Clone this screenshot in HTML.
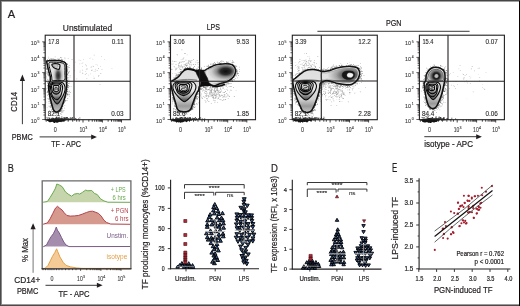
<!DOCTYPE html>
<html><head><meta charset="utf-8"><style>
html,body{margin:0;padding:0;background:#fff;}
svg{display:block;font-family:"Liberation Sans", sans-serif;will-change:transform;}
</style></head><body>
<svg width="520" height="306" viewBox="0 0 520 306">
<defs>
<linearGradient id="lg1" gradientUnits="userSpaceOnUse" x1="0" y1="61" x2="0" y2="112"><stop offset="0" stop-color="#f0f0f0"/><stop offset="0.42" stop-color="#ececec"/><stop offset="0.62" stop-color="#d0d0d0"/><stop offset="0.85" stop-color="#9a9a9a"/><stop offset="1" stop-color="#c0c0c0"/></linearGradient>
<radialGradient id="rg2" gradientUnits="userSpaceOnUse" cx="58.2" cy="75.5" r="9" gradientTransform="translate(58.2 75.5) scale(0.6 1.25) translate(-58.2 -75.5)"><stop offset="0" stop-color="#262626"/><stop offset="0.3" stop-color="#4a4a4a"/><stop offset="0.65" stop-color="#b8b8b8"/><stop offset="1" stop-color="#e2e2e2"/></radialGradient>
<linearGradient id="lg3" gradientUnits="userSpaceOnUse" x1="0" y1="82.0" x2="0" y2="104.0"><stop offset="0" stop-color="#f0f0f0"/><stop offset="0.5" stop-color="#e6e6e6"/><stop offset="0.8" stop-color="#8a8a8a"/><stop offset="1" stop-color="#3a3a3a"/></linearGradient>
<linearGradient id="lg4" gradientUnits="userSpaceOnUse" x1="0" y1="83.0" x2="0" y2="99.8"><stop offset="0" stop-color="#f0f0f0"/><stop offset="0.5" stop-color="#e6e6e6"/><stop offset="0.8" stop-color="#8a8a8a"/><stop offset="1" stop-color="#3a3a3a"/></linearGradient>
<linearGradient id="lg5" gradientUnits="userSpaceOnUse" x1="0" y1="84.0" x2="0" y2="94.2"><stop offset="0" stop-color="#f0f0f0"/><stop offset="0.5" stop-color="#e6e6e6"/><stop offset="0.8" stop-color="#8a8a8a"/><stop offset="1" stop-color="#3a3a3a"/></linearGradient>
<linearGradient id="lg6" gradientUnits="userSpaceOnUse" x1="0" y1="69" x2="0" y2="112"><stop offset="0" stop-color="#dcdcdc"/><stop offset="0.35" stop-color="#e0e0e0"/><stop offset="0.45" stop-color="#e4e4e4"/><stop offset="0.7" stop-color="#cfcfcf"/><stop offset="0.86" stop-color="#9a9a9a"/><stop offset="1" stop-color="#c4c4c4"/></linearGradient>
<radialGradient id="rg7" gradientUnits="userSpaceOnUse" cx="225.7" cy="71.3" r="16" gradientTransform="translate(225.7 71.3) scale(1.15 0.7) translate(-225.7 -71.3)"><stop offset="0" stop-color="#0e0e0e"/><stop offset="0.28" stop-color="#2a2a2a"/><stop offset="0.5" stop-color="#8a8a8a"/><stop offset="0.75" stop-color="#c8c8c8"/><stop offset="1" stop-color="#e2e2e2"/></radialGradient>
<linearGradient id="lg8" gradientUnits="userSpaceOnUse" x1="0" y1="81.2" x2="0" y2="101.7"><stop offset="0" stop-color="#f0f0f0"/><stop offset="0.5" stop-color="#e6e6e6"/><stop offset="0.8" stop-color="#8a8a8a"/><stop offset="1" stop-color="#3a3a3a"/></linearGradient>
<linearGradient id="lg9" gradientUnits="userSpaceOnUse" x1="0" y1="81.7" x2="0" y2="95.6"><stop offset="0" stop-color="#f0f0f0"/><stop offset="0.5" stop-color="#e6e6e6"/><stop offset="0.8" stop-color="#8a8a8a"/><stop offset="1" stop-color="#3a3a3a"/></linearGradient>
<linearGradient id="lg10" gradientUnits="userSpaceOnUse" x1="0" y1="82.8" x2="0" y2="93.3"><stop offset="0" stop-color="#f0f0f0"/><stop offset="0.5" stop-color="#e6e6e6"/><stop offset="0.8" stop-color="#8a8a8a"/><stop offset="1" stop-color="#3a3a3a"/></linearGradient>
<linearGradient id="lg11" gradientUnits="userSpaceOnUse" x1="0" y1="67" x2="0" y2="112"><stop offset="0" stop-color="#dedede"/><stop offset="0.35" stop-color="#e2e2e2"/><stop offset="0.45" stop-color="#e4e4e4"/><stop offset="0.72" stop-color="#cfcfcf"/><stop offset="0.87" stop-color="#9a9a9a"/><stop offset="1" stop-color="#c4c4c4"/></linearGradient>
<radialGradient id="rg12" gradientUnits="userSpaceOnUse" cx="349.2" cy="75.1" r="22" gradientTransform="translate(349.2 75.1) scale(1.0 0.55) translate(-349.2 -75.1)"><stop offset="0" stop-color="#3a3a3a"/><stop offset="0.3" stop-color="#5a5a5a"/><stop offset="0.6" stop-color="#a6a6a6"/><stop offset="1" stop-color="#e4e4e4"/></radialGradient>
<linearGradient id="lg13" gradientUnits="userSpaceOnUse" x1="0" y1="80.8" x2="0" y2="100.0"><stop offset="0" stop-color="#f0f0f0"/><stop offset="0.5" stop-color="#e6e6e6"/><stop offset="0.8" stop-color="#8a8a8a"/><stop offset="1" stop-color="#3a3a3a"/></linearGradient>
<linearGradient id="lg14" gradientUnits="userSpaceOnUse" x1="0" y1="81.6" x2="0" y2="94.6"><stop offset="0" stop-color="#f0f0f0"/><stop offset="0.5" stop-color="#e6e6e6"/><stop offset="0.8" stop-color="#8a8a8a"/><stop offset="1" stop-color="#3a3a3a"/></linearGradient>
<linearGradient id="lg15" gradientUnits="userSpaceOnUse" x1="0" y1="82.6" x2="0" y2="91.8"><stop offset="0" stop-color="#f0f0f0"/><stop offset="0.5" stop-color="#e6e6e6"/><stop offset="0.8" stop-color="#8a8a8a"/><stop offset="1" stop-color="#3a3a3a"/></linearGradient>
<linearGradient id="lg16" gradientUnits="userSpaceOnUse" x1="0" y1="67" x2="0" y2="109"><stop offset="0" stop-color="#e0e0e0"/><stop offset="0.3" stop-color="#c8c8c8"/><stop offset="0.4" stop-color="#dcdcdc"/><stop offset="0.7" stop-color="#cdcdcd"/><stop offset="0.87" stop-color="#9a9a9a"/><stop offset="1" stop-color="#c4c4c4"/></linearGradient>
<radialGradient id="rg17" gradientUnits="userSpaceOnUse" cx="436.2" cy="76" r="8"><stop offset="0" stop-color="#9a9a9a"/><stop offset="0.5" stop-color="#4a4a4a"/><stop offset="0.75" stop-color="#8a8a8a"/><stop offset="1" stop-color="#d6d6d6"/></radialGradient>
<linearGradient id="lg18" gradientUnits="userSpaceOnUse" x1="0" y1="82.0" x2="0" y2="99.6"><stop offset="0" stop-color="#f0f0f0"/><stop offset="0.5" stop-color="#e6e6e6"/><stop offset="0.8" stop-color="#8a8a8a"/><stop offset="1" stop-color="#3a3a3a"/></linearGradient>
<linearGradient id="lg19" gradientUnits="userSpaceOnUse" x1="0" y1="82.7" x2="0" y2="96.8"><stop offset="0" stop-color="#f0f0f0"/><stop offset="0.5" stop-color="#e6e6e6"/><stop offset="0.8" stop-color="#8a8a8a"/><stop offset="1" stop-color="#3a3a3a"/></linearGradient>
<linearGradient id="lg20" gradientUnits="userSpaceOnUse" x1="0" y1="84.2" x2="0" y2="93.8"><stop offset="0" stop-color="#f0f0f0"/><stop offset="0.5" stop-color="#e6e6e6"/><stop offset="0.8" stop-color="#8a8a8a"/><stop offset="1" stop-color="#3a3a3a"/></linearGradient>
<filter id="blur1" x="-50%" y="-50%" width="200%" height="200%"><feGaussianBlur stdDeviation="1.2"/></filter>
</defs>
<rect x="0" y="0" width="520" height="306" fill="#fff"/>
<text x="7.7" y="17.6" font-size="11.4" text-anchor="start" fill="#231f20" stroke="#231f20" stroke-width="0.2" textLength="7.4" lengthAdjust="spacingAndGlyphs">A</text>
<text x="62.8" y="30.8" font-size="9.2" text-anchor="start" fill="#231f20" stroke="#231f20" stroke-width="0.2" textLength="49.4" lengthAdjust="spacingAndGlyphs">Unstimulated</text>
<text x="206.7" y="30.4" font-size="8.6" text-anchor="start" fill="#231f20" stroke="#231f20" stroke-width="0.2" textLength="13.3" lengthAdjust="spacingAndGlyphs">LPS</text>
<text x="386" y="26" font-size="8.2" text-anchor="start" fill="#231f20" stroke="#231f20" stroke-width="0.2" textLength="15.5" lengthAdjust="spacingAndGlyphs">PGN</text>
<line x1="317.4" y1="31.3" x2="469.6" y2="31.3" stroke="#3a3a3a" stroke-width="1"/>
<text x="36.8" y="122.8" font-size="6.2" text-anchor="end" fill="#333" stroke="#333" stroke-width="0.08" textLength="6.0" lengthAdjust="spacingAndGlyphs">10</text>
<text x="37.5" y="120.2" font-size="3.4" text-anchor="start" fill="#333" stroke="#333" stroke-width="0.1">0</text>
<text x="36.8" y="107.6" font-size="6.2" text-anchor="end" fill="#333" stroke="#333" stroke-width="0.08" textLength="6.0" lengthAdjust="spacingAndGlyphs">10</text>
<text x="37.5" y="105.0" font-size="3.4" text-anchor="start" fill="#333" stroke="#333" stroke-width="0.1">1</text>
<text x="36.8" y="91.6" font-size="6.2" text-anchor="end" fill="#333" stroke="#333" stroke-width="0.08" textLength="6.0" lengthAdjust="spacingAndGlyphs">10</text>
<text x="37.5" y="89.0" font-size="3.4" text-anchor="start" fill="#333" stroke="#333" stroke-width="0.1">2</text>
<text x="36.8" y="76.7" font-size="6.2" text-anchor="end" fill="#333" stroke="#333" stroke-width="0.08" textLength="6.0" lengthAdjust="spacingAndGlyphs">10</text>
<text x="37.5" y="74.1" font-size="3.4" text-anchor="start" fill="#333" stroke="#333" stroke-width="0.1">3</text>
<text x="36.8" y="60.8" font-size="6.2" text-anchor="end" fill="#333" stroke="#333" stroke-width="0.08" textLength="6.0" lengthAdjust="spacingAndGlyphs">10</text>
<text x="37.5" y="58.2" font-size="3.4" text-anchor="start" fill="#333" stroke="#333" stroke-width="0.1">4</text>
<text x="36.8" y="45.3" font-size="6.2" text-anchor="end" fill="#333" stroke="#333" stroke-width="0.08" textLength="6.0" lengthAdjust="spacingAndGlyphs">10</text>
<text x="37.5" y="42.7" font-size="3.4" text-anchor="start" fill="#333" stroke="#333" stroke-width="0.1">5</text>
<line x1="42.2" y1="119.5" x2="45.2" y2="119.5" stroke="#231f20" stroke-width="0.7"/>
<line x1="43.400000000000006" y1="115.01" x2="45.2" y2="115.01" stroke="#231f20" stroke-width="0.7"/>
<line x1="43.400000000000006" y1="112.39" x2="45.2" y2="112.39" stroke="#231f20" stroke-width="0.7"/>
<line x1="43.400000000000006" y1="110.53" x2="45.2" y2="110.53" stroke="#231f20" stroke-width="0.7"/>
<line x1="43.400000000000006" y1="109.09" x2="45.2" y2="109.09" stroke="#231f20" stroke-width="0.7"/>
<line x1="43.400000000000006" y1="107.91" x2="45.2" y2="107.91" stroke="#231f20" stroke-width="0.7"/>
<line x1="43.400000000000006" y1="106.91" x2="45.2" y2="106.91" stroke="#231f20" stroke-width="0.7"/>
<line x1="43.400000000000006" y1="106.04" x2="45.2" y2="106.04" stroke="#231f20" stroke-width="0.7"/>
<line x1="43.400000000000006" y1="105.28" x2="45.2" y2="105.28" stroke="#231f20" stroke-width="0.7"/>
<line x1="42.2" y1="104.6" x2="45.2" y2="104.6" stroke="#231f20" stroke-width="0.7"/>
<line x1="43.400000000000006" y1="99.75" x2="45.2" y2="99.75" stroke="#231f20" stroke-width="0.7"/>
<line x1="43.400000000000006" y1="96.92" x2="45.2" y2="96.92" stroke="#231f20" stroke-width="0.7"/>
<line x1="43.400000000000006" y1="94.91" x2="45.2" y2="94.91" stroke="#231f20" stroke-width="0.7"/>
<line x1="43.400000000000006" y1="93.35" x2="45.2" y2="93.35" stroke="#231f20" stroke-width="0.7"/>
<line x1="43.400000000000006" y1="92.07" x2="45.2" y2="92.07" stroke="#231f20" stroke-width="0.7"/>
<line x1="43.400000000000006" y1="90.99" x2="45.2" y2="90.99" stroke="#231f20" stroke-width="0.7"/>
<line x1="43.400000000000006" y1="90.06" x2="45.2" y2="90.06" stroke="#231f20" stroke-width="0.7"/>
<line x1="43.400000000000006" y1="89.24" x2="45.2" y2="89.24" stroke="#231f20" stroke-width="0.7"/>
<line x1="42.2" y1="88.5" x2="45.2" y2="88.5" stroke="#231f20" stroke-width="0.7"/>
<line x1="43.400000000000006" y1="83.71" x2="45.2" y2="83.71" stroke="#231f20" stroke-width="0.7"/>
<line x1="43.400000000000006" y1="80.91" x2="45.2" y2="80.91" stroke="#231f20" stroke-width="0.7"/>
<line x1="43.400000000000006" y1="78.93" x2="45.2" y2="78.93" stroke="#231f20" stroke-width="0.7"/>
<line x1="43.400000000000006" y1="77.39" x2="45.2" y2="77.39" stroke="#231f20" stroke-width="0.7"/>
<line x1="43.400000000000006" y1="76.13" x2="45.2" y2="76.13" stroke="#231f20" stroke-width="0.7"/>
<line x1="43.400000000000006" y1="75.06" x2="45.2" y2="75.06" stroke="#231f20" stroke-width="0.7"/>
<line x1="43.400000000000006" y1="74.14" x2="45.2" y2="74.14" stroke="#231f20" stroke-width="0.7"/>
<line x1="43.400000000000006" y1="73.33" x2="45.2" y2="73.33" stroke="#231f20" stroke-width="0.7"/>
<line x1="42.2" y1="72.6" x2="45.2" y2="72.6" stroke="#231f20" stroke-width="0.7"/>
<line x1="43.400000000000006" y1="68.02" x2="45.2" y2="68.02" stroke="#231f20" stroke-width="0.7"/>
<line x1="43.400000000000006" y1="65.35" x2="45.2" y2="65.35" stroke="#231f20" stroke-width="0.7"/>
<line x1="43.400000000000006" y1="63.45" x2="45.2" y2="63.45" stroke="#231f20" stroke-width="0.7"/>
<line x1="43.400000000000006" y1="61.98" x2="45.2" y2="61.98" stroke="#231f20" stroke-width="0.7"/>
<line x1="43.400000000000006" y1="60.77" x2="45.2" y2="60.77" stroke="#231f20" stroke-width="0.7"/>
<line x1="43.400000000000006" y1="59.75" x2="45.2" y2="59.75" stroke="#231f20" stroke-width="0.7"/>
<line x1="43.400000000000006" y1="58.87" x2="45.2" y2="58.87" stroke="#231f20" stroke-width="0.7"/>
<line x1="43.400000000000006" y1="58.1" x2="45.2" y2="58.1" stroke="#231f20" stroke-width="0.7"/>
<line x1="42.2" y1="57.4" x2="45.2" y2="57.4" stroke="#231f20" stroke-width="0.7"/>
<line x1="43.400000000000006" y1="52.7" x2="45.2" y2="52.7" stroke="#231f20" stroke-width="0.7"/>
<line x1="43.400000000000006" y1="49.96" x2="45.2" y2="49.96" stroke="#231f20" stroke-width="0.7"/>
<line x1="43.400000000000006" y1="48.01" x2="45.2" y2="48.01" stroke="#231f20" stroke-width="0.7"/>
<line x1="43.400000000000006" y1="46.5" x2="45.2" y2="46.5" stroke="#231f20" stroke-width="0.7"/>
<line x1="43.400000000000006" y1="45.26" x2="45.2" y2="45.26" stroke="#231f20" stroke-width="0.7"/>
<line x1="43.400000000000006" y1="44.22" x2="45.2" y2="44.22" stroke="#231f20" stroke-width="0.7"/>
<line x1="43.400000000000006" y1="43.31" x2="45.2" y2="43.31" stroke="#231f20" stroke-width="0.7"/>
<line x1="43.400000000000006" y1="42.51" x2="45.2" y2="42.51" stroke="#231f20" stroke-width="0.7"/>
<line x1="42.2" y1="41.8" x2="45.2" y2="41.8" stroke="#231f20" stroke-width="0.7"/>
<line x1="83.0" y1="119.7" x2="83.0" y2="122.5" stroke="#231f20" stroke-width="0.85"/>
<line x1="88.84" y1="119.7" x2="88.84" y2="121.7" stroke="#231f20" stroke-width="0.85"/>
<line x1="92.26" y1="119.7" x2="92.26" y2="121.7" stroke="#231f20" stroke-width="0.85"/>
<line x1="94.68" y1="119.7" x2="94.68" y2="121.7" stroke="#231f20" stroke-width="0.85"/>
<line x1="96.56" y1="119.7" x2="96.56" y2="121.7" stroke="#231f20" stroke-width="0.85"/>
<line x1="98.1" y1="119.7" x2="98.1" y2="121.7" stroke="#231f20" stroke-width="0.85"/>
<line x1="99.39" y1="119.7" x2="99.39" y2="121.7" stroke="#231f20" stroke-width="0.85"/>
<line x1="100.52" y1="119.7" x2="100.52" y2="121.7" stroke="#231f20" stroke-width="0.85"/>
<line x1="101.51" y1="119.7" x2="101.51" y2="121.7" stroke="#231f20" stroke-width="0.85"/>
<line x1="102.4" y1="119.7" x2="102.4" y2="122.5" stroke="#231f20" stroke-width="0.85"/>
<line x1="108.15" y1="119.7" x2="108.15" y2="121.7" stroke="#231f20" stroke-width="0.85"/>
<line x1="111.51" y1="119.7" x2="111.51" y2="121.7" stroke="#231f20" stroke-width="0.85"/>
<line x1="113.9" y1="119.7" x2="113.9" y2="121.7" stroke="#231f20" stroke-width="0.85"/>
<line x1="115.75" y1="119.7" x2="115.75" y2="121.7" stroke="#231f20" stroke-width="0.85"/>
<line x1="117.26" y1="119.7" x2="117.26" y2="121.7" stroke="#231f20" stroke-width="0.85"/>
<line x1="118.54" y1="119.7" x2="118.54" y2="121.7" stroke="#231f20" stroke-width="0.85"/>
<line x1="119.65" y1="119.7" x2="119.65" y2="121.7" stroke="#231f20" stroke-width="0.85"/>
<line x1="120.63" y1="119.7" x2="120.63" y2="121.7" stroke="#231f20" stroke-width="0.85"/>
<line x1="121.5" y1="119.7" x2="121.5" y2="122.5" stroke="#231f20" stroke-width="0.85"/>
<line x1="46.2" y1="119.7" x2="46.2" y2="121.7" stroke="#231f20" stroke-width="0.85"/>
<line x1="48.7" y1="119.7" x2="48.7" y2="121.7" stroke="#231f20" stroke-width="0.85"/>
<line x1="51.7" y1="119.7" x2="51.7" y2="121.7" stroke="#231f20" stroke-width="0.85"/>
<line x1="54.7" y1="119.7" x2="54.7" y2="121.7" stroke="#231f20" stroke-width="0.85"/>
<line x1="57.7" y1="119.7" x2="57.7" y2="121.7" stroke="#231f20" stroke-width="0.85"/>
<line x1="60.7" y1="119.7" x2="60.7" y2="121.7" stroke="#231f20" stroke-width="0.85"/>
<line x1="64.2" y1="119.7" x2="64.2" y2="121.7" stroke="#231f20" stroke-width="0.85"/>
<line x1="68.2" y1="119.7" x2="68.2" y2="121.7" stroke="#231f20" stroke-width="0.85"/>
<line x1="72.7" y1="119.7" x2="72.7" y2="121.7" stroke="#231f20" stroke-width="0.85"/>
<line x1="76.7" y1="119.7" x2="76.7" y2="121.7" stroke="#231f20" stroke-width="0.85"/>
<line x1="79.2" y1="119.7" x2="79.2" y2="121.7" stroke="#231f20" stroke-width="0.85"/>
<text x="55.3" y="132.3" font-size="6.6" text-anchor="middle" fill="#333" stroke="#333" stroke-width="0.08" textLength="3.0" lengthAdjust="spacingAndGlyphs">0</text>
<text x="82.3" y="132.3" font-size="6.6" text-anchor="middle" fill="#333" stroke="#333" stroke-width="0.08" textLength="5.6" lengthAdjust="spacingAndGlyphs">10</text>
<text x="85.3" y="128.6" font-size="3.6" text-anchor="start" fill="#333" stroke="#333" stroke-width="0.1">3</text>
<text x="101.7" y="132.3" font-size="6.6" text-anchor="middle" fill="#333" stroke="#333" stroke-width="0.08" textLength="5.6" lengthAdjust="spacingAndGlyphs">10</text>
<text x="104.7" y="128.6" font-size="3.6" text-anchor="start" fill="#333" stroke="#333" stroke-width="0.1">4</text>
<text x="120.8" y="132.3" font-size="6.6" text-anchor="middle" fill="#333" stroke="#333" stroke-width="0.08" textLength="5.6" lengthAdjust="spacingAndGlyphs">10</text>
<text x="123.8" y="128.6" font-size="3.6" text-anchor="start" fill="#333" stroke="#333" stroke-width="0.1">5</text>
<text x="162.1" y="122.8" font-size="6.2" text-anchor="end" fill="#333" stroke="#333" stroke-width="0.08" textLength="6.0" lengthAdjust="spacingAndGlyphs">10</text>
<text x="162.8" y="120.2" font-size="3.4" text-anchor="start" fill="#333" stroke="#333" stroke-width="0.1">0</text>
<text x="162.1" y="107.6" font-size="6.2" text-anchor="end" fill="#333" stroke="#333" stroke-width="0.08" textLength="6.0" lengthAdjust="spacingAndGlyphs">10</text>
<text x="162.8" y="105.0" font-size="3.4" text-anchor="start" fill="#333" stroke="#333" stroke-width="0.1">1</text>
<text x="162.1" y="91.6" font-size="6.2" text-anchor="end" fill="#333" stroke="#333" stroke-width="0.08" textLength="6.0" lengthAdjust="spacingAndGlyphs">10</text>
<text x="162.8" y="89.0" font-size="3.4" text-anchor="start" fill="#333" stroke="#333" stroke-width="0.1">2</text>
<text x="162.1" y="76.7" font-size="6.2" text-anchor="end" fill="#333" stroke="#333" stroke-width="0.08" textLength="6.0" lengthAdjust="spacingAndGlyphs">10</text>
<text x="162.8" y="74.1" font-size="3.4" text-anchor="start" fill="#333" stroke="#333" stroke-width="0.1">3</text>
<text x="162.1" y="60.8" font-size="6.2" text-anchor="end" fill="#333" stroke="#333" stroke-width="0.08" textLength="6.0" lengthAdjust="spacingAndGlyphs">10</text>
<text x="162.8" y="58.2" font-size="3.4" text-anchor="start" fill="#333" stroke="#333" stroke-width="0.1">4</text>
<text x="162.1" y="45.3" font-size="6.2" text-anchor="end" fill="#333" stroke="#333" stroke-width="0.08" textLength="6.0" lengthAdjust="spacingAndGlyphs">10</text>
<text x="162.8" y="42.7" font-size="3.4" text-anchor="start" fill="#333" stroke="#333" stroke-width="0.1">5</text>
<line x1="167.5" y1="119.5" x2="170.5" y2="119.5" stroke="#231f20" stroke-width="0.7"/>
<line x1="168.7" y1="115.01" x2="170.5" y2="115.01" stroke="#231f20" stroke-width="0.7"/>
<line x1="168.7" y1="112.39" x2="170.5" y2="112.39" stroke="#231f20" stroke-width="0.7"/>
<line x1="168.7" y1="110.53" x2="170.5" y2="110.53" stroke="#231f20" stroke-width="0.7"/>
<line x1="168.7" y1="109.09" x2="170.5" y2="109.09" stroke="#231f20" stroke-width="0.7"/>
<line x1="168.7" y1="107.91" x2="170.5" y2="107.91" stroke="#231f20" stroke-width="0.7"/>
<line x1="168.7" y1="106.91" x2="170.5" y2="106.91" stroke="#231f20" stroke-width="0.7"/>
<line x1="168.7" y1="106.04" x2="170.5" y2="106.04" stroke="#231f20" stroke-width="0.7"/>
<line x1="168.7" y1="105.28" x2="170.5" y2="105.28" stroke="#231f20" stroke-width="0.7"/>
<line x1="167.5" y1="104.6" x2="170.5" y2="104.6" stroke="#231f20" stroke-width="0.7"/>
<line x1="168.7" y1="99.75" x2="170.5" y2="99.75" stroke="#231f20" stroke-width="0.7"/>
<line x1="168.7" y1="96.92" x2="170.5" y2="96.92" stroke="#231f20" stroke-width="0.7"/>
<line x1="168.7" y1="94.91" x2="170.5" y2="94.91" stroke="#231f20" stroke-width="0.7"/>
<line x1="168.7" y1="93.35" x2="170.5" y2="93.35" stroke="#231f20" stroke-width="0.7"/>
<line x1="168.7" y1="92.07" x2="170.5" y2="92.07" stroke="#231f20" stroke-width="0.7"/>
<line x1="168.7" y1="90.99" x2="170.5" y2="90.99" stroke="#231f20" stroke-width="0.7"/>
<line x1="168.7" y1="90.06" x2="170.5" y2="90.06" stroke="#231f20" stroke-width="0.7"/>
<line x1="168.7" y1="89.24" x2="170.5" y2="89.24" stroke="#231f20" stroke-width="0.7"/>
<line x1="167.5" y1="88.5" x2="170.5" y2="88.5" stroke="#231f20" stroke-width="0.7"/>
<line x1="168.7" y1="83.71" x2="170.5" y2="83.71" stroke="#231f20" stroke-width="0.7"/>
<line x1="168.7" y1="80.91" x2="170.5" y2="80.91" stroke="#231f20" stroke-width="0.7"/>
<line x1="168.7" y1="78.93" x2="170.5" y2="78.93" stroke="#231f20" stroke-width="0.7"/>
<line x1="168.7" y1="77.39" x2="170.5" y2="77.39" stroke="#231f20" stroke-width="0.7"/>
<line x1="168.7" y1="76.13" x2="170.5" y2="76.13" stroke="#231f20" stroke-width="0.7"/>
<line x1="168.7" y1="75.06" x2="170.5" y2="75.06" stroke="#231f20" stroke-width="0.7"/>
<line x1="168.7" y1="74.14" x2="170.5" y2="74.14" stroke="#231f20" stroke-width="0.7"/>
<line x1="168.7" y1="73.33" x2="170.5" y2="73.33" stroke="#231f20" stroke-width="0.7"/>
<line x1="167.5" y1="72.6" x2="170.5" y2="72.6" stroke="#231f20" stroke-width="0.7"/>
<line x1="168.7" y1="68.02" x2="170.5" y2="68.02" stroke="#231f20" stroke-width="0.7"/>
<line x1="168.7" y1="65.35" x2="170.5" y2="65.35" stroke="#231f20" stroke-width="0.7"/>
<line x1="168.7" y1="63.45" x2="170.5" y2="63.45" stroke="#231f20" stroke-width="0.7"/>
<line x1="168.7" y1="61.98" x2="170.5" y2="61.98" stroke="#231f20" stroke-width="0.7"/>
<line x1="168.7" y1="60.77" x2="170.5" y2="60.77" stroke="#231f20" stroke-width="0.7"/>
<line x1="168.7" y1="59.75" x2="170.5" y2="59.75" stroke="#231f20" stroke-width="0.7"/>
<line x1="168.7" y1="58.87" x2="170.5" y2="58.87" stroke="#231f20" stroke-width="0.7"/>
<line x1="168.7" y1="58.1" x2="170.5" y2="58.1" stroke="#231f20" stroke-width="0.7"/>
<line x1="167.5" y1="57.4" x2="170.5" y2="57.4" stroke="#231f20" stroke-width="0.7"/>
<line x1="168.7" y1="52.7" x2="170.5" y2="52.7" stroke="#231f20" stroke-width="0.7"/>
<line x1="168.7" y1="49.96" x2="170.5" y2="49.96" stroke="#231f20" stroke-width="0.7"/>
<line x1="168.7" y1="48.01" x2="170.5" y2="48.01" stroke="#231f20" stroke-width="0.7"/>
<line x1="168.7" y1="46.5" x2="170.5" y2="46.5" stroke="#231f20" stroke-width="0.7"/>
<line x1="168.7" y1="45.26" x2="170.5" y2="45.26" stroke="#231f20" stroke-width="0.7"/>
<line x1="168.7" y1="44.22" x2="170.5" y2="44.22" stroke="#231f20" stroke-width="0.7"/>
<line x1="168.7" y1="43.31" x2="170.5" y2="43.31" stroke="#231f20" stroke-width="0.7"/>
<line x1="168.7" y1="42.51" x2="170.5" y2="42.51" stroke="#231f20" stroke-width="0.7"/>
<line x1="167.5" y1="41.8" x2="170.5" y2="41.8" stroke="#231f20" stroke-width="0.7"/>
<line x1="208.3" y1="119.7" x2="208.3" y2="122.5" stroke="#231f20" stroke-width="0.85"/>
<line x1="214.14" y1="119.7" x2="214.14" y2="121.7" stroke="#231f20" stroke-width="0.85"/>
<line x1="217.56" y1="119.7" x2="217.56" y2="121.7" stroke="#231f20" stroke-width="0.85"/>
<line x1="219.98" y1="119.7" x2="219.98" y2="121.7" stroke="#231f20" stroke-width="0.85"/>
<line x1="221.86" y1="119.7" x2="221.86" y2="121.7" stroke="#231f20" stroke-width="0.85"/>
<line x1="223.4" y1="119.7" x2="223.4" y2="121.7" stroke="#231f20" stroke-width="0.85"/>
<line x1="224.69" y1="119.7" x2="224.69" y2="121.7" stroke="#231f20" stroke-width="0.85"/>
<line x1="225.82" y1="119.7" x2="225.82" y2="121.7" stroke="#231f20" stroke-width="0.85"/>
<line x1="226.81" y1="119.7" x2="226.81" y2="121.7" stroke="#231f20" stroke-width="0.85"/>
<line x1="227.7" y1="119.7" x2="227.7" y2="122.5" stroke="#231f20" stroke-width="0.85"/>
<line x1="233.45" y1="119.7" x2="233.45" y2="121.7" stroke="#231f20" stroke-width="0.85"/>
<line x1="236.81" y1="119.7" x2="236.81" y2="121.7" stroke="#231f20" stroke-width="0.85"/>
<line x1="239.2" y1="119.7" x2="239.2" y2="121.7" stroke="#231f20" stroke-width="0.85"/>
<line x1="241.05" y1="119.7" x2="241.05" y2="121.7" stroke="#231f20" stroke-width="0.85"/>
<line x1="242.56" y1="119.7" x2="242.56" y2="121.7" stroke="#231f20" stroke-width="0.85"/>
<line x1="243.84" y1="119.7" x2="243.84" y2="121.7" stroke="#231f20" stroke-width="0.85"/>
<line x1="244.95" y1="119.7" x2="244.95" y2="121.7" stroke="#231f20" stroke-width="0.85"/>
<line x1="245.93" y1="119.7" x2="245.93" y2="121.7" stroke="#231f20" stroke-width="0.85"/>
<line x1="246.8" y1="119.7" x2="246.8" y2="122.5" stroke="#231f20" stroke-width="0.85"/>
<line x1="171.5" y1="119.7" x2="171.5" y2="121.7" stroke="#231f20" stroke-width="0.85"/>
<line x1="174.0" y1="119.7" x2="174.0" y2="121.7" stroke="#231f20" stroke-width="0.85"/>
<line x1="177.0" y1="119.7" x2="177.0" y2="121.7" stroke="#231f20" stroke-width="0.85"/>
<line x1="180.0" y1="119.7" x2="180.0" y2="121.7" stroke="#231f20" stroke-width="0.85"/>
<line x1="183.0" y1="119.7" x2="183.0" y2="121.7" stroke="#231f20" stroke-width="0.85"/>
<line x1="186.0" y1="119.7" x2="186.0" y2="121.7" stroke="#231f20" stroke-width="0.85"/>
<line x1="189.5" y1="119.7" x2="189.5" y2="121.7" stroke="#231f20" stroke-width="0.85"/>
<line x1="193.5" y1="119.7" x2="193.5" y2="121.7" stroke="#231f20" stroke-width="0.85"/>
<line x1="198.0" y1="119.7" x2="198.0" y2="121.7" stroke="#231f20" stroke-width="0.85"/>
<line x1="202.0" y1="119.7" x2="202.0" y2="121.7" stroke="#231f20" stroke-width="0.85"/>
<line x1="204.5" y1="119.7" x2="204.5" y2="121.7" stroke="#231f20" stroke-width="0.85"/>
<text x="180.6" y="132.3" font-size="6.6" text-anchor="middle" fill="#333" stroke="#333" stroke-width="0.08" textLength="3.0" lengthAdjust="spacingAndGlyphs">0</text>
<text x="207.6" y="132.3" font-size="6.6" text-anchor="middle" fill="#333" stroke="#333" stroke-width="0.08" textLength="5.6" lengthAdjust="spacingAndGlyphs">10</text>
<text x="210.6" y="128.6" font-size="3.6" text-anchor="start" fill="#333" stroke="#333" stroke-width="0.1">3</text>
<text x="227.0" y="132.3" font-size="6.6" text-anchor="middle" fill="#333" stroke="#333" stroke-width="0.08" textLength="5.6" lengthAdjust="spacingAndGlyphs">10</text>
<text x="230.0" y="128.6" font-size="3.6" text-anchor="start" fill="#333" stroke="#333" stroke-width="0.1">4</text>
<text x="246.1" y="132.3" font-size="6.6" text-anchor="middle" fill="#333" stroke="#333" stroke-width="0.08" textLength="5.6" lengthAdjust="spacingAndGlyphs">10</text>
<text x="249.1" y="128.6" font-size="3.6" text-anchor="start" fill="#333" stroke="#333" stroke-width="0.1">5</text>
<text x="283.9" y="122.8" font-size="6.2" text-anchor="end" fill="#333" stroke="#333" stroke-width="0.08" textLength="6.0" lengthAdjust="spacingAndGlyphs">10</text>
<text x="284.6" y="120.2" font-size="3.4" text-anchor="start" fill="#333" stroke="#333" stroke-width="0.1">0</text>
<text x="283.9" y="107.6" font-size="6.2" text-anchor="end" fill="#333" stroke="#333" stroke-width="0.08" textLength="6.0" lengthAdjust="spacingAndGlyphs">10</text>
<text x="284.6" y="105.0" font-size="3.4" text-anchor="start" fill="#333" stroke="#333" stroke-width="0.1">1</text>
<text x="283.9" y="91.6" font-size="6.2" text-anchor="end" fill="#333" stroke="#333" stroke-width="0.08" textLength="6.0" lengthAdjust="spacingAndGlyphs">10</text>
<text x="284.6" y="89.0" font-size="3.4" text-anchor="start" fill="#333" stroke="#333" stroke-width="0.1">2</text>
<text x="283.9" y="76.7" font-size="6.2" text-anchor="end" fill="#333" stroke="#333" stroke-width="0.08" textLength="6.0" lengthAdjust="spacingAndGlyphs">10</text>
<text x="284.6" y="74.1" font-size="3.4" text-anchor="start" fill="#333" stroke="#333" stroke-width="0.1">3</text>
<text x="283.9" y="60.8" font-size="6.2" text-anchor="end" fill="#333" stroke="#333" stroke-width="0.08" textLength="6.0" lengthAdjust="spacingAndGlyphs">10</text>
<text x="284.6" y="58.2" font-size="3.4" text-anchor="start" fill="#333" stroke="#333" stroke-width="0.1">4</text>
<text x="283.9" y="45.3" font-size="6.2" text-anchor="end" fill="#333" stroke="#333" stroke-width="0.08" textLength="6.0" lengthAdjust="spacingAndGlyphs">10</text>
<text x="284.6" y="42.7" font-size="3.4" text-anchor="start" fill="#333" stroke="#333" stroke-width="0.1">5</text>
<line x1="289.3" y1="119.5" x2="292.3" y2="119.5" stroke="#231f20" stroke-width="0.7"/>
<line x1="290.5" y1="115.01" x2="292.3" y2="115.01" stroke="#231f20" stroke-width="0.7"/>
<line x1="290.5" y1="112.39" x2="292.3" y2="112.39" stroke="#231f20" stroke-width="0.7"/>
<line x1="290.5" y1="110.53" x2="292.3" y2="110.53" stroke="#231f20" stroke-width="0.7"/>
<line x1="290.5" y1="109.09" x2="292.3" y2="109.09" stroke="#231f20" stroke-width="0.7"/>
<line x1="290.5" y1="107.91" x2="292.3" y2="107.91" stroke="#231f20" stroke-width="0.7"/>
<line x1="290.5" y1="106.91" x2="292.3" y2="106.91" stroke="#231f20" stroke-width="0.7"/>
<line x1="290.5" y1="106.04" x2="292.3" y2="106.04" stroke="#231f20" stroke-width="0.7"/>
<line x1="290.5" y1="105.28" x2="292.3" y2="105.28" stroke="#231f20" stroke-width="0.7"/>
<line x1="289.3" y1="104.6" x2="292.3" y2="104.6" stroke="#231f20" stroke-width="0.7"/>
<line x1="290.5" y1="99.75" x2="292.3" y2="99.75" stroke="#231f20" stroke-width="0.7"/>
<line x1="290.5" y1="96.92" x2="292.3" y2="96.92" stroke="#231f20" stroke-width="0.7"/>
<line x1="290.5" y1="94.91" x2="292.3" y2="94.91" stroke="#231f20" stroke-width="0.7"/>
<line x1="290.5" y1="93.35" x2="292.3" y2="93.35" stroke="#231f20" stroke-width="0.7"/>
<line x1="290.5" y1="92.07" x2="292.3" y2="92.07" stroke="#231f20" stroke-width="0.7"/>
<line x1="290.5" y1="90.99" x2="292.3" y2="90.99" stroke="#231f20" stroke-width="0.7"/>
<line x1="290.5" y1="90.06" x2="292.3" y2="90.06" stroke="#231f20" stroke-width="0.7"/>
<line x1="290.5" y1="89.24" x2="292.3" y2="89.24" stroke="#231f20" stroke-width="0.7"/>
<line x1="289.3" y1="88.5" x2="292.3" y2="88.5" stroke="#231f20" stroke-width="0.7"/>
<line x1="290.5" y1="83.71" x2="292.3" y2="83.71" stroke="#231f20" stroke-width="0.7"/>
<line x1="290.5" y1="80.91" x2="292.3" y2="80.91" stroke="#231f20" stroke-width="0.7"/>
<line x1="290.5" y1="78.93" x2="292.3" y2="78.93" stroke="#231f20" stroke-width="0.7"/>
<line x1="290.5" y1="77.39" x2="292.3" y2="77.39" stroke="#231f20" stroke-width="0.7"/>
<line x1="290.5" y1="76.13" x2="292.3" y2="76.13" stroke="#231f20" stroke-width="0.7"/>
<line x1="290.5" y1="75.06" x2="292.3" y2="75.06" stroke="#231f20" stroke-width="0.7"/>
<line x1="290.5" y1="74.14" x2="292.3" y2="74.14" stroke="#231f20" stroke-width="0.7"/>
<line x1="290.5" y1="73.33" x2="292.3" y2="73.33" stroke="#231f20" stroke-width="0.7"/>
<line x1="289.3" y1="72.6" x2="292.3" y2="72.6" stroke="#231f20" stroke-width="0.7"/>
<line x1="290.5" y1="68.02" x2="292.3" y2="68.02" stroke="#231f20" stroke-width="0.7"/>
<line x1="290.5" y1="65.35" x2="292.3" y2="65.35" stroke="#231f20" stroke-width="0.7"/>
<line x1="290.5" y1="63.45" x2="292.3" y2="63.45" stroke="#231f20" stroke-width="0.7"/>
<line x1="290.5" y1="61.98" x2="292.3" y2="61.98" stroke="#231f20" stroke-width="0.7"/>
<line x1="290.5" y1="60.77" x2="292.3" y2="60.77" stroke="#231f20" stroke-width="0.7"/>
<line x1="290.5" y1="59.75" x2="292.3" y2="59.75" stroke="#231f20" stroke-width="0.7"/>
<line x1="290.5" y1="58.87" x2="292.3" y2="58.87" stroke="#231f20" stroke-width="0.7"/>
<line x1="290.5" y1="58.1" x2="292.3" y2="58.1" stroke="#231f20" stroke-width="0.7"/>
<line x1="289.3" y1="57.4" x2="292.3" y2="57.4" stroke="#231f20" stroke-width="0.7"/>
<line x1="290.5" y1="52.7" x2="292.3" y2="52.7" stroke="#231f20" stroke-width="0.7"/>
<line x1="290.5" y1="49.96" x2="292.3" y2="49.96" stroke="#231f20" stroke-width="0.7"/>
<line x1="290.5" y1="48.01" x2="292.3" y2="48.01" stroke="#231f20" stroke-width="0.7"/>
<line x1="290.5" y1="46.5" x2="292.3" y2="46.5" stroke="#231f20" stroke-width="0.7"/>
<line x1="290.5" y1="45.26" x2="292.3" y2="45.26" stroke="#231f20" stroke-width="0.7"/>
<line x1="290.5" y1="44.22" x2="292.3" y2="44.22" stroke="#231f20" stroke-width="0.7"/>
<line x1="290.5" y1="43.31" x2="292.3" y2="43.31" stroke="#231f20" stroke-width="0.7"/>
<line x1="290.5" y1="42.51" x2="292.3" y2="42.51" stroke="#231f20" stroke-width="0.7"/>
<line x1="289.3" y1="41.8" x2="292.3" y2="41.8" stroke="#231f20" stroke-width="0.7"/>
<line x1="330.1" y1="119.7" x2="330.1" y2="122.5" stroke="#231f20" stroke-width="0.85"/>
<line x1="335.94" y1="119.7" x2="335.94" y2="121.7" stroke="#231f20" stroke-width="0.85"/>
<line x1="339.36" y1="119.7" x2="339.36" y2="121.7" stroke="#231f20" stroke-width="0.85"/>
<line x1="341.78" y1="119.7" x2="341.78" y2="121.7" stroke="#231f20" stroke-width="0.85"/>
<line x1="343.66" y1="119.7" x2="343.66" y2="121.7" stroke="#231f20" stroke-width="0.85"/>
<line x1="345.2" y1="119.7" x2="345.2" y2="121.7" stroke="#231f20" stroke-width="0.85"/>
<line x1="346.49" y1="119.7" x2="346.49" y2="121.7" stroke="#231f20" stroke-width="0.85"/>
<line x1="347.62" y1="119.7" x2="347.62" y2="121.7" stroke="#231f20" stroke-width="0.85"/>
<line x1="348.61" y1="119.7" x2="348.61" y2="121.7" stroke="#231f20" stroke-width="0.85"/>
<line x1="349.5" y1="119.7" x2="349.5" y2="122.5" stroke="#231f20" stroke-width="0.85"/>
<line x1="355.25" y1="119.7" x2="355.25" y2="121.7" stroke="#231f20" stroke-width="0.85"/>
<line x1="358.61" y1="119.7" x2="358.61" y2="121.7" stroke="#231f20" stroke-width="0.85"/>
<line x1="361.0" y1="119.7" x2="361.0" y2="121.7" stroke="#231f20" stroke-width="0.85"/>
<line x1="362.85" y1="119.7" x2="362.85" y2="121.7" stroke="#231f20" stroke-width="0.85"/>
<line x1="364.36" y1="119.7" x2="364.36" y2="121.7" stroke="#231f20" stroke-width="0.85"/>
<line x1="365.64" y1="119.7" x2="365.64" y2="121.7" stroke="#231f20" stroke-width="0.85"/>
<line x1="366.75" y1="119.7" x2="366.75" y2="121.7" stroke="#231f20" stroke-width="0.85"/>
<line x1="367.73" y1="119.7" x2="367.73" y2="121.7" stroke="#231f20" stroke-width="0.85"/>
<line x1="368.6" y1="119.7" x2="368.6" y2="122.5" stroke="#231f20" stroke-width="0.85"/>
<line x1="293.3" y1="119.7" x2="293.3" y2="121.7" stroke="#231f20" stroke-width="0.85"/>
<line x1="295.8" y1="119.7" x2="295.8" y2="121.7" stroke="#231f20" stroke-width="0.85"/>
<line x1="298.8" y1="119.7" x2="298.8" y2="121.7" stroke="#231f20" stroke-width="0.85"/>
<line x1="301.8" y1="119.7" x2="301.8" y2="121.7" stroke="#231f20" stroke-width="0.85"/>
<line x1="304.8" y1="119.7" x2="304.8" y2="121.7" stroke="#231f20" stroke-width="0.85"/>
<line x1="307.8" y1="119.7" x2="307.8" y2="121.7" stroke="#231f20" stroke-width="0.85"/>
<line x1="311.3" y1="119.7" x2="311.3" y2="121.7" stroke="#231f20" stroke-width="0.85"/>
<line x1="315.3" y1="119.7" x2="315.3" y2="121.7" stroke="#231f20" stroke-width="0.85"/>
<line x1="319.8" y1="119.7" x2="319.8" y2="121.7" stroke="#231f20" stroke-width="0.85"/>
<line x1="323.8" y1="119.7" x2="323.8" y2="121.7" stroke="#231f20" stroke-width="0.85"/>
<line x1="326.3" y1="119.7" x2="326.3" y2="121.7" stroke="#231f20" stroke-width="0.85"/>
<text x="302.4" y="132.3" font-size="6.6" text-anchor="middle" fill="#333" stroke="#333" stroke-width="0.08" textLength="3.0" lengthAdjust="spacingAndGlyphs">0</text>
<text x="329.4" y="132.3" font-size="6.6" text-anchor="middle" fill="#333" stroke="#333" stroke-width="0.08" textLength="5.6" lengthAdjust="spacingAndGlyphs">10</text>
<text x="332.4" y="128.6" font-size="3.6" text-anchor="start" fill="#333" stroke="#333" stroke-width="0.1">3</text>
<text x="348.8" y="132.3" font-size="6.6" text-anchor="middle" fill="#333" stroke="#333" stroke-width="0.08" textLength="5.6" lengthAdjust="spacingAndGlyphs">10</text>
<text x="351.8" y="128.6" font-size="3.6" text-anchor="start" fill="#333" stroke="#333" stroke-width="0.1">4</text>
<text x="367.9" y="132.3" font-size="6.6" text-anchor="middle" fill="#333" stroke="#333" stroke-width="0.08" textLength="5.6" lengthAdjust="spacingAndGlyphs">10</text>
<text x="370.9" y="128.6" font-size="3.6" text-anchor="start" fill="#333" stroke="#333" stroke-width="0.1">5</text>
<text x="411.0" y="122.8" font-size="6.2" text-anchor="end" fill="#333" stroke="#333" stroke-width="0.08" textLength="6.0" lengthAdjust="spacingAndGlyphs">10</text>
<text x="411.7" y="120.2" font-size="3.4" text-anchor="start" fill="#333" stroke="#333" stroke-width="0.1">0</text>
<text x="411.0" y="107.6" font-size="6.2" text-anchor="end" fill="#333" stroke="#333" stroke-width="0.08" textLength="6.0" lengthAdjust="spacingAndGlyphs">10</text>
<text x="411.7" y="105.0" font-size="3.4" text-anchor="start" fill="#333" stroke="#333" stroke-width="0.1">1</text>
<text x="411.0" y="91.6" font-size="6.2" text-anchor="end" fill="#333" stroke="#333" stroke-width="0.08" textLength="6.0" lengthAdjust="spacingAndGlyphs">10</text>
<text x="411.7" y="89.0" font-size="3.4" text-anchor="start" fill="#333" stroke="#333" stroke-width="0.1">2</text>
<text x="411.0" y="76.7" font-size="6.2" text-anchor="end" fill="#333" stroke="#333" stroke-width="0.08" textLength="6.0" lengthAdjust="spacingAndGlyphs">10</text>
<text x="411.7" y="74.1" font-size="3.4" text-anchor="start" fill="#333" stroke="#333" stroke-width="0.1">3</text>
<text x="411.0" y="60.8" font-size="6.2" text-anchor="end" fill="#333" stroke="#333" stroke-width="0.08" textLength="6.0" lengthAdjust="spacingAndGlyphs">10</text>
<text x="411.7" y="58.2" font-size="3.4" text-anchor="start" fill="#333" stroke="#333" stroke-width="0.1">4</text>
<text x="411.0" y="45.3" font-size="6.2" text-anchor="end" fill="#333" stroke="#333" stroke-width="0.08" textLength="6.0" lengthAdjust="spacingAndGlyphs">10</text>
<text x="411.7" y="42.7" font-size="3.4" text-anchor="start" fill="#333" stroke="#333" stroke-width="0.1">5</text>
<line x1="416.4" y1="119.5" x2="419.4" y2="119.5" stroke="#231f20" stroke-width="0.7"/>
<line x1="417.59999999999997" y1="115.01" x2="419.4" y2="115.01" stroke="#231f20" stroke-width="0.7"/>
<line x1="417.59999999999997" y1="112.39" x2="419.4" y2="112.39" stroke="#231f20" stroke-width="0.7"/>
<line x1="417.59999999999997" y1="110.53" x2="419.4" y2="110.53" stroke="#231f20" stroke-width="0.7"/>
<line x1="417.59999999999997" y1="109.09" x2="419.4" y2="109.09" stroke="#231f20" stroke-width="0.7"/>
<line x1="417.59999999999997" y1="107.91" x2="419.4" y2="107.91" stroke="#231f20" stroke-width="0.7"/>
<line x1="417.59999999999997" y1="106.91" x2="419.4" y2="106.91" stroke="#231f20" stroke-width="0.7"/>
<line x1="417.59999999999997" y1="106.04" x2="419.4" y2="106.04" stroke="#231f20" stroke-width="0.7"/>
<line x1="417.59999999999997" y1="105.28" x2="419.4" y2="105.28" stroke="#231f20" stroke-width="0.7"/>
<line x1="416.4" y1="104.6" x2="419.4" y2="104.6" stroke="#231f20" stroke-width="0.7"/>
<line x1="417.59999999999997" y1="99.75" x2="419.4" y2="99.75" stroke="#231f20" stroke-width="0.7"/>
<line x1="417.59999999999997" y1="96.92" x2="419.4" y2="96.92" stroke="#231f20" stroke-width="0.7"/>
<line x1="417.59999999999997" y1="94.91" x2="419.4" y2="94.91" stroke="#231f20" stroke-width="0.7"/>
<line x1="417.59999999999997" y1="93.35" x2="419.4" y2="93.35" stroke="#231f20" stroke-width="0.7"/>
<line x1="417.59999999999997" y1="92.07" x2="419.4" y2="92.07" stroke="#231f20" stroke-width="0.7"/>
<line x1="417.59999999999997" y1="90.99" x2="419.4" y2="90.99" stroke="#231f20" stroke-width="0.7"/>
<line x1="417.59999999999997" y1="90.06" x2="419.4" y2="90.06" stroke="#231f20" stroke-width="0.7"/>
<line x1="417.59999999999997" y1="89.24" x2="419.4" y2="89.24" stroke="#231f20" stroke-width="0.7"/>
<line x1="416.4" y1="88.5" x2="419.4" y2="88.5" stroke="#231f20" stroke-width="0.7"/>
<line x1="417.59999999999997" y1="83.71" x2="419.4" y2="83.71" stroke="#231f20" stroke-width="0.7"/>
<line x1="417.59999999999997" y1="80.91" x2="419.4" y2="80.91" stroke="#231f20" stroke-width="0.7"/>
<line x1="417.59999999999997" y1="78.93" x2="419.4" y2="78.93" stroke="#231f20" stroke-width="0.7"/>
<line x1="417.59999999999997" y1="77.39" x2="419.4" y2="77.39" stroke="#231f20" stroke-width="0.7"/>
<line x1="417.59999999999997" y1="76.13" x2="419.4" y2="76.13" stroke="#231f20" stroke-width="0.7"/>
<line x1="417.59999999999997" y1="75.06" x2="419.4" y2="75.06" stroke="#231f20" stroke-width="0.7"/>
<line x1="417.59999999999997" y1="74.14" x2="419.4" y2="74.14" stroke="#231f20" stroke-width="0.7"/>
<line x1="417.59999999999997" y1="73.33" x2="419.4" y2="73.33" stroke="#231f20" stroke-width="0.7"/>
<line x1="416.4" y1="72.6" x2="419.4" y2="72.6" stroke="#231f20" stroke-width="0.7"/>
<line x1="417.59999999999997" y1="68.02" x2="419.4" y2="68.02" stroke="#231f20" stroke-width="0.7"/>
<line x1="417.59999999999997" y1="65.35" x2="419.4" y2="65.35" stroke="#231f20" stroke-width="0.7"/>
<line x1="417.59999999999997" y1="63.45" x2="419.4" y2="63.45" stroke="#231f20" stroke-width="0.7"/>
<line x1="417.59999999999997" y1="61.98" x2="419.4" y2="61.98" stroke="#231f20" stroke-width="0.7"/>
<line x1="417.59999999999997" y1="60.77" x2="419.4" y2="60.77" stroke="#231f20" stroke-width="0.7"/>
<line x1="417.59999999999997" y1="59.75" x2="419.4" y2="59.75" stroke="#231f20" stroke-width="0.7"/>
<line x1="417.59999999999997" y1="58.87" x2="419.4" y2="58.87" stroke="#231f20" stroke-width="0.7"/>
<line x1="417.59999999999997" y1="58.1" x2="419.4" y2="58.1" stroke="#231f20" stroke-width="0.7"/>
<line x1="416.4" y1="57.4" x2="419.4" y2="57.4" stroke="#231f20" stroke-width="0.7"/>
<line x1="417.59999999999997" y1="52.7" x2="419.4" y2="52.7" stroke="#231f20" stroke-width="0.7"/>
<line x1="417.59999999999997" y1="49.96" x2="419.4" y2="49.96" stroke="#231f20" stroke-width="0.7"/>
<line x1="417.59999999999997" y1="48.01" x2="419.4" y2="48.01" stroke="#231f20" stroke-width="0.7"/>
<line x1="417.59999999999997" y1="46.5" x2="419.4" y2="46.5" stroke="#231f20" stroke-width="0.7"/>
<line x1="417.59999999999997" y1="45.26" x2="419.4" y2="45.26" stroke="#231f20" stroke-width="0.7"/>
<line x1="417.59999999999997" y1="44.22" x2="419.4" y2="44.22" stroke="#231f20" stroke-width="0.7"/>
<line x1="417.59999999999997" y1="43.31" x2="419.4" y2="43.31" stroke="#231f20" stroke-width="0.7"/>
<line x1="417.59999999999997" y1="42.51" x2="419.4" y2="42.51" stroke="#231f20" stroke-width="0.7"/>
<line x1="416.4" y1="41.8" x2="419.4" y2="41.8" stroke="#231f20" stroke-width="0.7"/>
<line x1="457.2" y1="119.7" x2="457.2" y2="122.5" stroke="#231f20" stroke-width="0.85"/>
<line x1="463.04" y1="119.7" x2="463.04" y2="121.7" stroke="#231f20" stroke-width="0.85"/>
<line x1="466.46" y1="119.7" x2="466.46" y2="121.7" stroke="#231f20" stroke-width="0.85"/>
<line x1="468.88" y1="119.7" x2="468.88" y2="121.7" stroke="#231f20" stroke-width="0.85"/>
<line x1="470.76" y1="119.7" x2="470.76" y2="121.7" stroke="#231f20" stroke-width="0.85"/>
<line x1="472.3" y1="119.7" x2="472.3" y2="121.7" stroke="#231f20" stroke-width="0.85"/>
<line x1="473.59" y1="119.7" x2="473.59" y2="121.7" stroke="#231f20" stroke-width="0.85"/>
<line x1="474.72" y1="119.7" x2="474.72" y2="121.7" stroke="#231f20" stroke-width="0.85"/>
<line x1="475.71" y1="119.7" x2="475.71" y2="121.7" stroke="#231f20" stroke-width="0.85"/>
<line x1="476.6" y1="119.7" x2="476.6" y2="122.5" stroke="#231f20" stroke-width="0.85"/>
<line x1="482.35" y1="119.7" x2="482.35" y2="121.7" stroke="#231f20" stroke-width="0.85"/>
<line x1="485.71" y1="119.7" x2="485.71" y2="121.7" stroke="#231f20" stroke-width="0.85"/>
<line x1="488.1" y1="119.7" x2="488.1" y2="121.7" stroke="#231f20" stroke-width="0.85"/>
<line x1="489.95" y1="119.7" x2="489.95" y2="121.7" stroke="#231f20" stroke-width="0.85"/>
<line x1="491.46" y1="119.7" x2="491.46" y2="121.7" stroke="#231f20" stroke-width="0.85"/>
<line x1="492.74" y1="119.7" x2="492.74" y2="121.7" stroke="#231f20" stroke-width="0.85"/>
<line x1="493.85" y1="119.7" x2="493.85" y2="121.7" stroke="#231f20" stroke-width="0.85"/>
<line x1="494.83" y1="119.7" x2="494.83" y2="121.7" stroke="#231f20" stroke-width="0.85"/>
<line x1="495.7" y1="119.7" x2="495.7" y2="122.5" stroke="#231f20" stroke-width="0.85"/>
<line x1="420.4" y1="119.7" x2="420.4" y2="121.7" stroke="#231f20" stroke-width="0.85"/>
<line x1="422.9" y1="119.7" x2="422.9" y2="121.7" stroke="#231f20" stroke-width="0.85"/>
<line x1="425.9" y1="119.7" x2="425.9" y2="121.7" stroke="#231f20" stroke-width="0.85"/>
<line x1="428.9" y1="119.7" x2="428.9" y2="121.7" stroke="#231f20" stroke-width="0.85"/>
<line x1="431.9" y1="119.7" x2="431.9" y2="121.7" stroke="#231f20" stroke-width="0.85"/>
<line x1="434.9" y1="119.7" x2="434.9" y2="121.7" stroke="#231f20" stroke-width="0.85"/>
<line x1="438.4" y1="119.7" x2="438.4" y2="121.7" stroke="#231f20" stroke-width="0.85"/>
<line x1="442.4" y1="119.7" x2="442.4" y2="121.7" stroke="#231f20" stroke-width="0.85"/>
<line x1="446.9" y1="119.7" x2="446.9" y2="121.7" stroke="#231f20" stroke-width="0.85"/>
<line x1="450.9" y1="119.7" x2="450.9" y2="121.7" stroke="#231f20" stroke-width="0.85"/>
<line x1="453.4" y1="119.7" x2="453.4" y2="121.7" stroke="#231f20" stroke-width="0.85"/>
<text x="429.5" y="132.3" font-size="6.6" text-anchor="middle" fill="#333" stroke="#333" stroke-width="0.08" textLength="3.0" lengthAdjust="spacingAndGlyphs">0</text>
<text x="456.5" y="132.3" font-size="6.6" text-anchor="middle" fill="#333" stroke="#333" stroke-width="0.08" textLength="5.6" lengthAdjust="spacingAndGlyphs">10</text>
<text x="459.5" y="128.6" font-size="3.6" text-anchor="start" fill="#333" stroke="#333" stroke-width="0.1">3</text>
<text x="475.9" y="132.3" font-size="6.6" text-anchor="middle" fill="#333" stroke="#333" stroke-width="0.08" textLength="5.6" lengthAdjust="spacingAndGlyphs">10</text>
<text x="478.9" y="128.6" font-size="3.6" text-anchor="start" fill="#333" stroke="#333" stroke-width="0.1">4</text>
<text x="495.0" y="132.3" font-size="6.6" text-anchor="middle" fill="#333" stroke="#333" stroke-width="0.08" textLength="5.6" lengthAdjust="spacingAndGlyphs">10</text>
<text x="498.0" y="128.6" font-size="3.6" text-anchor="start" fill="#333" stroke="#333" stroke-width="0.1">5</text>
<path fill="rgb(25,25,25)" d="M65.5 117.8h0.9v0.9h-0.9zM62.5 117.7h0.9v0.9h-0.9zM49.3 117.7h0.9v0.9h-0.9zM57.3 119.1h0.9v0.9h-0.9zM60.9 117.8h0.9v0.9h-0.9zM58.5 118.6h0.9v0.9h-0.9zM56.0 117.1h0.9v0.9h-0.9zM65.8 117.0h0.9v0.9h-0.9zM47.5 117.5h0.9v0.9h-0.9zM57.0 118.3h0.9v0.9h-0.9zM50.8 117.9h0.9v0.9h-0.9zM51.5 118.5h0.9v0.9h-0.9zM59.5 118.8h0.9v0.9h-0.9zM61.1 118.4h0.9v0.9h-0.9zM62.8 118.9h0.9v0.9h-0.9zM64.4 118.2h0.9v0.9h-0.9zM61.2 119.2h0.9v0.9h-0.9zM70.6 118.0h0.9v0.9h-0.9zM53.3 119.6h0.9v0.9h-0.9zM62.5 117.7h0.9v0.9h-0.9zM56.8 118.5h0.9v0.9h-0.9zM64.0 117.5h0.9v0.9h-0.9zM55.8 118.0h0.9v0.9h-0.9zM65.2 117.7h0.9v0.9h-0.9zM67.8 118.5h0.9v0.9h-0.9zM52.4 117.9h0.9v0.9h-0.9zM65.6 118.1h0.9v0.9h-0.9zM55.1 118.5h0.9v0.9h-0.9zM68.2 118.4h0.9v0.9h-0.9zM69.4 119.2h0.9v0.9h-0.9zM68.9 118.4h0.9v0.9h-0.9zM72.1 117.3h0.9v0.9h-0.9zM57.6 118.4h0.9v0.9h-0.9zM49.3 118.5h0.9v0.9h-0.9zM58.2 117.5h0.9v0.9h-0.9zM67.9 118.6h0.9v0.9h-0.9zM63.9 118.8h0.9v0.9h-0.9zM65.6 118.4h0.9v0.9h-0.9zM56.8 118.5h0.9v0.9h-0.9zM70.4 119.0h0.9v0.9h-0.9zM76.3 119.2h0.9v0.9h-0.9zM52.4 117.7h0.9v0.9h-0.9zM56.3 119.2h0.9v0.9h-0.9zM48.1 119.2h0.9v0.9h-0.9zM50.3 119.6h0.9v0.9h-0.9zM53.5 118.4h0.9v0.9h-0.9zM64.5 118.4h0.9v0.9h-0.9zM190.3 118.3h0.9v0.9h-0.9zM178.9 119.1h0.9v0.9h-0.9zM189.6 118.2h0.9v0.9h-0.9zM182.7 118.8h0.9v0.9h-0.9zM190.1 119.3h0.9v0.9h-0.9zM190.2 118.0h0.9v0.9h-0.9zM188.7 118.2h0.9v0.9h-0.9zM195.0 117.3h0.9v0.9h-0.9zM195.9 119.1h0.9v0.9h-0.9zM189.7 117.7h0.9v0.9h-0.9zM171.8 118.5h0.9v0.9h-0.9zM180.4 117.7h0.9v0.9h-0.9zM198.3 118.3h0.9v0.9h-0.9zM188.6 119.0h0.9v0.9h-0.9zM190.6 118.3h0.9v0.9h-0.9zM187.2 118.9h0.9v0.9h-0.9zM179.9 117.8h0.9v0.9h-0.9zM180.9 117.0h0.9v0.9h-0.9zM191.1 119.3h0.9v0.9h-0.9zM189.2 118.6h0.9v0.9h-0.9zM199.3 118.1h0.9v0.9h-0.9zM187.8 119.0h0.9v0.9h-0.9zM185.1 119.4h0.9v0.9h-0.9zM196.5 119.3h0.9v0.9h-0.9zM180.9 118.7h0.9v0.9h-0.9zM192.0 117.7h0.9v0.9h-0.9zM184.0 117.4h0.9v0.9h-0.9zM179.4 118.9h0.9v0.9h-0.9zM189.4 119.6h0.9v0.9h-0.9zM171.7 119.6h0.9v0.9h-0.9zM175.6 117.2h0.9v0.9h-0.9zM190.6 119.3h0.9v0.9h-0.9zM176.9 117.7h0.9v0.9h-0.9zM184.0 119.4h0.9v0.9h-0.9zM186.5 118.8h0.9v0.9h-0.9zM194.9 119.5h0.9v0.9h-0.9zM188.0 119.0h0.9v0.9h-0.9zM189.5 118.6h0.9v0.9h-0.9zM184.1 117.7h0.9v0.9h-0.9zM189.6 118.0h0.9v0.9h-0.9zM180.1 118.5h0.9v0.9h-0.9zM195.5 118.8h0.9v0.9h-0.9zM310.2 119.2h0.9v0.9h-0.9zM305.7 118.2h0.9v0.9h-0.9zM299.8 118.7h0.9v0.9h-0.9zM306.0 119.0h0.9v0.9h-0.9zM296.0 117.3h0.9v0.9h-0.9zM322.2 118.6h0.9v0.9h-0.9zM297.8 119.0h0.9v0.9h-0.9zM311.3 117.9h0.9v0.9h-0.9zM301.0 118.9h0.9v0.9h-0.9zM296.6 117.5h0.9v0.9h-0.9zM318.3 118.5h0.9v0.9h-0.9zM293.5 119.1h0.9v0.9h-0.9zM303.0 117.8h0.9v0.9h-0.9zM299.0 118.8h0.9v0.9h-0.9zM309.1 118.0h0.9v0.9h-0.9zM314.3 118.2h0.9v0.9h-0.9zM305.6 119.6h0.9v0.9h-0.9zM308.3 117.6h0.9v0.9h-0.9zM297.8 117.2h0.9v0.9h-0.9zM303.1 118.2h0.9v0.9h-0.9zM294.2 119.3h0.9v0.9h-0.9zM310.9 117.7h0.9v0.9h-0.9zM294.2 117.9h0.9v0.9h-0.9zM306.9 118.1h0.9v0.9h-0.9zM294.4 119.1h0.9v0.9h-0.9zM308.7 117.0h0.9v0.9h-0.9zM310.1 118.7h0.9v0.9h-0.9zM303.5 117.7h0.9v0.9h-0.9zM311.7 116.4h0.9v0.9h-0.9zM298.5 118.4h0.9v0.9h-0.9zM309.1 117.4h0.9v0.9h-0.9zM311.8 118.3h0.9v0.9h-0.9zM311.3 119.4h0.9v0.9h-0.9zM313.1 118.6h0.9v0.9h-0.9zM316.2 117.5h0.9v0.9h-0.9zM305.6 118.5h0.9v0.9h-0.9zM313.5 118.9h0.9v0.9h-0.9zM301.0 119.4h0.9v0.9h-0.9zM296.8 118.9h0.9v0.9h-0.9zM295.3 117.8h0.9v0.9h-0.9zM314.0 117.5h0.9v0.9h-0.9zM303.5 118.8h0.9v0.9h-0.9zM296.6 118.6h0.9v0.9h-0.9zM301.1 118.9h0.9v0.9h-0.9zM310.8 118.2h0.9v0.9h-0.9zM302.7 117.9h0.9v0.9h-0.9zM303.9 118.8h0.9v0.9h-0.9zM306.1 119.6h0.9v0.9h-0.9zM310.2 118.1h0.9v0.9h-0.9zM307.0 118.3h0.9v0.9h-0.9zM299.1 118.1h0.9v0.9h-0.9zM322.0 118.9h0.9v0.9h-0.9zM299.6 117.5h0.9v0.9h-0.9zM305.1 119.3h0.9v0.9h-0.9zM323.2 117.9h0.9v0.9h-0.9zM443.5 118.8h0.9v0.9h-0.9zM443.1 117.6h0.9v0.9h-0.9zM432.2 117.1h0.9v0.9h-0.9zM443.4 119.4h0.9v0.9h-0.9zM429.0 119.2h0.9v0.9h-0.9zM439.4 118.5h0.9v0.9h-0.9zM427.9 118.4h0.9v0.9h-0.9zM423.7 118.5h0.9v0.9h-0.9zM440.6 119.2h0.9v0.9h-0.9zM447.4 118.7h0.9v0.9h-0.9zM437.8 118.1h0.9v0.9h-0.9zM437.6 119.3h0.9v0.9h-0.9zM442.0 118.6h0.9v0.9h-0.9zM435.5 117.7h0.9v0.9h-0.9zM436.4 119.0h0.9v0.9h-0.9zM435.5 116.7h0.9v0.9h-0.9zM428.1 119.7h0.9v0.9h-0.9zM440.9 118.3h0.9v0.9h-0.9zM429.7 118.0h0.9v0.9h-0.9zM441.5 119.5h0.9v0.9h-0.9zM439.6 118.3h0.9v0.9h-0.9zM439.4 118.2h0.9v0.9h-0.9zM437.8 119.2h0.9v0.9h-0.9zM446.6 118.2h0.9v0.9h-0.9zM427.7 116.3h0.9v0.9h-0.9zM438.2 118.5h0.9v0.9h-0.9zM435.9 118.3h0.9v0.9h-0.9zM421.9 117.4h0.9v0.9h-0.9zM432.6 118.7h0.9v0.9h-0.9zM430.6 118.5h0.9v0.9h-0.9zM442.8 118.1h0.9v0.9h-0.9zM433.5 118.5h0.9v0.9h-0.9zM435.4 118.1h0.9v0.9h-0.9zM455.2 118.5h0.9v0.9h-0.9zM427.9 118.5h0.9v0.9h-0.9zM438.6 119.0h0.9v0.9h-0.9zM432.2 118.6h0.9v0.9h-0.9zM429.1 118.3h0.9v0.9h-0.9z"/>
<path fill="rgb(50,50,50)" d="M52.2 106.4h0.7v0.7h-0.7zM49.8 97.3h0.7v0.7h-0.7zM65.5 96.4h0.7v0.7h-0.7zM53.7 109.7h0.7v0.7h-0.7zM62.9 62.3h0.7v0.7h-0.7zM49.1 73.2h0.7v0.7h-0.7zM57.3 112.5h0.7v0.7h-0.7zM52.0 107.0h0.7v0.7h-0.7zM54.3 60.3h0.7v0.7h-0.7zM62.8 103.4h0.7v0.7h-0.7zM66.3 82.5h0.7v0.7h-0.7zM59.1 110.1h0.7v0.7h-0.7zM66.3 66.8h0.7v0.7h-0.7zM66.2 83.6h0.7v0.7h-0.7zM65.8 72.7h0.7v0.7h-0.7zM62.3 61.1h0.7v0.7h-0.7zM49.5 73.5h0.7v0.7h-0.7zM54.2 110.6h0.7v0.7h-0.7zM49.3 72.9h0.7v0.7h-0.7zM60.6 108.9h0.7v0.7h-0.7zM59.9 110.1h0.7v0.7h-0.7zM66.6 82.7h0.7v0.7h-0.7zM66.4 79.6h0.7v0.7h-0.7zM61.9 104.6h0.7v0.7h-0.7zM58.0 61.2h0.7v0.7h-0.7zM66.3 93.4h0.7v0.7h-0.7zM66.3 72.8h0.7v0.7h-0.7zM64.6 62.6h0.7v0.7h-0.7zM65.9 66.2h0.7v0.7h-0.7zM49.7 95.7h0.7v0.7h-0.7zM61.7 61.6h0.7v0.7h-0.7zM50.2 81.0h0.7v0.7h-0.7zM50.4 81.4h0.7v0.7h-0.7zM59.5 111.1h0.7v0.7h-0.7zM66.3 75.3h0.7v0.7h-0.7zM50.3 98.8h0.7v0.7h-0.7zM65.7 92.4h0.7v0.7h-0.7zM60.4 61.0h0.7v0.7h-0.7zM49.0 93.4h0.7v0.7h-0.7zM51.5 104.8h0.7v0.7h-0.7zM65.0 97.0h0.7v0.7h-0.7zM60.3 109.0h0.7v0.7h-0.7zM65.8 92.3h0.7v0.7h-0.7zM55.8 111.6h0.7v0.7h-0.7zM58.2 111.6h0.7v0.7h-0.7zM59.9 110.1h0.7v0.7h-0.7zM54.1 110.2h0.7v0.7h-0.7zM49.1 90.4h0.7v0.7h-0.7zM49.4 93.6h0.7v0.7h-0.7zM49.6 83.2h0.7v0.7h-0.7zM65.8 64.1h0.7v0.7h-0.7zM49.9 98.5h0.7v0.7h-0.7zM49.4 96.4h0.7v0.7h-0.7zM54.7 60.1h0.7v0.7h-0.7zM66.3 89.4h0.7v0.7h-0.7zM52.6 107.6h0.7v0.7h-0.7zM49.6 83.8h0.7v0.7h-0.7zM48.9 90.0h0.7v0.7h-0.7zM66.6 64.5h0.7v0.7h-0.7zM54.0 109.2h0.7v0.7h-0.7zM61.3 61.3h0.7v0.7h-0.7zM51.9 105.9h0.7v0.7h-0.7zM53.3 109.5h0.7v0.7h-0.7zM53.3 109.7h0.7v0.7h-0.7zM48.9 87.2h0.7v0.7h-0.7zM235.0 73.5h0.7v0.7h-0.7zM191.9 69.4h0.7v0.7h-0.7zM218.6 84.6h0.7v0.7h-0.7zM209.4 85.3h0.7v0.7h-0.7zM196.1 94.3h0.7v0.7h-0.7zM231.6 64.6h0.7v0.7h-0.7zM212.0 85.9h0.7v0.7h-0.7zM173.4 96.2h0.7v0.7h-0.7zM195.5 70.8h0.7v0.7h-0.7zM235.7 69.6h0.7v0.7h-0.7zM175.9 103.1h0.7v0.7h-0.7zM173.5 96.4h0.7v0.7h-0.7zM235.1 71.3h0.7v0.7h-0.7zM204.9 85.4h0.7v0.7h-0.7zM207.0 68.7h0.7v0.7h-0.7zM233.5 76.0h0.7v0.7h-0.7zM193.9 102.0h0.7v0.7h-0.7zM171.8 89.2h0.7v0.7h-0.7zM210.4 85.4h0.7v0.7h-0.7zM171.6 86.8h0.7v0.7h-0.7zM230.5 64.9h0.7v0.7h-0.7zM220.0 64.4h0.7v0.7h-0.7zM235.0 70.4h0.7v0.7h-0.7zM214.1 85.7h0.7v0.7h-0.7zM227.2 81.3h0.7v0.7h-0.7zM193.0 69.9h0.7v0.7h-0.7zM198.9 70.3h0.7v0.7h-0.7zM201.0 86.0h0.7v0.7h-0.7zM205.5 69.6h0.7v0.7h-0.7zM216.8 84.5h0.7v0.7h-0.7zM232.3 77.8h0.7v0.7h-0.7zM175.5 78.9h0.7v0.7h-0.7zM193.9 101.2h0.7v0.7h-0.7zM226.7 63.4h0.7v0.7h-0.7zM176.0 77.8h0.7v0.7h-0.7zM181.3 111.4h0.7v0.7h-0.7zM175.2 79.2h0.7v0.7h-0.7zM198.3 91.2h0.7v0.7h-0.7zM234.7 73.9h0.7v0.7h-0.7zM212.0 66.5h0.7v0.7h-0.7zM188.0 110.8h0.7v0.7h-0.7zM196.8 92.9h0.7v0.7h-0.7zM193.5 99.2h0.7v0.7h-0.7zM179.3 76.1h0.7v0.7h-0.7zM231.3 78.8h0.7v0.7h-0.7zM195.1 96.5h0.7v0.7h-0.7zM184.8 69.3h0.7v0.7h-0.7zM191.1 108.0h0.7v0.7h-0.7zM201.6 86.3h0.7v0.7h-0.7zM231.2 78.8h0.7v0.7h-0.7zM171.6 87.5h0.7v0.7h-0.7zM222.4 83.0h0.7v0.7h-0.7zM195.4 96.6h0.7v0.7h-0.7zM178.9 110.0h0.7v0.7h-0.7zM174.1 97.3h0.7v0.7h-0.7zM205.4 69.9h0.7v0.7h-0.7zM205.3 69.7h0.7v0.7h-0.7zM171.7 87.6h0.7v0.7h-0.7zM208.1 68.2h0.7v0.7h-0.7zM171.5 87.6h0.7v0.7h-0.7zM189.8 109.4h0.7v0.7h-0.7zM224.6 63.9h0.7v0.7h-0.7zM226.0 64.2h0.7v0.7h-0.7zM174.1 99.2h0.7v0.7h-0.7zM196.0 71.0h0.7v0.7h-0.7zM221.5 64.4h0.7v0.7h-0.7zM176.5 106.0h0.7v0.7h-0.7zM216.0 64.6h0.7v0.7h-0.7zM198.6 69.9h0.7v0.7h-0.7zM234.4 68.1h0.7v0.7h-0.7zM171.7 90.3h0.7v0.7h-0.7zM202.4 69.9h0.7v0.7h-0.7zM171.4 86.7h0.7v0.7h-0.7zM196.4 70.7h0.7v0.7h-0.7zM232.9 64.8h0.7v0.7h-0.7zM175.4 101.8h0.7v0.7h-0.7zM200.8 70.4h0.7v0.7h-0.7zM190.0 109.7h0.7v0.7h-0.7zM221.2 64.4h0.7v0.7h-0.7zM235.2 72.6h0.7v0.7h-0.7zM212.0 66.8h0.7v0.7h-0.7zM190.6 69.2h0.7v0.7h-0.7zM207.6 85.4h0.7v0.7h-0.7zM213.0 65.8h0.7v0.7h-0.7zM193.7 101.1h0.7v0.7h-0.7zM191.2 108.3h0.7v0.7h-0.7zM203.9 70.1h0.7v0.7h-0.7zM178.7 110.4h0.7v0.7h-0.7zM204.1 85.0h0.7v0.7h-0.7zM196.7 94.0h0.7v0.7h-0.7zM224.3 82.4h0.7v0.7h-0.7zM182.6 72.0h0.7v0.7h-0.7zM191.0 69.5h0.7v0.7h-0.7zM214.7 85.8h0.7v0.7h-0.7zM184.6 69.5h0.7v0.7h-0.7zM218.0 84.1h0.7v0.7h-0.7zM200.9 85.9h0.7v0.7h-0.7zM223.5 82.2h0.7v0.7h-0.7zM212.9 65.5h0.7v0.7h-0.7zM199.0 86.3h0.7v0.7h-0.7zM208.8 67.8h0.7v0.7h-0.7zM225.4 82.0h0.7v0.7h-0.7zM184.3 70.1h0.7v0.7h-0.7zM190.7 109.0h0.7v0.7h-0.7zM194.4 99.1h0.7v0.7h-0.7zM212.8 66.3h0.7v0.7h-0.7zM223.2 82.6h0.7v0.7h-0.7zM304.0 71.6h0.7v0.7h-0.7zM317.2 70.0h0.7v0.7h-0.7zM298.5 102.2h0.7v0.7h-0.7zM345.6 84.9h0.7v0.7h-0.7zM321.5 71.6h0.7v0.7h-0.7zM317.4 97.0h0.7v0.7h-0.7zM294.2 88.3h0.7v0.7h-0.7zM326.8 70.9h0.7v0.7h-0.7zM346.5 66.8h0.7v0.7h-0.7zM314.8 101.7h0.7v0.7h-0.7zM337.1 83.2h0.7v0.7h-0.7zM336.3 67.8h0.7v0.7h-0.7zM323.2 82.0h0.7v0.7h-0.7zM330.5 69.8h0.7v0.7h-0.7zM354.2 67.0h0.7v0.7h-0.7zM328.8 80.7h0.7v0.7h-0.7zM316.3 101.8h0.7v0.7h-0.7zM319.2 92.1h0.7v0.7h-0.7zM347.2 66.7h0.7v0.7h-0.7zM301.8 109.2h0.7v0.7h-0.7zM305.7 112.2h0.7v0.7h-0.7zM353.2 83.2h0.7v0.7h-0.7zM302.3 110.0h0.7v0.7h-0.7zM305.1 70.7h0.7v0.7h-0.7zM350.2 66.6h0.7v0.7h-0.7zM343.7 66.9h0.7v0.7h-0.7zM314.1 105.6h0.7v0.7h-0.7zM299.1 103.4h0.7v0.7h-0.7zM319.6 83.5h0.7v0.7h-0.7zM320.6 71.6h0.7v0.7h-0.7zM295.4 93.7h0.7v0.7h-0.7zM311.1 110.8h0.7v0.7h-0.7zM316.9 98.0h0.7v0.7h-0.7zM309.1 70.2h0.7v0.7h-0.7zM348.9 66.9h0.7v0.7h-0.7zM321.3 82.9h0.7v0.7h-0.7zM296.6 98.1h0.7v0.7h-0.7zM349.7 84.9h0.7v0.7h-0.7zM293.2 81.5h0.7v0.7h-0.7zM294.5 89.9h0.7v0.7h-0.7zM348.4 84.5h0.7v0.7h-0.7zM337.8 83.4h0.7v0.7h-0.7zM359.1 70.9h0.7v0.7h-0.7zM359.3 70.5h0.7v0.7h-0.7zM300.3 74.2h0.7v0.7h-0.7zM318.4 94.9h0.7v0.7h-0.7zM348.6 67.0h0.7v0.7h-0.7zM294.1 89.1h0.7v0.7h-0.7zM310.7 69.5h0.7v0.7h-0.7zM314.6 105.5h0.7v0.7h-0.7zM333.3 68.6h0.7v0.7h-0.7zM340.6 67.1h0.7v0.7h-0.7zM294.4 89.9h0.7v0.7h-0.7zM315.7 101.5h0.7v0.7h-0.7zM354.5 66.9h0.7v0.7h-0.7zM315.5 102.2h0.7v0.7h-0.7zM298.1 101.3h0.7v0.7h-0.7zM342.3 66.3h0.7v0.7h-0.7zM357.9 78.7h0.7v0.7h-0.7zM311.7 110.2h0.7v0.7h-0.7zM311.3 69.9h0.7v0.7h-0.7zM319.4 84.9h0.7v0.7h-0.7zM317.0 96.4h0.7v0.7h-0.7zM332.8 81.8h0.7v0.7h-0.7zM359.1 76.7h0.7v0.7h-0.7zM293.8 78.8h0.7v0.7h-0.7zM295.3 78.4h0.7v0.7h-0.7zM318.0 95.2h0.7v0.7h-0.7zM293.6 82.7h0.7v0.7h-0.7zM356.9 68.2h0.7v0.7h-0.7zM302.0 109.9h0.7v0.7h-0.7zM296.2 78.0h0.7v0.7h-0.7zM333.3 69.6h0.7v0.7h-0.7zM293.9 87.9h0.7v0.7h-0.7zM329.2 80.9h0.7v0.7h-0.7zM334.7 68.7h0.7v0.7h-0.7zM352.8 67.4h0.7v0.7h-0.7zM302.3 72.8h0.7v0.7h-0.7zM305.0 112.0h0.7v0.7h-0.7zM313.3 107.1h0.7v0.7h-0.7zM342.1 84.1h0.7v0.7h-0.7zM314.7 104.4h0.7v0.7h-0.7zM296.2 78.0h0.7v0.7h-0.7zM342.9 84.1h0.7v0.7h-0.7zM295.6 77.5h0.7v0.7h-0.7zM295.4 77.3h0.7v0.7h-0.7zM335.6 82.8h0.7v0.7h-0.7zM302.5 110.7h0.7v0.7h-0.7zM335.2 82.5h0.7v0.7h-0.7zM340.8 66.8h0.7v0.7h-0.7zM319.5 86.4h0.7v0.7h-0.7zM317.2 97.0h0.7v0.7h-0.7zM314.4 104.2h0.7v0.7h-0.7zM359.3 73.0h0.7v0.7h-0.7zM338.0 83.6h0.7v0.7h-0.7zM305.6 70.9h0.7v0.7h-0.7zM316.8 69.9h0.7v0.7h-0.7zM353.6 82.3h0.7v0.7h-0.7zM346.1 84.5h0.7v0.7h-0.7zM318.7 70.5h0.7v0.7h-0.7zM317.9 96.1h0.7v0.7h-0.7zM293.2 86.2h0.7v0.7h-0.7zM358.6 77.2h0.7v0.7h-0.7zM354.4 82.4h0.7v0.7h-0.7zM321.8 71.4h0.7v0.7h-0.7zM294.4 91.4h0.7v0.7h-0.7zM303.1 110.9h0.7v0.7h-0.7zM342.0 66.3h0.7v0.7h-0.7zM332.9 82.4h0.7v0.7h-0.7zM332.1 69.6h0.7v0.7h-0.7zM439.3 99.8h0.7v0.7h-0.7zM424.3 86.1h0.7v0.7h-0.7zM426.4 76.1h0.7v0.7h-0.7zM427.1 101.6h0.7v0.7h-0.7zM424.2 86.4h0.7v0.7h-0.7zM425.3 93.1h0.7v0.7h-0.7zM425.7 80.2h0.7v0.7h-0.7zM443.2 88.1h0.7v0.7h-0.7zM443.0 86.2h0.7v0.7h-0.7zM444.8 79.6h0.7v0.7h-0.7zM435.7 67.5h0.7v0.7h-0.7zM434.1 67.3h0.7v0.7h-0.7zM439.7 99.8h0.7v0.7h-0.7zM441.6 94.9h0.7v0.7h-0.7zM425.6 95.7h0.7v0.7h-0.7zM432.1 108.1h0.7v0.7h-0.7zM430.3 107.8h0.7v0.7h-0.7zM437.5 104.5h0.7v0.7h-0.7zM433.0 108.0h0.7v0.7h-0.7zM438.4 67.5h0.7v0.7h-0.7zM444.4 85.3h0.7v0.7h-0.7zM425.3 95.3h0.7v0.7h-0.7zM428.7 106.3h0.7v0.7h-0.7zM440.3 98.6h0.7v0.7h-0.7zM438.5 102.3h0.7v0.7h-0.7zM428.3 72.0h0.7v0.7h-0.7zM426.7 74.2h0.7v0.7h-0.7zM445.0 78.5h0.7v0.7h-0.7zM426.7 101.3h0.7v0.7h-0.7zM428.4 105.5h0.7v0.7h-0.7zM442.0 93.4h0.7v0.7h-0.7zM426.7 100.5h0.7v0.7h-0.7zM425.3 81.3h0.7v0.7h-0.7zM441.6 94.4h0.7v0.7h-0.7zM429.2 106.3h0.7v0.7h-0.7zM425.9 95.5h0.7v0.7h-0.7zM426.1 76.0h0.7v0.7h-0.7zM444.6 71.6h0.7v0.7h-0.7zM439.1 100.4h0.7v0.7h-0.7zM424.6 91.4h0.7v0.7h-0.7zM425.3 92.4h0.7v0.7h-0.7zM431.2 68.4h0.7v0.7h-0.7zM442.9 89.4h0.7v0.7h-0.7zM427.2 101.7h0.7v0.7h-0.7zM440.1 68.3h0.7v0.7h-0.7zM445.3 78.8h0.7v0.7h-0.7zM424.4 85.2h0.7v0.7h-0.7zM440.6 97.1h0.7v0.7h-0.7zM425.0 93.4h0.7v0.7h-0.7zM438.3 103.0h0.7v0.7h-0.7zM442.1 91.7h0.7v0.7h-0.7zM442.7 89.5h0.7v0.7h-0.7zM444.2 72.1h0.7v0.7h-0.7zM435.8 106.8h0.7v0.7h-0.7zM433.6 67.7h0.7v0.7h-0.7zM426.5 73.5h0.7v0.7h-0.7zM425.4 95.9h0.7v0.7h-0.7zM425.8 77.6h0.7v0.7h-0.7zM443.2 87.0h0.7v0.7h-0.7zM441.9 92.8h0.7v0.7h-0.7zM434.5 107.7h0.7v0.7h-0.7zM444.5 71.8h0.7v0.7h-0.7zM443.6 87.0h0.7v0.7h-0.7zM432.5 68.6h0.7v0.7h-0.7z"/>
<path fill="rgb(50,50,50)" d="M53.9 119.1h0.9v0.9h-0.9zM53.2 118.3h0.9v0.9h-0.9zM53.5 118.4h0.9v0.9h-0.9zM57.1 117.9h0.9v0.9h-0.9zM60.9 118.2h0.9v0.9h-0.9zM65.6 118.8h0.9v0.9h-0.9zM60.8 118.6h0.9v0.9h-0.9zM49.2 119.6h0.9v0.9h-0.9zM56.4 117.7h0.9v0.9h-0.9zM70.6 117.6h0.9v0.9h-0.9zM66.5 117.1h0.9v0.9h-0.9zM64.0 118.4h0.9v0.9h-0.9zM60.2 118.2h0.9v0.9h-0.9zM67.8 118.8h0.9v0.9h-0.9zM64.4 119.6h0.9v0.9h-0.9zM63.3 118.4h0.9v0.9h-0.9zM66.3 119.4h0.9v0.9h-0.9zM64.9 119.1h0.9v0.9h-0.9zM58.8 116.8h0.9v0.9h-0.9zM60.7 119.3h0.9v0.9h-0.9zM61.4 116.4h0.9v0.9h-0.9zM56.8 117.9h0.9v0.9h-0.9zM51.4 119.3h0.9v0.9h-0.9zM60.0 118.3h0.9v0.9h-0.9zM61.9 119.3h0.9v0.9h-0.9zM60.7 119.2h0.9v0.9h-0.9zM58.8 118.1h0.9v0.9h-0.9zM55.1 118.0h0.9v0.9h-0.9zM66.3 117.7h0.9v0.9h-0.9zM69.3 119.1h0.9v0.9h-0.9zM68.4 119.0h0.9v0.9h-0.9zM64.9 119.0h0.9v0.9h-0.9zM59.9 118.2h0.9v0.9h-0.9zM48.8 119.4h0.9v0.9h-0.9zM52.3 117.7h0.9v0.9h-0.9zM57.9 119.6h0.9v0.9h-0.9zM51.7 117.7h0.9v0.9h-0.9zM65.9 118.9h0.9v0.9h-0.9zM57.5 119.4h0.9v0.9h-0.9zM64.2 117.6h0.9v0.9h-0.9zM65.0 119.6h0.9v0.9h-0.9zM52.8 119.0h0.9v0.9h-0.9zM63.5 118.9h0.9v0.9h-0.9zM55.2 118.1h0.9v0.9h-0.9zM65.4 118.1h0.9v0.9h-0.9zM69.8 117.5h0.9v0.9h-0.9zM65.1 117.8h0.9v0.9h-0.9zM59.4 118.4h0.9v0.9h-0.9zM57.9 119.1h0.9v0.9h-0.9zM53.6 118.2h0.9v0.9h-0.9zM72.1 118.5h0.9v0.9h-0.9zM58.3 117.8h0.9v0.9h-0.9zM68.0 118.8h0.9v0.9h-0.9zM54.0 119.6h0.9v0.9h-0.9zM61.7 118.0h0.9v0.9h-0.9zM73.7 117.6h0.9v0.9h-0.9zM62.2 118.4h0.9v0.9h-0.9zM58.2 118.9h0.9v0.9h-0.9zM56.6 118.8h0.9v0.9h-0.9zM60.4 119.6h0.9v0.9h-0.9zM63.2 117.4h0.9v0.9h-0.9zM192.4 119.2h0.9v0.9h-0.9zM187.4 118.8h0.9v0.9h-0.9zM181.4 119.0h0.9v0.9h-0.9zM188.8 118.4h0.9v0.9h-0.9zM184.0 119.2h0.9v0.9h-0.9zM176.5 117.9h0.9v0.9h-0.9zM196.2 118.7h0.9v0.9h-0.9zM180.2 117.3h0.9v0.9h-0.9zM195.3 119.5h0.9v0.9h-0.9zM188.9 117.2h0.9v0.9h-0.9zM178.0 119.7h0.9v0.9h-0.9zM173.2 118.6h0.9v0.9h-0.9zM184.2 118.3h0.9v0.9h-0.9zM194.0 119.3h0.9v0.9h-0.9zM187.8 119.6h0.9v0.9h-0.9zM184.0 117.9h0.9v0.9h-0.9zM182.9 118.9h0.9v0.9h-0.9zM180.1 117.6h0.9v0.9h-0.9zM196.4 118.3h0.9v0.9h-0.9zM193.4 117.9h0.9v0.9h-0.9zM181.9 118.7h0.9v0.9h-0.9zM179.0 119.3h0.9v0.9h-0.9zM183.8 118.8h0.9v0.9h-0.9zM179.3 119.0h0.9v0.9h-0.9zM180.1 119.7h0.9v0.9h-0.9zM186.2 118.0h0.9v0.9h-0.9zM185.9 119.0h0.9v0.9h-0.9zM185.3 118.0h0.9v0.9h-0.9zM186.8 117.9h0.9v0.9h-0.9zM177.2 117.9h0.9v0.9h-0.9zM187.3 117.4h0.9v0.9h-0.9zM184.4 118.8h0.9v0.9h-0.9zM180.4 119.6h0.9v0.9h-0.9zM186.1 119.4h0.9v0.9h-0.9zM186.9 119.2h0.9v0.9h-0.9zM180.2 118.3h0.9v0.9h-0.9zM178.9 117.5h0.9v0.9h-0.9zM181.2 117.1h0.9v0.9h-0.9zM177.3 119.1h0.9v0.9h-0.9zM189.2 119.4h0.9v0.9h-0.9zM186.4 117.9h0.9v0.9h-0.9zM189.4 118.9h0.9v0.9h-0.9zM179.9 118.3h0.9v0.9h-0.9zM176.1 117.6h0.9v0.9h-0.9zM204.3 118.5h0.9v0.9h-0.9zM186.6 118.4h0.9v0.9h-0.9zM203.7 118.7h0.9v0.9h-0.9zM175.7 118.0h0.9v0.9h-0.9zM194.3 118.1h0.9v0.9h-0.9zM181.5 118.0h0.9v0.9h-0.9zM177.3 119.4h0.9v0.9h-0.9zM181.2 119.6h0.9v0.9h-0.9zM176.8 118.5h0.9v0.9h-0.9zM189.0 118.4h0.9v0.9h-0.9zM191.1 119.6h0.9v0.9h-0.9zM176.0 118.6h0.9v0.9h-0.9zM192.9 118.5h0.9v0.9h-0.9zM192.1 118.9h0.9v0.9h-0.9zM185.0 117.0h0.9v0.9h-0.9zM180.9 118.9h0.9v0.9h-0.9zM188.6 117.5h0.9v0.9h-0.9zM184.5 118.5h0.9v0.9h-0.9zM184.1 119.2h0.9v0.9h-0.9zM187.7 118.2h0.9v0.9h-0.9zM186.0 118.1h0.9v0.9h-0.9zM184.6 118.8h0.9v0.9h-0.9zM200.4 118.6h0.9v0.9h-0.9zM185.7 118.8h0.9v0.9h-0.9zM189.3 118.9h0.9v0.9h-0.9zM185.9 119.3h0.9v0.9h-0.9zM175.0 118.8h0.9v0.9h-0.9zM315.2 117.3h0.9v0.9h-0.9zM305.5 118.2h0.9v0.9h-0.9zM293.2 118.3h0.9v0.9h-0.9zM305.7 119.6h0.9v0.9h-0.9zM311.8 118.6h0.9v0.9h-0.9zM300.4 118.3h0.9v0.9h-0.9zM294.9 118.3h0.9v0.9h-0.9zM307.1 119.4h0.9v0.9h-0.9zM313.1 119.5h0.9v0.9h-0.9zM315.5 119.2h0.9v0.9h-0.9zM310.3 118.9h0.9v0.9h-0.9zM302.2 116.2h0.9v0.9h-0.9zM313.6 118.5h0.9v0.9h-0.9zM320.9 117.8h0.9v0.9h-0.9zM312.2 117.9h0.9v0.9h-0.9zM318.6 117.7h0.9v0.9h-0.9zM307.1 119.3h0.9v0.9h-0.9zM306.8 118.0h0.9v0.9h-0.9zM314.9 118.0h0.9v0.9h-0.9zM303.9 119.2h0.9v0.9h-0.9zM313.5 118.4h0.9v0.9h-0.9zM293.1 118.9h0.9v0.9h-0.9zM323.4 116.7h0.9v0.9h-0.9zM300.1 118.7h0.9v0.9h-0.9zM293.1 118.0h0.9v0.9h-0.9zM316.4 118.2h0.9v0.9h-0.9zM308.8 119.3h0.9v0.9h-0.9zM321.0 116.9h0.9v0.9h-0.9zM312.4 118.3h0.9v0.9h-0.9zM317.6 119.3h0.9v0.9h-0.9zM300.1 116.7h0.9v0.9h-0.9zM320.0 117.9h0.9v0.9h-0.9zM306.5 117.7h0.9v0.9h-0.9zM309.7 117.8h0.9v0.9h-0.9zM310.0 118.0h0.9v0.9h-0.9zM315.2 119.2h0.9v0.9h-0.9zM299.1 118.6h0.9v0.9h-0.9zM312.2 117.8h0.9v0.9h-0.9zM307.0 119.2h0.9v0.9h-0.9zM305.1 118.0h0.9v0.9h-0.9zM300.6 118.9h0.9v0.9h-0.9zM295.2 117.4h0.9v0.9h-0.9zM308.9 117.9h0.9v0.9h-0.9zM300.2 118.4h0.9v0.9h-0.9zM302.3 117.5h0.9v0.9h-0.9zM306.8 118.4h0.9v0.9h-0.9zM305.4 117.2h0.9v0.9h-0.9zM295.2 117.1h0.9v0.9h-0.9zM306.9 117.7h0.9v0.9h-0.9zM439.9 116.9h0.9v0.9h-0.9zM423.3 117.5h0.9v0.9h-0.9zM429.4 118.8h0.9v0.9h-0.9zM427.3 119.0h0.9v0.9h-0.9zM431.7 119.1h0.9v0.9h-0.9zM430.5 119.5h0.9v0.9h-0.9zM441.1 119.7h0.9v0.9h-0.9zM440.0 117.7h0.9v0.9h-0.9zM430.5 118.3h0.9v0.9h-0.9zM427.1 118.9h0.9v0.9h-0.9zM431.9 119.5h0.9v0.9h-0.9zM437.6 119.3h0.9v0.9h-0.9zM438.5 119.4h0.9v0.9h-0.9zM440.1 117.3h0.9v0.9h-0.9zM439.8 118.7h0.9v0.9h-0.9zM430.2 118.1h0.9v0.9h-0.9zM432.9 118.3h0.9v0.9h-0.9zM443.6 117.0h0.9v0.9h-0.9zM430.9 119.5h0.9v0.9h-0.9zM439.9 117.5h0.9v0.9h-0.9zM430.4 119.7h0.9v0.9h-0.9zM431.3 118.8h0.9v0.9h-0.9zM428.2 118.3h0.9v0.9h-0.9zM430.8 117.5h0.9v0.9h-0.9zM428.4 118.9h0.9v0.9h-0.9zM446.6 118.6h0.9v0.9h-0.9zM436.5 118.3h0.9v0.9h-0.9zM429.8 119.3h0.9v0.9h-0.9zM438.7 116.6h0.9v0.9h-0.9zM443.8 118.6h0.9v0.9h-0.9zM433.0 119.0h0.9v0.9h-0.9zM451.4 117.8h0.9v0.9h-0.9zM437.7 119.5h0.9v0.9h-0.9zM435.4 117.8h0.9v0.9h-0.9zM422.5 119.6h0.9v0.9h-0.9zM432.1 117.2h0.9v0.9h-0.9zM438.6 117.4h0.9v0.9h-0.9zM428.7 118.1h0.9v0.9h-0.9zM433.5 119.0h0.9v0.9h-0.9zM444.5 119.0h0.9v0.9h-0.9zM450.5 119.1h0.9v0.9h-0.9zM430.9 117.9h0.9v0.9h-0.9zM423.7 116.9h0.9v0.9h-0.9zM436.3 118.0h0.9v0.9h-0.9zM443.1 119.3h0.9v0.9h-0.9zM437.1 118.4h0.9v0.9h-0.9zM427.6 117.8h0.9v0.9h-0.9zM439.4 118.1h0.9v0.9h-0.9zM430.5 117.7h0.9v0.9h-0.9zM443.7 118.6h0.9v0.9h-0.9zM431.0 118.9h0.9v0.9h-0.9zM427.9 119.0h0.9v0.9h-0.9zM435.7 116.4h0.9v0.9h-0.9zM434.5 118.5h0.9v0.9h-0.9zM432.8 119.7h0.9v0.9h-0.9zM434.9 118.2h0.9v0.9h-0.9zM437.1 118.8h0.9v0.9h-0.9zM429.7 119.0h0.9v0.9h-0.9zM440.2 118.2h0.9v0.9h-0.9zM426.7 117.2h0.9v0.9h-0.9zM423.7 119.5h0.9v0.9h-0.9zM426.9 118.9h0.9v0.9h-0.9zM440.5 118.4h0.9v0.9h-0.9zM438.3 118.4h0.9v0.9h-0.9zM429.9 117.9h0.9v0.9h-0.9z"/>
<path fill="rgb(75,75,75)" d="M48.5 83.1h0.7v0.7h-0.7zM66.3 63.9h0.7v0.7h-0.7zM55.0 60.6h0.7v0.7h-0.7zM47.0 61.3h0.7v0.7h-0.7zM49.9 91.3h0.7v0.7h-0.7zM66.4 68.0h0.7v0.7h-0.7zM50.1 97.5h0.7v0.7h-0.7zM53.2 109.0h0.7v0.7h-0.7zM51.5 99.0h0.7v0.7h-0.7zM49.9 75.1h0.7v0.7h-0.7zM62.4 103.7h0.7v0.7h-0.7zM54.4 111.3h0.7v0.7h-0.7zM66.2 79.8h0.7v0.7h-0.7zM50.4 94.9h0.7v0.7h-0.7zM50.1 81.9h0.7v0.7h-0.7zM67.1 66.4h0.7v0.7h-0.7zM49.4 96.6h0.7v0.7h-0.7zM49.3 71.7h0.7v0.7h-0.7zM50.9 59.6h0.7v0.7h-0.7zM49.0 84.3h0.7v0.7h-0.7zM66.0 80.2h0.7v0.7h-0.7zM59.9 108.3h0.7v0.7h-0.7zM61.1 107.8h0.7v0.7h-0.7zM65.4 95.6h0.7v0.7h-0.7zM49.8 98.6h0.7v0.7h-0.7zM65.5 75.6h0.7v0.7h-0.7zM49.6 73.6h0.7v0.7h-0.7zM48.0 85.0h0.7v0.7h-0.7zM51.2 101.1h0.7v0.7h-0.7zM65.2 63.2h0.7v0.7h-0.7zM47.4 67.1h0.7v0.7h-0.7zM64.9 64.6h0.7v0.7h-0.7zM47.5 62.9h0.7v0.7h-0.7zM66.3 87.0h0.7v0.7h-0.7zM52.5 106.9h0.7v0.7h-0.7zM50.6 97.6h0.7v0.7h-0.7zM53.9 60.9h0.7v0.7h-0.7zM66.1 90.5h0.7v0.7h-0.7zM63.8 100.9h0.7v0.7h-0.7zM49.1 74.7h0.7v0.7h-0.7zM52.2 105.8h0.7v0.7h-0.7zM49.9 70.3h0.7v0.7h-0.7zM48.8 89.7h0.7v0.7h-0.7zM57.6 61.0h0.7v0.7h-0.7zM65.4 69.1h0.7v0.7h-0.7zM57.5 60.8h0.7v0.7h-0.7zM48.8 71.5h0.7v0.7h-0.7zM59.8 109.1h0.7v0.7h-0.7zM65.4 91.3h0.7v0.7h-0.7zM48.6 65.2h0.7v0.7h-0.7zM51.8 61.6h0.7v0.7h-0.7zM49.0 95.0h0.7v0.7h-0.7zM47.9 62.3h0.7v0.7h-0.7zM52.9 109.7h0.7v0.7h-0.7zM47.2 62.1h0.7v0.7h-0.7zM49.2 81.1h0.7v0.7h-0.7zM54.9 109.8h0.7v0.7h-0.7zM59.6 61.4h0.7v0.7h-0.7zM52.7 108.3h0.7v0.7h-0.7zM59.2 110.6h0.7v0.7h-0.7zM50.7 82.7h0.7v0.7h-0.7zM47.8 71.2h0.7v0.7h-0.7zM51.4 104.4h0.7v0.7h-0.7zM49.1 61.1h0.7v0.7h-0.7zM48.7 81.5h0.7v0.7h-0.7zM64.7 89.5h0.7v0.7h-0.7zM51.0 100.7h0.7v0.7h-0.7zM64.3 62.7h0.7v0.7h-0.7zM52.1 104.8h0.7v0.7h-0.7zM64.7 95.3h0.7v0.7h-0.7zM67.0 84.2h0.7v0.7h-0.7zM65.7 93.3h0.7v0.7h-0.7zM51.7 101.2h0.7v0.7h-0.7zM66.6 84.6h0.7v0.7h-0.7zM47.6 82.5h0.7v0.7h-0.7zM51.9 59.8h0.7v0.7h-0.7zM65.2 68.6h0.7v0.7h-0.7zM53.8 106.4h0.7v0.7h-0.7zM50.2 76.7h0.7v0.7h-0.7zM65.2 100.0h0.7v0.7h-0.7zM66.3 88.9h0.7v0.7h-0.7zM47.8 67.1h0.7v0.7h-0.7zM48.9 85.9h0.7v0.7h-0.7zM50.7 76.6h0.7v0.7h-0.7zM63.4 98.6h0.7v0.7h-0.7zM64.8 62.8h0.7v0.7h-0.7zM60.6 109.4h0.7v0.7h-0.7zM47.0 61.2h0.7v0.7h-0.7zM46.6 63.6h0.7v0.7h-0.7zM54.1 60.8h0.7v0.7h-0.7zM65.5 70.6h0.7v0.7h-0.7zM51.6 98.8h0.7v0.7h-0.7zM49.9 96.0h0.7v0.7h-0.7zM49.8 75.6h0.7v0.7h-0.7zM64.9 62.1h0.7v0.7h-0.7zM67.3 80.7h0.7v0.7h-0.7zM48.1 63.5h0.7v0.7h-0.7zM50.6 77.3h0.7v0.7h-0.7zM63.1 103.0h0.7v0.7h-0.7zM65.7 94.6h0.7v0.7h-0.7zM66.8 87.1h0.7v0.7h-0.7zM65.6 76.9h0.7v0.7h-0.7zM47.7 67.8h0.7v0.7h-0.7zM65.6 93.0h0.7v0.7h-0.7zM48.1 64.2h0.7v0.7h-0.7zM47.0 65.1h0.7v0.7h-0.7zM56.3 112.6h0.7v0.7h-0.7zM54.6 59.6h0.7v0.7h-0.7zM64.0 99.7h0.7v0.7h-0.7zM51.2 101.4h0.7v0.7h-0.7zM49.5 68.0h0.7v0.7h-0.7zM52.3 108.0h0.7v0.7h-0.7zM50.0 91.1h0.7v0.7h-0.7zM49.8 72.2h0.7v0.7h-0.7zM65.2 88.3h0.7v0.7h-0.7zM67.1 68.8h0.7v0.7h-0.7zM63.0 101.2h0.7v0.7h-0.7zM47.0 61.7h0.7v0.7h-0.7zM48.2 68.6h0.7v0.7h-0.7zM62.5 104.7h0.7v0.7h-0.7zM66.0 63.3h0.7v0.7h-0.7zM50.8 76.8h0.7v0.7h-0.7zM64.2 101.7h0.7v0.7h-0.7zM66.1 86.0h0.7v0.7h-0.7zM47.2 65.8h0.7v0.7h-0.7zM53.3 110.3h0.7v0.7h-0.7zM65.8 89.3h0.7v0.7h-0.7zM49.3 97.7h0.7v0.7h-0.7zM51.5 103.0h0.7v0.7h-0.7zM52.6 106.9h0.7v0.7h-0.7zM61.4 108.4h0.7v0.7h-0.7zM56.4 111.7h0.7v0.7h-0.7zM65.6 94.4h0.7v0.7h-0.7zM49.0 92.0h0.7v0.7h-0.7zM48.4 86.0h0.7v0.7h-0.7zM48.8 69.8h0.7v0.7h-0.7zM55.6 111.6h0.7v0.7h-0.7zM66.4 82.2h0.7v0.7h-0.7zM59.8 60.6h0.7v0.7h-0.7zM48.0 69.9h0.7v0.7h-0.7zM55.0 112.0h0.7v0.7h-0.7zM49.0 96.0h0.7v0.7h-0.7zM66.3 72.1h0.7v0.7h-0.7zM66.3 82.0h0.7v0.7h-0.7zM48.1 67.3h0.7v0.7h-0.7zM48.0 66.8h0.7v0.7h-0.7zM66.3 78.9h0.7v0.7h-0.7zM50.1 78.6h0.7v0.7h-0.7zM65.9 89.4h0.7v0.7h-0.7zM57.8 111.4h0.7v0.7h-0.7zM47.3 67.2h0.7v0.7h-0.7zM67.7 81.4h0.7v0.7h-0.7zM50.7 99.3h0.7v0.7h-0.7zM65.1 88.3h0.7v0.7h-0.7zM49.9 78.3h0.7v0.7h-0.7zM50.4 99.3h0.7v0.7h-0.7zM48.7 60.7h0.7v0.7h-0.7zM66.9 74.1h0.7v0.7h-0.7zM63.1 102.5h0.7v0.7h-0.7zM65.3 73.6h0.7v0.7h-0.7zM50.6 77.4h0.7v0.7h-0.7zM66.8 74.5h0.7v0.7h-0.7zM64.8 63.5h0.7v0.7h-0.7zM48.7 68.8h0.7v0.7h-0.7zM60.0 108.8h0.7v0.7h-0.7zM66.4 80.8h0.7v0.7h-0.7zM65.8 70.8h0.7v0.7h-0.7zM52.0 60.6h0.7v0.7h-0.7zM67.6 84.9h0.7v0.7h-0.7zM49.7 95.0h0.7v0.7h-0.7zM67.0 91.3h0.7v0.7h-0.7zM47.7 64.9h0.7v0.7h-0.7zM65.6 81.5h0.7v0.7h-0.7zM50.0 76.2h0.7v0.7h-0.7zM46.0 61.9h0.7v0.7h-0.7zM51.0 103.2h0.7v0.7h-0.7zM67.1 80.1h0.7v0.7h-0.7zM47.4 65.9h0.7v0.7h-0.7zM55.1 112.1h0.7v0.7h-0.7zM51.4 105.3h0.7v0.7h-0.7zM50.6 98.5h0.7v0.7h-0.7zM66.3 67.7h0.7v0.7h-0.7zM66.4 83.6h0.7v0.7h-0.7zM48.2 66.9h0.7v0.7h-0.7zM49.4 98.8h0.7v0.7h-0.7zM55.7 60.9h0.7v0.7h-0.7zM67.8 83.3h0.7v0.7h-0.7zM65.6 82.0h0.7v0.7h-0.7zM48.3 86.8h0.7v0.7h-0.7zM49.0 93.2h0.7v0.7h-0.7zM47.3 67.1h0.7v0.7h-0.7zM50.4 102.6h0.7v0.7h-0.7zM48.3 70.3h0.7v0.7h-0.7zM67.5 85.3h0.7v0.7h-0.7zM63.5 102.0h0.7v0.7h-0.7zM67.2 71.6h0.7v0.7h-0.7zM48.5 71.9h0.7v0.7h-0.7zM66.1 71.2h0.7v0.7h-0.7zM60.2 110.7h0.7v0.7h-0.7zM46.6 62.6h0.7v0.7h-0.7zM66.2 77.8h0.7v0.7h-0.7zM61.2 60.9h0.7v0.7h-0.7zM66.6 74.8h0.7v0.7h-0.7zM51.0 101.5h0.7v0.7h-0.7zM58.2 109.4h0.7v0.7h-0.7zM56.2 60.5h0.7v0.7h-0.7zM52.0 60.2h0.7v0.7h-0.7zM50.8 95.6h0.7v0.7h-0.7zM66.3 73.8h0.7v0.7h-0.7zM56.9 60.9h0.7v0.7h-0.7zM49.9 79.8h0.7v0.7h-0.7zM52.7 106.2h0.7v0.7h-0.7zM59.2 109.5h0.7v0.7h-0.7zM64.9 92.6h0.7v0.7h-0.7zM51.4 95.9h0.7v0.7h-0.7zM50.4 79.0h0.7v0.7h-0.7zM46.9 63.6h0.7v0.7h-0.7zM48.1 60.9h0.7v0.7h-0.7zM63.5 103.4h0.7v0.7h-0.7zM47.6 65.9h0.7v0.7h-0.7zM53.8 60.6h0.7v0.7h-0.7zM50.3 99.5h0.7v0.7h-0.7zM62.4 106.2h0.7v0.7h-0.7zM65.6 63.6h0.7v0.7h-0.7zM49.2 91.7h0.7v0.7h-0.7zM52.2 104.7h0.7v0.7h-0.7zM57.8 112.6h0.7v0.7h-0.7zM49.0 92.3h0.7v0.7h-0.7zM46.9 63.3h0.7v0.7h-0.7zM53.0 107.4h0.7v0.7h-0.7zM65.0 95.6h0.7v0.7h-0.7zM66.4 75.0h0.7v0.7h-0.7zM65.7 82.5h0.7v0.7h-0.7zM212.3 66.4h0.7v0.7h-0.7zM179.2 111.9h0.7v0.7h-0.7zM191.0 109.2h0.7v0.7h-0.7zM201.4 71.0h0.7v0.7h-0.7zM190.4 107.3h0.7v0.7h-0.7zM196.1 94.0h0.7v0.7h-0.7zM187.6 70.2h0.7v0.7h-0.7zM209.1 85.2h0.7v0.7h-0.7zM174.0 100.6h0.7v0.7h-0.7zM197.7 91.6h0.7v0.7h-0.7zM171.7 89.3h0.7v0.7h-0.7zM193.7 100.2h0.7v0.7h-0.7zM186.5 111.9h0.7v0.7h-0.7zM177.2 108.7h0.7v0.7h-0.7zM176.0 106.9h0.7v0.7h-0.7zM192.0 105.3h0.7v0.7h-0.7zM220.3 63.1h0.7v0.7h-0.7zM171.6 83.4h0.7v0.7h-0.7zM227.0 64.0h0.7v0.7h-0.7zM198.2 69.7h0.7v0.7h-0.7zM208.1 68.8h0.7v0.7h-0.7zM193.2 104.3h0.7v0.7h-0.7zM233.7 73.5h0.7v0.7h-0.7zM214.3 86.3h0.7v0.7h-0.7zM183.0 112.3h0.7v0.7h-0.7zM212.6 66.7h0.7v0.7h-0.7zM230.3 63.9h0.7v0.7h-0.7zM210.4 83.9h0.7v0.7h-0.7zM232.4 65.0h0.7v0.7h-0.7zM227.3 81.3h0.7v0.7h-0.7zM232.3 65.0h0.7v0.7h-0.7zM173.4 98.6h0.7v0.7h-0.7zM181.4 74.3h0.7v0.7h-0.7zM180.6 74.1h0.7v0.7h-0.7zM217.1 65.2h0.7v0.7h-0.7zM230.9 78.1h0.7v0.7h-0.7zM220.5 83.5h0.7v0.7h-0.7zM235.0 72.7h0.7v0.7h-0.7zM186.8 70.1h0.7v0.7h-0.7zM218.5 64.9h0.7v0.7h-0.7zM233.1 76.4h0.7v0.7h-0.7zM222.5 64.2h0.7v0.7h-0.7zM214.9 65.3h0.7v0.7h-0.7zM185.2 110.5h0.7v0.7h-0.7zM179.9 75.3h0.7v0.7h-0.7zM171.5 87.7h0.7v0.7h-0.7zM199.7 71.3h0.7v0.7h-0.7zM178.2 109.2h0.7v0.7h-0.7zM205.6 69.4h0.7v0.7h-0.7zM213.0 66.7h0.7v0.7h-0.7zM232.9 76.8h0.7v0.7h-0.7zM190.6 109.3h0.7v0.7h-0.7zM171.4 85.8h0.7v0.7h-0.7zM199.8 85.8h0.7v0.7h-0.7zM171.6 86.7h0.7v0.7h-0.7zM172.3 90.3h0.7v0.7h-0.7zM232.8 67.5h0.7v0.7h-0.7zM174.5 99.5h0.7v0.7h-0.7zM171.6 83.9h0.7v0.7h-0.7zM200.6 86.4h0.7v0.7h-0.7zM205.7 85.0h0.7v0.7h-0.7zM207.1 85.6h0.7v0.7h-0.7zM171.6 82.3h0.7v0.7h-0.7zM222.1 83.2h0.7v0.7h-0.7zM176.6 78.3h0.7v0.7h-0.7zM172.5 80.6h0.7v0.7h-0.7zM233.2 76.6h0.7v0.7h-0.7zM173.0 96.4h0.7v0.7h-0.7zM189.0 110.3h0.7v0.7h-0.7zM195.7 70.2h0.7v0.7h-0.7zM197.9 70.3h0.7v0.7h-0.7zM221.1 63.7h0.7v0.7h-0.7zM203.3 85.9h0.7v0.7h-0.7zM208.9 84.4h0.7v0.7h-0.7zM198.7 88.6h0.7v0.7h-0.7zM188.0 69.4h0.7v0.7h-0.7zM182.4 72.2h0.7v0.7h-0.7zM191.6 106.1h0.7v0.7h-0.7zM178.7 111.5h0.7v0.7h-0.7zM227.4 64.8h0.7v0.7h-0.7zM212.7 85.0h0.7v0.7h-0.7zM180.5 75.2h0.7v0.7h-0.7zM235.9 71.4h0.7v0.7h-0.7zM222.9 63.9h0.7v0.7h-0.7zM229.7 64.0h0.7v0.7h-0.7zM183.1 70.7h0.7v0.7h-0.7zM174.4 97.9h0.7v0.7h-0.7zM174.2 102.7h0.7v0.7h-0.7zM190.5 68.9h0.7v0.7h-0.7zM234.1 67.1h0.7v0.7h-0.7zM229.1 80.5h0.7v0.7h-0.7zM193.8 103.8h0.7v0.7h-0.7zM231.0 65.0h0.7v0.7h-0.7zM198.7 89.0h0.7v0.7h-0.7zM173.6 78.7h0.7v0.7h-0.7zM188.6 68.9h0.7v0.7h-0.7zM172.2 80.4h0.7v0.7h-0.7zM176.8 77.3h0.7v0.7h-0.7zM185.1 71.6h0.7v0.7h-0.7zM199.9 88.3h0.7v0.7h-0.7zM173.6 95.5h0.7v0.7h-0.7zM203.1 86.0h0.7v0.7h-0.7zM179.6 75.1h0.7v0.7h-0.7zM230.9 80.1h0.7v0.7h-0.7zM200.6 84.8h0.7v0.7h-0.7zM219.7 65.6h0.7v0.7h-0.7zM229.9 79.2h0.7v0.7h-0.7zM191.5 68.8h0.7v0.7h-0.7zM228.7 63.6h0.7v0.7h-0.7zM218.2 85.6h0.7v0.7h-0.7zM192.5 103.9h0.7v0.7h-0.7zM194.8 98.3h0.7v0.7h-0.7zM222.8 83.6h0.7v0.7h-0.7zM202.3 85.6h0.7v0.7h-0.7zM223.4 82.1h0.7v0.7h-0.7zM210.3 66.7h0.7v0.7h-0.7zM207.4 85.3h0.7v0.7h-0.7zM179.6 111.6h0.7v0.7h-0.7zM216.5 65.9h0.7v0.7h-0.7zM179.5 75.5h0.7v0.7h-0.7zM200.0 86.6h0.7v0.7h-0.7zM227.4 63.9h0.7v0.7h-0.7zM199.2 88.0h0.7v0.7h-0.7zM200.1 69.9h0.7v0.7h-0.7zM199.7 70.2h0.7v0.7h-0.7zM217.6 85.0h0.7v0.7h-0.7zM188.9 111.0h0.7v0.7h-0.7zM233.8 67.0h0.7v0.7h-0.7zM214.1 85.8h0.7v0.7h-0.7zM232.0 64.4h0.7v0.7h-0.7zM234.2 66.9h0.7v0.7h-0.7zM223.8 81.3h0.7v0.7h-0.7zM225.5 82.1h0.7v0.7h-0.7zM172.2 80.9h0.7v0.7h-0.7zM230.9 66.2h0.7v0.7h-0.7zM186.3 111.2h0.7v0.7h-0.7zM192.6 104.0h0.7v0.7h-0.7zM192.8 104.3h0.7v0.7h-0.7zM195.9 96.5h0.7v0.7h-0.7zM174.5 99.5h0.7v0.7h-0.7zM236.3 69.5h0.7v0.7h-0.7zM207.0 85.6h0.7v0.7h-0.7zM215.0 84.2h0.7v0.7h-0.7zM178.2 76.7h0.7v0.7h-0.7zM192.9 70.4h0.7v0.7h-0.7zM194.3 100.3h0.7v0.7h-0.7zM216.7 85.0h0.7v0.7h-0.7zM222.4 64.8h0.7v0.7h-0.7zM219.8 84.4h0.7v0.7h-0.7zM187.4 111.3h0.7v0.7h-0.7zM201.0 71.3h0.7v0.7h-0.7zM173.5 95.2h0.7v0.7h-0.7zM230.2 64.4h0.7v0.7h-0.7zM195.2 94.4h0.7v0.7h-0.7zM189.9 109.9h0.7v0.7h-0.7zM179.9 75.4h0.7v0.7h-0.7zM199.1 88.5h0.7v0.7h-0.7zM203.7 86.6h0.7v0.7h-0.7zM218.0 64.1h0.7v0.7h-0.7zM172.5 80.8h0.7v0.7h-0.7zM182.1 72.3h0.7v0.7h-0.7zM176.5 80.0h0.7v0.7h-0.7zM175.9 101.4h0.7v0.7h-0.7zM189.0 110.7h0.7v0.7h-0.7zM173.9 100.3h0.7v0.7h-0.7zM174.9 100.7h0.7v0.7h-0.7zM172.1 81.0h0.7v0.7h-0.7zM232.1 64.9h0.7v0.7h-0.7zM213.6 66.3h0.7v0.7h-0.7zM233.5 74.9h0.7v0.7h-0.7zM233.6 74.6h0.7v0.7h-0.7zM210.5 67.1h0.7v0.7h-0.7zM187.2 70.1h0.7v0.7h-0.7zM198.1 70.4h0.7v0.7h-0.7zM189.7 68.1h0.7v0.7h-0.7zM181.1 72.3h0.7v0.7h-0.7zM228.6 63.5h0.7v0.7h-0.7zM223.5 63.5h0.7v0.7h-0.7zM219.5 65.4h0.7v0.7h-0.7zM174.1 100.7h0.7v0.7h-0.7zM182.5 72.3h0.7v0.7h-0.7zM179.7 72.5h0.7v0.7h-0.7zM230.9 78.0h0.7v0.7h-0.7zM224.7 63.2h0.7v0.7h-0.7zM173.0 98.3h0.7v0.7h-0.7zM224.3 64.6h0.7v0.7h-0.7zM216.7 84.5h0.7v0.7h-0.7zM173.8 80.7h0.7v0.7h-0.7zM174.3 80.3h0.7v0.7h-0.7zM234.6 75.6h0.7v0.7h-0.7zM234.0 69.0h0.7v0.7h-0.7zM177.8 106.4h0.7v0.7h-0.7zM185.5 68.1h0.7v0.7h-0.7zM210.4 68.2h0.7v0.7h-0.7zM177.3 103.5h0.7v0.7h-0.7zM185.3 111.7h0.7v0.7h-0.7zM181.7 73.9h0.7v0.7h-0.7zM176.9 105.9h0.7v0.7h-0.7zM187.3 109.9h0.7v0.7h-0.7zM182.7 111.6h0.7v0.7h-0.7zM235.3 69.4h0.7v0.7h-0.7zM178.8 110.4h0.7v0.7h-0.7zM180.9 73.9h0.7v0.7h-0.7zM172.3 93.3h0.7v0.7h-0.7zM188.0 110.8h0.7v0.7h-0.7zM185.9 111.3h0.7v0.7h-0.7zM173.2 90.7h0.7v0.7h-0.7zM229.7 80.8h0.7v0.7h-0.7zM199.2 86.7h0.7v0.7h-0.7zM197.7 90.8h0.7v0.7h-0.7zM171.2 84.0h0.7v0.7h-0.7zM223.1 63.9h0.7v0.7h-0.7zM235.5 70.4h0.7v0.7h-0.7zM236.2 71.5h0.7v0.7h-0.7zM179.1 110.4h0.7v0.7h-0.7zM207.8 69.5h0.7v0.7h-0.7zM184.2 69.9h0.7v0.7h-0.7zM212.2 84.0h0.7v0.7h-0.7zM203.4 70.7h0.7v0.7h-0.7zM171.6 87.2h0.7v0.7h-0.7zM206.8 85.6h0.7v0.7h-0.7zM175.0 79.0h0.7v0.7h-0.7zM173.4 99.5h0.7v0.7h-0.7zM200.1 86.8h0.7v0.7h-0.7zM198.3 90.6h0.7v0.7h-0.7zM229.3 79.8h0.7v0.7h-0.7zM172.6 92.5h0.7v0.7h-0.7zM226.2 64.2h0.7v0.7h-0.7zM192.6 103.6h0.7v0.7h-0.7zM202.3 70.1h0.7v0.7h-0.7zM194.7 71.4h0.7v0.7h-0.7zM217.8 65.6h0.7v0.7h-0.7zM174.1 79.9h0.7v0.7h-0.7zM173.6 79.8h0.7v0.7h-0.7zM210.8 66.1h0.7v0.7h-0.7zM200.2 70.5h0.7v0.7h-0.7zM181.7 72.8h0.7v0.7h-0.7zM218.0 83.6h0.7v0.7h-0.7zM178.8 112.4h0.7v0.7h-0.7zM222.9 83.1h0.7v0.7h-0.7zM213.6 65.7h0.7v0.7h-0.7zM175.1 101.5h0.7v0.7h-0.7zM174.0 99.7h0.7v0.7h-0.7zM193.6 103.2h0.7v0.7h-0.7zM191.6 103.8h0.7v0.7h-0.7zM200.0 85.2h0.7v0.7h-0.7zM199.0 87.2h0.7v0.7h-0.7zM232.6 65.7h0.7v0.7h-0.7zM179.6 75.9h0.7v0.7h-0.7zM184.1 113.2h0.7v0.7h-0.7zM211.8 66.8h0.7v0.7h-0.7zM212.3 87.1h0.7v0.7h-0.7zM178.3 110.3h0.7v0.7h-0.7zM232.1 63.7h0.7v0.7h-0.7zM191.4 108.0h0.7v0.7h-0.7zM196.0 71.9h0.7v0.7h-0.7zM193.8 70.1h0.7v0.7h-0.7zM212.1 85.8h0.7v0.7h-0.7zM234.8 68.3h0.7v0.7h-0.7zM196.6 93.4h0.7v0.7h-0.7zM183.3 112.0h0.7v0.7h-0.7zM173.8 99.0h0.7v0.7h-0.7zM215.8 86.9h0.7v0.7h-0.7zM203.7 85.0h0.7v0.7h-0.7zM178.6 74.8h0.7v0.7h-0.7zM196.8 92.9h0.7v0.7h-0.7zM174.5 97.8h0.7v0.7h-0.7zM187.4 111.3h0.7v0.7h-0.7zM191.2 69.2h0.7v0.7h-0.7zM215.6 65.1h0.7v0.7h-0.7zM232.9 77.3h0.7v0.7h-0.7zM176.5 77.7h0.7v0.7h-0.7zM211.7 85.3h0.7v0.7h-0.7zM202.1 85.1h0.7v0.7h-0.7zM193.2 102.8h0.7v0.7h-0.7zM204.9 70.8h0.7v0.7h-0.7zM197.0 91.7h0.7v0.7h-0.7zM230.8 65.5h0.7v0.7h-0.7zM231.1 78.6h0.7v0.7h-0.7zM174.2 99.6h0.7v0.7h-0.7zM199.3 85.7h0.7v0.7h-0.7zM222.8 64.0h0.7v0.7h-0.7zM180.0 76.0h0.7v0.7h-0.7zM178.3 109.5h0.7v0.7h-0.7zM196.8 92.2h0.7v0.7h-0.7zM213.7 66.9h0.7v0.7h-0.7zM175.9 99.6h0.7v0.7h-0.7zM227.8 63.2h0.7v0.7h-0.7zM172.4 93.0h0.7v0.7h-0.7zM202.4 70.5h0.7v0.7h-0.7zM190.8 70.7h0.7v0.7h-0.7zM209.7 67.6h0.7v0.7h-0.7zM212.7 84.7h0.7v0.7h-0.7zM173.1 94.7h0.7v0.7h-0.7zM233.7 67.7h0.7v0.7h-0.7zM180.6 73.9h0.7v0.7h-0.7zM211.1 66.9h0.7v0.7h-0.7zM230.6 79.5h0.7v0.7h-0.7zM186.9 69.8h0.7v0.7h-0.7zM195.5 71.2h0.7v0.7h-0.7zM175.8 103.6h0.7v0.7h-0.7zM193.9 102.8h0.7v0.7h-0.7zM200.7 86.2h0.7v0.7h-0.7zM224.9 82.3h0.7v0.7h-0.7zM176.3 108.1h0.7v0.7h-0.7zM173.4 80.9h0.7v0.7h-0.7zM235.6 71.6h0.7v0.7h-0.7zM209.6 85.0h0.7v0.7h-0.7zM222.9 82.8h0.7v0.7h-0.7zM232.8 77.2h0.7v0.7h-0.7zM213.6 65.9h0.7v0.7h-0.7zM178.2 109.8h0.7v0.7h-0.7zM232.0 65.4h0.7v0.7h-0.7zM192.5 108.7h0.7v0.7h-0.7zM217.1 84.5h0.7v0.7h-0.7zM192.7 106.9h0.7v0.7h-0.7zM206.1 69.4h0.7v0.7h-0.7zM178.0 78.0h0.7v0.7h-0.7zM194.2 69.7h0.7v0.7h-0.7zM226.1 62.5h0.7v0.7h-0.7zM172.4 97.5h0.7v0.7h-0.7zM234.6 72.0h0.7v0.7h-0.7zM176.5 78.3h0.7v0.7h-0.7zM230.5 80.2h0.7v0.7h-0.7zM173.5 79.7h0.7v0.7h-0.7zM203.2 85.3h0.7v0.7h-0.7zM204.7 70.3h0.7v0.7h-0.7zM231.5 79.0h0.7v0.7h-0.7zM223.3 64.0h0.7v0.7h-0.7zM232.8 65.1h0.7v0.7h-0.7zM171.7 87.8h0.7v0.7h-0.7zM173.0 94.7h0.7v0.7h-0.7zM182.0 72.8h0.7v0.7h-0.7zM188.9 69.8h0.7v0.7h-0.7zM190.0 69.3h0.7v0.7h-0.7zM190.9 107.8h0.7v0.7h-0.7zM192.8 101.5h0.7v0.7h-0.7zM184.6 69.9h0.7v0.7h-0.7zM215.7 85.1h0.7v0.7h-0.7zM203.8 70.8h0.7v0.7h-0.7zM219.2 64.2h0.7v0.7h-0.7zM189.3 69.2h0.7v0.7h-0.7zM235.9 75.5h0.7v0.7h-0.7zM231.4 78.2h0.7v0.7h-0.7zM172.4 87.6h0.7v0.7h-0.7zM232.9 65.1h0.7v0.7h-0.7zM233.7 66.7h0.7v0.7h-0.7zM228.0 63.0h0.7v0.7h-0.7zM221.2 83.7h0.7v0.7h-0.7zM195.6 98.4h0.7v0.7h-0.7zM230.9 79.4h0.7v0.7h-0.7zM313.9 68.5h0.7v0.7h-0.7zM293.8 92.5h0.7v0.7h-0.7zM293.7 91.1h0.7v0.7h-0.7zM309.1 111.5h0.7v0.7h-0.7zM308.0 68.9h0.7v0.7h-0.7zM314.1 102.8h0.7v0.7h-0.7zM352.4 83.7h0.7v0.7h-0.7zM320.6 83.8h0.7v0.7h-0.7zM325.3 70.7h0.7v0.7h-0.7zM327.4 80.9h0.7v0.7h-0.7zM340.3 67.7h0.7v0.7h-0.7zM313.1 110.3h0.7v0.7h-0.7zM346.2 84.7h0.7v0.7h-0.7zM294.3 79.1h0.7v0.7h-0.7zM340.2 83.6h0.7v0.7h-0.7zM321.9 81.3h0.7v0.7h-0.7zM336.1 83.0h0.7v0.7h-0.7zM294.9 90.1h0.7v0.7h-0.7zM344.7 66.4h0.7v0.7h-0.7zM296.9 94.9h0.7v0.7h-0.7zM315.1 102.8h0.7v0.7h-0.7zM315.2 68.9h0.7v0.7h-0.7zM315.9 102.1h0.7v0.7h-0.7zM325.7 81.0h0.7v0.7h-0.7zM315.1 104.7h0.7v0.7h-0.7zM343.9 66.9h0.7v0.7h-0.7zM310.3 69.7h0.7v0.7h-0.7zM338.4 67.8h0.7v0.7h-0.7zM317.7 92.8h0.7v0.7h-0.7zM313.7 106.1h0.7v0.7h-0.7zM294.5 89.5h0.7v0.7h-0.7zM324.1 71.5h0.7v0.7h-0.7zM342.2 66.7h0.7v0.7h-0.7zM318.2 70.5h0.7v0.7h-0.7zM317.6 96.3h0.7v0.7h-0.7zM310.5 110.9h0.7v0.7h-0.7zM357.7 68.4h0.7v0.7h-0.7zM337.8 82.9h0.7v0.7h-0.7zM296.5 79.2h0.7v0.7h-0.7zM353.4 66.3h0.7v0.7h-0.7zM334.9 68.2h0.7v0.7h-0.7zM344.6 83.9h0.7v0.7h-0.7zM317.3 92.3h0.7v0.7h-0.7zM331.6 70.0h0.7v0.7h-0.7zM341.2 84.1h0.7v0.7h-0.7zM300.6 75.3h0.7v0.7h-0.7zM306.0 112.2h0.7v0.7h-0.7zM312.0 109.8h0.7v0.7h-0.7zM356.5 69.2h0.7v0.7h-0.7zM345.8 66.3h0.7v0.7h-0.7zM295.1 85.9h0.7v0.7h-0.7zM302.4 72.6h0.7v0.7h-0.7zM299.0 73.7h0.7v0.7h-0.7zM330.4 69.2h0.7v0.7h-0.7zM303.3 71.8h0.7v0.7h-0.7zM359.6 72.4h0.7v0.7h-0.7zM314.3 104.2h0.7v0.7h-0.7zM328.6 81.0h0.7v0.7h-0.7zM305.0 112.2h0.7v0.7h-0.7zM347.7 83.6h0.7v0.7h-0.7zM312.2 111.9h0.7v0.7h-0.7zM314.0 101.6h0.7v0.7h-0.7zM312.9 108.4h0.7v0.7h-0.7zM354.7 66.1h0.7v0.7h-0.7zM330.1 69.9h0.7v0.7h-0.7zM330.6 81.8h0.7v0.7h-0.7zM323.2 71.0h0.7v0.7h-0.7zM350.8 84.3h0.7v0.7h-0.7zM320.6 72.0h0.7v0.7h-0.7zM342.8 65.8h0.7v0.7h-0.7zM306.1 70.6h0.7v0.7h-0.7zM328.8 70.6h0.7v0.7h-0.7zM330.0 68.9h0.7v0.7h-0.7zM349.1 66.3h0.7v0.7h-0.7zM298.1 75.5h0.7v0.7h-0.7zM337.3 82.1h0.7v0.7h-0.7zM304.6 71.5h0.7v0.7h-0.7zM335.4 67.1h0.7v0.7h-0.7zM296.8 100.9h0.7v0.7h-0.7zM317.3 70.1h0.7v0.7h-0.7zM334.6 81.7h0.7v0.7h-0.7zM351.5 84.6h0.7v0.7h-0.7zM325.0 82.4h0.7v0.7h-0.7zM355.5 68.3h0.7v0.7h-0.7zM300.5 73.3h0.7v0.7h-0.7zM341.1 67.1h0.7v0.7h-0.7zM294.6 91.2h0.7v0.7h-0.7zM350.1 66.6h0.7v0.7h-0.7zM314.9 101.4h0.7v0.7h-0.7zM315.2 100.9h0.7v0.7h-0.7zM328.5 71.1h0.7v0.7h-0.7zM298.7 77.5h0.7v0.7h-0.7zM315.7 70.7h0.7v0.7h-0.7zM299.8 74.3h0.7v0.7h-0.7zM350.7 83.7h0.7v0.7h-0.7zM312.3 69.8h0.7v0.7h-0.7zM305.9 72.6h0.7v0.7h-0.7zM319.7 88.2h0.7v0.7h-0.7zM299.6 74.5h0.7v0.7h-0.7zM319.3 91.6h0.7v0.7h-0.7zM347.1 67.4h0.7v0.7h-0.7zM305.0 113.0h0.7v0.7h-0.7zM357.7 68.8h0.7v0.7h-0.7zM295.4 78.2h0.7v0.7h-0.7zM320.4 92.6h0.7v0.7h-0.7zM336.5 83.7h0.7v0.7h-0.7zM331.0 80.7h0.7v0.7h-0.7zM293.5 86.9h0.7v0.7h-0.7zM320.3 83.6h0.7v0.7h-0.7zM294.2 79.3h0.7v0.7h-0.7zM329.3 81.2h0.7v0.7h-0.7zM342.3 67.3h0.7v0.7h-0.7zM303.0 111.7h0.7v0.7h-0.7zM299.8 74.4h0.7v0.7h-0.7zM295.9 95.1h0.7v0.7h-0.7zM318.9 86.3h0.7v0.7h-0.7zM319.2 89.6h0.7v0.7h-0.7zM314.7 104.2h0.7v0.7h-0.7zM305.4 111.7h0.7v0.7h-0.7zM321.5 83.0h0.7v0.7h-0.7zM315.7 99.6h0.7v0.7h-0.7zM299.8 103.9h0.7v0.7h-0.7zM356.6 68.8h0.7v0.7h-0.7zM328.0 71.8h0.7v0.7h-0.7zM334.8 82.1h0.7v0.7h-0.7zM304.9 72.6h0.7v0.7h-0.7zM300.7 107.0h0.7v0.7h-0.7zM318.7 91.1h0.7v0.7h-0.7zM348.0 84.9h0.7v0.7h-0.7zM323.5 71.6h0.7v0.7h-0.7zM357.8 80.0h0.7v0.7h-0.7zM356.8 80.2h0.7v0.7h-0.7zM322.6 71.7h0.7v0.7h-0.7zM297.2 76.3h0.7v0.7h-0.7zM311.2 110.7h0.7v0.7h-0.7zM301.1 107.4h0.7v0.7h-0.7zM353.4 67.5h0.7v0.7h-0.7zM304.3 111.9h0.7v0.7h-0.7zM298.1 103.2h0.7v0.7h-0.7zM314.2 102.0h0.7v0.7h-0.7zM327.9 70.0h0.7v0.7h-0.7zM345.7 66.9h0.7v0.7h-0.7zM340.6 84.1h0.7v0.7h-0.7zM316.1 98.6h0.7v0.7h-0.7zM336.7 82.7h0.7v0.7h-0.7zM318.0 90.8h0.7v0.7h-0.7zM314.5 103.1h0.7v0.7h-0.7zM319.1 91.0h0.7v0.7h-0.7zM327.2 71.5h0.7v0.7h-0.7zM347.0 84.9h0.7v0.7h-0.7zM296.8 101.4h0.7v0.7h-0.7zM315.9 101.7h0.7v0.7h-0.7zM350.7 66.0h0.7v0.7h-0.7zM329.2 81.0h0.7v0.7h-0.7zM294.4 89.7h0.7v0.7h-0.7zM313.6 106.3h0.7v0.7h-0.7zM348.9 85.5h0.7v0.7h-0.7zM350.8 67.7h0.7v0.7h-0.7zM321.4 71.7h0.7v0.7h-0.7zM359.4 74.0h0.7v0.7h-0.7zM343.8 84.2h0.7v0.7h-0.7zM298.8 100.8h0.7v0.7h-0.7zM297.3 97.9h0.7v0.7h-0.7zM297.2 78.8h0.7v0.7h-0.7zM301.0 105.7h0.7v0.7h-0.7zM303.4 111.3h0.7v0.7h-0.7zM325.4 80.8h0.7v0.7h-0.7zM296.2 98.8h0.7v0.7h-0.7zM319.1 91.9h0.7v0.7h-0.7zM326.8 81.8h0.7v0.7h-0.7zM307.1 112.9h0.7v0.7h-0.7zM339.4 84.3h0.7v0.7h-0.7zM327.3 72.1h0.7v0.7h-0.7zM328.7 70.0h0.7v0.7h-0.7zM307.2 69.2h0.7v0.7h-0.7zM315.2 102.7h0.7v0.7h-0.7zM314.0 69.5h0.7v0.7h-0.7zM293.9 88.6h0.7v0.7h-0.7zM297.7 99.7h0.7v0.7h-0.7zM353.5 68.4h0.7v0.7h-0.7zM298.2 100.1h0.7v0.7h-0.7zM335.3 68.5h0.7v0.7h-0.7zM296.8 98.4h0.7v0.7h-0.7zM346.1 84.9h0.7v0.7h-0.7zM317.3 94.7h0.7v0.7h-0.7zM340.0 67.4h0.7v0.7h-0.7zM353.0 82.9h0.7v0.7h-0.7zM325.1 72.0h0.7v0.7h-0.7zM324.5 71.1h0.7v0.7h-0.7zM294.7 91.3h0.7v0.7h-0.7zM299.7 105.6h0.7v0.7h-0.7zM348.2 66.7h0.7v0.7h-0.7zM313.4 69.8h0.7v0.7h-0.7zM315.4 101.0h0.7v0.7h-0.7zM337.2 68.2h0.7v0.7h-0.7zM293.8 83.1h0.7v0.7h-0.7zM293.7 79.8h0.7v0.7h-0.7zM306.6 111.0h0.7v0.7h-0.7zM310.7 111.8h0.7v0.7h-0.7zM294.1 91.2h0.7v0.7h-0.7zM296.5 95.7h0.7v0.7h-0.7zM293.9 88.2h0.7v0.7h-0.7zM315.0 104.9h0.7v0.7h-0.7zM333.9 67.8h0.7v0.7h-0.7zM296.4 77.9h0.7v0.7h-0.7zM324.3 82.5h0.7v0.7h-0.7zM350.6 65.2h0.7v0.7h-0.7zM315.5 69.5h0.7v0.7h-0.7zM293.7 89.6h0.7v0.7h-0.7zM329.1 81.9h0.7v0.7h-0.7zM300.8 107.2h0.7v0.7h-0.7zM300.7 74.3h0.7v0.7h-0.7zM318.4 90.2h0.7v0.7h-0.7zM339.6 83.3h0.7v0.7h-0.7zM296.2 97.6h0.7v0.7h-0.7zM299.2 104.9h0.7v0.7h-0.7zM320.0 90.3h0.7v0.7h-0.7zM328.2 79.2h0.7v0.7h-0.7zM331.1 81.9h0.7v0.7h-0.7zM301.6 109.1h0.7v0.7h-0.7zM314.3 107.2h0.7v0.7h-0.7zM359.1 74.3h0.7v0.7h-0.7zM297.8 75.5h0.7v0.7h-0.7zM300.1 108.0h0.7v0.7h-0.7zM303.5 111.2h0.7v0.7h-0.7zM344.1 84.4h0.7v0.7h-0.7zM318.7 71.1h0.7v0.7h-0.7zM298.6 101.0h0.7v0.7h-0.7zM318.8 92.1h0.7v0.7h-0.7zM343.3 83.7h0.7v0.7h-0.7zM358.9 72.4h0.7v0.7h-0.7zM322.5 71.4h0.7v0.7h-0.7zM344.9 84.2h0.7v0.7h-0.7zM300.3 74.4h0.7v0.7h-0.7zM298.3 102.6h0.7v0.7h-0.7zM313.4 107.0h0.7v0.7h-0.7zM357.2 76.6h0.7v0.7h-0.7zM294.6 78.8h0.7v0.7h-0.7zM334.7 68.6h0.7v0.7h-0.7zM333.8 68.1h0.7v0.7h-0.7zM352.3 82.5h0.7v0.7h-0.7zM340.5 67.9h0.7v0.7h-0.7zM346.0 83.7h0.7v0.7h-0.7zM319.3 89.4h0.7v0.7h-0.7zM293.0 80.5h0.7v0.7h-0.7zM320.7 83.4h0.7v0.7h-0.7zM336.8 84.8h0.7v0.7h-0.7zM317.9 71.8h0.7v0.7h-0.7zM341.0 66.8h0.7v0.7h-0.7zM318.2 98.4h0.7v0.7h-0.7zM293.2 85.2h0.7v0.7h-0.7zM304.3 112.7h0.7v0.7h-0.7zM317.3 91.3h0.7v0.7h-0.7zM353.0 66.3h0.7v0.7h-0.7zM300.2 106.0h0.7v0.7h-0.7zM315.3 104.1h0.7v0.7h-0.7zM302.5 72.8h0.7v0.7h-0.7zM317.5 96.8h0.7v0.7h-0.7zM355.0 68.6h0.7v0.7h-0.7zM332.1 81.8h0.7v0.7h-0.7zM297.6 100.7h0.7v0.7h-0.7zM354.0 82.7h0.7v0.7h-0.7zM356.1 81.1h0.7v0.7h-0.7zM327.7 81.3h0.7v0.7h-0.7zM295.3 77.8h0.7v0.7h-0.7zM359.6 70.8h0.7v0.7h-0.7zM351.8 66.5h0.7v0.7h-0.7zM308.0 69.5h0.7v0.7h-0.7zM339.6 68.8h0.7v0.7h-0.7zM329.7 71.0h0.7v0.7h-0.7zM319.6 87.5h0.7v0.7h-0.7zM336.1 83.4h0.7v0.7h-0.7zM360.1 76.0h0.7v0.7h-0.7zM326.7 82.1h0.7v0.7h-0.7zM322.1 81.5h0.7v0.7h-0.7zM338.1 83.3h0.7v0.7h-0.7zM359.4 72.3h0.7v0.7h-0.7zM327.4 79.9h0.7v0.7h-0.7zM319.6 90.7h0.7v0.7h-0.7zM327.7 81.1h0.7v0.7h-0.7zM297.2 96.9h0.7v0.7h-0.7zM359.0 72.0h0.7v0.7h-0.7zM315.6 104.6h0.7v0.7h-0.7zM295.4 91.5h0.7v0.7h-0.7zM340.5 67.1h0.7v0.7h-0.7zM319.1 91.7h0.7v0.7h-0.7zM335.1 67.8h0.7v0.7h-0.7zM294.6 93.8h0.7v0.7h-0.7zM356.5 68.2h0.7v0.7h-0.7zM294.6 91.3h0.7v0.7h-0.7zM320.7 71.6h0.7v0.7h-0.7zM337.8 81.9h0.7v0.7h-0.7zM311.6 110.5h0.7v0.7h-0.7zM358.1 76.3h0.7v0.7h-0.7zM316.4 69.9h0.7v0.7h-0.7zM310.1 111.0h0.7v0.7h-0.7zM323.0 70.5h0.7v0.7h-0.7zM301.6 107.5h0.7v0.7h-0.7zM304.6 72.0h0.7v0.7h-0.7zM319.5 70.7h0.7v0.7h-0.7zM320.0 84.7h0.7v0.7h-0.7zM310.2 70.2h0.7v0.7h-0.7zM333.8 69.7h0.7v0.7h-0.7zM318.3 91.0h0.7v0.7h-0.7zM335.4 68.0h0.7v0.7h-0.7zM342.9 66.9h0.7v0.7h-0.7zM296.4 77.7h0.7v0.7h-0.7zM335.4 69.6h0.7v0.7h-0.7zM336.1 83.4h0.7v0.7h-0.7zM297.4 76.6h0.7v0.7h-0.7zM344.1 66.8h0.7v0.7h-0.7zM336.3 82.0h0.7v0.7h-0.7zM343.9 66.4h0.7v0.7h-0.7zM295.8 99.0h0.7v0.7h-0.7zM295.7 78.8h0.7v0.7h-0.7zM359.8 74.3h0.7v0.7h-0.7zM311.9 109.2h0.7v0.7h-0.7zM350.2 66.2h0.7v0.7h-0.7zM354.6 82.5h0.7v0.7h-0.7zM350.2 84.5h0.7v0.7h-0.7zM312.9 69.4h0.7v0.7h-0.7zM306.2 112.2h0.7v0.7h-0.7zM315.6 98.2h0.7v0.7h-0.7zM320.3 83.6h0.7v0.7h-0.7zM340.5 66.5h0.7v0.7h-0.7zM357.5 68.3h0.7v0.7h-0.7zM319.5 89.7h0.7v0.7h-0.7zM319.0 89.9h0.7v0.7h-0.7zM301.6 107.5h0.7v0.7h-0.7zM320.8 70.3h0.7v0.7h-0.7zM296.7 96.9h0.7v0.7h-0.7zM327.6 80.6h0.7v0.7h-0.7zM299.7 105.3h0.7v0.7h-0.7zM300.9 107.3h0.7v0.7h-0.7zM348.2 66.4h0.7v0.7h-0.7zM324.4 71.5h0.7v0.7h-0.7zM330.0 80.8h0.7v0.7h-0.7zM313.7 110.3h0.7v0.7h-0.7zM340.0 68.1h0.7v0.7h-0.7zM351.3 66.4h0.7v0.7h-0.7zM347.7 85.6h0.7v0.7h-0.7zM357.9 76.2h0.7v0.7h-0.7zM294.4 89.2h0.7v0.7h-0.7zM351.7 84.2h0.7v0.7h-0.7zM358.6 73.7h0.7v0.7h-0.7zM352.1 82.5h0.7v0.7h-0.7zM317.4 97.6h0.7v0.7h-0.7zM339.8 68.1h0.7v0.7h-0.7zM357.8 78.4h0.7v0.7h-0.7zM360.6 71.1h0.7v0.7h-0.7zM334.4 81.9h0.7v0.7h-0.7zM352.5 83.3h0.7v0.7h-0.7zM359.1 76.1h0.7v0.7h-0.7zM301.4 109.9h0.7v0.7h-0.7zM316.0 100.6h0.7v0.7h-0.7zM343.2 68.1h0.7v0.7h-0.7zM315.2 102.4h0.7v0.7h-0.7zM319.5 92.6h0.7v0.7h-0.7zM357.9 69.9h0.7v0.7h-0.7zM304.2 111.6h0.7v0.7h-0.7zM357.5 79.1h0.7v0.7h-0.7zM297.8 76.6h0.7v0.7h-0.7zM439.6 68.5h0.7v0.7h-0.7zM441.1 94.7h0.7v0.7h-0.7zM440.5 94.9h0.7v0.7h-0.7zM425.1 91.5h0.7v0.7h-0.7zM427.9 103.6h0.7v0.7h-0.7zM430.0 106.9h0.7v0.7h-0.7zM426.1 92.5h0.7v0.7h-0.7zM444.6 83.6h0.7v0.7h-0.7zM424.2 84.4h0.7v0.7h-0.7zM435.3 107.1h0.7v0.7h-0.7zM424.8 92.9h0.7v0.7h-0.7zM426.9 79.7h0.7v0.7h-0.7zM426.6 71.9h0.7v0.7h-0.7zM439.9 67.4h0.7v0.7h-0.7zM424.4 84.6h0.7v0.7h-0.7zM425.4 90.0h0.7v0.7h-0.7zM424.6 89.6h0.7v0.7h-0.7zM426.7 81.3h0.7v0.7h-0.7zM429.2 70.2h0.7v0.7h-0.7zM441.3 97.8h0.7v0.7h-0.7zM443.2 71.0h0.7v0.7h-0.7zM444.4 80.1h0.7v0.7h-0.7zM433.2 108.2h0.7v0.7h-0.7zM442.3 92.1h0.7v0.7h-0.7zM436.3 106.4h0.7v0.7h-0.7zM443.9 72.2h0.7v0.7h-0.7zM437.9 67.7h0.7v0.7h-0.7zM425.5 82.0h0.7v0.7h-0.7zM442.9 80.4h0.7v0.7h-0.7zM430.7 106.1h0.7v0.7h-0.7zM439.1 101.0h0.7v0.7h-0.7zM431.8 108.6h0.7v0.7h-0.7zM426.4 78.7h0.7v0.7h-0.7zM437.2 105.3h0.7v0.7h-0.7zM436.1 108.2h0.7v0.7h-0.7zM441.5 68.6h0.7v0.7h-0.7zM430.6 68.4h0.7v0.7h-0.7zM433.2 108.6h0.7v0.7h-0.7zM444.4 83.6h0.7v0.7h-0.7zM445.1 80.5h0.7v0.7h-0.7zM426.9 77.8h0.7v0.7h-0.7zM424.8 89.0h0.7v0.7h-0.7zM431.6 108.0h0.7v0.7h-0.7zM443.0 89.4h0.7v0.7h-0.7zM442.0 89.9h0.7v0.7h-0.7zM430.3 106.9h0.7v0.7h-0.7zM434.5 67.0h0.7v0.7h-0.7zM425.2 81.3h0.7v0.7h-0.7zM443.1 89.8h0.7v0.7h-0.7zM442.8 90.0h0.7v0.7h-0.7zM439.6 99.7h0.7v0.7h-0.7zM443.4 90.8h0.7v0.7h-0.7zM437.8 67.2h0.7v0.7h-0.7zM430.7 107.5h0.7v0.7h-0.7zM437.4 105.3h0.7v0.7h-0.7zM434.1 67.7h0.7v0.7h-0.7zM426.6 97.5h0.7v0.7h-0.7zM427.8 103.3h0.7v0.7h-0.7zM427.2 100.9h0.7v0.7h-0.7zM425.2 85.5h0.7v0.7h-0.7zM428.6 71.4h0.7v0.7h-0.7zM424.2 87.9h0.7v0.7h-0.7zM423.6 86.7h0.7v0.7h-0.7zM431.7 67.7h0.7v0.7h-0.7zM431.0 69.2h0.7v0.7h-0.7zM445.9 77.9h0.7v0.7h-0.7zM425.4 84.6h0.7v0.7h-0.7zM438.4 67.6h0.7v0.7h-0.7zM426.1 98.8h0.7v0.7h-0.7zM444.6 74.9h0.7v0.7h-0.7zM441.4 95.7h0.7v0.7h-0.7zM441.4 68.5h0.7v0.7h-0.7zM438.5 105.3h0.7v0.7h-0.7zM440.5 100.7h0.7v0.7h-0.7zM426.9 100.7h0.7v0.7h-0.7zM425.4 75.3h0.7v0.7h-0.7zM426.2 89.7h0.7v0.7h-0.7zM433.7 67.6h0.7v0.7h-0.7zM425.4 91.4h0.7v0.7h-0.7zM426.1 77.4h0.7v0.7h-0.7zM432.1 67.7h0.7v0.7h-0.7zM424.6 76.0h0.7v0.7h-0.7zM434.4 67.2h0.7v0.7h-0.7zM441.2 69.8h0.7v0.7h-0.7zM427.7 71.6h0.7v0.7h-0.7zM436.2 68.8h0.7v0.7h-0.7zM444.4 83.5h0.7v0.7h-0.7zM425.8 82.2h0.7v0.7h-0.7zM428.0 103.9h0.7v0.7h-0.7zM444.5 81.2h0.7v0.7h-0.7zM444.2 79.8h0.7v0.7h-0.7zM425.5 82.4h0.7v0.7h-0.7zM430.0 68.1h0.7v0.7h-0.7zM424.6 89.0h0.7v0.7h-0.7zM437.4 67.5h0.7v0.7h-0.7zM444.5 76.3h0.7v0.7h-0.7zM425.9 74.3h0.7v0.7h-0.7zM426.6 72.8h0.7v0.7h-0.7zM424.8 90.4h0.7v0.7h-0.7zM432.1 107.7h0.7v0.7h-0.7zM424.7 92.7h0.7v0.7h-0.7zM424.3 87.7h0.7v0.7h-0.7zM441.9 92.5h0.7v0.7h-0.7zM430.3 70.8h0.7v0.7h-0.7zM442.0 91.5h0.7v0.7h-0.7zM424.3 92.6h0.7v0.7h-0.7zM443.7 70.9h0.7v0.7h-0.7zM443.7 86.3h0.7v0.7h-0.7zM443.5 68.8h0.7v0.7h-0.7zM426.0 97.1h0.7v0.7h-0.7zM445.5 84.8h0.7v0.7h-0.7zM429.2 108.1h0.7v0.7h-0.7zM434.3 108.6h0.7v0.7h-0.7zM422.7 84.8h0.7v0.7h-0.7zM439.8 67.8h0.7v0.7h-0.7zM429.8 107.5h0.7v0.7h-0.7zM441.6 92.9h0.7v0.7h-0.7zM440.8 96.7h0.7v0.7h-0.7zM424.9 96.7h0.7v0.7h-0.7zM429.1 104.3h0.7v0.7h-0.7zM433.5 67.3h0.7v0.7h-0.7zM424.5 78.0h0.7v0.7h-0.7zM443.9 85.0h0.7v0.7h-0.7zM443.5 84.0h0.7v0.7h-0.7zM434.2 108.1h0.7v0.7h-0.7zM427.2 103.2h0.7v0.7h-0.7zM425.0 86.6h0.7v0.7h-0.7zM433.9 108.4h0.7v0.7h-0.7zM438.6 103.9h0.7v0.7h-0.7zM436.8 103.7h0.7v0.7h-0.7zM439.6 98.7h0.7v0.7h-0.7zM438.4 100.0h0.7v0.7h-0.7zM443.7 82.2h0.7v0.7h-0.7zM428.0 100.2h0.7v0.7h-0.7zM439.5 100.6h0.7v0.7h-0.7zM438.4 68.2h0.7v0.7h-0.7zM427.3 73.9h0.7v0.7h-0.7zM425.0 93.6h0.7v0.7h-0.7zM445.5 77.9h0.7v0.7h-0.7zM441.3 95.3h0.7v0.7h-0.7zM424.5 86.2h0.7v0.7h-0.7zM441.7 93.1h0.7v0.7h-0.7zM425.1 82.4h0.7v0.7h-0.7zM444.4 84.9h0.7v0.7h-0.7zM440.1 94.8h0.7v0.7h-0.7zM426.7 95.8h0.7v0.7h-0.7zM441.7 94.2h0.7v0.7h-0.7zM445.2 78.1h0.7v0.7h-0.7zM432.6 109.1h0.7v0.7h-0.7zM425.7 95.3h0.7v0.7h-0.7zM436.8 67.8h0.7v0.7h-0.7zM425.5 81.4h0.7v0.7h-0.7zM438.2 100.3h0.7v0.7h-0.7zM432.2 67.1h0.7v0.7h-0.7zM424.7 88.0h0.7v0.7h-0.7zM428.0 103.8h0.7v0.7h-0.7zM441.1 95.7h0.7v0.7h-0.7zM426.4 79.4h0.7v0.7h-0.7zM437.1 67.1h0.7v0.7h-0.7zM442.6 90.6h0.7v0.7h-0.7zM437.4 67.2h0.7v0.7h-0.7zM437.6 106.5h0.7v0.7h-0.7zM430.6 70.2h0.7v0.7h-0.7zM439.9 98.4h0.7v0.7h-0.7zM425.7 78.1h0.7v0.7h-0.7zM445.1 73.5h0.7v0.7h-0.7zM446.6 78.3h0.7v0.7h-0.7zM424.5 87.8h0.7v0.7h-0.7zM441.7 70.1h0.7v0.7h-0.7zM441.2 95.2h0.7v0.7h-0.7zM442.4 90.1h0.7v0.7h-0.7zM425.6 79.9h0.7v0.7h-0.7zM430.5 107.8h0.7v0.7h-0.7zM427.6 104.8h0.7v0.7h-0.7zM440.4 102.3h0.7v0.7h-0.7zM437.9 103.5h0.7v0.7h-0.7zM431.3 67.2h0.7v0.7h-0.7zM426.0 96.3h0.7v0.7h-0.7zM426.9 75.1h0.7v0.7h-0.7zM425.0 94.6h0.7v0.7h-0.7zM440.9 95.5h0.7v0.7h-0.7zM442.5 91.1h0.7v0.7h-0.7zM425.4 93.2h0.7v0.7h-0.7zM441.6 91.7h0.7v0.7h-0.7zM429.3 106.3h0.7v0.7h-0.7zM427.0 98.5h0.7v0.7h-0.7zM436.3 67.8h0.7v0.7h-0.7zM425.3 79.1h0.7v0.7h-0.7zM426.4 98.1h0.7v0.7h-0.7zM426.4 99.7h0.7v0.7h-0.7zM425.2 89.6h0.7v0.7h-0.7zM441.3 95.1h0.7v0.7h-0.7zM426.1 96.7h0.7v0.7h-0.7zM439.5 68.3h0.7v0.7h-0.7zM428.9 106.9h0.7v0.7h-0.7zM426.4 74.0h0.7v0.7h-0.7zM440.2 101.7h0.7v0.7h-0.7zM424.4 89.4h0.7v0.7h-0.7zM443.1 87.9h0.7v0.7h-0.7zM434.7 106.7h0.7v0.7h-0.7zM443.8 69.7h0.7v0.7h-0.7zM443.1 70.1h0.7v0.7h-0.7zM432.3 109.0h0.7v0.7h-0.7zM435.4 105.3h0.7v0.7h-0.7zM442.1 70.0h0.7v0.7h-0.7zM424.6 94.1h0.7v0.7h-0.7zM443.8 83.5h0.7v0.7h-0.7zM427.4 104.5h0.7v0.7h-0.7zM426.1 91.5h0.7v0.7h-0.7zM426.3 100.7h0.7v0.7h-0.7zM439.8 68.5h0.7v0.7h-0.7z"/>
<path fill="rgb(75,75,75)" d="M62.8 119.2h0.9v0.9h-0.9zM58.6 118.6h0.9v0.9h-0.9zM53.6 118.6h0.9v0.9h-0.9zM59.1 119.5h0.9v0.9h-0.9zM65.0 118.6h0.9v0.9h-0.9zM52.2 119.6h0.9v0.9h-0.9zM59.5 119.0h0.9v0.9h-0.9zM46.3 117.4h0.9v0.9h-0.9zM66.9 118.1h0.9v0.9h-0.9zM79.4 117.5h0.9v0.9h-0.9zM54.7 118.8h0.9v0.9h-0.9zM58.4 117.6h0.9v0.9h-0.9zM63.5 119.1h0.9v0.9h-0.9zM75.2 118.0h0.9v0.9h-0.9zM57.5 118.5h0.9v0.9h-0.9zM62.4 118.7h0.9v0.9h-0.9zM67.6 118.5h0.9v0.9h-0.9zM60.5 117.7h0.9v0.9h-0.9zM64.4 119.4h0.9v0.9h-0.9zM75.6 118.4h0.9v0.9h-0.9zM59.4 118.4h0.9v0.9h-0.9zM55.3 117.5h0.9v0.9h-0.9zM74.1 119.5h0.9v0.9h-0.9zM48.6 117.6h0.9v0.9h-0.9zM56.1 118.2h0.9v0.9h-0.9zM52.8 118.5h0.9v0.9h-0.9zM71.6 118.1h0.9v0.9h-0.9zM57.1 117.4h0.9v0.9h-0.9zM67.9 119.7h0.9v0.9h-0.9zM67.0 119.0h0.9v0.9h-0.9zM61.7 118.2h0.9v0.9h-0.9zM67.1 117.1h0.9v0.9h-0.9zM65.0 118.1h0.9v0.9h-0.9zM56.2 119.0h0.9v0.9h-0.9zM78.0 118.6h0.9v0.9h-0.9zM61.2 118.7h0.9v0.9h-0.9zM52.4 119.2h0.9v0.9h-0.9zM47.1 118.7h0.9v0.9h-0.9zM59.8 118.5h0.9v0.9h-0.9zM56.3 116.5h0.9v0.9h-0.9zM53.6 118.6h0.9v0.9h-0.9zM63.4 118.7h0.9v0.9h-0.9zM54.7 117.9h0.9v0.9h-0.9zM176.1 118.2h0.9v0.9h-0.9zM180.5 118.7h0.9v0.9h-0.9zM193.3 118.8h0.9v0.9h-0.9zM189.9 117.1h0.9v0.9h-0.9zM192.6 118.2h0.9v0.9h-0.9zM177.1 118.8h0.9v0.9h-0.9zM183.8 117.3h0.9v0.9h-0.9zM193.6 119.0h0.9v0.9h-0.9zM184.1 119.3h0.9v0.9h-0.9zM189.8 117.8h0.9v0.9h-0.9zM198.4 118.1h0.9v0.9h-0.9zM182.1 118.1h0.9v0.9h-0.9zM183.6 118.0h0.9v0.9h-0.9zM196.6 118.9h0.9v0.9h-0.9zM188.5 118.2h0.9v0.9h-0.9zM178.4 118.5h0.9v0.9h-0.9zM172.7 117.7h0.9v0.9h-0.9zM178.4 118.1h0.9v0.9h-0.9zM175.4 118.2h0.9v0.9h-0.9zM178.1 118.0h0.9v0.9h-0.9zM189.9 119.7h0.9v0.9h-0.9zM185.4 117.7h0.9v0.9h-0.9zM182.1 118.9h0.9v0.9h-0.9zM183.9 119.5h0.9v0.9h-0.9zM191.3 119.7h0.9v0.9h-0.9zM186.7 117.6h0.9v0.9h-0.9zM192.3 117.9h0.9v0.9h-0.9zM185.2 119.4h0.9v0.9h-0.9zM193.8 117.8h0.9v0.9h-0.9zM182.8 119.1h0.9v0.9h-0.9zM191.0 119.0h0.9v0.9h-0.9zM186.5 118.3h0.9v0.9h-0.9zM183.2 118.2h0.9v0.9h-0.9zM194.6 118.3h0.9v0.9h-0.9zM189.1 117.4h0.9v0.9h-0.9zM196.1 118.2h0.9v0.9h-0.9zM200.2 117.3h0.9v0.9h-0.9zM175.0 118.5h0.9v0.9h-0.9zM182.3 117.1h0.9v0.9h-0.9zM179.2 119.2h0.9v0.9h-0.9zM185.7 119.0h0.9v0.9h-0.9zM188.1 117.9h0.9v0.9h-0.9zM202.0 118.5h0.9v0.9h-0.9zM175.1 117.9h0.9v0.9h-0.9zM317.6 119.0h0.9v0.9h-0.9zM317.2 118.3h0.9v0.9h-0.9zM310.8 119.5h0.9v0.9h-0.9zM295.3 118.1h0.9v0.9h-0.9zM312.8 118.3h0.9v0.9h-0.9zM311.2 119.0h0.9v0.9h-0.9zM303.6 117.9h0.9v0.9h-0.9zM309.5 119.0h0.9v0.9h-0.9zM311.8 118.7h0.9v0.9h-0.9zM314.3 119.3h0.9v0.9h-0.9zM304.5 116.9h0.9v0.9h-0.9zM304.8 119.2h0.9v0.9h-0.9zM302.7 118.7h0.9v0.9h-0.9zM314.5 117.6h0.9v0.9h-0.9zM298.6 117.7h0.9v0.9h-0.9zM309.0 118.5h0.9v0.9h-0.9zM298.9 118.3h0.9v0.9h-0.9zM293.2 117.9h0.9v0.9h-0.9zM315.5 118.7h0.9v0.9h-0.9zM300.2 117.4h0.9v0.9h-0.9zM310.5 117.4h0.9v0.9h-0.9zM308.6 119.2h0.9v0.9h-0.9zM310.9 118.3h0.9v0.9h-0.9zM316.6 117.2h0.9v0.9h-0.9zM323.1 117.9h0.9v0.9h-0.9zM306.9 118.0h0.9v0.9h-0.9zM309.5 118.7h0.9v0.9h-0.9zM311.2 119.2h0.9v0.9h-0.9zM314.2 119.4h0.9v0.9h-0.9zM300.4 118.7h0.9v0.9h-0.9zM301.0 118.5h0.9v0.9h-0.9zM294.4 117.8h0.9v0.9h-0.9zM297.8 118.8h0.9v0.9h-0.9zM307.9 117.8h0.9v0.9h-0.9zM310.5 117.4h0.9v0.9h-0.9zM305.1 118.8h0.9v0.9h-0.9zM312.2 117.7h0.9v0.9h-0.9zM314.7 118.3h0.9v0.9h-0.9zM305.2 117.5h0.9v0.9h-0.9zM306.0 118.1h0.9v0.9h-0.9zM317.7 118.0h0.9v0.9h-0.9zM296.2 117.7h0.9v0.9h-0.9zM313.9 119.5h0.9v0.9h-0.9zM309.3 119.0h0.9v0.9h-0.9zM324.3 117.7h0.9v0.9h-0.9zM304.5 117.8h0.9v0.9h-0.9zM318.2 117.8h0.9v0.9h-0.9zM313.7 117.7h0.9v0.9h-0.9zM299.8 119.1h0.9v0.9h-0.9zM299.8 119.0h0.9v0.9h-0.9zM304.1 118.1h0.9v0.9h-0.9zM427.0 117.7h0.9v0.9h-0.9zM430.5 118.2h0.9v0.9h-0.9zM435.7 119.1h0.9v0.9h-0.9zM446.9 119.0h0.9v0.9h-0.9zM439.8 117.8h0.9v0.9h-0.9zM440.8 117.4h0.9v0.9h-0.9zM425.4 119.6h0.9v0.9h-0.9zM421.6 117.2h0.9v0.9h-0.9zM425.6 116.1h0.9v0.9h-0.9zM432.2 119.5h0.9v0.9h-0.9zM437.0 119.2h0.9v0.9h-0.9zM434.3 118.2h0.9v0.9h-0.9zM431.0 119.5h0.9v0.9h-0.9zM433.4 118.0h0.9v0.9h-0.9zM432.1 117.5h0.9v0.9h-0.9zM427.3 119.2h0.9v0.9h-0.9zM429.5 119.3h0.9v0.9h-0.9zM441.7 119.5h0.9v0.9h-0.9zM444.0 118.5h0.9v0.9h-0.9zM438.3 118.7h0.9v0.9h-0.9zM435.1 119.6h0.9v0.9h-0.9zM436.2 118.7h0.9v0.9h-0.9zM436.4 119.0h0.9v0.9h-0.9zM423.5 119.0h0.9v0.9h-0.9zM432.2 118.9h0.9v0.9h-0.9zM431.3 117.9h0.9v0.9h-0.9zM449.5 119.3h0.9v0.9h-0.9zM435.3 119.3h0.9v0.9h-0.9zM427.3 119.6h0.9v0.9h-0.9zM438.5 117.4h0.9v0.9h-0.9zM437.0 118.1h0.9v0.9h-0.9zM444.6 119.6h0.9v0.9h-0.9zM425.7 118.0h0.9v0.9h-0.9zM431.5 119.3h0.9v0.9h-0.9zM443.3 119.4h0.9v0.9h-0.9zM438.8 118.6h0.9v0.9h-0.9zM432.2 118.7h0.9v0.9h-0.9z"/>
<path fill="rgb(100,100,100)" d="M55.3 112.6h0.7v0.7h-0.7zM65.2 97.5h0.7v0.7h-0.7zM47.5 90.4h0.7v0.7h-0.7zM47.9 72.2h0.7v0.7h-0.7zM49.2 86.7h0.7v0.7h-0.7zM65.0 100.7h0.7v0.7h-0.7zM65.7 70.8h0.7v0.7h-0.7zM49.9 70.3h0.7v0.7h-0.7zM65.0 72.0h0.7v0.7h-0.7zM67.6 67.5h0.7v0.7h-0.7zM48.8 71.4h0.7v0.7h-0.7zM49.4 59.0h0.7v0.7h-0.7zM48.8 62.0h0.7v0.7h-0.7zM54.8 110.4h0.7v0.7h-0.7zM54.5 110.8h0.7v0.7h-0.7zM50.4 91.5h0.7v0.7h-0.7zM50.2 91.7h0.7v0.7h-0.7zM66.8 82.2h0.7v0.7h-0.7zM50.0 103.0h0.7v0.7h-0.7zM65.9 85.2h0.7v0.7h-0.7zM49.9 70.6h0.7v0.7h-0.7zM50.0 78.4h0.7v0.7h-0.7zM63.3 98.7h0.7v0.7h-0.7zM59.7 107.2h0.7v0.7h-0.7zM66.8 93.8h0.7v0.7h-0.7zM49.9 85.3h0.7v0.7h-0.7zM52.0 102.6h0.7v0.7h-0.7zM51.0 78.9h0.7v0.7h-0.7zM65.3 78.1h0.7v0.7h-0.7zM50.8 95.2h0.7v0.7h-0.7zM62.6 95.1h0.7v0.7h-0.7zM54.5 106.4h0.7v0.7h-0.7zM48.5 94.3h0.7v0.7h-0.7zM59.7 59.7h0.7v0.7h-0.7zM47.4 62.9h0.7v0.7h-0.7zM48.5 60.3h0.7v0.7h-0.7zM50.3 73.2h0.7v0.7h-0.7zM49.3 86.5h0.7v0.7h-0.7zM65.0 92.2h0.7v0.7h-0.7zM49.5 101.0h0.7v0.7h-0.7zM47.2 71.9h0.7v0.7h-0.7zM64.7 65.1h0.7v0.7h-0.7zM51.5 72.2h0.7v0.7h-0.7zM61.8 108.1h0.7v0.7h-0.7zM52.4 60.9h0.7v0.7h-0.7zM65.5 96.3h0.7v0.7h-0.7zM49.5 96.2h0.7v0.7h-0.7zM61.6 111.4h0.7v0.7h-0.7zM65.7 71.1h0.7v0.7h-0.7zM50.6 79.8h0.7v0.7h-0.7zM65.8 75.6h0.7v0.7h-0.7zM62.3 60.8h0.7v0.7h-0.7zM67.3 81.7h0.7v0.7h-0.7zM64.9 76.6h0.7v0.7h-0.7zM66.9 91.1h0.7v0.7h-0.7zM47.4 85.3h0.7v0.7h-0.7zM58.6 110.6h0.7v0.7h-0.7zM65.6 74.6h0.7v0.7h-0.7zM62.3 63.2h0.7v0.7h-0.7zM59.4 109.6h0.7v0.7h-0.7zM58.8 108.9h0.7v0.7h-0.7zM66.6 89.1h0.7v0.7h-0.7zM49.2 76.9h0.7v0.7h-0.7zM62.0 103.8h0.7v0.7h-0.7zM50.1 72.0h0.7v0.7h-0.7zM49.0 65.2h0.7v0.7h-0.7zM59.4 62.1h0.7v0.7h-0.7zM61.5 108.6h0.7v0.7h-0.7zM64.6 64.9h0.7v0.7h-0.7zM52.2 106.2h0.7v0.7h-0.7zM48.2 84.3h0.7v0.7h-0.7zM51.8 75.7h0.7v0.7h-0.7zM51.6 100.5h0.7v0.7h-0.7zM51.6 104.6h0.7v0.7h-0.7zM47.5 68.2h0.7v0.7h-0.7zM60.7 110.7h0.7v0.7h-0.7zM47.1 69.2h0.7v0.7h-0.7zM64.8 65.1h0.7v0.7h-0.7zM59.9 108.4h0.7v0.7h-0.7zM51.1 97.7h0.7v0.7h-0.7zM51.1 60.5h0.7v0.7h-0.7zM67.8 72.8h0.7v0.7h-0.7zM66.6 70.6h0.7v0.7h-0.7zM64.5 71.1h0.7v0.7h-0.7zM65.2 77.6h0.7v0.7h-0.7zM47.6 73.7h0.7v0.7h-0.7zM61.2 110.3h0.7v0.7h-0.7zM66.1 75.2h0.7v0.7h-0.7zM67.0 90.9h0.7v0.7h-0.7zM51.1 105.6h0.7v0.7h-0.7zM67.6 86.6h0.7v0.7h-0.7zM64.8 74.8h0.7v0.7h-0.7zM54.6 110.2h0.7v0.7h-0.7zM48.7 99.3h0.7v0.7h-0.7zM54.6 113.0h0.7v0.7h-0.7zM46.8 67.6h0.7v0.7h-0.7zM47.3 64.7h0.7v0.7h-0.7zM67.5 73.3h0.7v0.7h-0.7zM49.1 94.0h0.7v0.7h-0.7zM49.1 93.3h0.7v0.7h-0.7zM50.0 86.3h0.7v0.7h-0.7zM48.5 62.9h0.7v0.7h-0.7zM56.6 113.7h0.7v0.7h-0.7zM61.1 105.7h0.7v0.7h-0.7zM67.4 94.1h0.7v0.7h-0.7zM52.7 102.4h0.7v0.7h-0.7zM63.1 61.8h0.7v0.7h-0.7zM48.0 84.6h0.7v0.7h-0.7zM59.0 58.7h0.7v0.7h-0.7zM65.3 88.5h0.7v0.7h-0.7zM67.7 79.8h0.7v0.7h-0.7zM49.5 93.6h0.7v0.7h-0.7zM49.7 96.2h0.7v0.7h-0.7zM67.2 85.8h0.7v0.7h-0.7zM47.7 74.7h0.7v0.7h-0.7zM51.6 108.7h0.7v0.7h-0.7zM49.6 59.6h0.7v0.7h-0.7zM49.4 70.9h0.7v0.7h-0.7zM66.8 92.7h0.7v0.7h-0.7zM47.9 60.8h0.7v0.7h-0.7zM62.0 106.6h0.7v0.7h-0.7zM59.8 111.0h0.7v0.7h-0.7zM55.1 60.2h0.7v0.7h-0.7zM65.5 82.6h0.7v0.7h-0.7zM67.2 67.5h0.7v0.7h-0.7zM66.6 89.5h0.7v0.7h-0.7zM63.5 61.0h0.7v0.7h-0.7zM55.0 112.6h0.7v0.7h-0.7zM50.4 102.4h0.7v0.7h-0.7zM65.6 70.7h0.7v0.7h-0.7zM57.9 61.4h0.7v0.7h-0.7zM49.9 89.5h0.7v0.7h-0.7zM58.0 113.1h0.7v0.7h-0.7zM66.6 63.3h0.7v0.7h-0.7zM60.3 62.2h0.7v0.7h-0.7zM66.8 77.0h0.7v0.7h-0.7zM65.6 73.5h0.7v0.7h-0.7zM66.3 71.5h0.7v0.7h-0.7zM52.6 109.0h0.7v0.7h-0.7zM65.1 83.4h0.7v0.7h-0.7zM66.1 94.6h0.7v0.7h-0.7zM50.1 83.3h0.7v0.7h-0.7zM67.5 94.8h0.7v0.7h-0.7zM47.3 92.0h0.7v0.7h-0.7zM56.4 112.5h0.7v0.7h-0.7zM50.8 81.2h0.7v0.7h-0.7zM64.2 64.3h0.7v0.7h-0.7zM66.2 74.0h0.7v0.7h-0.7zM62.4 106.0h0.7v0.7h-0.7zM67.0 76.7h0.7v0.7h-0.7zM50.9 93.5h0.7v0.7h-0.7zM50.7 101.5h0.7v0.7h-0.7zM59.2 111.4h0.7v0.7h-0.7zM63.4 61.3h0.7v0.7h-0.7zM50.6 68.6h0.7v0.7h-0.7zM55.2 110.7h0.7v0.7h-0.7zM64.5 96.3h0.7v0.7h-0.7zM65.8 84.3h0.7v0.7h-0.7zM60.2 107.6h0.7v0.7h-0.7zM49.6 70.8h0.7v0.7h-0.7zM47.7 70.5h0.7v0.7h-0.7zM49.4 68.7h0.7v0.7h-0.7zM67.2 89.1h0.7v0.7h-0.7zM56.2 61.4h0.7v0.7h-0.7zM47.9 71.5h0.7v0.7h-0.7zM50.6 67.5h0.7v0.7h-0.7zM47.8 74.7h0.7v0.7h-0.7zM60.7 105.8h0.7v0.7h-0.7zM46.4 67.8h0.7v0.7h-0.7zM49.3 82.4h0.7v0.7h-0.7zM60.5 108.6h0.7v0.7h-0.7zM50.6 106.9h0.7v0.7h-0.7zM66.2 77.3h0.7v0.7h-0.7zM64.0 95.7h0.7v0.7h-0.7zM49.0 63.7h0.7v0.7h-0.7zM47.4 91.0h0.7v0.7h-0.7zM52.7 96.8h0.7v0.7h-0.7zM48.1 88.7h0.7v0.7h-0.7zM51.0 91.5h0.7v0.7h-0.7zM49.2 99.7h0.7v0.7h-0.7zM65.9 91.5h0.7v0.7h-0.7zM61.8 102.7h0.7v0.7h-0.7zM49.0 82.1h0.7v0.7h-0.7zM55.4 108.4h0.7v0.7h-0.7zM63.5 99.2h0.7v0.7h-0.7zM67.2 70.1h0.7v0.7h-0.7zM51.5 98.6h0.7v0.7h-0.7zM64.8 83.6h0.7v0.7h-0.7zM64.7 75.5h0.7v0.7h-0.7zM61.4 105.4h0.7v0.7h-0.7zM63.1 96.0h0.7v0.7h-0.7zM53.0 110.7h0.7v0.7h-0.7zM64.9 69.3h0.7v0.7h-0.7zM58.3 59.3h0.7v0.7h-0.7zM67.4 74.4h0.7v0.7h-0.7zM55.1 61.1h0.7v0.7h-0.7zM51.7 97.4h0.7v0.7h-0.7zM49.7 106.5h0.7v0.7h-0.7zM64.1 62.1h0.7v0.7h-0.7zM50.7 76.3h0.7v0.7h-0.7zM53.6 108.0h0.7v0.7h-0.7zM53.0 112.1h0.7v0.7h-0.7zM47.7 66.9h0.7v0.7h-0.7zM66.6 78.6h0.7v0.7h-0.7zM49.7 78.2h0.7v0.7h-0.7zM53.6 59.3h0.7v0.7h-0.7zM65.4 84.7h0.7v0.7h-0.7zM50.9 100.0h0.7v0.7h-0.7zM54.8 58.9h0.7v0.7h-0.7zM55.9 111.2h0.7v0.7h-0.7zM68.6 90.9h0.7v0.7h-0.7zM51.8 62.4h0.7v0.7h-0.7zM61.3 107.6h0.7v0.7h-0.7zM47.0 65.1h0.7v0.7h-0.7zM63.4 94.0h0.7v0.7h-0.7zM50.3 77.1h0.7v0.7h-0.7zM50.6 75.9h0.7v0.7h-0.7zM67.2 86.7h0.7v0.7h-0.7zM55.0 108.4h0.7v0.7h-0.7zM47.6 65.9h0.7v0.7h-0.7zM50.0 86.2h0.7v0.7h-0.7zM47.4 94.7h0.7v0.7h-0.7zM48.7 74.3h0.7v0.7h-0.7zM200.6 87.4h0.7v0.7h-0.7zM196.7 91.3h0.7v0.7h-0.7zM234.1 79.6h0.7v0.7h-0.7zM204.2 85.2h0.7v0.7h-0.7zM216.4 85.9h0.7v0.7h-0.7zM220.2 63.6h0.7v0.7h-0.7zM174.9 77.0h0.7v0.7h-0.7zM204.2 71.2h0.7v0.7h-0.7zM223.5 84.1h0.7v0.7h-0.7zM221.1 82.5h0.7v0.7h-0.7zM194.7 71.6h0.7v0.7h-0.7zM182.1 71.6h0.7v0.7h-0.7zM177.2 106.3h0.7v0.7h-0.7zM213.7 85.6h0.7v0.7h-0.7zM204.8 72.6h0.7v0.7h-0.7zM196.1 98.6h0.7v0.7h-0.7zM219.9 83.1h0.7v0.7h-0.7zM172.5 88.0h0.7v0.7h-0.7zM226.8 82.7h0.7v0.7h-0.7zM224.3 64.2h0.7v0.7h-0.7zM180.0 108.5h0.7v0.7h-0.7zM223.0 82.7h0.7v0.7h-0.7zM173.2 99.6h0.7v0.7h-0.7zM234.6 70.0h0.7v0.7h-0.7zM181.4 71.7h0.7v0.7h-0.7zM182.0 72.7h0.7v0.7h-0.7zM215.7 66.0h0.7v0.7h-0.7zM234.2 66.7h0.7v0.7h-0.7zM190.9 70.8h0.7v0.7h-0.7zM205.7 71.6h0.7v0.7h-0.7zM215.7 67.1h0.7v0.7h-0.7zM173.8 78.2h0.7v0.7h-0.7zM231.7 62.1h0.7v0.7h-0.7zM173.7 94.7h0.7v0.7h-0.7zM178.1 108.5h0.7v0.7h-0.7zM199.6 85.5h0.7v0.7h-0.7zM193.0 106.2h0.7v0.7h-0.7zM211.0 67.0h0.7v0.7h-0.7zM224.4 65.8h0.7v0.7h-0.7zM190.8 107.5h0.7v0.7h-0.7zM234.9 65.5h0.7v0.7h-0.7zM209.0 67.3h0.7v0.7h-0.7zM178.6 75.4h0.7v0.7h-0.7zM225.3 82.1h0.7v0.7h-0.7zM198.3 92.9h0.7v0.7h-0.7zM197.8 94.4h0.7v0.7h-0.7zM189.1 70.5h0.7v0.7h-0.7zM197.2 71.1h0.7v0.7h-0.7zM193.4 67.9h0.7v0.7h-0.7zM201.2 88.5h0.7v0.7h-0.7zM234.9 77.9h0.7v0.7h-0.7zM187.6 69.3h0.7v0.7h-0.7zM209.9 69.1h0.7v0.7h-0.7zM193.0 96.5h0.7v0.7h-0.7zM200.2 88.6h0.7v0.7h-0.7zM225.5 80.5h0.7v0.7h-0.7zM215.9 83.8h0.7v0.7h-0.7zM186.5 110.0h0.7v0.7h-0.7zM197.8 88.8h0.7v0.7h-0.7zM206.7 86.0h0.7v0.7h-0.7zM188.9 69.9h0.7v0.7h-0.7zM210.3 68.3h0.7v0.7h-0.7zM205.8 70.9h0.7v0.7h-0.7zM227.7 66.0h0.7v0.7h-0.7zM174.2 81.8h0.7v0.7h-0.7zM173.7 91.8h0.7v0.7h-0.7zM225.7 64.6h0.7v0.7h-0.7zM195.9 96.1h0.7v0.7h-0.7zM199.4 88.7h0.7v0.7h-0.7zM226.5 64.1h0.7v0.7h-0.7zM201.0 70.7h0.7v0.7h-0.7zM199.3 84.5h0.7v0.7h-0.7zM172.7 86.9h0.7v0.7h-0.7zM196.0 97.0h0.7v0.7h-0.7zM172.0 85.1h0.7v0.7h-0.7zM194.6 72.1h0.7v0.7h-0.7zM211.9 85.2h0.7v0.7h-0.7zM188.8 66.9h0.7v0.7h-0.7zM183.1 74.3h0.7v0.7h-0.7zM231.8 79.7h0.7v0.7h-0.7zM219.3 85.9h0.7v0.7h-0.7zM171.9 83.7h0.7v0.7h-0.7zM174.5 101.1h0.7v0.7h-0.7zM182.8 73.5h0.7v0.7h-0.7zM192.8 70.8h0.7v0.7h-0.7zM191.6 109.2h0.7v0.7h-0.7zM185.6 112.1h0.7v0.7h-0.7zM179.7 72.0h0.7v0.7h-0.7zM199.8 87.9h0.7v0.7h-0.7zM215.6 85.0h0.7v0.7h-0.7zM172.0 85.5h0.7v0.7h-0.7zM209.5 68.6h0.7v0.7h-0.7zM217.2 83.7h0.7v0.7h-0.7zM196.9 71.9h0.7v0.7h-0.7zM209.0 83.7h0.7v0.7h-0.7zM227.1 80.4h0.7v0.7h-0.7zM200.8 70.9h0.7v0.7h-0.7zM176.0 102.1h0.7v0.7h-0.7zM179.7 108.3h0.7v0.7h-0.7zM215.1 85.2h0.7v0.7h-0.7zM196.5 93.1h0.7v0.7h-0.7zM220.9 82.9h0.7v0.7h-0.7zM172.5 92.5h0.7v0.7h-0.7zM182.1 73.7h0.7v0.7h-0.7zM172.7 97.6h0.7v0.7h-0.7zM183.5 69.2h0.7v0.7h-0.7zM226.6 82.3h0.7v0.7h-0.7zM206.2 68.5h0.7v0.7h-0.7zM204.8 70.8h0.7v0.7h-0.7zM190.3 69.7h0.7v0.7h-0.7zM180.1 76.0h0.7v0.7h-0.7zM222.0 83.5h0.7v0.7h-0.7zM185.4 67.5h0.7v0.7h-0.7zM192.2 103.2h0.7v0.7h-0.7zM192.1 104.5h0.7v0.7h-0.7zM210.3 86.1h0.7v0.7h-0.7zM190.3 70.3h0.7v0.7h-0.7zM192.3 105.0h0.7v0.7h-0.7zM213.8 84.4h0.7v0.7h-0.7zM182.1 109.9h0.7v0.7h-0.7zM174.6 79.2h0.7v0.7h-0.7zM180.1 72.7h0.7v0.7h-0.7zM204.2 83.6h0.7v0.7h-0.7zM190.7 108.5h0.7v0.7h-0.7zM190.3 110.3h0.7v0.7h-0.7zM211.9 86.0h0.7v0.7h-0.7zM181.8 75.9h0.7v0.7h-0.7zM193.5 99.3h0.7v0.7h-0.7zM186.6 110.7h0.7v0.7h-0.7zM199.6 85.9h0.7v0.7h-0.7zM220.6 64.8h0.7v0.7h-0.7zM214.7 87.1h0.7v0.7h-0.7zM223.4 84.0h0.7v0.7h-0.7zM178.4 74.6h0.7v0.7h-0.7zM171.6 82.9h0.7v0.7h-0.7zM198.6 89.1h0.7v0.7h-0.7zM195.2 71.4h0.7v0.7h-0.7zM183.9 111.5h0.7v0.7h-0.7zM217.3 64.8h0.7v0.7h-0.7zM187.0 67.0h0.7v0.7h-0.7zM206.6 86.7h0.7v0.7h-0.7zM215.4 64.6h0.7v0.7h-0.7zM176.7 104.7h0.7v0.7h-0.7zM232.3 66.3h0.7v0.7h-0.7zM192.9 69.2h0.7v0.7h-0.7zM194.1 70.5h0.7v0.7h-0.7zM201.1 69.2h0.7v0.7h-0.7zM196.4 70.6h0.7v0.7h-0.7zM226.1 65.6h0.7v0.7h-0.7zM235.8 70.9h0.7v0.7h-0.7zM220.3 63.8h0.7v0.7h-0.7zM174.7 98.4h0.7v0.7h-0.7zM235.8 73.6h0.7v0.7h-0.7zM186.1 70.1h0.7v0.7h-0.7zM171.8 82.8h0.7v0.7h-0.7zM172.4 94.6h0.7v0.7h-0.7zM193.9 104.0h0.7v0.7h-0.7zM174.3 93.4h0.7v0.7h-0.7zM172.9 99.3h0.7v0.7h-0.7zM236.8 71.5h0.7v0.7h-0.7zM178.2 110.5h0.7v0.7h-0.7zM231.9 66.7h0.7v0.7h-0.7zM173.6 95.0h0.7v0.7h-0.7zM216.8 85.5h0.7v0.7h-0.7zM231.8 77.2h0.7v0.7h-0.7zM194.3 99.9h0.7v0.7h-0.7zM194.6 97.1h0.7v0.7h-0.7zM222.0 83.0h0.7v0.7h-0.7zM174.2 97.5h0.7v0.7h-0.7zM208.6 67.1h0.7v0.7h-0.7zM177.2 77.1h0.7v0.7h-0.7zM209.1 66.2h0.7v0.7h-0.7zM214.1 83.9h0.7v0.7h-0.7zM233.5 73.9h0.7v0.7h-0.7zM224.0 84.0h0.7v0.7h-0.7zM214.1 87.7h0.7v0.7h-0.7zM186.3 68.9h0.7v0.7h-0.7zM182.7 112.5h0.7v0.7h-0.7zM222.3 82.0h0.7v0.7h-0.7zM195.2 70.0h0.7v0.7h-0.7zM186.7 69.3h0.7v0.7h-0.7zM220.1 63.4h0.7v0.7h-0.7zM190.8 71.1h0.7v0.7h-0.7zM205.8 68.7h0.7v0.7h-0.7zM174.2 105.3h0.7v0.7h-0.7zM232.8 64.8h0.7v0.7h-0.7zM195.8 93.4h0.7v0.7h-0.7zM184.9 111.1h0.7v0.7h-0.7zM233.1 74.4h0.7v0.7h-0.7zM178.2 77.6h0.7v0.7h-0.7zM172.0 91.4h0.7v0.7h-0.7zM227.5 64.5h0.7v0.7h-0.7zM175.0 106.2h0.7v0.7h-0.7zM183.8 113.6h0.7v0.7h-0.7zM198.1 96.8h0.7v0.7h-0.7zM208.0 84.7h0.7v0.7h-0.7zM230.9 65.0h0.7v0.7h-0.7zM212.6 86.8h0.7v0.7h-0.7zM227.9 81.8h0.7v0.7h-0.7zM217.8 85.4h0.7v0.7h-0.7zM221.4 82.2h0.7v0.7h-0.7zM211.3 84.5h0.7v0.7h-0.7zM229.5 83.0h0.7v0.7h-0.7zM222.6 81.7h0.7v0.7h-0.7zM186.0 113.0h0.7v0.7h-0.7zM227.3 62.2h0.7v0.7h-0.7zM194.5 71.7h0.7v0.7h-0.7zM231.1 79.4h0.7v0.7h-0.7zM222.8 64.8h0.7v0.7h-0.7zM178.2 75.8h0.7v0.7h-0.7zM234.9 75.2h0.7v0.7h-0.7zM227.7 82.1h0.7v0.7h-0.7zM180.3 75.1h0.7v0.7h-0.7zM196.3 69.6h0.7v0.7h-0.7zM177.0 105.2h0.7v0.7h-0.7zM233.5 73.8h0.7v0.7h-0.7zM213.8 64.0h0.7v0.7h-0.7zM191.5 108.2h0.7v0.7h-0.7zM192.8 101.4h0.7v0.7h-0.7zM195.6 98.5h0.7v0.7h-0.7zM217.7 65.4h0.7v0.7h-0.7zM177.7 76.6h0.7v0.7h-0.7zM221.7 64.1h0.7v0.7h-0.7zM172.4 99.5h0.7v0.7h-0.7zM198.3 90.5h0.7v0.7h-0.7zM185.3 112.3h0.7v0.7h-0.7zM213.5 63.9h0.7v0.7h-0.7zM190.5 70.7h0.7v0.7h-0.7zM230.6 79.4h0.7v0.7h-0.7zM193.3 101.7h0.7v0.7h-0.7zM192.3 108.5h0.7v0.7h-0.7zM215.6 65.6h0.7v0.7h-0.7zM233.8 74.5h0.7v0.7h-0.7zM236.8 73.6h0.7v0.7h-0.7zM171.9 82.7h0.7v0.7h-0.7zM192.5 107.0h0.7v0.7h-0.7zM189.9 66.8h0.7v0.7h-0.7zM206.4 69.8h0.7v0.7h-0.7zM174.7 102.6h0.7v0.7h-0.7zM200.5 89.1h0.7v0.7h-0.7zM184.5 71.0h0.7v0.7h-0.7zM233.7 72.4h0.7v0.7h-0.7zM189.5 70.3h0.7v0.7h-0.7zM232.7 76.4h0.7v0.7h-0.7zM197.1 71.6h0.7v0.7h-0.7zM174.1 94.1h0.7v0.7h-0.7zM193.7 104.9h0.7v0.7h-0.7zM177.1 77.1h0.7v0.7h-0.7zM232.8 79.1h0.7v0.7h-0.7zM186.6 69.9h0.7v0.7h-0.7zM202.1 85.3h0.7v0.7h-0.7zM229.7 65.8h0.7v0.7h-0.7zM180.4 71.2h0.7v0.7h-0.7zM195.3 98.6h0.7v0.7h-0.7zM221.1 65.9h0.7v0.7h-0.7zM185.6 72.2h0.7v0.7h-0.7zM215.1 82.6h0.7v0.7h-0.7zM178.5 110.8h0.7v0.7h-0.7zM218.0 66.9h0.7v0.7h-0.7zM203.9 70.2h0.7v0.7h-0.7zM183.1 111.9h0.7v0.7h-0.7zM175.1 93.7h0.7v0.7h-0.7zM174.7 77.7h0.7v0.7h-0.7zM214.8 63.2h0.7v0.7h-0.7zM226.1 82.5h0.7v0.7h-0.7zM208.3 65.5h0.7v0.7h-0.7zM229.2 65.1h0.7v0.7h-0.7zM235.7 66.0h0.7v0.7h-0.7zM211.1 83.8h0.7v0.7h-0.7zM174.4 94.9h0.7v0.7h-0.7zM206.9 67.9h0.7v0.7h-0.7zM237.3 73.0h0.7v0.7h-0.7zM196.7 87.6h0.7v0.7h-0.7zM190.3 104.5h0.7v0.7h-0.7zM187.2 67.0h0.7v0.7h-0.7zM174.0 100.8h0.7v0.7h-0.7zM181.6 109.2h0.7v0.7h-0.7zM203.1 86.9h0.7v0.7h-0.7zM174.7 101.2h0.7v0.7h-0.7zM186.5 109.4h0.7v0.7h-0.7zM216.7 85.1h0.7v0.7h-0.7zM189.2 70.1h0.7v0.7h-0.7zM215.1 63.8h0.7v0.7h-0.7zM177.7 78.9h0.7v0.7h-0.7zM173.9 93.8h0.7v0.7h-0.7zM197.3 93.9h0.7v0.7h-0.7zM233.1 74.6h0.7v0.7h-0.7zM176.5 101.4h0.7v0.7h-0.7zM176.8 102.3h0.7v0.7h-0.7zM177.7 74.0h0.7v0.7h-0.7zM182.4 73.0h0.7v0.7h-0.7zM173.3 94.7h0.7v0.7h-0.7zM212.6 67.2h0.7v0.7h-0.7zM204.7 85.7h0.7v0.7h-0.7zM171.6 88.3h0.7v0.7h-0.7zM180.7 109.7h0.7v0.7h-0.7zM185.1 72.5h0.7v0.7h-0.7zM182.2 109.7h0.7v0.7h-0.7zM174.8 104.3h0.7v0.7h-0.7zM195.3 94.9h0.7v0.7h-0.7zM215.0 84.8h0.7v0.7h-0.7zM214.4 67.0h0.7v0.7h-0.7zM193.3 102.7h0.7v0.7h-0.7zM174.8 95.0h0.7v0.7h-0.7zM174.5 106.3h0.7v0.7h-0.7zM235.6 69.9h0.7v0.7h-0.7zM210.9 67.4h0.7v0.7h-0.7zM175.0 105.8h0.7v0.7h-0.7zM203.4 87.4h0.7v0.7h-0.7zM217.9 84.4h0.7v0.7h-0.7zM184.2 112.5h0.7v0.7h-0.7zM179.9 77.0h0.7v0.7h-0.7zM202.0 85.4h0.7v0.7h-0.7zM220.4 82.0h0.7v0.7h-0.7zM194.2 107.1h0.7v0.7h-0.7zM174.0 99.4h0.7v0.7h-0.7zM171.8 82.3h0.7v0.7h-0.7zM175.8 101.4h0.7v0.7h-0.7zM219.8 65.0h0.7v0.7h-0.7zM208.3 70.3h0.7v0.7h-0.7zM195.7 72.3h0.7v0.7h-0.7zM183.2 109.9h0.7v0.7h-0.7zM211.2 84.3h0.7v0.7h-0.7zM237.2 69.9h0.7v0.7h-0.7zM172.4 94.8h0.7v0.7h-0.7zM190.7 110.4h0.7v0.7h-0.7zM192.4 107.7h0.7v0.7h-0.7zM177.7 76.9h0.7v0.7h-0.7zM192.1 108.5h0.7v0.7h-0.7zM184.6 111.5h0.7v0.7h-0.7zM233.6 67.7h0.7v0.7h-0.7zM192.7 104.2h0.7v0.7h-0.7zM172.9 84.9h0.7v0.7h-0.7zM234.3 70.9h0.7v0.7h-0.7zM194.0 104.3h0.7v0.7h-0.7zM233.5 68.4h0.7v0.7h-0.7zM214.8 65.7h0.7v0.7h-0.7zM199.3 89.3h0.7v0.7h-0.7zM174.6 104.4h0.7v0.7h-0.7zM233.8 73.7h0.7v0.7h-0.7zM205.0 87.2h0.7v0.7h-0.7zM200.2 88.1h0.7v0.7h-0.7zM224.0 84.6h0.7v0.7h-0.7zM177.7 76.5h0.7v0.7h-0.7zM226.8 82.4h0.7v0.7h-0.7zM190.4 67.8h0.7v0.7h-0.7zM171.1 85.7h0.7v0.7h-0.7zM210.1 87.0h0.7v0.7h-0.7zM195.6 95.1h0.7v0.7h-0.7zM173.1 86.2h0.7v0.7h-0.7zM221.6 83.8h0.7v0.7h-0.7zM228.8 85.9h0.7v0.7h-0.7zM210.7 96.4h0.7v0.7h-0.7zM205.6 88.1h0.7v0.7h-0.7zM207.5 89.5h0.7v0.7h-0.7zM218.7 94.2h0.7v0.7h-0.7zM206.8 98.5h0.7v0.7h-0.7zM208.8 85.0h0.7v0.7h-0.7zM207.8 86.3h0.7v0.7h-0.7zM208.4 89.0h0.7v0.7h-0.7zM220.0 88.4h0.7v0.7h-0.7zM215.4 91.0h0.7v0.7h-0.7zM317.2 72.0h0.7v0.7h-0.7zM311.8 109.7h0.7v0.7h-0.7zM309.5 110.5h0.7v0.7h-0.7zM298.1 76.3h0.7v0.7h-0.7zM323.2 83.7h0.7v0.7h-0.7zM298.8 72.6h0.7v0.7h-0.7zM318.9 70.3h0.7v0.7h-0.7zM353.5 80.5h0.7v0.7h-0.7zM327.8 80.6h0.7v0.7h-0.7zM347.8 66.6h0.7v0.7h-0.7zM336.6 66.3h0.7v0.7h-0.7zM337.6 68.8h0.7v0.7h-0.7zM329.4 69.8h0.7v0.7h-0.7zM332.2 70.5h0.7v0.7h-0.7zM322.1 81.4h0.7v0.7h-0.7zM352.0 65.8h0.7v0.7h-0.7zM336.6 82.5h0.7v0.7h-0.7zM354.1 65.9h0.7v0.7h-0.7zM360.0 73.7h0.7v0.7h-0.7zM295.7 101.4h0.7v0.7h-0.7zM315.6 97.9h0.7v0.7h-0.7zM345.0 67.6h0.7v0.7h-0.7zM301.6 72.6h0.7v0.7h-0.7zM356.9 73.1h0.7v0.7h-0.7zM320.2 84.9h0.7v0.7h-0.7zM314.5 102.9h0.7v0.7h-0.7zM357.1 78.4h0.7v0.7h-0.7zM337.0 67.3h0.7v0.7h-0.7zM318.7 86.4h0.7v0.7h-0.7zM352.1 65.6h0.7v0.7h-0.7zM330.6 82.1h0.7v0.7h-0.7zM336.3 67.1h0.7v0.7h-0.7zM300.6 74.6h0.7v0.7h-0.7zM293.4 91.0h0.7v0.7h-0.7zM354.8 80.5h0.7v0.7h-0.7zM295.3 80.3h0.7v0.7h-0.7zM298.4 105.3h0.7v0.7h-0.7zM333.3 67.9h0.7v0.7h-0.7zM298.0 75.0h0.7v0.7h-0.7zM356.3 79.7h0.7v0.7h-0.7zM296.2 77.3h0.7v0.7h-0.7zM299.4 104.7h0.7v0.7h-0.7zM308.6 110.2h0.7v0.7h-0.7zM332.5 79.9h0.7v0.7h-0.7zM318.6 72.6h0.7v0.7h-0.7zM352.1 83.7h0.7v0.7h-0.7zM354.7 68.5h0.7v0.7h-0.7zM360.7 70.6h0.7v0.7h-0.7zM294.1 93.6h0.7v0.7h-0.7zM319.3 94.7h0.7v0.7h-0.7zM301.7 71.2h0.7v0.7h-0.7zM331.5 82.7h0.7v0.7h-0.7zM304.3 111.2h0.7v0.7h-0.7zM358.8 68.3h0.7v0.7h-0.7zM308.5 112.0h0.7v0.7h-0.7zM336.3 67.9h0.7v0.7h-0.7zM336.5 85.1h0.7v0.7h-0.7zM354.5 67.4h0.7v0.7h-0.7zM347.9 66.4h0.7v0.7h-0.7zM308.9 68.9h0.7v0.7h-0.7zM301.8 73.6h0.7v0.7h-0.7zM312.7 105.9h0.7v0.7h-0.7zM328.8 72.6h0.7v0.7h-0.7zM328.9 83.1h0.7v0.7h-0.7zM356.4 76.4h0.7v0.7h-0.7zM305.5 110.1h0.7v0.7h-0.7zM346.8 82.7h0.7v0.7h-0.7zM310.7 112.8h0.7v0.7h-0.7zM320.7 87.0h0.7v0.7h-0.7zM316.6 95.5h0.7v0.7h-0.7zM340.2 84.4h0.7v0.7h-0.7zM352.7 84.6h0.7v0.7h-0.7zM300.9 102.3h0.7v0.7h-0.7zM303.8 109.1h0.7v0.7h-0.7zM298.4 102.4h0.7v0.7h-0.7zM315.7 70.4h0.7v0.7h-0.7zM293.0 86.6h0.7v0.7h-0.7zM314.5 104.1h0.7v0.7h-0.7zM319.7 90.0h0.7v0.7h-0.7zM328.9 70.9h0.7v0.7h-0.7zM317.1 88.9h0.7v0.7h-0.7zM328.3 71.8h0.7v0.7h-0.7zM323.4 80.7h0.7v0.7h-0.7zM314.1 103.1h0.7v0.7h-0.7zM310.3 110.0h0.7v0.7h-0.7zM324.5 83.3h0.7v0.7h-0.7zM315.3 105.2h0.7v0.7h-0.7zM307.7 70.2h0.7v0.7h-0.7zM302.5 112.0h0.7v0.7h-0.7zM340.0 68.6h0.7v0.7h-0.7zM311.9 67.9h0.7v0.7h-0.7zM329.7 80.0h0.7v0.7h-0.7zM356.3 67.0h0.7v0.7h-0.7zM298.9 73.5h0.7v0.7h-0.7zM307.9 67.0h0.7v0.7h-0.7zM360.1 77.8h0.7v0.7h-0.7zM352.0 82.4h0.7v0.7h-0.7zM327.6 70.0h0.7v0.7h-0.7zM300.3 75.2h0.7v0.7h-0.7zM346.9 67.2h0.7v0.7h-0.7zM307.8 111.5h0.7v0.7h-0.7zM327.9 82.7h0.7v0.7h-0.7zM298.3 75.5h0.7v0.7h-0.7zM356.6 67.6h0.7v0.7h-0.7zM344.0 83.2h0.7v0.7h-0.7zM304.4 73.9h0.7v0.7h-0.7zM338.7 82.6h0.7v0.7h-0.7zM298.7 100.6h0.7v0.7h-0.7zM326.8 70.3h0.7v0.7h-0.7zM301.5 74.9h0.7v0.7h-0.7zM314.8 103.3h0.7v0.7h-0.7zM332.0 68.4h0.7v0.7h-0.7zM331.4 70.0h0.7v0.7h-0.7zM357.6 80.7h0.7v0.7h-0.7zM328.2 81.6h0.7v0.7h-0.7zM349.2 66.7h0.7v0.7h-0.7zM344.7 66.0h0.7v0.7h-0.7zM356.6 70.4h0.7v0.7h-0.7zM322.0 72.5h0.7v0.7h-0.7zM339.4 65.3h0.7v0.7h-0.7zM322.7 71.9h0.7v0.7h-0.7zM332.9 70.8h0.7v0.7h-0.7zM296.4 101.9h0.7v0.7h-0.7zM328.5 70.5h0.7v0.7h-0.7zM353.0 69.1h0.7v0.7h-0.7zM293.8 94.7h0.7v0.7h-0.7zM309.9 69.6h0.7v0.7h-0.7zM304.9 69.9h0.7v0.7h-0.7zM321.5 88.4h0.7v0.7h-0.7zM358.2 79.3h0.7v0.7h-0.7zM322.1 82.8h0.7v0.7h-0.7zM323.4 71.6h0.7v0.7h-0.7zM304.3 112.9h0.7v0.7h-0.7zM301.4 106.0h0.7v0.7h-0.7zM357.0 69.3h0.7v0.7h-0.7zM315.1 100.8h0.7v0.7h-0.7zM296.4 93.6h0.7v0.7h-0.7zM294.0 82.3h0.7v0.7h-0.7zM349.9 85.3h0.7v0.7h-0.7zM314.2 70.2h0.7v0.7h-0.7zM319.7 83.2h0.7v0.7h-0.7zM359.2 68.2h0.7v0.7h-0.7zM297.7 77.0h0.7v0.7h-0.7zM321.6 85.9h0.7v0.7h-0.7zM322.0 71.3h0.7v0.7h-0.7zM336.6 84.3h0.7v0.7h-0.7zM339.7 82.0h0.7v0.7h-0.7zM330.1 69.5h0.7v0.7h-0.7zM304.0 110.0h0.7v0.7h-0.7zM306.7 110.9h0.7v0.7h-0.7zM351.1 85.3h0.7v0.7h-0.7zM310.6 69.9h0.7v0.7h-0.7zM299.8 75.7h0.7v0.7h-0.7zM326.3 78.9h0.7v0.7h-0.7zM343.4 83.6h0.7v0.7h-0.7zM318.2 69.0h0.7v0.7h-0.7zM316.6 69.4h0.7v0.7h-0.7zM319.7 92.4h0.7v0.7h-0.7zM304.9 111.2h0.7v0.7h-0.7zM324.6 81.8h0.7v0.7h-0.7zM304.5 71.7h0.7v0.7h-0.7zM302.1 105.3h0.7v0.7h-0.7zM325.5 72.4h0.7v0.7h-0.7zM293.3 87.8h0.7v0.7h-0.7zM295.4 86.4h0.7v0.7h-0.7zM296.6 101.0h0.7v0.7h-0.7zM310.7 108.3h0.7v0.7h-0.7zM348.1 68.8h0.7v0.7h-0.7zM347.1 85.8h0.7v0.7h-0.7zM326.2 71.5h0.7v0.7h-0.7zM297.5 100.4h0.7v0.7h-0.7zM314.1 104.4h0.7v0.7h-0.7zM300.8 74.9h0.7v0.7h-0.7zM323.4 71.0h0.7v0.7h-0.7zM320.3 91.4h0.7v0.7h-0.7zM308.7 111.6h0.7v0.7h-0.7zM356.5 67.5h0.7v0.7h-0.7zM302.0 110.4h0.7v0.7h-0.7zM294.0 83.5h0.7v0.7h-0.7zM295.0 74.9h0.7v0.7h-0.7zM323.0 70.2h0.7v0.7h-0.7zM320.4 70.8h0.7v0.7h-0.7zM304.2 69.8h0.7v0.7h-0.7zM354.2 68.1h0.7v0.7h-0.7zM308.2 70.4h0.7v0.7h-0.7zM355.6 82.1h0.7v0.7h-0.7zM309.5 70.2h0.7v0.7h-0.7zM314.2 101.4h0.7v0.7h-0.7zM320.5 73.4h0.7v0.7h-0.7zM357.1 79.8h0.7v0.7h-0.7zM340.3 85.2h0.7v0.7h-0.7zM301.6 107.2h0.7v0.7h-0.7zM314.7 104.8h0.7v0.7h-0.7zM357.2 68.9h0.7v0.7h-0.7zM334.8 83.6h0.7v0.7h-0.7zM343.9 67.4h0.7v0.7h-0.7zM354.9 67.8h0.7v0.7h-0.7zM335.7 80.4h0.7v0.7h-0.7zM318.4 95.0h0.7v0.7h-0.7zM323.2 72.2h0.7v0.7h-0.7zM298.0 99.4h0.7v0.7h-0.7zM329.3 71.1h0.7v0.7h-0.7zM334.9 81.6h0.7v0.7h-0.7zM312.5 111.3h0.7v0.7h-0.7zM305.1 70.4h0.7v0.7h-0.7zM355.2 81.0h0.7v0.7h-0.7zM303.0 110.1h0.7v0.7h-0.7zM306.2 113.7h0.7v0.7h-0.7zM311.7 67.8h0.7v0.7h-0.7zM300.8 108.1h0.7v0.7h-0.7zM295.6 77.4h0.7v0.7h-0.7zM297.0 79.7h0.7v0.7h-0.7zM361.9 73.2h0.7v0.7h-0.7zM319.6 72.3h0.7v0.7h-0.7zM337.4 85.3h0.7v0.7h-0.7zM294.8 87.7h0.7v0.7h-0.7zM312.1 110.6h0.7v0.7h-0.7zM325.5 69.5h0.7v0.7h-0.7zM321.6 87.5h0.7v0.7h-0.7zM349.5 84.1h0.7v0.7h-0.7zM356.3 81.4h0.7v0.7h-0.7zM359.3 71.3h0.7v0.7h-0.7zM354.0 65.6h0.7v0.7h-0.7zM348.5 67.6h0.7v0.7h-0.7zM349.9 65.5h0.7v0.7h-0.7zM307.1 113.4h0.7v0.7h-0.7zM358.9 76.4h0.7v0.7h-0.7zM341.8 83.1h0.7v0.7h-0.7zM295.7 86.7h0.7v0.7h-0.7zM338.2 83.8h0.7v0.7h-0.7zM303.7 108.3h0.7v0.7h-0.7zM322.8 71.8h0.7v0.7h-0.7zM302.8 69.7h0.7v0.7h-0.7zM357.5 69.4h0.7v0.7h-0.7zM310.9 107.5h0.7v0.7h-0.7zM356.1 68.4h0.7v0.7h-0.7zM346.4 68.8h0.7v0.7h-0.7zM327.8 69.1h0.7v0.7h-0.7zM358.6 67.8h0.7v0.7h-0.7zM359.1 78.5h0.7v0.7h-0.7zM309.1 70.2h0.7v0.7h-0.7zM336.8 85.7h0.7v0.7h-0.7zM335.4 82.4h0.7v0.7h-0.7zM328.0 79.8h0.7v0.7h-0.7zM320.6 85.2h0.7v0.7h-0.7zM299.8 102.9h0.7v0.7h-0.7zM307.8 72.2h0.7v0.7h-0.7zM356.9 83.5h0.7v0.7h-0.7zM344.2 67.5h0.7v0.7h-0.7zM296.1 96.6h0.7v0.7h-0.7zM323.6 69.7h0.7v0.7h-0.7zM304.9 69.4h0.7v0.7h-0.7zM314.6 71.8h0.7v0.7h-0.7zM314.4 104.9h0.7v0.7h-0.7zM318.6 87.1h0.7v0.7h-0.7zM294.6 85.1h0.7v0.7h-0.7zM344.3 85.5h0.7v0.7h-0.7zM333.8 80.0h0.7v0.7h-0.7zM310.9 68.9h0.7v0.7h-0.7zM349.2 86.1h0.7v0.7h-0.7zM330.9 67.8h0.7v0.7h-0.7zM360.9 75.9h0.7v0.7h-0.7zM339.5 67.0h0.7v0.7h-0.7zM297.2 77.3h0.7v0.7h-0.7zM341.5 65.5h0.7v0.7h-0.7zM314.9 69.4h0.7v0.7h-0.7zM321.3 82.3h0.7v0.7h-0.7zM303.2 112.5h0.7v0.7h-0.7zM321.9 83.6h0.7v0.7h-0.7zM297.7 99.8h0.7v0.7h-0.7zM301.4 106.0h0.7v0.7h-0.7zM298.7 100.3h0.7v0.7h-0.7zM351.7 67.3h0.7v0.7h-0.7zM348.8 83.1h0.7v0.7h-0.7zM321.7 70.1h0.7v0.7h-0.7zM321.7 71.9h0.7v0.7h-0.7zM342.2 86.3h0.7v0.7h-0.7zM332.7 68.4h0.7v0.7h-0.7zM296.9 99.5h0.7v0.7h-0.7zM355.2 66.5h0.7v0.7h-0.7zM359.3 78.0h0.7v0.7h-0.7zM301.7 104.5h0.7v0.7h-0.7zM295.1 97.9h0.7v0.7h-0.7zM293.5 85.9h0.7v0.7h-0.7zM337.0 81.3h0.7v0.7h-0.7zM317.1 94.9h0.7v0.7h-0.7zM349.0 84.4h0.7v0.7h-0.7zM300.2 108.1h0.7v0.7h-0.7zM340.9 85.3h0.7v0.7h-0.7zM295.9 101.6h0.7v0.7h-0.7zM319.3 86.9h0.7v0.7h-0.7zM336.5 69.5h0.7v0.7h-0.7zM345.3 86.4h0.7v0.7h-0.7zM358.5 70.9h0.7v0.7h-0.7zM335.8 68.2h0.7v0.7h-0.7zM301.5 108.8h0.7v0.7h-0.7zM334.6 70.7h0.7v0.7h-0.7zM335.7 83.1h0.7v0.7h-0.7zM327.1 78.7h0.7v0.7h-0.7zM354.6 67.4h0.7v0.7h-0.7zM319.0 88.0h0.7v0.7h-0.7zM358.1 67.4h0.7v0.7h-0.7zM298.7 102.2h0.7v0.7h-0.7zM343.4 65.9h0.7v0.7h-0.7zM332.8 83.3h0.7v0.7h-0.7zM358.1 69.5h0.7v0.7h-0.7zM318.4 71.2h0.7v0.7h-0.7zM324.9 69.4h0.7v0.7h-0.7zM297.1 99.0h0.7v0.7h-0.7zM311.7 107.7h0.7v0.7h-0.7zM316.9 99.3h0.7v0.7h-0.7zM356.6 71.1h0.7v0.7h-0.7zM332.1 68.1h0.7v0.7h-0.7zM313.7 68.5h0.7v0.7h-0.7zM334.8 68.1h0.7v0.7h-0.7zM319.0 96.4h0.7v0.7h-0.7zM304.7 108.7h0.7v0.7h-0.7zM298.7 100.8h0.7v0.7h-0.7zM356.8 68.4h0.7v0.7h-0.7zM318.4 87.7h0.7v0.7h-0.7zM294.5 85.9h0.7v0.7h-0.7zM312.1 70.4h0.7v0.7h-0.7zM357.2 80.4h0.7v0.7h-0.7zM342.2 83.8h0.7v0.7h-0.7zM342.0 67.6h0.7v0.7h-0.7zM322.4 71.1h0.7v0.7h-0.7zM349.8 64.3h0.7v0.7h-0.7zM334.1 66.8h0.7v0.7h-0.7zM294.7 87.7h0.7v0.7h-0.7zM337.3 81.4h0.7v0.7h-0.7zM349.1 67.6h0.7v0.7h-0.7zM314.2 69.2h0.7v0.7h-0.7zM312.4 107.2h0.7v0.7h-0.7zM323.3 81.7h0.7v0.7h-0.7zM302.6 73.1h0.7v0.7h-0.7zM335.4 83.3h0.7v0.7h-0.7zM295.7 99.9h0.7v0.7h-0.7zM309.4 111.9h0.7v0.7h-0.7zM319.0 87.8h0.7v0.7h-0.7zM319.1 71.8h0.7v0.7h-0.7zM313.9 105.2h0.7v0.7h-0.7zM311.2 111.5h0.7v0.7h-0.7zM294.6 88.8h0.7v0.7h-0.7zM293.6 78.2h0.7v0.7h-0.7zM314.3 109.0h0.7v0.7h-0.7zM303.3 108.8h0.7v0.7h-0.7zM352.1 83.9h0.7v0.7h-0.7zM313.4 70.0h0.7v0.7h-0.7zM359.7 74.1h0.7v0.7h-0.7zM299.8 106.8h0.7v0.7h-0.7zM341.9 83.7h0.7v0.7h-0.7zM315.4 69.5h0.7v0.7h-0.7zM331.2 82.0h0.7v0.7h-0.7zM320.8 70.9h0.7v0.7h-0.7zM338.7 65.6h0.7v0.7h-0.7zM331.8 88.3h0.7v0.7h-0.7zM324.3 94.1h0.7v0.7h-0.7zM330.7 104.9h0.7v0.7h-0.7zM328.9 86.9h0.7v0.7h-0.7zM330.1 90.4h0.7v0.7h-0.7zM330.8 87.9h0.7v0.7h-0.7zM343.3 93.5h0.7v0.7h-0.7zM345.6 84.9h0.7v0.7h-0.7zM423.2 82.5h0.7v0.7h-0.7zM422.4 87.3h0.7v0.7h-0.7zM437.6 99.1h0.7v0.7h-0.7zM440.9 93.2h0.7v0.7h-0.7zM443.1 85.0h0.7v0.7h-0.7zM427.0 98.9h0.7v0.7h-0.7zM438.5 101.9h0.7v0.7h-0.7zM423.7 96.6h0.7v0.7h-0.7zM433.0 66.5h0.7v0.7h-0.7zM443.4 87.2h0.7v0.7h-0.7zM440.4 100.5h0.7v0.7h-0.7zM438.1 66.8h0.7v0.7h-0.7zM427.0 79.0h0.7v0.7h-0.7zM425.4 77.6h0.7v0.7h-0.7zM442.8 82.5h0.7v0.7h-0.7zM426.2 74.8h0.7v0.7h-0.7zM443.0 75.3h0.7v0.7h-0.7zM427.1 99.9h0.7v0.7h-0.7zM442.3 89.1h0.7v0.7h-0.7zM424.9 98.4h0.7v0.7h-0.7zM429.3 101.9h0.7v0.7h-0.7zM424.5 91.1h0.7v0.7h-0.7zM446.1 79.7h0.7v0.7h-0.7zM426.0 75.9h0.7v0.7h-0.7zM425.8 99.2h0.7v0.7h-0.7zM429.0 107.9h0.7v0.7h-0.7zM433.7 108.0h0.7v0.7h-0.7zM431.1 70.0h0.7v0.7h-0.7zM441.9 88.7h0.7v0.7h-0.7zM444.9 72.2h0.7v0.7h-0.7zM425.0 90.6h0.7v0.7h-0.7zM444.1 91.3h0.7v0.7h-0.7zM444.4 82.1h0.7v0.7h-0.7zM436.7 68.0h0.7v0.7h-0.7zM433.3 69.2h0.7v0.7h-0.7zM430.7 66.9h0.7v0.7h-0.7zM425.3 98.2h0.7v0.7h-0.7zM442.9 69.1h0.7v0.7h-0.7zM425.9 100.9h0.7v0.7h-0.7zM442.9 86.9h0.7v0.7h-0.7zM435.3 107.3h0.7v0.7h-0.7zM442.1 90.3h0.7v0.7h-0.7zM441.7 70.0h0.7v0.7h-0.7zM440.6 89.2h0.7v0.7h-0.7zM443.8 73.2h0.7v0.7h-0.7zM424.8 90.5h0.7v0.7h-0.7zM446.2 70.3h0.7v0.7h-0.7zM445.1 72.4h0.7v0.7h-0.7zM444.1 90.9h0.7v0.7h-0.7zM427.6 72.0h0.7v0.7h-0.7zM440.1 97.7h0.7v0.7h-0.7zM445.6 72.1h0.7v0.7h-0.7zM443.5 73.4h0.7v0.7h-0.7zM439.3 97.9h0.7v0.7h-0.7zM428.7 71.0h0.7v0.7h-0.7zM445.3 77.5h0.7v0.7h-0.7zM423.5 90.4h0.7v0.7h-0.7zM423.8 91.9h0.7v0.7h-0.7zM429.5 104.5h0.7v0.7h-0.7zM437.1 68.4h0.7v0.7h-0.7zM437.9 100.8h0.7v0.7h-0.7zM423.4 82.5h0.7v0.7h-0.7zM438.3 68.1h0.7v0.7h-0.7zM427.9 71.0h0.7v0.7h-0.7zM441.9 98.7h0.7v0.7h-0.7zM444.4 71.5h0.7v0.7h-0.7zM425.0 102.7h0.7v0.7h-0.7zM443.1 87.2h0.7v0.7h-0.7zM427.6 75.2h0.7v0.7h-0.7zM445.9 81.8h0.7v0.7h-0.7zM437.7 69.1h0.7v0.7h-0.7zM445.1 84.0h0.7v0.7h-0.7zM440.1 67.9h0.7v0.7h-0.7zM443.8 69.1h0.7v0.7h-0.7zM425.3 98.8h0.7v0.7h-0.7zM429.8 68.2h0.7v0.7h-0.7zM428.9 107.5h0.7v0.7h-0.7zM430.3 70.0h0.7v0.7h-0.7zM424.2 89.5h0.7v0.7h-0.7zM442.4 96.8h0.7v0.7h-0.7zM424.0 82.4h0.7v0.7h-0.7zM438.3 105.0h0.7v0.7h-0.7zM443.6 90.9h0.7v0.7h-0.7zM436.5 68.4h0.7v0.7h-0.7zM442.9 84.0h0.7v0.7h-0.7zM432.1 108.9h0.7v0.7h-0.7zM428.1 102.8h0.7v0.7h-0.7zM424.8 83.5h0.7v0.7h-0.7zM426.3 81.4h0.7v0.7h-0.7zM424.4 79.0h0.7v0.7h-0.7zM437.5 107.1h0.7v0.7h-0.7zM437.8 68.0h0.7v0.7h-0.7zM426.6 101.8h0.7v0.7h-0.7zM439.3 103.9h0.7v0.7h-0.7zM442.2 84.7h0.7v0.7h-0.7zM440.5 94.3h0.7v0.7h-0.7zM423.5 85.1h0.7v0.7h-0.7zM440.9 70.1h0.7v0.7h-0.7zM433.5 109.2h0.7v0.7h-0.7zM429.8 71.6h0.7v0.7h-0.7zM430.7 70.0h0.7v0.7h-0.7zM433.9 107.8h0.7v0.7h-0.7zM441.3 93.0h0.7v0.7h-0.7zM422.6 88.1h0.7v0.7h-0.7zM438.5 101.9h0.7v0.7h-0.7zM441.9 95.9h0.7v0.7h-0.7zM441.1 99.7h0.7v0.7h-0.7zM443.1 69.9h0.7v0.7h-0.7zM436.6 106.0h0.7v0.7h-0.7zM444.7 76.8h0.7v0.7h-0.7zM441.9 86.7h0.7v0.7h-0.7zM431.6 69.2h0.7v0.7h-0.7zM442.5 69.3h0.7v0.7h-0.7zM425.1 76.6h0.7v0.7h-0.7zM426.6 83.6h0.7v0.7h-0.7zM443.5 70.4h0.7v0.7h-0.7zM438.5 99.8h0.7v0.7h-0.7zM440.8 103.0h0.7v0.7h-0.7zM427.7 94.4h0.7v0.7h-0.7zM425.4 97.8h0.7v0.7h-0.7zM423.7 81.5h0.7v0.7h-0.7zM444.2 91.2h0.7v0.7h-0.7zM427.0 80.0h0.7v0.7h-0.7zM424.4 87.6h0.7v0.7h-0.7zM425.0 84.9h0.7v0.7h-0.7zM435.6 66.0h0.7v0.7h-0.7zM434.9 107.7h0.7v0.7h-0.7zM427.4 76.3h0.7v0.7h-0.7zM443.7 72.3h0.7v0.7h-0.7zM441.8 96.8h0.7v0.7h-0.7zM442.5 85.3h0.7v0.7h-0.7zM423.7 83.6h0.7v0.7h-0.7zM441.4 95.9h0.7v0.7h-0.7zM433.1 109.5h0.7v0.7h-0.7zM443.5 80.5h0.7v0.7h-0.7zM443.0 95.7h0.7v0.7h-0.7zM437.5 102.2h0.7v0.7h-0.7zM426.5 102.1h0.7v0.7h-0.7zM443.6 73.8h0.7v0.7h-0.7zM445.6 81.9h0.7v0.7h-0.7zM425.5 88.7h0.7v0.7h-0.7zM428.6 69.6h0.7v0.7h-0.7zM438.7 100.1h0.7v0.7h-0.7zM444.7 69.9h0.7v0.7h-0.7zM444.3 77.2h0.7v0.7h-0.7zM427.9 95.8h0.7v0.7h-0.7zM423.0 90.3h0.7v0.7h-0.7zM442.6 94.9h0.7v0.7h-0.7zM425.8 102.3h0.7v0.7h-0.7zM423.7 86.9h0.7v0.7h-0.7zM442.7 85.6h0.7v0.7h-0.7zM443.7 76.1h0.7v0.7h-0.7zM426.9 91.6h0.7v0.7h-0.7zM442.5 88.0h0.7v0.7h-0.7zM426.5 103.4h0.7v0.7h-0.7zM445.8 82.5h0.7v0.7h-0.7zM425.9 82.9h0.7v0.7h-0.7zM445.8 72.8h0.7v0.7h-0.7zM445.3 88.1h0.7v0.7h-0.7zM442.7 84.8h0.7v0.7h-0.7zM432.9 107.2h0.7v0.7h-0.7zM431.0 67.6h0.7v0.7h-0.7zM439.9 91.8h0.7v0.7h-0.7zM430.8 108.9h0.7v0.7h-0.7zM429.8 108.6h0.7v0.7h-0.7zM424.1 91.1h0.7v0.7h-0.7zM441.0 70.2h0.7v0.7h-0.7zM426.7 74.8h0.7v0.7h-0.7zM428.7 105.3h0.7v0.7h-0.7zM439.1 69.3h0.7v0.7h-0.7zM440.1 99.0h0.7v0.7h-0.7zM442.8 84.6h0.7v0.7h-0.7zM431.4 106.0h0.7v0.7h-0.7zM431.7 106.9h0.7v0.7h-0.7zM443.5 75.1h0.7v0.7h-0.7zM430.4 106.3h0.7v0.7h-0.7zM424.6 75.0h0.7v0.7h-0.7zM443.1 69.3h0.7v0.7h-0.7zM425.8 74.0h0.7v0.7h-0.7zM441.8 69.9h0.7v0.7h-0.7zM432.8 67.2h0.7v0.7h-0.7zM443.6 91.3h0.7v0.7h-0.7zM427.1 77.2h0.7v0.7h-0.7zM422.9 83.0h0.7v0.7h-0.7zM443.1 86.5h0.7v0.7h-0.7zM427.4 106.2h0.7v0.7h-0.7zM426.9 80.4h0.7v0.7h-0.7zM425.3 97.3h0.7v0.7h-0.7zM424.2 81.1h0.7v0.7h-0.7zM435.7 105.3h0.7v0.7h-0.7zM444.4 85.1h0.7v0.7h-0.7zM438.0 101.4h0.7v0.7h-0.7zM442.9 86.3h0.7v0.7h-0.7zM429.4 70.1h0.7v0.7h-0.7zM446.3 82.5h0.7v0.7h-0.7zM432.6 108.7h0.7v0.7h-0.7zM444.7 82.6h0.7v0.7h-0.7z"/>
<path fill="rgb(125,125,125)" d="M48.7 105.8h0.7v0.7h-0.7zM66.1 90.7h0.7v0.7h-0.7zM57.2 61.8h0.7v0.7h-0.7zM58.5 62.8h0.7v0.7h-0.7zM56.3 63.1h0.7v0.7h-0.7zM64.6 90.9h0.7v0.7h-0.7zM51.8 74.1h0.7v0.7h-0.7zM47.6 73.2h0.7v0.7h-0.7zM49.7 71.6h0.7v0.7h-0.7zM48.6 74.3h0.7v0.7h-0.7zM63.6 94.1h0.7v0.7h-0.7zM63.2 84.4h0.7v0.7h-0.7zM50.8 105.9h0.7v0.7h-0.7zM47.8 60.7h0.7v0.7h-0.7zM57.6 57.9h0.7v0.7h-0.7zM63.3 62.6h0.7v0.7h-0.7zM48.2 80.7h0.7v0.7h-0.7zM56.4 114.8h0.7v0.7h-0.7zM51.0 64.0h0.7v0.7h-0.7zM64.1 69.1h0.7v0.7h-0.7zM65.6 67.6h0.7v0.7h-0.7zM57.4 60.7h0.7v0.7h-0.7zM64.1 86.0h0.7v0.7h-0.7zM63.2 68.6h0.7v0.7h-0.7zM49.7 71.1h0.7v0.7h-0.7zM68.6 92.6h0.7v0.7h-0.7zM52.1 60.1h0.7v0.7h-0.7zM69.7 75.6h0.7v0.7h-0.7zM48.9 87.1h0.7v0.7h-0.7zM49.9 61.3h0.7v0.7h-0.7zM48.7 102.7h0.7v0.7h-0.7zM64.6 84.0h0.7v0.7h-0.7zM50.3 71.9h0.7v0.7h-0.7zM57.8 108.7h0.7v0.7h-0.7zM52.4 99.5h0.7v0.7h-0.7zM50.2 99.3h0.7v0.7h-0.7zM66.9 77.9h0.7v0.7h-0.7zM66.1 82.4h0.7v0.7h-0.7zM47.5 79.2h0.7v0.7h-0.7zM49.9 103.5h0.7v0.7h-0.7zM47.3 91.3h0.7v0.7h-0.7zM64.0 60.7h0.7v0.7h-0.7zM61.5 112.2h0.7v0.7h-0.7zM61.8 63.1h0.7v0.7h-0.7zM56.8 111.6h0.7v0.7h-0.7zM66.3 100.4h0.7v0.7h-0.7zM60.3 57.2h0.7v0.7h-0.7zM53.1 107.1h0.7v0.7h-0.7zM55.0 62.3h0.7v0.7h-0.7zM47.2 59.2h0.7v0.7h-0.7zM46.4 71.5h0.7v0.7h-0.7zM48.4 82.0h0.7v0.7h-0.7zM66.5 86.8h0.7v0.7h-0.7zM68.2 85.0h0.7v0.7h-0.7zM68.7 94.2h0.7v0.7h-0.7zM53.6 76.6h0.7v0.7h-0.7zM60.4 109.9h0.7v0.7h-0.7zM68.8 65.4h0.7v0.7h-0.7zM61.5 59.4h0.7v0.7h-0.7zM58.6 112.5h0.7v0.7h-0.7zM60.5 64.2h0.7v0.7h-0.7zM64.3 67.0h0.7v0.7h-0.7zM64.8 70.2h0.7v0.7h-0.7zM50.1 66.2h0.7v0.7h-0.7zM65.4 71.0h0.7v0.7h-0.7zM60.3 105.8h0.7v0.7h-0.7zM52.5 107.0h0.7v0.7h-0.7zM62.5 58.9h0.7v0.7h-0.7zM58.8 60.3h0.7v0.7h-0.7zM53.2 108.7h0.7v0.7h-0.7zM67.3 97.9h0.7v0.7h-0.7zM47.3 82.8h0.7v0.7h-0.7zM64.4 99.3h0.7v0.7h-0.7zM67.1 73.8h0.7v0.7h-0.7zM48.1 75.0h0.7v0.7h-0.7zM51.8 58.6h0.7v0.7h-0.7zM48.5 84.6h0.7v0.7h-0.7zM61.5 104.3h0.7v0.7h-0.7zM57.2 109.6h0.7v0.7h-0.7zM47.6 67.8h0.7v0.7h-0.7zM61.9 110.6h0.7v0.7h-0.7zM52.1 98.1h0.7v0.7h-0.7zM49.0 63.4h0.7v0.7h-0.7zM61.9 60.0h0.7v0.7h-0.7zM65.6 80.1h0.7v0.7h-0.7zM68.3 87.3h0.7v0.7h-0.7zM66.4 89.7h0.7v0.7h-0.7zM46.5 88.6h0.7v0.7h-0.7zM60.2 101.9h0.7v0.7h-0.7zM68.8 67.0h0.7v0.7h-0.7zM51.2 109.8h0.7v0.7h-0.7zM49.7 71.3h0.7v0.7h-0.7zM68.7 86.2h0.7v0.7h-0.7zM63.5 78.3h0.7v0.7h-0.7zM67.5 71.1h0.7v0.7h-0.7zM64.3 76.8h0.7v0.7h-0.7zM67.5 68.9h0.7v0.7h-0.7zM48.6 75.8h0.7v0.7h-0.7zM52.3 98.5h0.7v0.7h-0.7zM64.5 104.9h0.7v0.7h-0.7zM53.7 60.2h0.7v0.7h-0.7zM62.9 102.6h0.7v0.7h-0.7zM46.1 68.0h0.7v0.7h-0.7zM66.7 69.4h0.7v0.7h-0.7zM49.7 78.6h0.7v0.7h-0.7zM61.4 57.6h0.7v0.7h-0.7zM60.7 108.0h0.7v0.7h-0.7zM68.2 72.4h0.7v0.7h-0.7zM49.7 75.4h0.7v0.7h-0.7zM61.5 102.4h0.7v0.7h-0.7zM59.6 107.4h0.7v0.7h-0.7zM67.0 64.4h0.7v0.7h-0.7zM46.2 69.3h0.7v0.7h-0.7zM67.5 88.6h0.7v0.7h-0.7zM68.5 77.6h0.7v0.7h-0.7zM60.5 106.6h0.7v0.7h-0.7zM66.5 63.8h0.7v0.7h-0.7zM49.2 79.2h0.7v0.7h-0.7zM66.3 64.2h0.7v0.7h-0.7zM66.8 66.4h0.7v0.7h-0.7zM60.9 59.2h0.7v0.7h-0.7zM51.7 73.0h0.7v0.7h-0.7zM53.4 58.5h0.7v0.7h-0.7zM48.1 88.4h0.7v0.7h-0.7zM49.0 62.1h0.7v0.7h-0.7zM56.8 60.8h0.7v0.7h-0.7zM67.2 85.5h0.7v0.7h-0.7zM67.2 63.9h0.7v0.7h-0.7zM204.5 86.7h0.7v0.7h-0.7zM183.5 69.6h0.7v0.7h-0.7zM187.7 67.7h0.7v0.7h-0.7zM217.6 86.5h0.7v0.7h-0.7zM203.3 69.4h0.7v0.7h-0.7zM201.8 72.1h0.7v0.7h-0.7zM178.5 113.6h0.7v0.7h-0.7zM201.0 72.3h0.7v0.7h-0.7zM193.4 102.2h0.7v0.7h-0.7zM176.5 75.2h0.7v0.7h-0.7zM174.9 99.0h0.7v0.7h-0.7zM236.0 70.5h0.7v0.7h-0.7zM208.9 88.9h0.7v0.7h-0.7zM174.9 92.1h0.7v0.7h-0.7zM216.7 83.5h0.7v0.7h-0.7zM184.9 71.6h0.7v0.7h-0.7zM196.9 92.9h0.7v0.7h-0.7zM174.9 79.9h0.7v0.7h-0.7zM205.9 86.5h0.7v0.7h-0.7zM172.9 80.8h0.7v0.7h-0.7zM230.3 74.7h0.7v0.7h-0.7zM228.0 63.3h0.7v0.7h-0.7zM236.7 71.1h0.7v0.7h-0.7zM171.5 79.7h0.7v0.7h-0.7zM230.7 83.0h0.7v0.7h-0.7zM185.8 109.4h0.7v0.7h-0.7zM232.6 62.3h0.7v0.7h-0.7zM233.7 77.1h0.7v0.7h-0.7zM175.1 102.7h0.7v0.7h-0.7zM191.3 102.4h0.7v0.7h-0.7zM225.0 84.5h0.7v0.7h-0.7zM211.3 69.2h0.7v0.7h-0.7zM199.9 89.4h0.7v0.7h-0.7zM172.1 93.2h0.7v0.7h-0.7zM216.2 84.9h0.7v0.7h-0.7zM189.2 106.6h0.7v0.7h-0.7zM199.5 69.0h0.7v0.7h-0.7zM178.2 109.4h0.7v0.7h-0.7zM232.2 80.5h0.7v0.7h-0.7zM173.7 87.4h0.7v0.7h-0.7zM212.2 86.2h0.7v0.7h-0.7zM236.4 65.7h0.7v0.7h-0.7zM188.2 111.8h0.7v0.7h-0.7zM178.0 73.9h0.7v0.7h-0.7zM176.2 76.5h0.7v0.7h-0.7zM226.7 81.0h0.7v0.7h-0.7zM181.6 113.5h0.7v0.7h-0.7zM183.3 111.6h0.7v0.7h-0.7zM171.5 93.0h0.7v0.7h-0.7zM216.6 83.4h0.7v0.7h-0.7zM191.3 69.8h0.7v0.7h-0.7zM193.3 67.2h0.7v0.7h-0.7zM173.6 83.1h0.7v0.7h-0.7zM177.9 109.1h0.7v0.7h-0.7zM176.3 81.4h0.7v0.7h-0.7zM238.0 73.3h0.7v0.7h-0.7zM188.8 70.9h0.7v0.7h-0.7zM180.8 70.9h0.7v0.7h-0.7zM185.4 69.5h0.7v0.7h-0.7zM197.3 98.8h0.7v0.7h-0.7zM183.5 112.3h0.7v0.7h-0.7zM224.0 81.7h0.7v0.7h-0.7zM177.0 75.0h0.7v0.7h-0.7zM208.1 69.3h0.7v0.7h-0.7zM213.4 64.4h0.7v0.7h-0.7zM180.0 71.1h0.7v0.7h-0.7zM194.7 106.5h0.7v0.7h-0.7zM173.2 108.1h0.7v0.7h-0.7zM175.6 97.3h0.7v0.7h-0.7zM188.7 71.2h0.7v0.7h-0.7zM226.6 61.7h0.7v0.7h-0.7zM172.4 101.5h0.7v0.7h-0.7zM176.1 109.6h0.7v0.7h-0.7zM204.0 87.2h0.7v0.7h-0.7zM189.2 105.3h0.7v0.7h-0.7zM232.8 74.2h0.7v0.7h-0.7zM189.1 107.6h0.7v0.7h-0.7zM190.9 72.7h0.7v0.7h-0.7zM186.6 113.7h0.7v0.7h-0.7zM193.6 71.3h0.7v0.7h-0.7zM175.4 90.6h0.7v0.7h-0.7zM174.6 101.5h0.7v0.7h-0.7zM216.0 67.2h0.7v0.7h-0.7zM182.4 74.6h0.7v0.7h-0.7zM227.7 83.1h0.7v0.7h-0.7zM196.8 67.9h0.7v0.7h-0.7zM216.9 61.8h0.7v0.7h-0.7zM189.3 71.5h0.7v0.7h-0.7zM218.3 86.4h0.7v0.7h-0.7zM208.5 70.9h0.7v0.7h-0.7zM176.3 100.8h0.7v0.7h-0.7zM188.6 70.2h0.7v0.7h-0.7zM172.7 100.8h0.7v0.7h-0.7zM177.2 109.6h0.7v0.7h-0.7zM201.3 88.8h0.7v0.7h-0.7zM182.4 109.2h0.7v0.7h-0.7zM235.4 66.7h0.7v0.7h-0.7zM193.1 68.8h0.7v0.7h-0.7zM227.2 78.9h0.7v0.7h-0.7zM238.2 75.1h0.7v0.7h-0.7zM205.8 84.2h0.7v0.7h-0.7zM179.8 77.3h0.7v0.7h-0.7zM226.9 66.2h0.7v0.7h-0.7zM222.8 79.3h0.7v0.7h-0.7zM181.6 69.8h0.7v0.7h-0.7zM226.2 65.9h0.7v0.7h-0.7zM173.3 87.7h0.7v0.7h-0.7zM211.8 64.1h0.7v0.7h-0.7zM201.1 70.5h0.7v0.7h-0.7zM195.0 99.4h0.7v0.7h-0.7zM215.9 87.2h0.7v0.7h-0.7zM171.6 84.7h0.7v0.7h-0.7zM233.6 62.4h0.7v0.7h-0.7zM181.8 75.3h0.7v0.7h-0.7zM229.9 66.6h0.7v0.7h-0.7zM175.1 92.2h0.7v0.7h-0.7zM219.8 81.7h0.7v0.7h-0.7zM196.8 97.7h0.7v0.7h-0.7zM236.7 72.1h0.7v0.7h-0.7zM185.9 67.9h0.7v0.7h-0.7zM181.7 73.0h0.7v0.7h-0.7zM233.9 68.3h0.7v0.7h-0.7zM222.7 85.8h0.7v0.7h-0.7zM198.6 85.2h0.7v0.7h-0.7zM201.2 68.3h0.7v0.7h-0.7zM175.2 75.7h0.7v0.7h-0.7zM174.6 86.8h0.7v0.7h-0.7zM177.2 74.8h0.7v0.7h-0.7zM219.2 62.5h0.7v0.7h-0.7zM205.6 83.8h0.7v0.7h-0.7zM172.6 97.5h0.7v0.7h-0.7zM198.6 90.2h0.7v0.7h-0.7zM199.4 89.2h0.7v0.7h-0.7zM198.6 90.7h0.7v0.7h-0.7zM181.0 71.6h0.7v0.7h-0.7zM177.7 103.7h0.7v0.7h-0.7zM213.1 84.6h0.7v0.7h-0.7zM186.3 109.6h0.7v0.7h-0.7zM175.8 107.1h0.7v0.7h-0.7zM228.3 83.6h0.7v0.7h-0.7zM173.4 87.5h0.7v0.7h-0.7zM192.9 104.5h0.7v0.7h-0.7zM223.0 64.6h0.7v0.7h-0.7zM176.2 94.7h0.7v0.7h-0.7zM174.9 109.0h0.7v0.7h-0.7zM192.6 103.9h0.7v0.7h-0.7zM202.6 73.2h0.7v0.7h-0.7zM189.6 71.0h0.7v0.7h-0.7zM222.6 65.9h0.7v0.7h-0.7zM173.8 86.5h0.7v0.7h-0.7zM219.3 62.2h0.7v0.7h-0.7zM230.4 80.0h0.7v0.7h-0.7zM176.8 112.1h0.7v0.7h-0.7zM224.2 62.8h0.7v0.7h-0.7zM224.4 85.4h0.7v0.7h-0.7zM215.0 85.2h0.7v0.7h-0.7zM190.4 101.7h0.7v0.7h-0.7zM176.7 76.5h0.7v0.7h-0.7zM187.7 106.9h0.7v0.7h-0.7zM180.3 112.3h0.7v0.7h-0.7zM217.1 87.0h0.7v0.7h-0.7zM232.0 81.2h0.7v0.7h-0.7zM220.7 66.6h0.7v0.7h-0.7zM178.6 78.5h0.7v0.7h-0.7zM173.4 83.6h0.7v0.7h-0.7zM236.5 68.7h0.7v0.7h-0.7zM177.8 107.7h0.7v0.7h-0.7zM223.3 80.3h0.7v0.7h-0.7zM189.1 110.0h0.7v0.7h-0.7zM192.1 103.0h0.7v0.7h-0.7zM205.4 86.7h0.7v0.7h-0.7zM188.7 71.2h0.7v0.7h-0.7zM206.2 72.0h0.7v0.7h-0.7zM223.7 83.7h0.7v0.7h-0.7zM228.2 61.8h0.7v0.7h-0.7zM189.3 67.1h0.7v0.7h-0.7zM222.5 60.8h0.7v0.7h-0.7zM201.2 67.6h0.7v0.7h-0.7zM172.1 97.6h0.7v0.7h-0.7zM219.7 63.2h0.7v0.7h-0.7zM196.7 92.7h0.7v0.7h-0.7zM189.0 107.4h0.7v0.7h-0.7zM207.9 66.1h0.7v0.7h-0.7zM173.1 88.1h0.7v0.7h-0.7zM175.8 74.8h0.7v0.7h-0.7zM229.1 78.5h0.7v0.7h-0.7zM203.8 72.1h0.7v0.7h-0.7zM190.5 69.4h0.7v0.7h-0.7zM206.7 65.8h0.7v0.7h-0.7zM211.5 84.7h0.7v0.7h-0.7zM183.4 110.1h0.7v0.7h-0.7zM206.7 71.9h0.7v0.7h-0.7zM229.0 76.5h0.7v0.7h-0.7zM194.3 93.5h0.7v0.7h-0.7zM179.6 112.0h0.7v0.7h-0.7zM195.0 72.1h0.7v0.7h-0.7zM233.9 76.6h0.7v0.7h-0.7zM191.8 68.7h0.7v0.7h-0.7zM176.8 110.6h0.7v0.7h-0.7zM201.1 67.8h0.7v0.7h-0.7zM233.9 65.7h0.7v0.7h-0.7zM220.7 61.3h0.7v0.7h-0.7zM193.2 68.8h0.7v0.7h-0.7zM197.0 96.1h0.7v0.7h-0.7zM189.3 67.4h0.7v0.7h-0.7zM172.5 86.4h0.7v0.7h-0.7zM220.7 61.8h0.7v0.7h-0.7zM214.1 62.2h0.7v0.7h-0.7zM178.7 109.2h0.7v0.7h-0.7zM195.7 73.5h0.7v0.7h-0.7zM226.5 84.0h0.7v0.7h-0.7zM191.3 101.9h0.7v0.7h-0.7zM221.4 81.9h0.7v0.7h-0.7zM179.0 104.5h0.7v0.7h-0.7zM227.8 79.4h0.7v0.7h-0.7zM181.7 71.9h0.7v0.7h-0.7zM194.6 103.9h0.7v0.7h-0.7zM197.1 98.4h0.7v0.7h-0.7zM175.0 94.6h0.7v0.7h-0.7zM180.2 109.1h0.7v0.7h-0.7zM213.5 64.1h0.7v0.7h-0.7zM188.2 69.9h0.7v0.7h-0.7zM217.7 90.5h0.7v0.7h-0.7zM218.7 84.9h0.7v0.7h-0.7zM206.1 96.4h0.7v0.7h-0.7zM211.0 90.1h0.7v0.7h-0.7zM206.2 94.9h0.7v0.7h-0.7zM210.7 91.8h0.7v0.7h-0.7zM221.8 95.0h0.7v0.7h-0.7zM217.2 89.7h0.7v0.7h-0.7zM223.8 94.6h0.7v0.7h-0.7zM212.7 94.2h0.7v0.7h-0.7zM223.3 82.4h0.7v0.7h-0.7zM212.5 95.3h0.7v0.7h-0.7zM214.1 90.8h0.7v0.7h-0.7zM211.3 95.0h0.7v0.7h-0.7zM225.1 99.2h0.7v0.7h-0.7zM233.9 96.1h0.7v0.7h-0.7zM204.7 99.9h0.7v0.7h-0.7zM218.7 92.2h0.7v0.7h-0.7zM216.7 94.1h0.7v0.7h-0.7zM205.6 88.0h0.7v0.7h-0.7zM215.3 91.1h0.7v0.7h-0.7zM217.3 85.4h0.7v0.7h-0.7zM220.4 88.9h0.7v0.7h-0.7zM212.1 89.4h0.7v0.7h-0.7zM214.3 89.6h0.7v0.7h-0.7zM213.3 98.4h0.7v0.7h-0.7zM214.0 94.7h0.7v0.7h-0.7zM229.3 96.0h0.7v0.7h-0.7zM210.8 92.3h0.7v0.7h-0.7zM206.5 88.9h0.7v0.7h-0.7zM217.5 91.8h0.7v0.7h-0.7zM212.5 96.7h0.7v0.7h-0.7zM220.9 85.3h0.7v0.7h-0.7zM208.5 101.1h0.7v0.7h-0.7zM225.1 91.1h0.7v0.7h-0.7zM224.6 94.6h0.7v0.7h-0.7zM210.1 90.2h0.7v0.7h-0.7zM215.2 84.2h0.7v0.7h-0.7zM219.4 81.1h0.7v0.7h-0.7zM217.2 88.1h0.7v0.7h-0.7zM216.0 81.0h0.7v0.7h-0.7zM205.6 91.2h0.7v0.7h-0.7zM206.1 91.4h0.7v0.7h-0.7zM219.6 96.2h0.7v0.7h-0.7zM211.3 90.8h0.7v0.7h-0.7zM215.4 87.6h0.7v0.7h-0.7zM213.4 96.5h0.7v0.7h-0.7zM230.4 86.1h0.7v0.7h-0.7zM215.5 83.9h0.7v0.7h-0.7zM205.5 90.7h0.7v0.7h-0.7zM211.6 95.1h0.7v0.7h-0.7zM207.8 95.1h0.7v0.7h-0.7zM230.8 86.1h0.7v0.7h-0.7zM208.4 96.0h0.7v0.7h-0.7zM215.0 95.0h0.7v0.7h-0.7zM213.7 94.4h0.7v0.7h-0.7zM206.4 93.8h0.7v0.7h-0.7zM204.2 87.2h0.7v0.7h-0.7zM218.1 98.4h0.7v0.7h-0.7zM197.3 91.4h0.7v0.7h-0.7zM210.5 88.5h0.7v0.7h-0.7zM210.7 91.5h0.7v0.7h-0.7zM210.9 102.9h0.7v0.7h-0.7zM227.4 89.8h0.7v0.7h-0.7zM203.6 90.0h0.7v0.7h-0.7zM221.0 86.4h0.7v0.7h-0.7zM222.8 91.9h0.7v0.7h-0.7zM227.5 93.9h0.7v0.7h-0.7zM215.0 80.1h0.7v0.7h-0.7zM216.5 89.6h0.7v0.7h-0.7zM224.2 92.1h0.7v0.7h-0.7zM201.8 98.4h0.7v0.7h-0.7zM198.3 86.0h0.7v0.7h-0.7zM220.1 92.2h0.7v0.7h-0.7zM226.4 93.1h0.7v0.7h-0.7zM219.7 99.3h0.7v0.7h-0.7zM201.5 96.7h0.7v0.7h-0.7zM210.9 89.0h0.7v0.7h-0.7zM209.4 92.0h0.7v0.7h-0.7zM181.4 61.8h0.7v0.7h-0.7zM175.4 69.6h0.7v0.7h-0.7zM179.7 61.7h0.7v0.7h-0.7zM184.1 52.9h0.7v0.7h-0.7zM188.2 68.5h0.7v0.7h-0.7zM176.6 67.7h0.7v0.7h-0.7zM185.4 64.8h0.7v0.7h-0.7zM189.2 66.7h0.7v0.7h-0.7zM189.2 63.7h0.7v0.7h-0.7zM188.5 61.3h0.7v0.7h-0.7zM193.1 64.0h0.7v0.7h-0.7zM183.8 65.8h0.7v0.7h-0.7zM181.2 64.7h0.7v0.7h-0.7zM184.1 60.9h0.7v0.7h-0.7zM194.9 64.1h0.7v0.7h-0.7zM178.4 67.4h0.7v0.7h-0.7zM179.8 66.4h0.7v0.7h-0.7zM186.2 65.7h0.7v0.7h-0.7zM186.1 65.0h0.7v0.7h-0.7zM190.7 60.1h0.7v0.7h-0.7zM196.3 68.7h0.7v0.7h-0.7zM185.3 63.8h0.7v0.7h-0.7zM197.7 62.2h0.7v0.7h-0.7zM175.8 68.7h0.7v0.7h-0.7zM182.0 66.6h0.7v0.7h-0.7zM173.9 61.0h0.7v0.7h-0.7zM187.9 62.2h0.7v0.7h-0.7zM194.0 66.0h0.7v0.7h-0.7zM190.5 61.6h0.7v0.7h-0.7zM190.5 68.7h0.7v0.7h-0.7zM186.5 63.5h0.7v0.7h-0.7zM179.6 68.8h0.7v0.7h-0.7zM197.9 67.4h0.7v0.7h-0.7zM180.2 69.2h0.7v0.7h-0.7zM186.5 63.4h0.7v0.7h-0.7zM340.8 85.1h0.7v0.7h-0.7zM357.0 69.6h0.7v0.7h-0.7zM312.4 110.2h0.7v0.7h-0.7zM324.9 74.3h0.7v0.7h-0.7zM321.7 87.4h0.7v0.7h-0.7zM308.8 115.2h0.7v0.7h-0.7zM305.0 109.5h0.7v0.7h-0.7zM295.0 79.5h0.7v0.7h-0.7zM317.0 83.9h0.7v0.7h-0.7zM316.3 95.7h0.7v0.7h-0.7zM332.1 66.5h0.7v0.7h-0.7zM308.1 114.1h0.7v0.7h-0.7zM322.1 72.7h0.7v0.7h-0.7zM312.2 111.2h0.7v0.7h-0.7zM318.6 87.5h0.7v0.7h-0.7zM323.5 69.2h0.7v0.7h-0.7zM297.2 91.1h0.7v0.7h-0.7zM330.6 67.9h0.7v0.7h-0.7zM357.6 75.5h0.7v0.7h-0.7zM321.8 89.0h0.7v0.7h-0.7zM336.1 85.8h0.7v0.7h-0.7zM318.8 94.5h0.7v0.7h-0.7zM331.1 67.5h0.7v0.7h-0.7zM326.0 69.3h0.7v0.7h-0.7zM296.5 73.6h0.7v0.7h-0.7zM311.1 68.7h0.7v0.7h-0.7zM319.9 89.7h0.7v0.7h-0.7zM335.9 83.6h0.7v0.7h-0.7zM310.8 113.2h0.7v0.7h-0.7zM351.2 64.1h0.7v0.7h-0.7zM326.0 80.6h0.7v0.7h-0.7zM335.1 80.6h0.7v0.7h-0.7zM344.2 66.3h0.7v0.7h-0.7zM314.7 95.8h0.7v0.7h-0.7zM295.6 87.5h0.7v0.7h-0.7zM332.0 78.9h0.7v0.7h-0.7zM320.9 93.5h0.7v0.7h-0.7zM315.4 109.8h0.7v0.7h-0.7zM319.1 71.9h0.7v0.7h-0.7zM361.3 75.4h0.7v0.7h-0.7zM299.2 99.5h0.7v0.7h-0.7zM294.7 97.8h0.7v0.7h-0.7zM320.4 92.4h0.7v0.7h-0.7zM319.1 83.5h0.7v0.7h-0.7zM299.3 105.7h0.7v0.7h-0.7zM322.2 70.2h0.7v0.7h-0.7zM359.8 69.0h0.7v0.7h-0.7zM359.5 72.4h0.7v0.7h-0.7zM361.8 71.3h0.7v0.7h-0.7zM317.7 100.0h0.7v0.7h-0.7zM293.8 81.5h0.7v0.7h-0.7zM348.3 65.5h0.7v0.7h-0.7zM314.8 98.6h0.7v0.7h-0.7zM315.1 109.7h0.7v0.7h-0.7zM343.3 85.5h0.7v0.7h-0.7zM355.3 82.3h0.7v0.7h-0.7zM310.9 70.7h0.7v0.7h-0.7zM335.8 65.4h0.7v0.7h-0.7zM340.2 66.2h0.7v0.7h-0.7zM348.0 68.7h0.7v0.7h-0.7zM314.7 96.3h0.7v0.7h-0.7zM356.4 68.4h0.7v0.7h-0.7zM351.8 66.8h0.7v0.7h-0.7zM297.9 101.8h0.7v0.7h-0.7zM347.4 86.0h0.7v0.7h-0.7zM349.9 68.3h0.7v0.7h-0.7zM360.8 67.8h0.7v0.7h-0.7zM303.9 107.3h0.7v0.7h-0.7zM294.2 89.9h0.7v0.7h-0.7zM297.1 94.5h0.7v0.7h-0.7zM334.5 68.7h0.7v0.7h-0.7zM294.7 83.1h0.7v0.7h-0.7zM356.4 71.9h0.7v0.7h-0.7zM324.4 71.3h0.7v0.7h-0.7zM332.8 68.7h0.7v0.7h-0.7zM343.1 68.8h0.7v0.7h-0.7zM298.2 103.6h0.7v0.7h-0.7zM317.2 104.2h0.7v0.7h-0.7zM307.5 72.0h0.7v0.7h-0.7zM324.9 79.7h0.7v0.7h-0.7zM303.4 71.4h0.7v0.7h-0.7zM302.8 106.4h0.7v0.7h-0.7zM311.7 108.2h0.7v0.7h-0.7zM296.7 90.4h0.7v0.7h-0.7zM293.0 89.1h0.7v0.7h-0.7zM302.7 106.9h0.7v0.7h-0.7zM297.8 77.9h0.7v0.7h-0.7zM354.9 64.9h0.7v0.7h-0.7zM318.2 89.8h0.7v0.7h-0.7zM348.2 87.4h0.7v0.7h-0.7zM293.5 93.3h0.7v0.7h-0.7zM328.1 83.1h0.7v0.7h-0.7zM338.0 83.2h0.7v0.7h-0.7zM323.5 83.4h0.7v0.7h-0.7zM309.0 67.3h0.7v0.7h-0.7zM338.4 69.8h0.7v0.7h-0.7zM322.2 70.1h0.7v0.7h-0.7zM298.7 78.3h0.7v0.7h-0.7zM325.7 82.0h0.7v0.7h-0.7zM302.4 71.9h0.7v0.7h-0.7zM335.7 66.1h0.7v0.7h-0.7zM293.5 90.5h0.7v0.7h-0.7zM328.4 80.3h0.7v0.7h-0.7zM301.2 76.6h0.7v0.7h-0.7zM312.2 113.0h0.7v0.7h-0.7zM323.6 68.4h0.7v0.7h-0.7zM323.5 78.7h0.7v0.7h-0.7zM323.0 71.1h0.7v0.7h-0.7zM313.3 69.7h0.7v0.7h-0.7zM347.3 86.9h0.7v0.7h-0.7zM302.2 74.6h0.7v0.7h-0.7zM354.4 69.8h0.7v0.7h-0.7zM325.0 79.6h0.7v0.7h-0.7zM321.1 83.8h0.7v0.7h-0.7zM301.1 108.7h0.7v0.7h-0.7zM319.9 70.1h0.7v0.7h-0.7zM301.2 111.6h0.7v0.7h-0.7zM301.4 104.7h0.7v0.7h-0.7zM327.1 68.5h0.7v0.7h-0.7zM322.0 84.2h0.7v0.7h-0.7zM333.9 66.8h0.7v0.7h-0.7zM348.1 68.8h0.7v0.7h-0.7zM296.0 80.9h0.7v0.7h-0.7zM324.8 83.7h0.7v0.7h-0.7zM299.0 98.4h0.7v0.7h-0.7zM324.5 72.1h0.7v0.7h-0.7zM323.3 84.8h0.7v0.7h-0.7zM315.3 97.3h0.7v0.7h-0.7zM318.7 95.8h0.7v0.7h-0.7zM334.5 70.8h0.7v0.7h-0.7zM303.1 73.6h0.7v0.7h-0.7zM357.5 73.6h0.7v0.7h-0.7zM331.4 81.7h0.7v0.7h-0.7zM358.3 67.9h0.7v0.7h-0.7zM300.2 103.6h0.7v0.7h-0.7zM320.6 81.1h0.7v0.7h-0.7zM315.8 68.5h0.7v0.7h-0.7zM341.6 66.5h0.7v0.7h-0.7zM327.1 74.2h0.7v0.7h-0.7zM337.2 82.0h0.7v0.7h-0.7zM360.8 74.8h0.7v0.7h-0.7zM331.7 81.0h0.7v0.7h-0.7zM296.0 101.5h0.7v0.7h-0.7zM357.9 65.1h0.7v0.7h-0.7zM300.4 106.8h0.7v0.7h-0.7zM353.0 64.2h0.7v0.7h-0.7zM313.2 70.0h0.7v0.7h-0.7zM330.2 80.7h0.7v0.7h-0.7zM307.4 112.8h0.7v0.7h-0.7zM304.4 109.2h0.7v0.7h-0.7zM325.1 74.5h0.7v0.7h-0.7zM304.8 68.8h0.7v0.7h-0.7zM342.8 85.6h0.7v0.7h-0.7zM300.7 75.2h0.7v0.7h-0.7zM346.2 65.2h0.7v0.7h-0.7zM314.6 99.5h0.7v0.7h-0.7zM331.5 71.7h0.7v0.7h-0.7zM314.2 105.6h0.7v0.7h-0.7zM354.4 82.3h0.7v0.7h-0.7zM295.4 99.2h0.7v0.7h-0.7zM307.2 72.6h0.7v0.7h-0.7zM334.6 80.7h0.7v0.7h-0.7zM298.2 92.4h0.7v0.7h-0.7zM331.1 72.0h0.7v0.7h-0.7zM330.9 70.8h0.7v0.7h-0.7zM306.2 71.1h0.7v0.7h-0.7zM313.4 109.7h0.7v0.7h-0.7zM312.8 106.4h0.7v0.7h-0.7zM341.4 65.2h0.7v0.7h-0.7zM306.8 114.9h0.7v0.7h-0.7zM310.7 112.3h0.7v0.7h-0.7zM319.2 67.4h0.7v0.7h-0.7zM319.2 91.3h0.7v0.7h-0.7zM300.1 74.1h0.7v0.7h-0.7zM352.6 82.5h0.7v0.7h-0.7zM327.0 77.8h0.7v0.7h-0.7zM316.6 94.6h0.7v0.7h-0.7zM305.5 70.0h0.7v0.7h-0.7zM353.5 86.6h0.7v0.7h-0.7zM354.4 69.1h0.7v0.7h-0.7zM296.3 73.9h0.7v0.7h-0.7zM360.2 66.6h0.7v0.7h-0.7zM341.0 64.7h0.7v0.7h-0.7zM305.4 114.8h0.7v0.7h-0.7zM295.3 90.4h0.7v0.7h-0.7zM300.9 74.8h0.7v0.7h-0.7zM361.1 77.9h0.7v0.7h-0.7zM356.6 65.2h0.7v0.7h-0.7zM313.9 99.3h0.7v0.7h-0.7zM318.1 96.3h0.7v0.7h-0.7zM355.1 68.8h0.7v0.7h-0.7zM352.3 67.9h0.7v0.7h-0.7zM340.2 67.5h0.7v0.7h-0.7zM297.7 104.5h0.7v0.7h-0.7zM355.6 83.5h0.7v0.7h-0.7zM339.3 67.0h0.7v0.7h-0.7zM301.4 103.2h0.7v0.7h-0.7zM320.6 87.0h0.7v0.7h-0.7zM299.4 78.7h0.7v0.7h-0.7zM355.5 83.0h0.7v0.7h-0.7zM340.0 85.7h0.7v0.7h-0.7zM332.4 67.8h0.7v0.7h-0.7zM320.1 88.3h0.7v0.7h-0.7zM313.9 102.8h0.7v0.7h-0.7zM315.7 96.6h0.7v0.7h-0.7zM311.3 107.7h0.7v0.7h-0.7zM315.0 66.2h0.7v0.7h-0.7zM361.3 72.9h0.7v0.7h-0.7zM322.1 69.3h0.7v0.7h-0.7zM352.7 65.1h0.7v0.7h-0.7zM294.0 82.8h0.7v0.7h-0.7zM332.7 98.5h0.7v0.7h-0.7zM335.6 96.3h0.7v0.7h-0.7zM318.4 90.1h0.7v0.7h-0.7zM336.8 94.2h0.7v0.7h-0.7zM322.3 94.3h0.7v0.7h-0.7zM340.7 96.2h0.7v0.7h-0.7zM344.2 93.8h0.7v0.7h-0.7zM341.2 94.9h0.7v0.7h-0.7zM335.2 91.6h0.7v0.7h-0.7zM331.7 83.2h0.7v0.7h-0.7zM324.9 93.1h0.7v0.7h-0.7zM348.9 83.4h0.7v0.7h-0.7zM334.0 90.7h0.7v0.7h-0.7zM320.5 90.0h0.7v0.7h-0.7zM338.8 85.9h0.7v0.7h-0.7zM335.0 86.3h0.7v0.7h-0.7zM331.6 96.7h0.7v0.7h-0.7zM343.0 98.1h0.7v0.7h-0.7zM337.5 88.2h0.7v0.7h-0.7zM339.2 89.1h0.7v0.7h-0.7zM323.1 82.9h0.7v0.7h-0.7zM349.2 89.5h0.7v0.7h-0.7zM330.7 90.4h0.7v0.7h-0.7zM349.3 92.0h0.7v0.7h-0.7zM319.8 98.8h0.7v0.7h-0.7zM340.6 84.5h0.7v0.7h-0.7zM330.4 81.3h0.7v0.7h-0.7zM335.5 93.4h0.7v0.7h-0.7zM336.2 91.7h0.7v0.7h-0.7zM338.7 94.7h0.7v0.7h-0.7zM342.3 85.9h0.7v0.7h-0.7zM342.0 91.7h0.7v0.7h-0.7zM325.6 89.2h0.7v0.7h-0.7zM333.0 88.3h0.7v0.7h-0.7zM339.4 96.7h0.7v0.7h-0.7zM317.4 84.7h0.7v0.7h-0.7zM344.6 79.1h0.7v0.7h-0.7zM324.2 84.0h0.7v0.7h-0.7zM331.1 82.7h0.7v0.7h-0.7zM331.2 88.9h0.7v0.7h-0.7zM302.9 99.1h0.7v0.7h-0.7zM342.3 88.4h0.7v0.7h-0.7zM337.4 86.6h0.7v0.7h-0.7zM339.2 101.1h0.7v0.7h-0.7zM336.3 92.4h0.7v0.7h-0.7zM340.4 86.5h0.7v0.7h-0.7zM322.3 85.6h0.7v0.7h-0.7zM337.4 93.2h0.7v0.7h-0.7zM335.0 87.9h0.7v0.7h-0.7zM317.7 88.3h0.7v0.7h-0.7zM325.4 92.5h0.7v0.7h-0.7zM325.5 87.3h0.7v0.7h-0.7zM330.6 88.8h0.7v0.7h-0.7zM313.9 97.5h0.7v0.7h-0.7zM340.9 95.0h0.7v0.7h-0.7zM333.5 83.9h0.7v0.7h-0.7zM325.7 99.1h0.7v0.7h-0.7zM337.0 86.7h0.7v0.7h-0.7zM336.9 81.3h0.7v0.7h-0.7zM341.1 94.5h0.7v0.7h-0.7zM312.2 85.0h0.7v0.7h-0.7zM328.1 93.2h0.7v0.7h-0.7zM332.4 93.4h0.7v0.7h-0.7zM338.3 91.4h0.7v0.7h-0.7zM328.7 86.9h0.7v0.7h-0.7zM338.2 89.2h0.7v0.7h-0.7zM337.2 89.8h0.7v0.7h-0.7zM309.5 63.8h0.7v0.7h-0.7zM301.7 67.3h0.7v0.7h-0.7zM310.7 60.6h0.7v0.7h-0.7zM314.6 74.9h0.7v0.7h-0.7zM307.6 65.1h0.7v0.7h-0.7zM304.1 65.5h0.7v0.7h-0.7zM302.8 59.9h0.7v0.7h-0.7zM298.3 70.3h0.7v0.7h-0.7zM298.0 67.5h0.7v0.7h-0.7zM305.8 71.4h0.7v0.7h-0.7zM314.0 62.5h0.7v0.7h-0.7zM308.6 63.4h0.7v0.7h-0.7zM302.6 70.0h0.7v0.7h-0.7zM310.6 60.6h0.7v0.7h-0.7zM311.0 66.3h0.7v0.7h-0.7zM303.1 65.1h0.7v0.7h-0.7zM298.6 73.5h0.7v0.7h-0.7zM309.9 60.9h0.7v0.7h-0.7zM306.0 61.2h0.7v0.7h-0.7zM308.0 60.4h0.7v0.7h-0.7zM315.3 67.1h0.7v0.7h-0.7zM319.7 72.3h0.7v0.7h-0.7zM313.7 64.8h0.7v0.7h-0.7zM306.3 64.6h0.7v0.7h-0.7zM313.7 69.7h0.7v0.7h-0.7zM428.9 103.0h0.7v0.7h-0.7zM422.5 82.6h0.7v0.7h-0.7zM426.4 103.9h0.7v0.7h-0.7zM440.8 69.0h0.7v0.7h-0.7zM424.5 82.7h0.7v0.7h-0.7zM438.4 96.8h0.7v0.7h-0.7zM442.5 97.0h0.7v0.7h-0.7zM447.3 79.3h0.7v0.7h-0.7zM432.3 105.7h0.7v0.7h-0.7zM446.9 78.6h0.7v0.7h-0.7zM429.8 109.0h0.7v0.7h-0.7zM424.6 94.0h0.7v0.7h-0.7zM441.3 87.9h0.7v0.7h-0.7zM429.6 72.2h0.7v0.7h-0.7zM445.1 89.5h0.7v0.7h-0.7zM430.2 108.7h0.7v0.7h-0.7zM439.0 95.3h0.7v0.7h-0.7zM426.1 93.4h0.7v0.7h-0.7zM428.1 107.2h0.7v0.7h-0.7zM429.3 69.3h0.7v0.7h-0.7zM424.2 102.2h0.7v0.7h-0.7zM444.4 78.4h0.7v0.7h-0.7zM445.6 83.1h0.7v0.7h-0.7zM427.0 79.9h0.7v0.7h-0.7zM445.6 74.1h0.7v0.7h-0.7zM429.3 103.4h0.7v0.7h-0.7zM443.2 76.0h0.7v0.7h-0.7zM427.6 68.7h0.7v0.7h-0.7zM446.4 69.9h0.7v0.7h-0.7zM428.2 93.0h0.7v0.7h-0.7zM427.9 81.6h0.7v0.7h-0.7zM443.1 98.0h0.7v0.7h-0.7zM435.4 68.6h0.7v0.7h-0.7zM423.2 89.3h0.7v0.7h-0.7zM446.3 85.0h0.7v0.7h-0.7zM423.2 82.7h0.7v0.7h-0.7zM443.2 97.4h0.7v0.7h-0.7zM442.6 76.1h0.7v0.7h-0.7zM442.7 94.7h0.7v0.7h-0.7zM428.7 103.8h0.7v0.7h-0.7zM432.8 65.7h0.7v0.7h-0.7zM442.3 76.0h0.7v0.7h-0.7zM440.2 65.3h0.7v0.7h-0.7zM430.6 70.8h0.7v0.7h-0.7zM443.9 78.5h0.7v0.7h-0.7zM445.8 77.7h0.7v0.7h-0.7zM438.4 102.1h0.7v0.7h-0.7zM438.4 69.1h0.7v0.7h-0.7zM431.0 71.3h0.7v0.7h-0.7zM428.2 75.5h0.7v0.7h-0.7zM439.7 95.4h0.7v0.7h-0.7zM443.5 78.1h0.7v0.7h-0.7zM441.0 87.2h0.7v0.7h-0.7zM435.0 108.0h0.7v0.7h-0.7zM426.7 70.5h0.7v0.7h-0.7zM430.5 70.5h0.7v0.7h-0.7zM444.4 87.7h0.7v0.7h-0.7zM425.3 105.0h0.7v0.7h-0.7zM438.4 69.4h0.7v0.7h-0.7zM444.3 90.4h0.7v0.7h-0.7zM429.3 108.8h0.7v0.7h-0.7zM426.7 79.6h0.7v0.7h-0.7zM428.2 74.8h0.7v0.7h-0.7zM426.7 96.8h0.7v0.7h-0.7zM433.7 64.4h0.7v0.7h-0.7zM425.1 100.6h0.7v0.7h-0.7zM435.1 102.6h0.7v0.7h-0.7zM424.3 80.6h0.7v0.7h-0.7zM432.2 106.1h0.7v0.7h-0.7zM424.7 84.3h0.7v0.7h-0.7zM444.0 78.6h0.7v0.7h-0.7zM438.9 96.1h0.7v0.7h-0.7zM426.2 82.2h0.7v0.7h-0.7zM430.5 108.0h0.7v0.7h-0.7zM439.9 70.3h0.7v0.7h-0.7zM428.4 76.1h0.7v0.7h-0.7zM421.9 86.1h0.7v0.7h-0.7zM440.0 95.5h0.7v0.7h-0.7zM425.5 97.8h0.7v0.7h-0.7zM442.0 73.4h0.7v0.7h-0.7zM439.1 92.8h0.7v0.7h-0.7zM443.9 95.4h0.7v0.7h-0.7zM441.6 68.8h0.7v0.7h-0.7zM442.9 90.3h0.7v0.7h-0.7zM425.4 97.1h0.7v0.7h-0.7zM443.4 88.6h0.7v0.7h-0.7zM445.8 75.5h0.7v0.7h-0.7zM447.1 80.1h0.7v0.7h-0.7zM426.3 79.4h0.7v0.7h-0.7zM432.4 109.6h0.7v0.7h-0.7zM422.8 87.2h0.7v0.7h-0.7zM445.4 73.6h0.7v0.7h-0.7zM434.2 65.0h0.7v0.7h-0.7zM427.5 78.8h0.7v0.7h-0.7zM434.2 110.0h0.7v0.7h-0.7zM425.9 80.4h0.7v0.7h-0.7zM442.4 74.3h0.7v0.7h-0.7zM432.3 66.5h0.7v0.7h-0.7zM436.8 109.4h0.7v0.7h-0.7zM440.1 89.0h0.7v0.7h-0.7zM440.9 65.8h0.7v0.7h-0.7zM434.8 106.6h0.7v0.7h-0.7zM429.5 68.4h0.7v0.7h-0.7zM444.2 83.6h0.7v0.7h-0.7zM425.7 77.3h0.7v0.7h-0.7zM422.8 85.3h0.7v0.7h-0.7zM442.0 69.9h0.7v0.7h-0.7zM427.0 82.4h0.7v0.7h-0.7zM430.5 107.2h0.7v0.7h-0.7zM434.2 69.2h0.7v0.7h-0.7zM439.3 97.1h0.7v0.7h-0.7zM444.4 82.4h0.7v0.7h-0.7zM443.0 72.3h0.7v0.7h-0.7zM440.0 65.6h0.7v0.7h-0.7zM427.4 92.8h0.7v0.7h-0.7zM446.0 71.9h0.7v0.7h-0.7zM439.4 93.8h0.7v0.7h-0.7zM427.9 105.1h0.7v0.7h-0.7zM427.8 105.1h0.7v0.7h-0.7zM441.9 82.9h0.7v0.7h-0.7zM433.4 69.9h0.7v0.7h-0.7zM446.2 82.0h0.7v0.7h-0.7zM423.8 75.0h0.7v0.7h-0.7zM435.4 106.8h0.7v0.7h-0.7zM430.4 106.4h0.7v0.7h-0.7zM445.6 75.3h0.7v0.7h-0.7zM440.9 81.4h0.7v0.7h-0.7zM422.6 87.2h0.7v0.7h-0.7zM436.6 70.0h0.7v0.7h-0.7zM444.6 82.5h0.7v0.7h-0.7zM428.7 78.2h0.7v0.7h-0.7zM437.9 107.8h0.7v0.7h-0.7zM443.2 74.0h0.7v0.7h-0.7zM441.3 81.4h0.7v0.7h-0.7zM425.2 76.5h0.7v0.7h-0.7zM428.5 80.7h0.7v0.7h-0.7zM423.1 87.1h0.7v0.7h-0.7zM437.4 105.9h0.7v0.7h-0.7zM439.6 105.5h0.7v0.7h-0.7zM426.3 94.0h0.7v0.7h-0.7zM426.3 86.4h0.7v0.7h-0.7zM429.1 68.8h0.7v0.7h-0.7zM430.1 72.3h0.7v0.7h-0.7zM428.0 90.6h0.7v0.7h-0.7zM426.2 77.5h0.7v0.7h-0.7zM442.9 78.0h0.7v0.7h-0.7zM438.9 97.3h0.7v0.7h-0.7zM439.6 90.4h0.7v0.7h-0.7zM432.8 105.6h0.7v0.7h-0.7zM436.1 105.7h0.7v0.7h-0.7z"/>
<path fill="rgb(150,150,150)" d="M70.2 92.3h0.7v0.7h-0.7zM46.7 92.3h0.7v0.7h-0.7zM64.4 107.8h0.7v0.7h-0.7zM48.4 90.2h0.7v0.7h-0.7zM49.8 87.5h0.7v0.7h-0.7zM50.5 98.9h0.7v0.7h-0.7zM63.1 110.5h0.7v0.7h-0.7zM60.5 113.2h0.7v0.7h-0.7zM62.6 92.5h0.7v0.7h-0.7zM51.6 85.5h0.7v0.7h-0.7zM60.0 99.7h0.7v0.7h-0.7zM47.7 98.2h0.7v0.7h-0.7zM65.8 85.3h0.7v0.7h-0.7zM46.3 72.7h0.7v0.7h-0.7zM46.3 60.3h0.7v0.7h-0.7zM50.4 98.2h0.7v0.7h-0.7zM61.0 99.4h0.7v0.7h-0.7zM64.2 79.8h0.7v0.7h-0.7zM48.4 58.4h0.7v0.7h-0.7zM67.8 72.3h0.7v0.7h-0.7zM64.2 85.0h0.7v0.7h-0.7zM69.4 95.8h0.7v0.7h-0.7zM53.8 110.5h0.7v0.7h-0.7zM64.8 77.3h0.7v0.7h-0.7zM54.1 110.4h0.7v0.7h-0.7zM46.7 73.8h0.7v0.7h-0.7zM68.7 79.7h0.7v0.7h-0.7zM63.8 110.4h0.7v0.7h-0.7zM49.0 94.9h0.7v0.7h-0.7zM46.5 78.5h0.7v0.7h-0.7zM48.8 96.1h0.7v0.7h-0.7zM64.6 99.0h0.7v0.7h-0.7zM50.0 105.8h0.7v0.7h-0.7zM62.6 103.5h0.7v0.7h-0.7zM50.9 87.3h0.7v0.7h-0.7zM54.4 109.5h0.7v0.7h-0.7zM48.3 100.9h0.7v0.7h-0.7zM66.2 70.0h0.7v0.7h-0.7zM51.8 64.6h0.7v0.7h-0.7zM48.3 69.8h0.7v0.7h-0.7zM63.7 64.4h0.7v0.7h-0.7zM67.5 97.9h0.7v0.7h-0.7zM67.4 90.0h0.7v0.7h-0.7zM54.5 64.2h0.7v0.7h-0.7zM68.8 93.9h0.7v0.7h-0.7zM50.0 63.3h0.7v0.7h-0.7zM69.1 82.9h0.7v0.7h-0.7zM61.2 98.0h0.7v0.7h-0.7zM50.7 58.2h0.7v0.7h-0.7zM60.7 63.9h0.7v0.7h-0.7zM67.6 75.2h0.7v0.7h-0.7zM50.6 107.2h0.7v0.7h-0.7zM52.2 91.9h0.7v0.7h-0.7zM51.0 74.7h0.7v0.7h-0.7zM62.5 111.8h0.7v0.7h-0.7zM46.1 66.6h0.7v0.7h-0.7zM68.9 81.2h0.7v0.7h-0.7zM48.0 60.8h0.7v0.7h-0.7zM50.3 104.9h0.7v0.7h-0.7zM53.3 103.4h0.7v0.7h-0.7zM67.7 81.3h0.7v0.7h-0.7zM60.1 113.6h0.7v0.7h-0.7zM67.2 99.9h0.7v0.7h-0.7zM62.1 99.0h0.7v0.7h-0.7zM69.0 90.8h0.7v0.7h-0.7zM46.4 76.8h0.7v0.7h-0.7zM48.6 92.5h0.7v0.7h-0.7zM64.1 62.8h0.7v0.7h-0.7zM49.3 110.0h0.7v0.7h-0.7zM62.4 87.9h0.7v0.7h-0.7zM60.7 60.4h0.7v0.7h-0.7zM51.2 88.5h0.7v0.7h-0.7zM56.0 106.6h0.7v0.7h-0.7zM50.0 73.6h0.7v0.7h-0.7zM49.4 64.6h0.7v0.7h-0.7zM70.7 86.4h0.7v0.7h-0.7zM62.9 86.4h0.7v0.7h-0.7zM51.2 95.3h0.7v0.7h-0.7zM69.1 71.6h0.7v0.7h-0.7zM57.4 61.6h0.7v0.7h-0.7zM63.7 92.3h0.7v0.7h-0.7zM47.6 82.5h0.7v0.7h-0.7zM100.5 73.0h0.7v0.7h-0.7zM98.2 75.8h0.7v0.7h-0.7zM91.7 69.8h0.7v0.7h-0.7zM98.1 68.1h0.7v0.7h-0.7zM85.9 68.8h0.7v0.7h-0.7zM82.4 72.7h0.7v0.7h-0.7zM98.6 74.9h0.7v0.7h-0.7zM93.7 78.2h0.7v0.7h-0.7zM96.9 69.9h0.7v0.7h-0.7zM71.7 59.0h0.7v0.7h-0.7zM200.3 87.9h0.7v0.7h-0.7zM182.9 70.0h0.7v0.7h-0.7zM202.1 88.2h0.7v0.7h-0.7zM199.6 92.1h0.7v0.7h-0.7zM173.1 99.2h0.7v0.7h-0.7zM220.0 63.0h0.7v0.7h-0.7zM220.1 60.9h0.7v0.7h-0.7zM196.8 92.6h0.7v0.7h-0.7zM195.2 90.3h0.7v0.7h-0.7zM192.2 108.8h0.7v0.7h-0.7zM198.7 82.7h0.7v0.7h-0.7zM206.2 70.5h0.7v0.7h-0.7zM174.0 79.0h0.7v0.7h-0.7zM176.0 96.1h0.7v0.7h-0.7zM191.3 70.9h0.7v0.7h-0.7zM190.0 100.0h0.7v0.7h-0.7zM209.8 83.1h0.7v0.7h-0.7zM173.9 108.4h0.7v0.7h-0.7zM209.9 68.4h0.7v0.7h-0.7zM214.2 88.7h0.7v0.7h-0.7zM185.2 110.6h0.7v0.7h-0.7zM190.4 71.5h0.7v0.7h-0.7zM185.2 75.8h0.7v0.7h-0.7zM217.9 66.8h0.7v0.7h-0.7zM210.6 63.6h0.7v0.7h-0.7zM239.0 71.4h0.7v0.7h-0.7zM210.2 64.1h0.7v0.7h-0.7zM225.5 79.7h0.7v0.7h-0.7zM179.2 79.1h0.7v0.7h-0.7zM175.9 95.2h0.7v0.7h-0.7zM205.1 87.9h0.7v0.7h-0.7zM219.2 80.9h0.7v0.7h-0.7zM171.7 84.7h0.7v0.7h-0.7zM228.3 78.1h0.7v0.7h-0.7zM224.8 82.7h0.7v0.7h-0.7zM186.4 110.5h0.7v0.7h-0.7zM176.3 74.3h0.7v0.7h-0.7zM217.5 80.7h0.7v0.7h-0.7zM220.6 81.0h0.7v0.7h-0.7zM173.3 109.7h0.7v0.7h-0.7zM195.4 89.5h0.7v0.7h-0.7zM175.2 88.8h0.7v0.7h-0.7zM178.6 101.2h0.7v0.7h-0.7zM214.8 82.6h0.7v0.7h-0.7zM206.1 88.7h0.7v0.7h-0.7zM184.6 68.4h0.7v0.7h-0.7zM216.2 83.4h0.7v0.7h-0.7zM206.8 66.2h0.7v0.7h-0.7zM178.7 113.6h0.7v0.7h-0.7zM179.2 107.4h0.7v0.7h-0.7zM179.9 76.5h0.7v0.7h-0.7zM171.7 82.5h0.7v0.7h-0.7zM181.3 107.7h0.7v0.7h-0.7zM171.4 82.7h0.7v0.7h-0.7zM220.6 85.1h0.7v0.7h-0.7zM228.1 68.1h0.7v0.7h-0.7zM190.1 106.2h0.7v0.7h-0.7zM212.7 63.1h0.7v0.7h-0.7zM196.9 84.4h0.7v0.7h-0.7zM209.2 69.6h0.7v0.7h-0.7zM196.6 88.9h0.7v0.7h-0.7zM180.6 107.3h0.7v0.7h-0.7zM221.6 80.8h0.7v0.7h-0.7zM203.1 82.4h0.7v0.7h-0.7zM226.4 61.3h0.7v0.7h-0.7zM197.8 66.6h0.7v0.7h-0.7zM227.4 79.8h0.7v0.7h-0.7zM197.1 90.3h0.7v0.7h-0.7zM182.2 77.1h0.7v0.7h-0.7zM228.9 67.2h0.7v0.7h-0.7zM191.8 106.1h0.7v0.7h-0.7zM228.5 76.4h0.7v0.7h-0.7zM183.7 116.0h0.7v0.7h-0.7zM213.2 63.1h0.7v0.7h-0.7zM210.0 71.0h0.7v0.7h-0.7zM192.2 106.9h0.7v0.7h-0.7zM231.3 74.4h0.7v0.7h-0.7zM193.3 68.3h0.7v0.7h-0.7zM205.3 87.2h0.7v0.7h-0.7zM194.8 100.7h0.7v0.7h-0.7zM235.4 74.2h0.7v0.7h-0.7zM229.8 79.7h0.7v0.7h-0.7zM185.1 71.7h0.7v0.7h-0.7zM232.1 80.0h0.7v0.7h-0.7zM174.6 78.1h0.7v0.7h-0.7zM223.0 61.4h0.7v0.7h-0.7zM196.0 103.0h0.7v0.7h-0.7zM234.0 65.1h0.7v0.7h-0.7zM213.0 87.3h0.7v0.7h-0.7zM208.8 68.6h0.7v0.7h-0.7zM173.6 77.1h0.7v0.7h-0.7zM188.5 107.8h0.7v0.7h-0.7zM184.9 114.5h0.7v0.7h-0.7zM217.8 62.4h0.7v0.7h-0.7zM190.8 102.4h0.7v0.7h-0.7zM230.9 75.3h0.7v0.7h-0.7zM177.8 72.6h0.7v0.7h-0.7zM188.9 68.1h0.7v0.7h-0.7zM185.7 69.5h0.7v0.7h-0.7zM192.4 102.1h0.7v0.7h-0.7zM177.7 78.5h0.7v0.7h-0.7zM183.0 110.7h0.7v0.7h-0.7zM191.8 98.5h0.7v0.7h-0.7zM205.9 85.0h0.7v0.7h-0.7zM196.5 89.1h0.7v0.7h-0.7zM176.0 107.9h0.7v0.7h-0.7zM220.8 66.4h0.7v0.7h-0.7zM175.7 110.6h0.7v0.7h-0.7zM183.0 76.8h0.7v0.7h-0.7zM218.8 67.8h0.7v0.7h-0.7zM225.9 85.8h0.7v0.7h-0.7zM232.4 61.7h0.7v0.7h-0.7zM232.7 61.2h0.7v0.7h-0.7zM176.9 98.6h0.7v0.7h-0.7zM197.9 74.0h0.7v0.7h-0.7zM215.4 68.6h0.7v0.7h-0.7zM230.4 67.9h0.7v0.7h-0.7zM200.7 93.6h0.7v0.7h-0.7zM222.2 80.3h0.7v0.7h-0.7zM220.2 84.7h0.7v0.7h-0.7zM174.6 77.8h0.7v0.7h-0.7zM209.9 69.6h0.7v0.7h-0.7zM180.2 105.0h0.7v0.7h-0.7zM208.0 64.8h0.7v0.7h-0.7zM204.5 85.2h0.7v0.7h-0.7zM217.9 92.9h0.7v0.7h-0.7zM214.8 85.9h0.7v0.7h-0.7zM233.3 87.1h0.7v0.7h-0.7zM215.5 96.9h0.7v0.7h-0.7zM212.9 87.1h0.7v0.7h-0.7zM214.7 86.9h0.7v0.7h-0.7zM212.0 92.9h0.7v0.7h-0.7zM199.5 90.7h0.7v0.7h-0.7zM213.8 87.2h0.7v0.7h-0.7zM214.9 97.3h0.7v0.7h-0.7zM219.8 91.4h0.7v0.7h-0.7zM209.0 86.9h0.7v0.7h-0.7zM210.9 92.0h0.7v0.7h-0.7zM219.3 95.2h0.7v0.7h-0.7zM224.0 95.8h0.7v0.7h-0.7zM214.5 101.9h0.7v0.7h-0.7zM219.3 92.0h0.7v0.7h-0.7zM206.5 95.6h0.7v0.7h-0.7zM210.1 93.6h0.7v0.7h-0.7zM222.9 96.1h0.7v0.7h-0.7zM220.7 91.2h0.7v0.7h-0.7zM225.8 96.6h0.7v0.7h-0.7zM224.0 81.3h0.7v0.7h-0.7zM204.8 96.5h0.7v0.7h-0.7zM211.1 88.4h0.7v0.7h-0.7zM214.6 92.3h0.7v0.7h-0.7zM215.4 98.2h0.7v0.7h-0.7zM226.9 95.5h0.7v0.7h-0.7zM198.5 84.2h0.7v0.7h-0.7zM216.3 95.6h0.7v0.7h-0.7zM222.4 100.0h0.7v0.7h-0.7zM205.0 93.1h0.7v0.7h-0.7zM220.4 87.5h0.7v0.7h-0.7zM212.1 95.1h0.7v0.7h-0.7zM212.7 97.6h0.7v0.7h-0.7zM216.9 87.0h0.7v0.7h-0.7zM194.1 83.6h0.7v0.7h-0.7zM216.8 89.8h0.7v0.7h-0.7zM215.3 94.8h0.7v0.7h-0.7zM217.4 89.6h0.7v0.7h-0.7zM222.1 84.4h0.7v0.7h-0.7zM222.2 97.4h0.7v0.7h-0.7zM197.7 87.9h0.7v0.7h-0.7zM223.6 99.6h0.7v0.7h-0.7zM221.5 94.8h0.7v0.7h-0.7zM213.9 93.1h0.7v0.7h-0.7zM215.6 83.2h0.7v0.7h-0.7zM215.5 90.0h0.7v0.7h-0.7zM228.8 79.5h0.7v0.7h-0.7zM218.5 97.0h0.7v0.7h-0.7zM206.4 98.2h0.7v0.7h-0.7zM200.4 95.5h0.7v0.7h-0.7zM209.1 88.6h0.7v0.7h-0.7zM215.7 88.2h0.7v0.7h-0.7zM217.6 89.9h0.7v0.7h-0.7zM222.8 88.1h0.7v0.7h-0.7zM213.3 97.2h0.7v0.7h-0.7zM222.0 86.2h0.7v0.7h-0.7zM213.4 99.7h0.7v0.7h-0.7zM196.8 83.4h0.7v0.7h-0.7zM208.9 92.9h0.7v0.7h-0.7zM228.4 95.5h0.7v0.7h-0.7zM230.5 89.7h0.7v0.7h-0.7zM215.2 92.4h0.7v0.7h-0.7zM215.6 96.2h0.7v0.7h-0.7zM210.3 91.5h0.7v0.7h-0.7zM217.2 89.5h0.7v0.7h-0.7zM215.1 87.1h0.7v0.7h-0.7zM216.0 86.1h0.7v0.7h-0.7zM184.9 53.2h0.7v0.7h-0.7zM171.7 63.7h0.7v0.7h-0.7zM179.6 65.4h0.7v0.7h-0.7zM186.7 62.8h0.7v0.7h-0.7zM178.5 65.3h0.7v0.7h-0.7zM189.6 61.0h0.7v0.7h-0.7zM192.9 70.0h0.7v0.7h-0.7zM178.0 65.6h0.7v0.7h-0.7zM187.9 60.2h0.7v0.7h-0.7zM177.3 54.5h0.7v0.7h-0.7zM173.8 66.0h0.7v0.7h-0.7zM183.8 64.1h0.7v0.7h-0.7zM189.9 62.2h0.7v0.7h-0.7zM189.2 60.4h0.7v0.7h-0.7zM172.4 60.7h0.7v0.7h-0.7zM175.6 61.0h0.7v0.7h-0.7zM179.3 62.0h0.7v0.7h-0.7zM183.1 58.5h0.7v0.7h-0.7zM171.7 69.1h0.7v0.7h-0.7zM182.5 61.0h0.7v0.7h-0.7zM171.3 69.1h0.7v0.7h-0.7zM185.1 67.3h0.7v0.7h-0.7zM187.2 64.8h0.7v0.7h-0.7zM185.6 59.8h0.7v0.7h-0.7zM191.0 64.6h0.7v0.7h-0.7zM191.8 60.4h0.7v0.7h-0.7zM188.0 63.3h0.7v0.7h-0.7zM193.3 59.1h0.7v0.7h-0.7zM180.8 66.2h0.7v0.7h-0.7zM184.5 68.6h0.7v0.7h-0.7zM181.9 73.2h0.7v0.7h-0.7zM190.6 62.6h0.7v0.7h-0.7zM196.8 60.1h0.7v0.7h-0.7zM188.9 69.1h0.7v0.7h-0.7zM181.6 49.6h0.7v0.7h-0.7zM188.8 65.7h0.7v0.7h-0.7zM349.6 65.3h0.7v0.7h-0.7zM361.5 71.0h0.7v0.7h-0.7zM299.0 95.2h0.7v0.7h-0.7zM325.4 76.8h0.7v0.7h-0.7zM323.3 73.8h0.7v0.7h-0.7zM341.6 68.7h0.7v0.7h-0.7zM359.0 77.3h0.7v0.7h-0.7zM358.8 71.5h0.7v0.7h-0.7zM310.4 105.4h0.7v0.7h-0.7zM341.6 70.7h0.7v0.7h-0.7zM300.1 113.1h0.7v0.7h-0.7zM310.5 107.3h0.7v0.7h-0.7zM320.4 96.7h0.7v0.7h-0.7zM354.2 70.1h0.7v0.7h-0.7zM353.2 77.9h0.7v0.7h-0.7zM295.5 102.1h0.7v0.7h-0.7zM323.5 70.1h0.7v0.7h-0.7zM318.7 86.1h0.7v0.7h-0.7zM310.0 112.1h0.7v0.7h-0.7zM313.9 101.1h0.7v0.7h-0.7zM353.5 83.9h0.7v0.7h-0.7zM323.3 86.1h0.7v0.7h-0.7zM323.7 85.8h0.7v0.7h-0.7zM363.6 75.2h0.7v0.7h-0.7zM315.0 97.8h0.7v0.7h-0.7zM336.2 70.8h0.7v0.7h-0.7zM297.2 73.3h0.7v0.7h-0.7zM328.8 72.5h0.7v0.7h-0.7zM316.9 93.9h0.7v0.7h-0.7zM293.5 74.9h0.7v0.7h-0.7zM311.8 103.2h0.7v0.7h-0.7zM298.4 90.5h0.7v0.7h-0.7zM356.6 81.9h0.7v0.7h-0.7zM299.2 95.6h0.7v0.7h-0.7zM302.5 107.8h0.7v0.7h-0.7zM361.2 67.4h0.7v0.7h-0.7zM346.9 87.0h0.7v0.7h-0.7zM294.7 98.2h0.7v0.7h-0.7zM308.4 113.1h0.7v0.7h-0.7zM298.3 100.9h0.7v0.7h-0.7zM361.2 74.5h0.7v0.7h-0.7zM360.7 68.5h0.7v0.7h-0.7zM298.7 101.8h0.7v0.7h-0.7zM306.9 108.1h0.7v0.7h-0.7zM312.7 113.5h0.7v0.7h-0.7zM307.5 68.2h0.7v0.7h-0.7zM310.4 67.6h0.7v0.7h-0.7zM344.9 84.0h0.7v0.7h-0.7zM308.0 73.5h0.7v0.7h-0.7zM332.8 65.6h0.7v0.7h-0.7zM295.9 84.0h0.7v0.7h-0.7zM316.9 103.6h0.7v0.7h-0.7zM355.0 71.1h0.7v0.7h-0.7zM304.9 73.2h0.7v0.7h-0.7zM309.4 106.4h0.7v0.7h-0.7zM324.3 75.2h0.7v0.7h-0.7zM326.4 71.4h0.7v0.7h-0.7zM359.1 73.7h0.7v0.7h-0.7zM354.0 67.8h0.7v0.7h-0.7zM320.1 73.8h0.7v0.7h-0.7zM304.1 75.2h0.7v0.7h-0.7zM295.7 80.7h0.7v0.7h-0.7zM339.1 87.3h0.7v0.7h-0.7zM310.3 108.7h0.7v0.7h-0.7zM319.5 88.8h0.7v0.7h-0.7zM311.9 69.2h0.7v0.7h-0.7zM359.4 76.7h0.7v0.7h-0.7zM294.3 99.7h0.7v0.7h-0.7zM354.9 85.3h0.7v0.7h-0.7zM314.9 70.3h0.7v0.7h-0.7zM295.2 92.9h0.7v0.7h-0.7zM361.0 78.2h0.7v0.7h-0.7zM355.8 81.1h0.7v0.7h-0.7zM314.1 70.5h0.7v0.7h-0.7zM298.0 97.3h0.7v0.7h-0.7zM312.8 71.1h0.7v0.7h-0.7zM339.7 87.1h0.7v0.7h-0.7zM331.7 83.3h0.7v0.7h-0.7zM352.7 80.5h0.7v0.7h-0.7zM333.9 79.6h0.7v0.7h-0.7zM349.0 81.5h0.7v0.7h-0.7zM317.6 85.9h0.7v0.7h-0.7zM304.1 73.5h0.7v0.7h-0.7zM297.7 93.6h0.7v0.7h-0.7zM303.1 107.6h0.7v0.7h-0.7zM319.9 100.8h0.7v0.7h-0.7zM311.5 113.3h0.7v0.7h-0.7zM343.3 68.3h0.7v0.7h-0.7zM313.7 98.1h0.7v0.7h-0.7zM346.0 87.3h0.7v0.7h-0.7zM333.0 86.0h0.7v0.7h-0.7zM318.4 74.0h0.7v0.7h-0.7zM331.0 66.8h0.7v0.7h-0.7zM348.7 81.7h0.7v0.7h-0.7zM335.4 68.1h0.7v0.7h-0.7zM305.2 70.1h0.7v0.7h-0.7zM315.5 88.4h0.7v0.7h-0.7zM299.3 100.4h0.7v0.7h-0.7zM301.1 102.1h0.7v0.7h-0.7zM300.1 72.4h0.7v0.7h-0.7zM296.1 95.2h0.7v0.7h-0.7zM360.7 79.1h0.7v0.7h-0.7zM336.9 85.1h0.7v0.7h-0.7zM320.6 89.7h0.7v0.7h-0.7zM326.3 83.7h0.7v0.7h-0.7zM315.9 96.2h0.7v0.7h-0.7zM314.6 93.4h0.7v0.7h-0.7zM328.3 74.0h0.7v0.7h-0.7zM350.7 69.5h0.7v0.7h-0.7zM313.5 72.2h0.7v0.7h-0.7zM354.2 77.1h0.7v0.7h-0.7zM344.2 82.2h0.7v0.7h-0.7zM312.8 101.5h0.7v0.7h-0.7zM357.4 73.5h0.7v0.7h-0.7zM358.7 72.7h0.7v0.7h-0.7zM360.4 76.9h0.7v0.7h-0.7zM316.2 70.5h0.7v0.7h-0.7zM345.7 70.0h0.7v0.7h-0.7zM355.4 66.3h0.7v0.7h-0.7zM350.0 87.0h0.7v0.7h-0.7zM321.8 84.4h0.7v0.7h-0.7zM314.4 108.8h0.7v0.7h-0.7zM307.2 115.0h0.7v0.7h-0.7zM354.7 78.5h0.7v0.7h-0.7zM300.3 106.3h0.7v0.7h-0.7zM328.0 73.0h0.7v0.7h-0.7zM344.1 70.9h0.7v0.7h-0.7zM334.9 85.0h0.7v0.7h-0.7zM310.6 114.7h0.7v0.7h-0.7zM355.4 77.3h0.7v0.7h-0.7zM359.9 77.1h0.7v0.7h-0.7zM298.1 90.7h0.7v0.7h-0.7zM320.3 79.5h0.7v0.7h-0.7zM320.9 80.8h0.7v0.7h-0.7zM329.0 69.8h0.7v0.7h-0.7zM338.1 85.8h0.7v0.7h-0.7zM349.6 70.5h0.7v0.7h-0.7zM347.7 80.5h0.7v0.7h-0.7zM347.1 63.3h0.7v0.7h-0.7zM298.3 103.8h0.7v0.7h-0.7zM351.8 87.9h0.7v0.7h-0.7zM330.1 67.7h0.7v0.7h-0.7zM342.3 91.0h0.7v0.7h-0.7zM336.7 88.1h0.7v0.7h-0.7zM318.7 84.1h0.7v0.7h-0.7zM329.1 81.6h0.7v0.7h-0.7zM337.6 96.2h0.7v0.7h-0.7zM341.9 93.5h0.7v0.7h-0.7zM343.5 92.3h0.7v0.7h-0.7zM333.5 100.6h0.7v0.7h-0.7zM321.0 89.5h0.7v0.7h-0.7zM334.9 91.9h0.7v0.7h-0.7zM341.1 90.7h0.7v0.7h-0.7zM350.4 92.4h0.7v0.7h-0.7zM338.4 91.9h0.7v0.7h-0.7zM339.3 97.2h0.7v0.7h-0.7zM365.1 86.9h0.7v0.7h-0.7zM338.4 84.0h0.7v0.7h-0.7zM336.3 94.2h0.7v0.7h-0.7zM337.0 91.6h0.7v0.7h-0.7zM333.7 93.4h0.7v0.7h-0.7zM333.4 91.3h0.7v0.7h-0.7zM329.9 91.1h0.7v0.7h-0.7zM354.5 92.8h0.7v0.7h-0.7zM344.7 95.4h0.7v0.7h-0.7zM328.7 86.3h0.7v0.7h-0.7zM327.6 85.6h0.7v0.7h-0.7zM341.2 85.5h0.7v0.7h-0.7zM331.3 97.3h0.7v0.7h-0.7zM319.0 80.8h0.7v0.7h-0.7zM352.3 89.5h0.7v0.7h-0.7zM336.0 88.0h0.7v0.7h-0.7zM343.2 94.3h0.7v0.7h-0.7zM337.1 82.2h0.7v0.7h-0.7zM324.8 91.6h0.7v0.7h-0.7zM335.8 88.9h0.7v0.7h-0.7zM334.3 95.0h0.7v0.7h-0.7zM310.0 93.6h0.7v0.7h-0.7zM344.9 87.7h0.7v0.7h-0.7zM329.7 99.5h0.7v0.7h-0.7zM328.4 83.8h0.7v0.7h-0.7zM333.8 85.4h0.7v0.7h-0.7zM347.9 101.5h0.7v0.7h-0.7zM321.9 95.6h0.7v0.7h-0.7zM328.8 86.9h0.7v0.7h-0.7zM335.4 86.5h0.7v0.7h-0.7zM329.0 92.3h0.7v0.7h-0.7zM327.8 92.5h0.7v0.7h-0.7zM336.4 87.7h0.7v0.7h-0.7zM336.6 96.7h0.7v0.7h-0.7zM343.1 87.4h0.7v0.7h-0.7zM346.7 81.5h0.7v0.7h-0.7zM359.9 91.5h0.7v0.7h-0.7zM354.8 84.9h0.7v0.7h-0.7zM343.8 78.6h0.7v0.7h-0.7zM344.0 83.2h0.7v0.7h-0.7zM330.7 88.9h0.7v0.7h-0.7zM341.9 90.0h0.7v0.7h-0.7zM317.5 86.2h0.7v0.7h-0.7zM329.9 85.6h0.7v0.7h-0.7zM342.3 98.4h0.7v0.7h-0.7zM334.0 86.1h0.7v0.7h-0.7zM326.2 99.8h0.7v0.7h-0.7zM332.6 95.9h0.7v0.7h-0.7zM340.6 89.5h0.7v0.7h-0.7zM333.0 92.1h0.7v0.7h-0.7zM336.0 93.7h0.7v0.7h-0.7zM298.7 66.6h0.7v0.7h-0.7zM309.5 60.1h0.7v0.7h-0.7zM305.4 60.5h0.7v0.7h-0.7zM309.4 58.6h0.7v0.7h-0.7zM302.9 71.3h0.7v0.7h-0.7zM301.9 68.4h0.7v0.7h-0.7zM297.7 71.2h0.7v0.7h-0.7zM309.2 71.3h0.7v0.7h-0.7zM305.7 65.6h0.7v0.7h-0.7zM298.7 68.6h0.7v0.7h-0.7zM320.3 69.3h0.7v0.7h-0.7zM309.8 65.6h0.7v0.7h-0.7zM305.1 63.1h0.7v0.7h-0.7zM310.8 65.1h0.7v0.7h-0.7zM299.4 59.4h0.7v0.7h-0.7zM305.5 60.4h0.7v0.7h-0.7zM295.4 65.1h0.7v0.7h-0.7zM306.1 53.0h0.7v0.7h-0.7zM307.5 70.3h0.7v0.7h-0.7zM308.4 61.9h0.7v0.7h-0.7zM309.4 70.0h0.7v0.7h-0.7zM302.9 74.9h0.7v0.7h-0.7zM311.5 69.7h0.7v0.7h-0.7zM306.8 68.9h0.7v0.7h-0.7zM304.4 64.0h0.7v0.7h-0.7zM316.1 62.9h0.7v0.7h-0.7zM306.5 72.2h0.7v0.7h-0.7zM317.5 56.2h0.7v0.7h-0.7zM426.1 67.7h0.7v0.7h-0.7zM431.7 107.7h0.7v0.7h-0.7zM423.0 79.1h0.7v0.7h-0.7zM440.9 105.7h0.7v0.7h-0.7zM438.9 89.6h0.7v0.7h-0.7zM448.8 74.5h0.7v0.7h-0.7zM445.3 94.2h0.7v0.7h-0.7zM429.0 108.4h0.7v0.7h-0.7zM442.4 99.0h0.7v0.7h-0.7zM424.0 98.8h0.7v0.7h-0.7zM446.0 93.8h0.7v0.7h-0.7zM430.2 66.6h0.7v0.7h-0.7zM429.7 101.2h0.7v0.7h-0.7zM447.0 85.6h0.7v0.7h-0.7zM442.3 103.5h0.7v0.7h-0.7zM435.8 68.2h0.7v0.7h-0.7zM429.3 72.6h0.7v0.7h-0.7zM427.0 91.4h0.7v0.7h-0.7zM442.5 65.9h0.7v0.7h-0.7zM424.8 98.5h0.7v0.7h-0.7zM430.1 98.9h0.7v0.7h-0.7zM442.2 74.8h0.7v0.7h-0.7zM439.7 93.8h0.7v0.7h-0.7zM439.7 106.6h0.7v0.7h-0.7zM423.8 91.5h0.7v0.7h-0.7zM447.1 75.0h0.7v0.7h-0.7zM445.4 66.6h0.7v0.7h-0.7zM443.4 101.7h0.7v0.7h-0.7zM435.4 109.9h0.7v0.7h-0.7zM441.7 74.1h0.7v0.7h-0.7zM424.6 82.2h0.7v0.7h-0.7zM430.8 72.4h0.7v0.7h-0.7zM443.4 72.8h0.7v0.7h-0.7zM426.6 94.7h0.7v0.7h-0.7zM436.3 68.7h0.7v0.7h-0.7zM425.9 104.1h0.7v0.7h-0.7zM426.1 81.6h0.7v0.7h-0.7zM431.5 101.5h0.7v0.7h-0.7zM425.7 80.6h0.7v0.7h-0.7zM428.1 93.4h0.7v0.7h-0.7zM444.2 75.8h0.7v0.7h-0.7zM444.6 78.0h0.7v0.7h-0.7zM428.3 91.2h0.7v0.7h-0.7zM424.1 97.5h0.7v0.7h-0.7zM425.3 79.0h0.7v0.7h-0.7zM445.8 89.2h0.7v0.7h-0.7zM444.5 89.4h0.7v0.7h-0.7zM431.5 104.7h0.7v0.7h-0.7zM437.1 100.8h0.7v0.7h-0.7zM444.4 67.9h0.7v0.7h-0.7zM442.0 86.9h0.7v0.7h-0.7zM423.7 97.4h0.7v0.7h-0.7zM427.8 101.0h0.7v0.7h-0.7zM423.8 87.2h0.7v0.7h-0.7zM426.9 83.6h0.7v0.7h-0.7zM442.4 72.5h0.7v0.7h-0.7zM425.0 72.2h0.7v0.7h-0.7zM442.7 88.0h0.7v0.7h-0.7zM440.3 80.3h0.7v0.7h-0.7zM438.2 95.0h0.7v0.7h-0.7zM426.4 82.9h0.7v0.7h-0.7zM425.8 104.4h0.7v0.7h-0.7zM443.4 79.6h0.7v0.7h-0.7zM425.0 85.9h0.7v0.7h-0.7zM432.6 108.0h0.7v0.7h-0.7zM439.9 70.6h0.7v0.7h-0.7zM437.9 69.8h0.7v0.7h-0.7zM436.6 69.7h0.7v0.7h-0.7zM436.2 112.0h0.7v0.7h-0.7zM442.5 99.9h0.7v0.7h-0.7zM424.2 88.9h0.7v0.7h-0.7zM444.1 67.5h0.7v0.7h-0.7zM445.6 90.8h0.7v0.7h-0.7zM448.1 79.3h0.7v0.7h-0.7zM444.7 72.1h0.7v0.7h-0.7zM478.8 67.8h0.7v0.7h-0.7zM463.3 74.0h0.7v0.7h-0.7zM457.5 76.4h0.7v0.7h-0.7zM471.8 66.3h0.7v0.7h-0.7zM463.2 77.9h0.7v0.7h-0.7zM470.9 68.5h0.7v0.7h-0.7zM484.4 89.1h0.7v0.7h-0.7z"/>
<path fill="rgb(175,175,175)" d="M59.2 101.3h0.7v0.7h-0.7zM65.0 81.6h0.7v0.7h-0.7zM53.2 110.2h0.7v0.7h-0.7zM61.6 79.3h0.7v0.7h-0.7zM54.8 56.6h0.7v0.7h-0.7zM52.9 98.4h0.7v0.7h-0.7zM58.7 65.7h0.7v0.7h-0.7zM68.9 70.7h0.7v0.7h-0.7zM54.6 83.6h0.7v0.7h-0.7zM51.6 94.6h0.7v0.7h-0.7zM64.5 57.5h0.7v0.7h-0.7zM63.6 96.5h0.7v0.7h-0.7zM64.7 58.6h0.7v0.7h-0.7zM68.0 66.6h0.7v0.7h-0.7zM48.0 94.2h0.7v0.7h-0.7zM63.3 61.9h0.7v0.7h-0.7zM47.8 98.6h0.7v0.7h-0.7zM63.6 96.9h0.7v0.7h-0.7zM59.4 103.8h0.7v0.7h-0.7zM61.0 104.6h0.7v0.7h-0.7zM50.3 78.5h0.7v0.7h-0.7zM62.1 108.7h0.7v0.7h-0.7zM62.3 86.9h0.7v0.7h-0.7zM61.3 114.3h0.7v0.7h-0.7zM53.1 61.1h0.7v0.7h-0.7zM52.9 113.1h0.7v0.7h-0.7zM48.4 56.7h0.7v0.7h-0.7zM50.8 60.4h0.7v0.7h-0.7zM53.6 92.7h0.7v0.7h-0.7zM50.0 90.1h0.7v0.7h-0.7zM51.9 109.4h0.7v0.7h-0.7zM55.9 61.3h0.7v0.7h-0.7zM46.2 75.8h0.7v0.7h-0.7zM50.7 58.3h0.7v0.7h-0.7zM49.8 98.4h0.7v0.7h-0.7zM52.6 71.2h0.7v0.7h-0.7zM67.8 58.2h0.7v0.7h-0.7zM49.4 94.0h0.7v0.7h-0.7zM82.5 73.4h0.7v0.7h-0.7zM93.8 54.8h0.7v0.7h-0.7zM84.9 74.4h0.7v0.7h-0.7zM82.3 69.8h0.7v0.7h-0.7zM76.5 78.5h0.7v0.7h-0.7zM94.9 71.4h0.7v0.7h-0.7zM85.9 73.0h0.7v0.7h-0.7zM91.3 70.2h0.7v0.7h-0.7zM86.5 78.2h0.7v0.7h-0.7zM79.7 71.8h0.7v0.7h-0.7zM86.3 65.5h0.7v0.7h-0.7zM93.1 66.4h0.7v0.7h-0.7zM95.7 64.4h0.7v0.7h-0.7zM90.9 66.6h0.7v0.7h-0.7zM100.2 66.4h0.7v0.7h-0.7zM101.6 69.0h0.7v0.7h-0.7zM74.0 69.9h0.7v0.7h-0.7zM99.7 84.3h0.7v0.7h-0.7zM174.7 80.7h0.7v0.7h-0.7zM179.1 72.4h0.7v0.7h-0.7zM202.3 91.4h0.7v0.7h-0.7zM196.9 103.7h0.7v0.7h-0.7zM221.3 63.6h0.7v0.7h-0.7zM239.0 66.8h0.7v0.7h-0.7zM227.9 65.7h0.7v0.7h-0.7zM202.1 89.7h0.7v0.7h-0.7zM233.4 69.1h0.7v0.7h-0.7zM171.8 79.1h0.7v0.7h-0.7zM173.5 109.0h0.7v0.7h-0.7zM185.8 107.2h0.7v0.7h-0.7zM195.3 100.1h0.7v0.7h-0.7zM228.4 79.3h0.7v0.7h-0.7zM229.2 70.5h0.7v0.7h-0.7zM195.2 100.1h0.7v0.7h-0.7zM172.4 86.1h0.7v0.7h-0.7zM219.2 62.8h0.7v0.7h-0.7zM190.5 105.2h0.7v0.7h-0.7zM239.1 69.1h0.7v0.7h-0.7zM192.4 106.6h0.7v0.7h-0.7zM217.0 67.4h0.7v0.7h-0.7zM204.0 66.0h0.7v0.7h-0.7zM175.7 79.4h0.7v0.7h-0.7zM201.2 83.2h0.7v0.7h-0.7zM227.7 78.7h0.7v0.7h-0.7zM209.6 81.0h0.7v0.7h-0.7zM218.3 82.9h0.7v0.7h-0.7zM177.4 85.4h0.7v0.7h-0.7zM177.0 111.3h0.7v0.7h-0.7zM174.6 89.7h0.7v0.7h-0.7zM225.8 77.8h0.7v0.7h-0.7zM236.9 73.9h0.7v0.7h-0.7zM176.3 81.3h0.7v0.7h-0.7zM216.1 88.7h0.7v0.7h-0.7zM199.2 81.4h0.7v0.7h-0.7zM176.6 106.3h0.7v0.7h-0.7zM225.5 84.8h0.7v0.7h-0.7zM190.1 114.2h0.7v0.7h-0.7zM232.0 60.0h0.7v0.7h-0.7zM183.6 66.5h0.7v0.7h-0.7zM234.4 69.1h0.7v0.7h-0.7zM198.9 92.8h0.7v0.7h-0.7zM196.8 91.1h0.7v0.7h-0.7zM194.7 100.9h0.7v0.7h-0.7zM185.1 67.5h0.7v0.7h-0.7zM237.0 77.5h0.7v0.7h-0.7zM198.1 80.7h0.7v0.7h-0.7zM172.1 103.6h0.7v0.7h-0.7zM200.7 94.6h0.7v0.7h-0.7zM219.5 65.9h0.7v0.7h-0.7zM227.3 86.9h0.7v0.7h-0.7zM192.3 94.6h0.7v0.7h-0.7zM186.9 106.2h0.7v0.7h-0.7zM218.8 82.0h0.7v0.7h-0.7zM202.8 74.3h0.7v0.7h-0.7zM175.4 92.3h0.7v0.7h-0.7zM198.8 83.9h0.7v0.7h-0.7zM191.4 70.1h0.7v0.7h-0.7zM178.0 95.0h0.7v0.7h-0.7zM202.9 89.2h0.7v0.7h-0.7zM187.9 103.9h0.7v0.7h-0.7zM220.2 68.3h0.7v0.7h-0.7zM225.7 79.2h0.7v0.7h-0.7zM220.9 60.1h0.7v0.7h-0.7zM178.0 95.7h0.7v0.7h-0.7zM223.9 74.2h0.7v0.7h-0.7zM177.6 75.9h0.7v0.7h-0.7zM196.6 104.1h0.7v0.7h-0.7zM205.1 88.5h0.7v0.7h-0.7zM205.3 89.3h0.7v0.7h-0.7zM218.9 94.6h0.7v0.7h-0.7zM190.8 94.4h0.7v0.7h-0.7zM199.8 79.7h0.7v0.7h-0.7zM211.6 89.7h0.7v0.7h-0.7zM209.0 93.7h0.7v0.7h-0.7zM216.0 94.0h0.7v0.7h-0.7zM222.8 84.7h0.7v0.7h-0.7zM207.2 100.2h0.7v0.7h-0.7zM212.5 96.8h0.7v0.7h-0.7zM214.2 78.0h0.7v0.7h-0.7zM213.4 86.8h0.7v0.7h-0.7zM218.8 95.3h0.7v0.7h-0.7zM206.2 89.2h0.7v0.7h-0.7zM199.0 94.5h0.7v0.7h-0.7zM214.5 95.4h0.7v0.7h-0.7zM225.7 85.8h0.7v0.7h-0.7zM216.9 98.6h0.7v0.7h-0.7zM214.2 90.2h0.7v0.7h-0.7zM212.9 93.4h0.7v0.7h-0.7zM213.6 95.4h0.7v0.7h-0.7zM223.4 99.1h0.7v0.7h-0.7zM213.9 100.3h0.7v0.7h-0.7zM205.5 102.0h0.7v0.7h-0.7zM222.9 86.9h0.7v0.7h-0.7zM214.4 91.0h0.7v0.7h-0.7zM207.7 95.6h0.7v0.7h-0.7zM209.0 94.1h0.7v0.7h-0.7zM200.1 88.4h0.7v0.7h-0.7zM210.3 94.6h0.7v0.7h-0.7zM220.6 89.0h0.7v0.7h-0.7zM210.7 90.2h0.7v0.7h-0.7zM219.4 85.1h0.7v0.7h-0.7zM209.8 86.8h0.7v0.7h-0.7zM204.2 97.4h0.7v0.7h-0.7zM211.4 86.9h0.7v0.7h-0.7zM209.5 93.0h0.7v0.7h-0.7zM224.7 96.7h0.7v0.7h-0.7zM207.0 92.7h0.7v0.7h-0.7zM217.7 92.8h0.7v0.7h-0.7zM204.1 92.1h0.7v0.7h-0.7zM205.6 101.0h0.7v0.7h-0.7zM221.1 95.0h0.7v0.7h-0.7zM202.3 98.3h0.7v0.7h-0.7zM210.6 94.8h0.7v0.7h-0.7zM208.2 83.9h0.7v0.7h-0.7zM223.4 96.9h0.7v0.7h-0.7zM216.4 96.9h0.7v0.7h-0.7zM213.0 96.9h0.7v0.7h-0.7zM218.3 91.1h0.7v0.7h-0.7zM215.7 94.8h0.7v0.7h-0.7zM212.4 82.1h0.7v0.7h-0.7zM211.9 94.5h0.7v0.7h-0.7zM209.0 90.6h0.7v0.7h-0.7zM199.3 90.4h0.7v0.7h-0.7zM217.1 102.3h0.7v0.7h-0.7zM213.6 90.0h0.7v0.7h-0.7zM218.8 90.3h0.7v0.7h-0.7zM230.8 90.1h0.7v0.7h-0.7zM200.7 83.1h0.7v0.7h-0.7zM198.1 102.6h0.7v0.7h-0.7zM220.1 96.4h0.7v0.7h-0.7zM220.8 99.5h0.7v0.7h-0.7zM211.2 89.5h0.7v0.7h-0.7zM209.1 96.4h0.7v0.7h-0.7zM223.6 96.1h0.7v0.7h-0.7zM220.5 84.6h0.7v0.7h-0.7zM208.2 97.4h0.7v0.7h-0.7zM203.2 96.3h0.7v0.7h-0.7zM220.0 94.9h0.7v0.7h-0.7zM209.2 81.9h0.7v0.7h-0.7zM216.3 90.1h0.7v0.7h-0.7zM214.0 94.2h0.7v0.7h-0.7zM225.4 99.4h0.7v0.7h-0.7zM218.0 98.1h0.7v0.7h-0.7zM215.8 93.1h0.7v0.7h-0.7zM213.5 92.0h0.7v0.7h-0.7zM227.8 98.0h0.7v0.7h-0.7zM226.5 84.5h0.7v0.7h-0.7zM205.1 95.0h0.7v0.7h-0.7zM235.8 89.9h0.7v0.7h-0.7zM201.7 85.5h0.7v0.7h-0.7zM197.9 64.4h0.7v0.7h-0.7zM179.3 67.8h0.7v0.7h-0.7zM179.0 65.9h0.7v0.7h-0.7zM180.8 59.4h0.7v0.7h-0.7zM174.7 73.4h0.7v0.7h-0.7zM183.4 61.6h0.7v0.7h-0.7zM178.0 64.4h0.7v0.7h-0.7zM181.7 67.0h0.7v0.7h-0.7zM190.3 63.9h0.7v0.7h-0.7zM194.7 70.1h0.7v0.7h-0.7zM190.0 67.0h0.7v0.7h-0.7zM179.1 63.2h0.7v0.7h-0.7zM185.2 65.4h0.7v0.7h-0.7zM182.1 66.7h0.7v0.7h-0.7zM178.4 63.3h0.7v0.7h-0.7zM195.5 61.8h0.7v0.7h-0.7zM183.5 57.6h0.7v0.7h-0.7zM175.7 64.2h0.7v0.7h-0.7zM174.6 66.9h0.7v0.7h-0.7zM180.9 69.0h0.7v0.7h-0.7zM179.0 61.9h0.7v0.7h-0.7zM186.6 65.0h0.7v0.7h-0.7zM182.4 67.7h0.7v0.7h-0.7zM171.3 68.8h0.7v0.7h-0.7zM186.2 70.9h0.7v0.7h-0.7zM190.4 75.3h0.7v0.7h-0.7zM182.2 58.8h0.7v0.7h-0.7zM327.8 83.5h0.7v0.7h-0.7zM338.6 79.7h0.7v0.7h-0.7zM296.9 104.1h0.7v0.7h-0.7zM349.3 80.5h0.7v0.7h-0.7zM308.5 116.5h0.7v0.7h-0.7zM316.5 97.7h0.7v0.7h-0.7zM355.1 72.9h0.7v0.7h-0.7zM356.9 83.0h0.7v0.7h-0.7zM301.2 100.3h0.7v0.7h-0.7zM302.4 75.4h0.7v0.7h-0.7zM313.4 88.5h0.7v0.7h-0.7zM361.1 82.0h0.7v0.7h-0.7zM336.4 69.3h0.7v0.7h-0.7zM330.6 85.5h0.7v0.7h-0.7zM330.8 81.8h0.7v0.7h-0.7zM352.7 88.2h0.7v0.7h-0.7zM295.2 74.2h0.7v0.7h-0.7zM307.1 116.6h0.7v0.7h-0.7zM328.4 76.8h0.7v0.7h-0.7zM333.4 66.3h0.7v0.7h-0.7zM338.6 79.2h0.7v0.7h-0.7zM345.6 67.4h0.7v0.7h-0.7zM311.9 109.3h0.7v0.7h-0.7zM345.4 70.0h0.7v0.7h-0.7zM295.4 97.5h0.7v0.7h-0.7zM303.3 70.2h0.7v0.7h-0.7zM314.6 76.4h0.7v0.7h-0.7zM324.9 83.9h0.7v0.7h-0.7zM312.8 98.6h0.7v0.7h-0.7zM359.2 83.4h0.7v0.7h-0.7zM300.5 75.3h0.7v0.7h-0.7zM356.0 67.8h0.7v0.7h-0.7zM325.4 85.7h0.7v0.7h-0.7zM345.2 80.7h0.7v0.7h-0.7zM361.1 79.5h0.7v0.7h-0.7zM323.0 93.2h0.7v0.7h-0.7zM316.5 101.0h0.7v0.7h-0.7zM354.3 77.4h0.7v0.7h-0.7zM338.7 78.4h0.7v0.7h-0.7zM359.3 73.6h0.7v0.7h-0.7zM360.2 63.3h0.7v0.7h-0.7zM323.4 91.3h0.7v0.7h-0.7zM333.2 64.5h0.7v0.7h-0.7zM348.1 66.3h0.7v0.7h-0.7zM331.8 77.0h0.7v0.7h-0.7zM305.8 108.0h0.7v0.7h-0.7zM348.1 65.3h0.7v0.7h-0.7zM299.9 112.3h0.7v0.7h-0.7zM306.3 111.4h0.7v0.7h-0.7zM361.9 80.2h0.7v0.7h-0.7zM295.1 103.6h0.7v0.7h-0.7zM338.1 70.5h0.7v0.7h-0.7zM302.3 103.0h0.7v0.7h-0.7zM351.7 70.2h0.7v0.7h-0.7zM321.4 79.7h0.7v0.7h-0.7zM313.2 114.8h0.7v0.7h-0.7zM328.0 67.0h0.7v0.7h-0.7zM321.3 71.7h0.7v0.7h-0.7zM314.0 65.9h0.7v0.7h-0.7zM341.9 64.7h0.7v0.7h-0.7zM314.0 109.4h0.7v0.7h-0.7zM321.3 71.6h0.7v0.7h-0.7zM326.7 74.7h0.7v0.7h-0.7zM318.1 98.9h0.7v0.7h-0.7zM332.2 85.0h0.7v0.7h-0.7zM321.0 92.8h0.7v0.7h-0.7zM339.3 86.2h0.7v0.7h-0.7zM332.5 93.8h0.7v0.7h-0.7zM329.2 85.4h0.7v0.7h-0.7zM318.3 94.2h0.7v0.7h-0.7zM329.6 85.7h0.7v0.7h-0.7zM330.0 95.6h0.7v0.7h-0.7zM338.8 99.1h0.7v0.7h-0.7zM336.4 105.2h0.7v0.7h-0.7zM335.5 87.6h0.7v0.7h-0.7zM338.0 92.6h0.7v0.7h-0.7zM327.6 99.0h0.7v0.7h-0.7zM328.0 87.5h0.7v0.7h-0.7zM339.8 85.0h0.7v0.7h-0.7zM330.1 92.9h0.7v0.7h-0.7zM358.5 88.4h0.7v0.7h-0.7zM341.3 92.9h0.7v0.7h-0.7zM325.2 85.6h0.7v0.7h-0.7zM340.3 89.8h0.7v0.7h-0.7zM335.9 91.1h0.7v0.7h-0.7zM325.4 85.8h0.7v0.7h-0.7zM306.6 99.8h0.7v0.7h-0.7zM333.0 93.3h0.7v0.7h-0.7zM327.8 89.9h0.7v0.7h-0.7zM335.3 92.9h0.7v0.7h-0.7zM323.7 90.7h0.7v0.7h-0.7zM341.6 97.3h0.7v0.7h-0.7zM335.7 95.6h0.7v0.7h-0.7zM324.1 88.6h0.7v0.7h-0.7zM332.0 93.1h0.7v0.7h-0.7zM332.8 92.6h0.7v0.7h-0.7zM339.1 98.8h0.7v0.7h-0.7zM342.6 80.2h0.7v0.7h-0.7zM347.5 89.5h0.7v0.7h-0.7zM335.2 81.7h0.7v0.7h-0.7zM319.8 94.2h0.7v0.7h-0.7zM328.8 96.3h0.7v0.7h-0.7zM330.2 92.2h0.7v0.7h-0.7zM324.1 79.4h0.7v0.7h-0.7zM318.8 84.8h0.7v0.7h-0.7zM339.7 90.8h0.7v0.7h-0.7zM329.8 92.2h0.7v0.7h-0.7zM335.9 83.8h0.7v0.7h-0.7zM330.1 88.3h0.7v0.7h-0.7zM336.1 94.5h0.7v0.7h-0.7zM328.3 90.6h0.7v0.7h-0.7zM341.6 101.4h0.7v0.7h-0.7zM342.8 93.6h0.7v0.7h-0.7zM333.0 92.7h0.7v0.7h-0.7zM325.5 95.0h0.7v0.7h-0.7zM330.4 87.1h0.7v0.7h-0.7zM341.6 83.1h0.7v0.7h-0.7zM337.7 89.6h0.7v0.7h-0.7zM331.1 101.5h0.7v0.7h-0.7zM330.5 83.2h0.7v0.7h-0.7zM349.5 87.5h0.7v0.7h-0.7zM332.2 93.4h0.7v0.7h-0.7zM322.9 80.2h0.7v0.7h-0.7zM349.5 93.5h0.7v0.7h-0.7zM326.5 82.7h0.7v0.7h-0.7zM336.8 93.6h0.7v0.7h-0.7zM324.8 83.8h0.7v0.7h-0.7zM330.1 93.4h0.7v0.7h-0.7zM334.2 89.5h0.7v0.7h-0.7zM333.9 93.3h0.7v0.7h-0.7zM329.5 87.6h0.7v0.7h-0.7zM325.1 96.6h0.7v0.7h-0.7zM316.6 90.0h0.7v0.7h-0.7zM330.8 97.1h0.7v0.7h-0.7zM297.2 68.7h0.7v0.7h-0.7zM299.8 64.1h0.7v0.7h-0.7zM304.3 60.0h0.7v0.7h-0.7zM298.3 62.6h0.7v0.7h-0.7zM303.8 66.7h0.7v0.7h-0.7zM302.4 68.9h0.7v0.7h-0.7zM303.5 75.0h0.7v0.7h-0.7zM301.8 63.6h0.7v0.7h-0.7zM308.0 65.4h0.7v0.7h-0.7zM298.6 67.8h0.7v0.7h-0.7zM299.3 70.1h0.7v0.7h-0.7zM310.0 67.8h0.7v0.7h-0.7zM306.2 72.0h0.7v0.7h-0.7zM316.4 70.1h0.7v0.7h-0.7zM304.1 52.9h0.7v0.7h-0.7zM307.1 74.5h0.7v0.7h-0.7zM311.8 64.1h0.7v0.7h-0.7zM302.6 69.4h0.7v0.7h-0.7zM297.8 65.8h0.7v0.7h-0.7zM303.8 68.8h0.7v0.7h-0.7zM306.2 72.8h0.7v0.7h-0.7zM303.8 67.3h0.7v0.7h-0.7zM318.0 74.4h0.7v0.7h-0.7zM299.2 61.5h0.7v0.7h-0.7zM305.1 62.7h0.7v0.7h-0.7zM304.8 62.7h0.7v0.7h-0.7zM311.5 70.1h0.7v0.7h-0.7zM306.6 61.8h0.7v0.7h-0.7zM314.3 60.2h0.7v0.7h-0.7zM299.3 61.2h0.7v0.7h-0.7zM444.7 82.0h0.7v0.7h-0.7zM446.6 92.3h0.7v0.7h-0.7zM439.9 83.6h0.7v0.7h-0.7zM426.1 73.6h0.7v0.7h-0.7zM439.9 91.0h0.7v0.7h-0.7zM433.7 71.9h0.7v0.7h-0.7zM434.4 101.7h0.7v0.7h-0.7zM420.9 90.7h0.7v0.7h-0.7zM430.2 99.5h0.7v0.7h-0.7zM438.6 67.8h0.7v0.7h-0.7zM446.7 92.8h0.7v0.7h-0.7zM447.8 68.7h0.7v0.7h-0.7zM437.3 70.1h0.7v0.7h-0.7zM430.7 70.5h0.7v0.7h-0.7zM427.7 78.8h0.7v0.7h-0.7zM444.1 68.7h0.7v0.7h-0.7zM425.2 87.6h0.7v0.7h-0.7zM445.0 90.5h0.7v0.7h-0.7zM440.4 84.9h0.7v0.7h-0.7zM437.4 88.9h0.7v0.7h-0.7zM425.0 101.8h0.7v0.7h-0.7zM426.2 95.2h0.7v0.7h-0.7zM424.6 100.2h0.7v0.7h-0.7zM439.5 109.6h0.7v0.7h-0.7zM429.6 95.0h0.7v0.7h-0.7zM427.7 69.3h0.7v0.7h-0.7zM431.7 67.7h0.7v0.7h-0.7zM437.0 71.8h0.7v0.7h-0.7zM435.7 98.3h0.7v0.7h-0.7zM444.8 102.3h0.7v0.7h-0.7zM425.6 105.1h0.7v0.7h-0.7zM442.6 94.2h0.7v0.7h-0.7zM442.3 104.5h0.7v0.7h-0.7zM434.9 71.3h0.7v0.7h-0.7zM444.1 82.0h0.7v0.7h-0.7zM439.9 88.7h0.7v0.7h-0.7zM446.7 90.2h0.7v0.7h-0.7zM450.9 84.7h0.7v0.7h-0.7zM469.9 83.2h0.7v0.7h-0.7zM464.7 75.2h0.7v0.7h-0.7zM468.9 75.9h0.7v0.7h-0.7zM466.0 79.9h0.7v0.7h-0.7zM437.0 84.1h0.7v0.7h-0.7zM459.9 70.2h0.7v0.7h-0.7zM453.9 86.2h0.7v0.7h-0.7zM459.7 65.0h0.7v0.7h-0.7zM474.3 70.5h0.7v0.7h-0.7zM457.1 83.9h0.7v0.7h-0.7zM464.0 77.6h0.7v0.7h-0.7zM479.0 80.5h0.7v0.7h-0.7zM466.3 74.3h0.7v0.7h-0.7zM472.8 91.5h0.7v0.7h-0.7zM455.0 88.0h0.7v0.7h-0.7zM455.7 81.0h0.7v0.7h-0.7zM479.4 77.0h0.7v0.7h-0.7z"/>
<path fill="rgb(200,200,200)" d="M49.6 75.0h0.7v0.7h-0.7zM49.0 99.3h0.7v0.7h-0.7zM65.9 94.2h0.7v0.7h-0.7zM56.4 106.7h0.7v0.7h-0.7zM46.8 107.0h0.7v0.7h-0.7zM46.4 101.8h0.7v0.7h-0.7zM55.8 100.5h0.7v0.7h-0.7zM51.8 116.9h0.7v0.7h-0.7zM68.9 82.6h0.7v0.7h-0.7zM54.8 96.7h0.7v0.7h-0.7zM70.4 77.4h0.7v0.7h-0.7zM48.6 65.1h0.7v0.7h-0.7zM78.7 59.7h0.7v0.7h-0.7zM86.8 68.0h0.7v0.7h-0.7zM88.4 74.7h0.7v0.7h-0.7zM87.1 69.4h0.7v0.7h-0.7zM104.0 59.0h0.7v0.7h-0.7zM82.5 62.6h0.7v0.7h-0.7zM85.7 64.9h0.7v0.7h-0.7zM92.5 58.7h0.7v0.7h-0.7zM101.2 56.3h0.7v0.7h-0.7zM82.0 66.1h0.7v0.7h-0.7zM93.7 71.3h0.7v0.7h-0.7zM92.6 65.7h0.7v0.7h-0.7zM79.5 63.6h0.7v0.7h-0.7zM111.6 68.3h0.7v0.7h-0.7zM81.6 63.1h0.7v0.7h-0.7zM80.4 60.3h0.7v0.7h-0.7zM79.8 70.6h0.7v0.7h-0.7zM83.0 59.3h0.7v0.7h-0.7zM95.6 69.7h0.7v0.7h-0.7zM97.1 64.7h0.7v0.7h-0.7zM85.2 64.3h0.7v0.7h-0.7zM94.9 69.0h0.7v0.7h-0.7zM75.1 61.8h0.7v0.7h-0.7zM85.4 71.3h0.7v0.7h-0.7zM90.4 73.6h0.7v0.7h-0.7zM89.5 58.3h0.7v0.7h-0.7zM90.7 67.1h0.7v0.7h-0.7zM93.1 66.2h0.7v0.7h-0.7zM85.2 74.1h0.7v0.7h-0.7zM196.6 89.9h0.7v0.7h-0.7zM198.1 66.7h0.7v0.7h-0.7zM216.1 80.6h0.7v0.7h-0.7zM201.2 86.1h0.7v0.7h-0.7zM175.8 73.1h0.7v0.7h-0.7zM215.9 69.1h0.7v0.7h-0.7zM228.7 83.6h0.7v0.7h-0.7zM180.0 67.4h0.7v0.7h-0.7zM210.8 72.1h0.7v0.7h-0.7zM194.8 74.1h0.7v0.7h-0.7zM225.9 75.1h0.7v0.7h-0.7zM222.3 78.3h0.7v0.7h-0.7zM200.0 82.1h0.7v0.7h-0.7zM224.7 70.7h0.7v0.7h-0.7zM173.8 104.7h0.7v0.7h-0.7zM222.2 83.9h0.7v0.7h-0.7zM212.3 72.6h0.7v0.7h-0.7zM192.7 63.9h0.7v0.7h-0.7zM204.1 81.8h0.7v0.7h-0.7zM227.0 81.3h0.7v0.7h-0.7zM188.0 103.4h0.7v0.7h-0.7zM209.5 71.9h0.7v0.7h-0.7zM232.3 60.0h0.7v0.7h-0.7zM229.8 60.5h0.7v0.7h-0.7zM211.0 95.1h0.7v0.7h-0.7zM204.6 90.7h0.7v0.7h-0.7zM205.8 90.8h0.7v0.7h-0.7zM226.5 88.8h0.7v0.7h-0.7zM214.0 98.1h0.7v0.7h-0.7zM224.5 89.3h0.7v0.7h-0.7zM208.7 94.8h0.7v0.7h-0.7zM212.2 87.7h0.7v0.7h-0.7zM215.6 92.2h0.7v0.7h-0.7zM215.5 93.7h0.7v0.7h-0.7zM216.8 85.6h0.7v0.7h-0.7zM204.5 93.0h0.7v0.7h-0.7zM226.4 89.0h0.7v0.7h-0.7zM211.8 96.6h0.7v0.7h-0.7zM212.5 93.8h0.7v0.7h-0.7zM214.7 101.5h0.7v0.7h-0.7zM222.5 87.2h0.7v0.7h-0.7zM216.6 81.7h0.7v0.7h-0.7zM222.2 87.7h0.7v0.7h-0.7zM213.0 90.6h0.7v0.7h-0.7zM213.5 84.3h0.7v0.7h-0.7zM210.8 86.7h0.7v0.7h-0.7zM211.2 93.2h0.7v0.7h-0.7zM211.1 94.0h0.7v0.7h-0.7zM218.4 91.0h0.7v0.7h-0.7zM216.2 93.4h0.7v0.7h-0.7zM216.5 93.8h0.7v0.7h-0.7zM217.6 96.0h0.7v0.7h-0.7zM221.1 90.3h0.7v0.7h-0.7zM214.8 86.1h0.7v0.7h-0.7zM215.1 100.1h0.7v0.7h-0.7zM206.1 91.8h0.7v0.7h-0.7zM229.1 91.7h0.7v0.7h-0.7zM212.0 92.0h0.7v0.7h-0.7zM206.1 93.2h0.7v0.7h-0.7zM214.8 98.0h0.7v0.7h-0.7zM222.9 92.2h0.7v0.7h-0.7zM209.2 92.6h0.7v0.7h-0.7zM196.8 62.4h0.7v0.7h-0.7zM190.7 65.5h0.7v0.7h-0.7zM176.1 54.4h0.7v0.7h-0.7zM183.8 72.8h0.7v0.7h-0.7zM192.3 69.8h0.7v0.7h-0.7zM186.8 54.6h0.7v0.7h-0.7zM178.3 66.3h0.7v0.7h-0.7zM175.4 68.0h0.7v0.7h-0.7zM197.3 63.5h0.7v0.7h-0.7zM172.9 63.5h0.7v0.7h-0.7zM172.3 73.0h0.7v0.7h-0.7zM176.0 68.5h0.7v0.7h-0.7zM175.5 64.4h0.7v0.7h-0.7zM346.1 73.1h0.7v0.7h-0.7zM338.8 72.1h0.7v0.7h-0.7zM306.0 64.8h0.7v0.7h-0.7zM335.8 78.6h0.7v0.7h-0.7zM314.4 87.3h0.7v0.7h-0.7zM304.1 112.2h0.7v0.7h-0.7zM312.3 95.4h0.7v0.7h-0.7zM325.7 78.4h0.7v0.7h-0.7zM295.4 97.3h0.7v0.7h-0.7zM338.3 79.5h0.7v0.7h-0.7zM308.0 64.7h0.7v0.7h-0.7zM340.4 63.2h0.7v0.7h-0.7zM298.9 82.7h0.7v0.7h-0.7zM319.5 81.5h0.7v0.7h-0.7zM356.5 81.6h0.7v0.7h-0.7zM313.9 70.1h0.7v0.7h-0.7zM319.2 82.6h0.7v0.7h-0.7zM326.3 86.9h0.7v0.7h-0.7zM316.7 96.3h0.7v0.7h-0.7zM304.4 77.8h0.7v0.7h-0.7zM315.6 95.3h0.7v0.7h-0.7zM327.4 99.0h0.7v0.7h-0.7zM337.7 90.4h0.7v0.7h-0.7zM331.4 94.3h0.7v0.7h-0.7zM338.6 89.7h0.7v0.7h-0.7zM331.1 90.4h0.7v0.7h-0.7zM331.7 86.7h0.7v0.7h-0.7zM352.1 86.1h0.7v0.7h-0.7zM322.5 88.7h0.7v0.7h-0.7zM346.2 82.1h0.7v0.7h-0.7zM339.5 86.4h0.7v0.7h-0.7zM334.3 91.3h0.7v0.7h-0.7zM338.2 84.8h0.7v0.7h-0.7zM340.2 101.4h0.7v0.7h-0.7zM322.7 87.6h0.7v0.7h-0.7zM340.2 94.0h0.7v0.7h-0.7zM337.6 81.9h0.7v0.7h-0.7zM341.1 96.2h0.7v0.7h-0.7zM338.3 93.4h0.7v0.7h-0.7zM316.8 94.4h0.7v0.7h-0.7zM328.4 93.1h0.7v0.7h-0.7zM329.9 86.7h0.7v0.7h-0.7zM330.3 90.8h0.7v0.7h-0.7zM321.2 89.6h0.7v0.7h-0.7zM324.1 84.6h0.7v0.7h-0.7zM336.4 98.9h0.7v0.7h-0.7zM337.2 80.5h0.7v0.7h-0.7zM328.3 97.4h0.7v0.7h-0.7zM334.4 86.2h0.7v0.7h-0.7zM299.8 58.9h0.7v0.7h-0.7zM296.7 63.9h0.7v0.7h-0.7zM294.8 61.9h0.7v0.7h-0.7zM305.6 59.3h0.7v0.7h-0.7zM301.6 60.2h0.7v0.7h-0.7zM313.2 62.3h0.7v0.7h-0.7zM300.1 60.9h0.7v0.7h-0.7zM296.6 67.4h0.7v0.7h-0.7zM296.7 67.4h0.7v0.7h-0.7zM305.6 69.8h0.7v0.7h-0.7zM297.1 66.1h0.7v0.7h-0.7zM312.4 64.0h0.7v0.7h-0.7zM302.3 64.7h0.7v0.7h-0.7zM304.1 60.9h0.7v0.7h-0.7zM301.4 63.9h0.7v0.7h-0.7zM303.2 62.1h0.7v0.7h-0.7zM301.1 71.4h0.7v0.7h-0.7zM307.5 56.1h0.7v0.7h-0.7zM300.9 71.5h0.7v0.7h-0.7zM308.9 56.6h0.7v0.7h-0.7zM307.4 71.3h0.7v0.7h-0.7zM308.2 60.7h0.7v0.7h-0.7zM306.4 63.0h0.7v0.7h-0.7zM438.2 86.5h0.7v0.7h-0.7zM423.0 101.1h0.7v0.7h-0.7zM422.7 86.3h0.7v0.7h-0.7zM447.4 71.0h0.7v0.7h-0.7zM424.6 77.5h0.7v0.7h-0.7zM427.0 100.3h0.7v0.7h-0.7zM439.1 68.6h0.7v0.7h-0.7zM426.3 79.1h0.7v0.7h-0.7zM428.9 76.9h0.7v0.7h-0.7zM446.8 91.4h0.7v0.7h-0.7zM424.4 90.7h0.7v0.7h-0.7zM443.6 88.2h0.7v0.7h-0.7zM429.7 86.2h0.7v0.7h-0.7zM450.1 73.0h0.7v0.7h-0.7zM425.9 83.7h0.7v0.7h-0.7zM430.2 103.7h0.7v0.7h-0.7zM469.8 78.4h0.7v0.7h-0.7zM463.1 77.4h0.7v0.7h-0.7zM466.8 82.1h0.7v0.7h-0.7zM467.3 83.4h0.7v0.7h-0.7zM449.2 88.0h0.7v0.7h-0.7zM477.9 73.9h0.7v0.7h-0.7zM482.2 84.4h0.7v0.7h-0.7zM458.5 68.6h0.7v0.7h-0.7zM464.4 81.5h0.7v0.7h-0.7zM453.4 85.1h0.7v0.7h-0.7zM482.2 87.2h0.7v0.7h-0.7zM477.7 68.3h0.7v0.7h-0.7zM470.5 76.7h0.7v0.7h-0.7zM452.9 72.3h0.7v0.7h-0.7zM483.6 88.2h0.7v0.7h-0.7zM463.4 79.1h0.7v0.7h-0.7zM485.6 72.3h0.7v0.7h-0.7z"/>
<path fill="rgb(225,225,225)" d="M52.9 85.0h0.7v0.7h-0.7zM63.5 76.3h0.7v0.7h-0.7zM68.2 77.1h0.7v0.7h-0.7zM93.2 75.8h0.7v0.7h-0.7zM93.9 77.1h0.7v0.7h-0.7zM90.4 57.5h0.7v0.7h-0.7zM211.0 70.7h0.7v0.7h-0.7zM207.2 75.0h0.7v0.7h-0.7zM179.8 114.8h0.7v0.7h-0.7zM344.5 72.2h0.7v0.7h-0.7zM349.3 62.2h0.7v0.7h-0.7zM332.6 75.8h0.7v0.7h-0.7zM315.2 92.4h0.7v0.7h-0.7zM319.6 103.6h0.7v0.7h-0.7zM356.4 80.6h0.7v0.7h-0.7zM447.1 70.9h0.7v0.7h-0.7zM462.3 73.6h0.7v0.7h-0.7zM466.5 98.6h0.7v0.7h-0.7z"/>
<path d="M47.00 61.00C47.83 60.53 50.17 60.47 52.00 60.40C53.83 60.33 56.33 60.47 58.00 60.60C59.67 60.73 60.83 60.87 62.00 61.20C63.17 61.53 64.30 61.97 65.00 62.60C65.70 63.23 65.98 63.77 66.20 65.00C66.42 66.23 66.28 68.17 66.30 70.00C66.32 71.83 66.28 74.17 66.30 76.00C66.32 77.83 66.35 79.33 66.40 81.00C66.45 82.67 66.65 84.33 66.60 86.00C66.55 87.67 66.37 89.25 66.10 91.00C65.83 92.75 65.42 94.75 65.00 96.50C64.58 98.25 64.10 99.92 63.60 101.50C63.10 103.08 62.57 104.62 62.00 106.00C61.43 107.38 60.93 108.83 60.20 109.80C59.47 110.77 58.43 111.50 57.60 111.80C56.77 112.10 55.90 111.97 55.20 111.60C54.50 111.23 53.92 110.62 53.40 109.60C52.88 108.58 52.55 107.10 52.10 105.50C51.65 103.90 51.15 101.92 50.70 100.00C50.25 98.08 49.75 95.92 49.40 94.00C49.05 92.08 48.70 90.17 48.60 88.50C48.50 86.83 48.53 85.17 48.80 84.00C49.07 82.83 49.93 82.60 50.20 81.50C50.47 80.40 50.58 78.93 50.40 77.40C50.22 75.87 49.53 74.00 49.10 72.30C48.67 70.60 48.15 68.72 47.80 67.20C47.45 65.68 47.13 64.23 47.00 63.20C46.87 62.17 46.17 61.47 47.00 61.00Z" fill="url(#lg1)" stroke="#111" stroke-width="1.5" stroke-linejoin="round"/>
<path d="M49.30 62.60C50.25 61.88 53.05 62.18 55.00 62.20C56.95 62.22 59.50 62.40 61.00 62.70C62.50 63.00 63.35 63.20 64.00 64.00C64.65 64.80 64.75 65.83 64.90 67.50C65.05 69.17 64.93 71.92 64.90 74.00C64.87 76.08 65.52 78.90 64.70 80.00C63.88 81.10 61.62 80.50 60.00 80.60C58.38 80.70 56.30 80.67 55.00 80.60C53.70 80.53 52.77 80.97 52.20 80.20C51.63 79.43 51.90 77.53 51.60 76.00C51.30 74.47 50.78 72.58 50.40 71.00C50.02 69.42 49.48 67.90 49.30 66.50C49.12 65.10 48.35 63.32 49.30 62.60Z" fill="url(#rg2)" stroke="#0a0a0a" stroke-width="1.0" stroke-linejoin="round"/>
<path d="M52.10 64.20C52.67 63.88 54.27 63.65 55.50 63.70C56.73 63.75 58.77 64.05 59.50 64.50C60.23 64.95 59.98 65.60 59.90 66.40C59.82 67.20 59.57 68.88 59.00 69.30C58.43 69.72 57.40 69.22 56.50 68.90C55.60 68.58 54.33 67.95 53.60 67.40C52.87 66.85 52.35 66.13 52.10 65.60C51.85 65.07 51.53 64.52 52.10 64.20Z" fill="#e6e6e6" stroke="#111" stroke-width="1.2" stroke-linejoin="round"/>
<path d="M53.80 65.00C54.13 64.77 55.30 64.73 56.00 64.80C56.70 64.87 57.73 65.00 58.00 65.40C58.27 65.80 58.00 66.93 57.60 67.20C57.20 67.47 56.20 67.17 55.60 67.00C55.00 66.83 54.30 66.53 54.00 66.20C53.70 65.87 53.47 65.23 53.80 65.00Z" fill="#d2d2d2" stroke="#777" stroke-width="0.5" stroke-linejoin="round"/>
<path d="M51.66 82.66C52.96 81.85 55.32 82.00 57.15 82.00C58.98 82.00 61.34 81.85 62.64 82.66C63.95 83.47 64.71 85.19 65.00 86.84C65.29 88.49 65.05 90.43 64.37 92.56C63.69 94.69 62.12 97.69 60.92 99.60C59.71 101.51 58.41 104.00 57.15 104.00C55.89 104.00 54.59 101.51 53.38 99.60C52.18 97.69 50.61 94.69 49.93 92.56C49.25 90.43 49.01 88.49 49.30 86.84C49.59 85.19 50.35 83.47 51.66 82.66Z" fill="url(#lg3)" stroke="#080808" stroke-width="1.1" stroke-linejoin="round"/>
<path d="M52.31 83.50C53.32 82.89 55.14 83.00 56.55 83.00C57.96 83.00 59.78 82.89 60.79 83.50C61.79 84.12 62.38 85.44 62.60 86.70C62.82 87.96 62.48 89.44 62.12 91.06C61.75 92.69 61.35 94.98 60.42 96.44C59.49 97.90 57.84 99.80 56.55 99.80C55.26 99.80 53.61 97.90 52.68 96.44C51.75 94.98 51.35 92.69 50.98 91.06C50.62 89.44 50.28 87.96 50.50 86.70C50.72 85.44 51.31 84.12 52.31 83.50Z" fill="url(#lg4)" stroke="#080808" stroke-width="1.1" stroke-linejoin="round"/>
<path d="M52.89 84.31C53.67 83.93 55.06 84.00 56.15 84.00C57.23 84.00 58.63 83.93 59.41 84.31C60.18 84.68 60.63 85.48 60.80 86.24C60.97 87.01 60.61 87.91 60.43 88.90C60.24 89.88 60.40 91.28 59.68 92.16C58.97 93.04 57.33 94.20 56.15 94.20C54.97 94.20 53.33 93.04 52.62 92.16C51.90 91.28 52.06 89.88 51.87 88.90C51.69 87.91 51.33 87.01 51.50 86.24C51.67 85.48 52.12 84.68 52.89 84.31Z" fill="url(#lg5)" stroke="#080808" stroke-width="1.1" stroke-linejoin="round"/>
<path d="M54.07 85.59C54.55 85.36 55.42 85.40 56.10 85.40C56.78 85.40 57.65 85.36 58.13 85.59C58.61 85.83 58.89 86.33 59.00 86.81C59.11 87.29 58.84 87.85 58.77 88.47C58.70 89.09 59.04 89.97 58.59 90.52C58.15 91.07 56.93 91.80 56.10 91.80C55.27 91.80 54.05 91.07 53.61 90.52C53.16 89.97 53.50 89.09 53.43 88.47C53.36 87.85 53.09 87.29 53.20 86.81C53.31 86.33 53.59 85.83 54.07 85.59Z" fill="#d4d4d4" stroke="#080808" stroke-width="1.1" stroke-linejoin="round"/>
<path d="M55.0 90.4 L55.0 87.9 C55.2 86.9 56.9 86.9 57.1 87.9 L57.1 90.2" fill="none" stroke="#111" stroke-width="0.9" stroke-linejoin="round"/>
<path d="M171.00 81.60C171.65 80.83 173.47 80.30 174.80 79.40C176.13 78.50 177.80 77.37 179.00 76.20C180.20 75.03 181.00 73.47 182.00 72.40C183.00 71.33 183.93 70.37 185.00 69.80C186.07 69.23 187.13 69.07 188.40 69.00C189.67 68.93 191.33 69.07 192.60 69.40C193.87 69.73 195.00 70.87 196.00 71.00C197.00 71.13 197.28 70.25 198.60 70.20C199.92 70.15 202.00 71.17 203.90 70.70C205.80 70.23 208.00 68.37 210.00 67.40C212.00 66.43 213.78 65.48 215.90 64.90C218.02 64.32 220.42 64.03 222.70 63.90C224.98 63.77 227.80 63.77 229.60 64.10C231.40 64.43 232.52 64.95 233.50 65.90C234.48 66.85 235.25 68.50 235.50 69.80C235.75 71.10 235.42 72.47 235.00 73.70C234.58 74.93 233.90 76.13 233.00 77.20C232.10 78.27 230.82 79.28 229.60 80.10C228.38 80.92 227.00 81.62 225.70 82.10C224.40 82.58 223.12 82.60 221.80 83.00C220.48 83.40 219.12 84.00 217.80 84.50C216.48 85.00 215.37 85.88 213.90 86.00C212.43 86.12 210.82 85.27 209.00 85.20C207.18 85.13 204.60 85.40 203.00 85.60C201.40 85.80 200.13 85.67 199.40 86.40C198.67 87.13 199.12 88.73 198.60 90.00C198.08 91.27 197.00 92.50 196.30 94.00C195.60 95.50 195.02 97.33 194.40 99.00C193.78 100.67 193.20 102.35 192.60 104.00C192.00 105.65 191.57 107.70 190.80 108.90C190.03 110.10 189.13 110.72 188.00 111.20C186.87 111.68 185.33 111.78 184.00 111.80C182.67 111.82 181.12 111.78 180.00 111.30C178.88 110.82 178.07 110.42 177.30 108.90C176.53 107.38 176.08 104.52 175.40 102.20C174.72 99.88 173.83 97.37 173.20 95.00C172.57 92.63 171.98 89.83 171.60 88.00C171.22 86.17 171.00 85.07 170.90 84.00C170.80 82.93 170.35 82.37 171.00 81.60Z" fill="url(#lg6)" stroke="#111" stroke-width="1.5" stroke-linejoin="round"/>
<path d="M205.50 72.00C205.68 69.43 208.75 69.55 210.50 68.60C212.25 67.65 213.97 66.85 216.00 66.30C218.03 65.75 220.47 65.43 222.70 65.30C224.93 65.17 227.72 65.18 229.40 65.50C231.08 65.82 232.00 66.45 232.80 67.20C233.60 67.95 234.07 68.97 234.20 70.00C234.33 71.03 234.00 72.33 233.60 73.40C233.20 74.47 232.63 75.47 231.80 76.40C230.97 77.33 229.80 78.23 228.60 79.00C227.40 79.77 226.20 80.37 224.60 81.00C223.00 81.63 220.83 82.27 219.00 82.80C217.17 83.33 215.20 84.00 213.60 84.20C212.00 84.40 210.75 86.03 209.40 84.00C208.05 81.97 205.32 74.57 205.50 72.00Z" fill="url(#rg7)" stroke="#666" stroke-width="0.4" stroke-linejoin="round"/>
<path d="M195.80 70.60C196.30 69.98 198.25 69.93 199.50 69.90C200.75 69.87 202.40 69.78 203.30 70.40C204.20 71.02 204.45 72.72 204.90 73.60C205.35 74.48 205.57 74.92 206.00 75.70C206.43 76.48 207.07 77.25 207.50 78.30C207.93 79.35 208.15 81.02 208.60 82.00C209.05 82.98 210.38 83.63 210.20 84.20C210.02 84.77 208.45 85.25 207.50 85.40C206.55 85.55 205.45 85.10 204.50 85.10C203.55 85.10 202.52 85.32 201.80 85.40C201.08 85.48 200.38 86.08 200.20 85.60C200.02 85.12 200.78 83.45 200.70 82.50C200.62 81.55 200.13 80.85 199.70 79.90C199.27 78.95 198.63 77.85 198.10 76.80C197.57 75.75 196.88 74.63 196.50 73.60C196.12 72.57 195.30 71.22 195.80 70.60Z" fill="#0d0d0d" stroke="#0d0d0d" stroke-width="0.6" stroke-linejoin="round"/>
<path d="M209.6 84.0 C212 85.6 214.5 86.8 217 86.6 C220 86.2 222.5 85.4 225 84.3" fill="none" stroke="#0d0d0d" stroke-width="1.5" stroke-linejoin="round"/>
<path d="M184 69.6 C188 68.8 192 69.2 196.4 70.8" fill="none" stroke="#0d0d0d" stroke-width="1.8" stroke-linejoin="round"/>
<path d="M176.42 81.81C178.32 81.06 181.74 81.20 184.40 81.20C187.06 81.20 190.48 81.06 192.38 81.81C194.28 82.57 195.38 84.17 195.80 85.71C196.22 87.25 195.88 89.06 194.89 91.04C193.90 93.02 191.62 95.82 189.87 97.60C188.12 99.38 186.22 101.70 184.40 101.70C182.58 101.70 180.68 99.38 178.93 97.60C177.18 95.82 174.90 93.02 173.91 91.04C172.92 89.06 172.58 87.25 173.00 85.71C173.42 84.17 174.52 82.57 176.42 81.81Z" fill="url(#lg8)" stroke="#080808" stroke-width="1.1" stroke-linejoin="round"/>
<path d="M177.70 82.12C179.10 81.61 181.60 81.70 183.55 81.70C185.50 81.70 188.00 81.61 189.40 82.12C190.79 82.63 191.59 83.72 191.90 84.76C192.21 85.80 191.71 87.03 191.23 88.37C190.76 89.72 190.34 91.62 189.06 92.82C187.78 94.02 185.39 95.60 183.55 95.60C181.71 95.60 179.32 94.02 178.04 92.82C176.76 91.62 176.34 89.72 175.87 88.37C175.39 87.03 174.89 85.80 175.20 84.76C175.51 83.72 176.31 82.63 177.70 82.12Z" fill="url(#lg9)" stroke="#080808" stroke-width="1.1" stroke-linejoin="round"/>
<path d="M178.82 83.11C179.89 82.73 181.81 82.80 183.30 82.80C184.79 82.80 186.71 82.73 187.78 83.11C188.85 83.50 189.47 84.32 189.70 85.11C189.93 85.90 189.42 86.83 189.19 87.84C188.95 88.86 189.27 90.29 188.29 91.20C187.31 92.11 184.96 93.30 183.30 93.30C181.64 93.30 179.29 92.11 178.31 91.20C177.33 90.29 177.65 88.86 177.41 87.84C177.18 86.83 176.67 85.90 176.90 85.11C177.13 84.32 177.75 83.50 178.82 83.11Z" fill="url(#lg10)" stroke="#080808" stroke-width="1.1" stroke-linejoin="round"/>
<path d="M180.34 84.62C181.04 84.35 182.28 84.40 183.25 84.40C184.22 84.40 185.46 84.35 186.16 84.62C186.85 84.89 187.25 85.46 187.40 86.01C187.55 86.55 187.15 87.20 187.07 87.90C186.99 88.61 187.54 89.61 186.90 90.24C186.27 90.87 184.47 91.70 183.25 91.70C182.03 91.70 180.23 90.87 179.60 90.24C178.96 89.61 179.51 88.61 179.43 87.90C179.35 87.20 178.95 86.55 179.10 86.01C179.25 85.46 179.65 84.89 180.34 84.62Z" fill="#d4d4d4" stroke="#080808" stroke-width="1.1" stroke-linejoin="round"/>
<path d="M181.2 86.4 C182 85.4 184.6 85.4 185.4 86.6 C185.8 87.6 184.8 88.1 183.4 88.1 C182 88.1 181.2 88.7 181.4 89.7 C181.8 90.7 184.4 90.9 185.4 89.9" fill="none" stroke="#111" stroke-width="0.9" stroke-linejoin="round"/>
<path d="M172.4 82 C178 79.2 190 78.8 197 80.2" fill="none" stroke="#444" stroke-width="0.6" stroke-linejoin="round"/>
<path d="M292.90 80.40C293.27 79.27 294.48 79.00 295.40 78.20C296.32 77.40 297.37 76.43 298.40 75.60C299.43 74.77 300.57 73.93 301.60 73.20C302.63 72.47 303.43 71.77 304.60 71.20C305.77 70.63 307.17 70.10 308.60 69.80C310.03 69.50 311.63 69.33 313.20 69.40C314.77 69.47 316.83 69.93 318.00 70.20C319.17 70.47 319.43 70.77 320.20 71.00C320.97 71.23 321.42 71.60 322.60 71.60C323.78 71.60 325.93 71.23 327.30 71.00C328.67 70.77 329.22 70.68 330.80 70.20C332.38 69.72 334.62 68.68 336.80 68.10C338.98 67.52 341.55 66.98 343.90 66.70C346.25 66.42 348.75 66.27 350.90 66.40C353.05 66.53 355.38 66.70 356.80 67.50C358.22 68.30 358.97 69.90 359.40 71.20C359.83 72.50 359.83 73.73 359.40 75.30C358.97 76.87 358.02 79.13 356.80 80.60C355.58 82.07 353.87 83.42 352.10 84.10C350.33 84.78 348.55 84.80 346.20 84.70C343.85 84.60 340.35 83.98 338.00 83.50C335.65 83.02 333.87 82.28 332.10 81.80C330.33 81.32 328.97 80.60 327.40 80.60C325.83 80.60 323.90 81.30 322.70 81.80C321.50 82.30 320.68 82.73 320.20 83.60C319.72 84.47 320.03 85.60 319.80 87.00C319.57 88.40 319.20 90.33 318.80 92.00C318.40 93.67 317.93 95.33 317.40 97.00C316.87 98.67 316.20 100.42 315.60 102.00C315.00 103.58 314.47 105.10 313.80 106.50C313.13 107.90 312.48 109.45 311.60 110.40C310.72 111.35 309.60 111.92 308.50 112.20C307.40 112.48 306.05 112.40 305.00 112.10C303.95 111.80 302.97 111.33 302.20 110.40C301.43 109.47 301.03 107.90 300.40 106.50C299.77 105.10 299.07 103.58 298.40 102.00C297.73 100.42 297.03 98.83 296.40 97.00C295.77 95.17 295.13 93.00 294.60 91.00C294.07 89.00 293.48 86.77 293.20 85.00C292.92 83.23 292.53 81.53 292.90 80.40Z" fill="url(#lg11)" stroke="#111" stroke-width="1.5" stroke-linejoin="round"/>
<path d="M321.00 73.40C321.83 72.30 325.00 73.37 327.00 73.00C329.00 72.63 331.00 71.80 333.00 71.20C335.00 70.60 337.00 69.88 339.00 69.40C341.00 68.92 343.00 68.53 345.00 68.30C347.00 68.07 349.23 67.88 351.00 68.00C352.77 68.12 354.50 68.33 355.60 69.00C356.70 69.67 357.30 70.83 357.60 72.00C357.90 73.17 357.83 74.73 357.40 76.00C356.97 77.27 356.07 78.57 355.00 79.60C353.93 80.63 352.58 81.67 351.00 82.20C349.42 82.73 347.50 82.87 345.50 82.80C343.50 82.73 341.08 82.23 339.00 81.80C336.92 81.37 334.93 80.63 333.00 80.20C331.07 79.77 329.23 79.30 327.40 79.20C325.57 79.10 323.07 80.57 322.00 79.60C320.93 78.63 320.17 74.50 321.00 73.40Z" fill="url(#rg12)" stroke="#777" stroke-width="0.4" stroke-linejoin="round"/>
<path d="M342.20 75.00C342.20 74.07 342.67 72.85 343.40 72.20C344.13 71.55 345.40 71.30 346.60 71.10C347.80 70.90 349.43 70.85 350.60 71.00C351.77 71.15 352.93 71.40 353.60 72.00C354.27 72.60 354.57 73.67 354.60 74.60C354.63 75.53 354.43 76.82 353.80 77.60C353.17 78.38 352.00 79.00 350.80 79.30C349.60 79.60 347.83 79.65 346.60 79.40C345.37 79.15 344.13 78.53 343.40 77.80C342.67 77.07 342.20 75.93 342.20 75.00Z" fill="#161616" stroke="#161616" stroke-width="0.5" stroke-linejoin="round"/>
<path d="M346.90 74.60C347.07 74.02 347.55 73.38 348.20 73.10C348.85 72.82 350.00 72.78 350.80 72.90C351.60 73.02 352.60 73.32 353.00 73.80C353.40 74.28 353.43 75.20 353.20 75.80C352.97 76.40 352.30 77.10 351.60 77.40C350.90 77.70 349.73 77.73 349.00 77.60C348.27 77.47 347.55 77.10 347.20 76.60C346.85 76.10 346.73 75.18 346.90 74.60Z" fill="#f4f4f4" stroke="#333" stroke-width="0.3" stroke-linejoin="round"/>
<path d="M298.72 81.38C300.45 80.67 303.57 80.80 306.00 80.80C308.43 80.80 311.55 80.67 313.28 81.38C315.01 82.08 316.02 83.58 316.40 85.02C316.78 86.46 316.43 88.16 315.57 90.02C314.70 91.87 312.79 94.50 311.20 96.16C309.61 97.82 307.73 100.00 306.00 100.00C304.27 100.00 302.39 97.82 300.80 96.16C299.21 94.50 297.30 91.87 296.43 90.02C295.57 88.16 295.22 86.46 295.60 85.02C295.98 83.58 296.99 82.08 298.72 81.38Z" fill="url(#lg13)" stroke="#080808" stroke-width="1.1" stroke-linejoin="round"/>
<path d="M300.11 81.99C301.39 81.51 303.70 81.60 305.50 81.60C307.30 81.60 309.61 81.51 310.89 81.99C312.17 82.47 312.92 83.48 313.20 84.46C313.48 85.43 312.99 86.58 312.58 87.84C312.17 89.10 311.92 90.87 310.74 92.00C309.56 93.13 307.25 94.60 305.50 94.60C303.75 94.60 301.44 93.13 300.26 92.00C299.08 90.87 298.83 89.10 298.42 87.84C298.01 86.58 297.52 85.43 297.80 84.46C298.08 83.48 298.83 82.47 300.11 81.99Z" fill="url(#lg14)" stroke="#080808" stroke-width="1.1" stroke-linejoin="round"/>
<path d="M301.34 82.88C302.31 82.54 304.05 82.60 305.40 82.60C306.75 82.60 308.49 82.54 309.46 82.88C310.43 83.21 310.99 83.93 311.20 84.62C311.41 85.31 310.93 86.13 310.74 87.02C310.54 87.91 310.93 89.16 310.04 89.96C309.15 90.76 306.95 91.80 305.40 91.80C303.85 91.80 301.65 90.76 300.76 89.96C299.87 89.16 300.26 87.91 300.06 87.02C299.87 86.13 299.39 85.31 299.60 84.62C299.81 83.93 300.37 83.21 301.34 82.88Z" fill="url(#lg15)" stroke="#080808" stroke-width="1.1" stroke-linejoin="round"/>
<path d="M302.57 83.81C303.22 83.55 304.39 83.60 305.30 83.60C306.21 83.60 307.38 83.55 308.03 83.81C308.68 84.07 309.06 84.61 309.20 85.14C309.34 85.67 308.97 86.28 308.89 86.96C308.81 87.64 309.33 88.59 308.73 89.20C308.13 89.81 306.44 90.60 305.30 90.60C304.16 90.60 302.47 89.81 301.87 89.20C301.27 88.59 301.79 87.64 301.71 86.96C301.63 86.28 301.26 85.67 301.40 85.14C301.54 84.61 301.92 84.07 302.57 83.81Z" fill="#d4d4d4" stroke="#080808" stroke-width="1.1" stroke-linejoin="round"/>
<path d="M303.2 86.0 C304 85.0 306.6 85.0 307.3 86.3 C307.6 87.3 306.6 87.8 305.3 87.8 C304 87.8 303.2 88.5 303.4 89.3 C303.8 90.1 306.4 90.2 307.3 89.3" fill="none" stroke="#111" stroke-width="0.9" stroke-linejoin="round"/>
<path d="M295.6 81.6 C300 79.6 310 79.4 318.6 80.6" fill="none" stroke="#444" stroke-width="0.6" stroke-linejoin="round"/>
<path d="M425.80 80.60C426.13 79.33 425.95 76.73 426.20 75.40C426.45 74.07 426.73 73.57 427.30 72.60C427.87 71.63 428.82 70.37 429.60 69.60C430.38 68.83 431.15 68.38 432.00 68.00C432.85 67.62 433.70 67.38 434.70 67.30C435.70 67.22 436.88 67.25 438.00 67.50C439.12 67.75 440.43 68.25 441.40 68.80C442.37 69.35 443.23 69.93 443.80 70.80C444.37 71.67 444.60 72.80 444.80 74.00C445.00 75.20 445.05 76.67 445.00 78.00C444.95 79.33 444.80 80.33 444.50 82.00C444.20 83.67 443.67 86.00 443.20 88.00C442.73 90.00 442.23 92.17 441.70 94.00C441.17 95.83 440.62 97.40 440.00 99.00C439.38 100.60 438.70 102.23 438.00 103.60C437.30 104.97 436.63 106.37 435.80 107.20C434.97 108.03 433.90 108.53 433.00 108.60C432.10 108.67 431.17 108.13 430.40 107.60C429.63 107.07 429.03 106.73 428.40 105.40C427.77 104.07 427.12 101.67 426.60 99.60C426.08 97.53 425.67 95.10 425.30 93.00C424.93 90.90 424.58 88.67 424.40 87.00C424.22 85.33 423.97 84.07 424.20 83.00C424.43 81.93 425.47 81.87 425.80 80.60Z" fill="url(#lg16)" stroke="#111" stroke-width="1.5" stroke-linejoin="round"/>
<path d="M428.00 79.60C427.27 78.70 427.93 76.80 428.20 75.60C428.47 74.40 428.97 73.30 429.60 72.40C430.23 71.50 431.13 70.70 432.00 70.20C432.87 69.70 433.80 69.50 434.80 69.40C435.80 69.30 436.97 69.33 438.00 69.60C439.03 69.87 440.20 70.33 441.00 71.00C441.80 71.67 442.43 72.60 442.80 73.60C443.17 74.60 443.17 75.87 443.20 77.00C443.23 78.13 443.87 79.73 443.00 80.40C442.13 81.07 439.73 80.90 438.00 81.00C436.27 81.10 434.27 81.23 432.60 81.00C430.93 80.77 428.73 80.50 428.00 79.60Z" fill="url(#rg17)" stroke="#333" stroke-width="0.6" stroke-linejoin="round"/>
<path d="M432.80 75.60C432.87 74.97 432.97 74.10 433.40 73.60C433.83 73.10 434.63 72.73 435.40 72.60C436.17 72.47 437.27 72.50 438.00 72.80C438.73 73.10 439.47 73.73 439.80 74.40C440.13 75.07 440.17 76.07 440.00 76.80C439.83 77.53 439.40 78.33 438.80 78.80C438.20 79.27 437.17 79.57 436.40 79.60C435.63 79.63 434.77 79.37 434.20 79.00C433.63 78.63 433.23 77.97 433.00 77.40C432.77 76.83 432.73 76.23 432.80 75.60Z" fill="#1e1e1e" stroke="#1e1e1e" stroke-width="0.4" stroke-linejoin="round"/>
<path d="M434.40 75.80C434.50 75.37 434.80 74.68 435.20 74.40C435.60 74.12 436.30 74.00 436.80 74.10C437.30 74.20 437.95 74.55 438.20 75.00C438.45 75.45 438.50 76.30 438.30 76.80C438.10 77.30 437.48 77.83 437.00 78.00C436.52 78.17 435.80 77.97 435.40 77.80C435.00 77.63 434.77 77.33 434.60 77.00C434.43 76.67 434.30 76.23 434.40 75.80Z" fill="#bdbdbd" stroke="#555" stroke-width="0.3" stroke-linejoin="round"/>
<path d="M428.07 82.53C429.28 81.88 431.46 82.00 433.15 82.00C434.84 82.00 437.02 81.88 438.22 82.53C439.43 83.17 440.13 84.55 440.40 85.87C440.67 87.19 440.40 88.75 439.82 90.45C439.24 92.15 438.03 94.55 436.92 96.08C435.81 97.61 434.41 99.60 433.15 99.60C431.89 99.60 430.49 97.61 429.38 96.08C428.27 94.55 427.06 92.15 426.48 90.45C425.90 88.75 425.63 87.19 425.90 85.87C426.17 84.55 426.87 83.17 428.07 82.53Z" fill="url(#lg18)" stroke="#080808" stroke-width="1.1" stroke-linejoin="round"/>
<path d="M428.55 83.12C429.47 82.61 431.12 82.70 432.40 82.70C433.68 82.70 435.33 82.61 436.25 83.12C437.17 83.64 437.70 84.74 437.90 85.80C438.10 86.86 437.73 88.11 437.46 89.47C437.19 90.83 437.09 92.76 436.25 93.98C435.41 95.20 433.68 96.80 432.40 96.80C431.12 96.80 429.39 95.20 428.55 93.98C427.71 92.76 427.61 90.83 427.34 89.47C427.06 88.11 426.70 86.86 426.90 85.80C427.10 84.74 427.63 83.64 428.55 83.12Z" fill="url(#lg19)" stroke="#080808" stroke-width="1.1" stroke-linejoin="round"/>
<path d="M429.23 84.49C429.98 84.14 431.31 84.20 432.35 84.20C433.39 84.20 434.72 84.14 435.47 84.49C436.21 84.84 436.64 85.59 436.80 86.31C436.96 87.03 436.59 87.88 436.44 88.81C436.30 89.74 436.59 91.05 435.91 91.88C435.23 92.71 433.54 93.80 432.35 93.80C431.16 93.80 429.47 92.71 428.79 91.88C428.11 91.05 428.40 89.74 428.26 88.81C428.11 87.88 427.74 87.03 427.90 86.31C428.06 85.59 428.49 84.84 429.23 84.49Z" fill="url(#lg20)" stroke="#080808" stroke-width="1.1" stroke-linejoin="round"/>
<path d="M429.77 85.46C430.25 85.26 431.12 85.30 431.80 85.30C432.48 85.30 433.35 85.26 433.83 85.46C434.31 85.65 434.59 86.07 434.70 86.47C434.81 86.86 434.53 87.33 434.47 87.84C434.41 88.36 434.80 89.08 434.35 89.54C433.91 90.00 432.65 90.60 431.80 90.60C430.95 90.60 429.69 90.00 429.25 89.54C428.80 89.08 429.19 88.36 429.13 87.84C429.07 87.33 428.79 86.86 428.90 86.47C429.01 86.07 429.29 85.65 429.77 85.46Z" fill="#d4d4d4" stroke="#080808" stroke-width="1.1" stroke-linejoin="round"/>
<path d="M430.4 86.8 C431 86.2 432.8 86.2 433.3 87 C433.5 87.7 432.8 88 432 88 C431.1 88 430.5 88.5 430.7 89.2 C431 89.8 432.6 89.9 433.3 89.3" fill="none" stroke="#111" stroke-width="0.9" stroke-linejoin="round"/>
<path d="M46.7 119.4 L47.6 119.4 L48.5 119.2 L49.4 118.8 L50.3 119.2 L51.2 119.1 L52.1 119.2 L53.0 118.4 L53.9 118.5 L54.8 118.9 L55.7 118.5 L56.6 118.4 L57.5 119.1 L58.4 118.7 L59.3 119.2 L60.2 119.3 L61.1 118.8 L62.0 119.3 L62.9 119.1 L63.8 119.0 L64.7 119.4 L65.6 119.4 L65.6 120.2 L64.7 120.6 L63.8 121.4 L62.9 121.7 L62.0 121.5 L61.1 122.2 L60.2 121.8 L59.3 122.0 L58.4 122.3 L57.5 122.8 L56.6 122.7 L55.7 122.3 L54.8 123.0 L53.9 122.9 L53.0 121.9 L52.1 121.7 L51.2 122.1 L50.3 122.2 L49.4 122.2 L48.5 120.9 L47.6 121.1 L46.7 120.6Z" fill="#141414"/>
<path d="M172.0 119.4 L172.9 119.4 L173.8 119.0 L174.7 119.0 L175.6 119.1 L176.5 119.1 L177.4 119.1 L178.3 118.9 L179.2 118.5 L180.1 118.6 L181.0 119.0 L181.9 118.9 L182.8 118.7 L183.7 119.0 L184.6 118.9 L185.5 118.8 L186.4 118.7 L187.3 118.8 L188.2 119.4 L189.1 119.0 L190.0 119.0 L190.9 119.1 L190.9 120.2 L190.0 120.5 L189.1 121.5 L188.2 120.6 L187.3 121.7 L186.4 122.2 L185.5 121.2 L184.6 121.6 L183.7 121.8 L182.8 122.6 L181.9 121.9 L181.0 123.1 L180.1 122.4 L179.2 122.3 L178.3 122.5 L177.4 122.1 L176.5 122.7 L175.6 121.8 L174.7 121.4 L173.8 120.9 L172.9 121.6 L172.0 120.5Z" fill="#141414"/>
<path d="M293.8 119.4 L294.7 119.4 L295.6 118.7 L296.5 119.4 L297.4 119.2 L298.3 119.0 L299.2 119.2 L300.1 118.8 L301.0 119.1 L301.9 118.9 L302.8 118.9 L303.7 118.7 L304.6 118.4 L305.5 118.8 L306.4 119.0 L307.3 119.0 L308.2 119.1 L309.1 119.2 L310.0 118.9 L310.9 119.3 L311.8 119.4 L312.7 119.4 L312.7 120.2 L311.8 120.2 L310.9 121.4 L310.0 120.9 L309.1 120.8 L308.2 121.3 L307.3 122.5 L306.4 122.3 L305.5 121.7 L304.6 122.0 L303.7 121.8 L302.8 122.8 L301.9 122.0 L301.0 122.1 L300.1 122.9 L299.2 121.9 L298.3 122.4 L297.4 121.2 L296.5 121.4 L295.6 121.3 L294.7 121.2 L293.8 120.7Z" fill="#141414"/>
<path d="M420.9 119.0 L421.8 119.4 L422.7 119.1 L423.6 119.1 L424.5 118.9 L425.4 118.7 L426.3 119.2 L427.2 118.5 L428.1 118.4 L429.0 118.5 L429.9 118.5 L430.8 118.7 L431.7 118.6 L432.6 118.5 L433.5 119.3 L434.4 118.6 L435.3 119.4 L436.2 119.4 L437.1 119.1 L438.0 119.4 L438.9 119.3 L439.8 119.1 L439.8 120.3 L438.9 120.8 L438.0 120.4 L437.1 121.8 L436.2 121.9 L435.3 121.9 L434.4 122.4 L433.5 122.6 L432.6 121.9 L431.7 122.5 L430.8 122.9 L429.9 123.0 L429.0 122.4 L428.1 123.0 L427.2 121.9 L426.3 122.2 L425.4 122.4 L424.5 122.4 L423.6 122.3 L422.7 122.0 L421.8 120.8 L420.9 120.6Z" fill="#141414"/>
<rect x="45.2" y="35.2" width="85.0" height="84.5" fill="none" stroke="#231f20" stroke-width="1.1"/>
<line x1="74.0" y1="35.2" x2="74.0" y2="119.7" stroke="#231f20" stroke-width="1.1"/>
<line x1="45.2" y1="81.3" x2="130.2" y2="81.3" stroke="#231f20" stroke-width="1.1"/>
<rect x="170.5" y="35.2" width="85.0" height="84.5" fill="none" stroke="#231f20" stroke-width="1.1"/>
<line x1="199.6" y1="35.2" x2="199.6" y2="119.7" stroke="#231f20" stroke-width="1.1"/>
<line x1="170.5" y1="81.3" x2="255.5" y2="81.3" stroke="#231f20" stroke-width="1.1"/>
<rect x="292.3" y="35.2" width="85.0" height="84.5" fill="none" stroke="#231f20" stroke-width="1.1"/>
<line x1="321.3" y1="35.2" x2="321.3" y2="119.7" stroke="#231f20" stroke-width="1.1"/>
<line x1="292.3" y1="81.0" x2="377.3" y2="81.0" stroke="#231f20" stroke-width="1.1"/>
<rect x="419.4" y="35.2" width="85.0" height="84.5" fill="none" stroke="#231f20" stroke-width="1.1"/>
<line x1="448.0" y1="35.2" x2="448.0" y2="119.7" stroke="#231f20" stroke-width="1.1"/>
<line x1="419.4" y1="81.25" x2="504.4" y2="81.25" stroke="#231f20" stroke-width="1.1"/>
<text x="48.2" y="43.9" font-size="6.4" text-anchor="start" fill="#2a2a2a" stroke="#2a2a2a" stroke-width="0.1" textLength="11.1" lengthAdjust="spacingAndGlyphs">17.8</text>
<text x="123.7" y="43.9" font-size="6.4" text-anchor="end" fill="#2a2a2a" stroke="#2a2a2a" stroke-width="0.1">0.11</text>
<text x="47.7" y="116.2" font-size="6.4" text-anchor="start" fill="#2a2a2a" stroke="#2a2a2a" stroke-width="0.1">82.1</text>
<text x="123.7" y="116.2" font-size="6.4" text-anchor="end" fill="#2a2a2a" stroke="#2a2a2a" stroke-width="0.1">0.03</text>
<text x="173.5" y="43.9" font-size="6.4" text-anchor="start" fill="#2a2a2a" stroke="#2a2a2a" stroke-width="0.1" textLength="11.1" lengthAdjust="spacingAndGlyphs">3.06</text>
<text x="249.0" y="43.9" font-size="6.4" text-anchor="end" fill="#2a2a2a" stroke="#2a2a2a" stroke-width="0.1">9.53</text>
<text x="173.0" y="116.2" font-size="6.4" text-anchor="start" fill="#2a2a2a" stroke="#2a2a2a" stroke-width="0.1">85.6</text>
<text x="249.0" y="116.2" font-size="6.4" text-anchor="end" fill="#2a2a2a" stroke="#2a2a2a" stroke-width="0.1">1.85</text>
<text x="295.3" y="43.9" font-size="6.4" text-anchor="start" fill="#2a2a2a" stroke="#2a2a2a" stroke-width="0.1" textLength="11.1" lengthAdjust="spacingAndGlyphs">3.39</text>
<text x="370.8" y="43.9" font-size="6.4" text-anchor="end" fill="#2a2a2a" stroke="#2a2a2a" stroke-width="0.1">12.2</text>
<text x="294.8" y="116.2" font-size="6.4" text-anchor="start" fill="#2a2a2a" stroke="#2a2a2a" stroke-width="0.1">82.1</text>
<text x="370.8" y="116.2" font-size="6.4" text-anchor="end" fill="#2a2a2a" stroke="#2a2a2a" stroke-width="0.1">2.28</text>
<text x="422.4" y="43.9" font-size="6.4" text-anchor="start" fill="#2a2a2a" stroke="#2a2a2a" stroke-width="0.1" textLength="11.1" lengthAdjust="spacingAndGlyphs">15.4</text>
<text x="497.9" y="43.9" font-size="6.4" text-anchor="end" fill="#2a2a2a" stroke="#2a2a2a" stroke-width="0.1">0.07</text>
<text x="421.9" y="116.2" font-size="6.4" text-anchor="start" fill="#2a2a2a" stroke="#2a2a2a" stroke-width="0.1">84.4</text>
<text x="497.9" y="116.2" font-size="6.4" text-anchor="end" fill="#2a2a2a" stroke="#2a2a2a" stroke-width="0.1">0.06</text>
<text x="17.5" y="101.8" font-size="8.6" text-anchor="middle" fill="#231f20" stroke="#231f20" stroke-width="0.2" textLength="19.7" lengthAdjust="spacingAndGlyphs" transform="rotate(-90 17.5 101.8)">CD14</text>
<line x1="22.4" y1="124.2" x2="22.4" y2="80" stroke="#231f20" stroke-width="0.9"/>
<path d="M22.4 74.5 L19.8 80.9 L25 80.9 Z" fill="#231f20"/>
<text x="11.7" y="140.2" font-size="9.0" text-anchor="start" fill="#231f20" stroke="#231f20" stroke-width="0.2" textLength="21.2" lengthAdjust="spacingAndGlyphs">PBMC</text>
<line x1="39.6" y1="136.9" x2="92" y2="136.9" stroke="#231f20" stroke-width="0.9"/>
<path d="M96.9 136.9 L91.2 134.4 L91.2 139.4 Z" fill="#231f20"/>
<text x="51.2" y="146.9" font-size="8.4" text-anchor="start" fill="#231f20" stroke="#231f20" stroke-width="0.2" textLength="29.8" lengthAdjust="spacingAndGlyphs">TF - APC</text>
<line x1="424.3" y1="136.7" x2="477" y2="136.7" stroke="#231f20" stroke-width="0.9"/>
<path d="M481.9 136.7 L476.2 134.2 L476.2 139.2 Z" fill="#231f20"/>
<text x="424.3" y="147.1" font-size="8.4" text-anchor="start" fill="#231f20" stroke="#231f20" stroke-width="0.2" textLength="48.7" lengthAdjust="spacingAndGlyphs">isotype - APC</text>
<text x="7.8" y="171.8" font-size="11.8" text-anchor="start" fill="#231f20" stroke="#231f20" stroke-width="0.2" textLength="6.1" lengthAdjust="spacingAndGlyphs">B</text>
<path d="M42.9 202.3 L43.3 202.2 L47.4 201.5 L50.1 197.5 L53.4 192.1 L55.5 188.1 L56.8 184.0 L59.5 185.1 L62.2 186.7 L65.6 192.1 L68.2 194.1 L71.6 196.2 L74.3 194.1 L77.7 193.5 L79.7 194.1 L82.4 192.4 L85.7 190.1 L87.8 190.8 L91.8 190.5 L94.5 193.5 L97.2 194.5 L100.5 198.8 L103.9 200.9 L107.9 202.2 L130.2 202.3 Z" fill="#c7d5ad" stroke="none"/>
<path d="M42.9 202.3 L43.3 202.2 L47.4 201.5 L50.1 197.5 L53.4 192.1 L55.5 188.1 L56.8 184.0 L59.5 185.1 L62.2 186.7 L65.6 192.1 L68.2 194.1 L71.6 196.2 L74.3 194.1 L77.7 193.5 L79.7 194.1 L82.4 192.4 L85.7 190.1 L87.8 190.8 L91.8 190.5 L94.5 193.5 L97.2 194.5 L100.5 198.8 L103.9 200.9 L107.9 202.2 L130.2 202.3" fill="none" stroke="#6aa84f" stroke-width="1.0" stroke-linejoin="round"/>
<path d="M42.9 224.3 L43.3 224.2 L47.4 222.9 L50.1 218.8 L52.8 213.4 L55.5 208.1 L57.5 206.3 L59.5 208.1 L62.2 210.1 L64.2 212.8 L66.9 215.5 L70.3 216.1 L74.3 215.9 L78.3 215.5 L82.4 214.1 L86.4 212.5 L89.8 211.4 L92.5 211.2 L95.2 212.1 L98.5 213.4 L101.2 216.1 L103.9 220.2 L106.6 222.5 L110.6 224.0 L130.2 224.3 Z" fill="#d59a8d" stroke="none"/>
<path d="M42.9 224.3 L43.3 224.2 L47.4 222.9 L50.1 218.8 L52.8 213.4 L55.5 208.1 L57.5 206.3 L59.5 208.1 L62.2 210.1 L64.2 212.8 L66.9 215.5 L70.3 216.1 L74.3 215.9 L78.3 215.5 L82.4 214.1 L86.4 212.5 L89.8 211.4 L92.5 211.2 L95.2 212.1 L98.5 213.4 L101.2 216.1 L103.9 220.2 L106.6 222.5 L110.6 224.0 L130.2 224.3" fill="none" stroke="#b3434b" stroke-width="1.0" stroke-linejoin="round"/>
<path d="M42.9 246.5 L43.5 246.6 L46.5 245.0 L48.8 240.5 L51.0 236.8 L53.3 233.8 L55.2 230.0 L56.3 227.0 L57.3 230.0 L59.3 233.0 L61.5 237.5 L63.8 242.0 L66.0 245.0 L69.0 246.6 L130.2 246.5 Z" fill="#a58dae" stroke="none"/>
<path d="M42.9 246.5 L43.5 246.6 L46.5 245.0 L48.8 240.5 L51.0 236.8 L53.3 233.8 L55.2 230.0 L56.3 227.0 L57.3 230.0 L59.3 233.0 L61.5 237.5 L63.8 242.0 L66.0 245.0 L69.0 246.6 L130.2 246.5" fill="none" stroke="#7a5c87" stroke-width="1.0" stroke-linejoin="round"/>
<path d="M42.9 268.4 L45.0 268.4 L48.0 265.4 L50.3 260.8 L52.5 256.3 L54.8 252.6 L56.6 248.8 L57.8 251.8 L60.0 257.1 L63.1 262.3 L66.1 265.4 L70.6 266.9 L76.6 267.9 L82.0 268.4 L130.2 268.4 Z" fill="#f4ca96" stroke="none"/>
<path d="M42.9 268.4 L45.0 268.4 L48.0 265.4 L50.3 260.8 L52.5 256.3 L54.8 252.6 L56.6 248.8 L57.8 251.8 L60.0 257.1 L63.1 262.3 L66.1 265.4 L70.6 266.9 L76.6 267.9 L82.0 268.4 L130.2 268.4" fill="none" stroke="#e2a048" stroke-width="1.0" stroke-linejoin="round"/>
<path d="M42.2 268.9 L42.2 180.9 L130.9 180.9 L130.9 268.9" fill="none" stroke="#6a6a6a" stroke-width="1.3"/>
<line x1="41.6" y1="268.9" x2="131.4" y2="268.9" stroke="#231f20" stroke-width="1.1"/>
<line x1="80.6" y1="268.9" x2="80.6" y2="270.9" stroke="#231f20" stroke-width="0.7"/>
<line x1="86.71" y1="268.9" x2="86.71" y2="270.2" stroke="#231f20" stroke-width="0.7"/>
<line x1="90.29" y1="268.9" x2="90.29" y2="270.2" stroke="#231f20" stroke-width="0.7"/>
<line x1="92.82" y1="268.9" x2="92.82" y2="270.2" stroke="#231f20" stroke-width="0.7"/>
<line x1="94.79" y1="268.9" x2="94.79" y2="270.2" stroke="#231f20" stroke-width="0.7"/>
<line x1="96.4" y1="268.9" x2="96.4" y2="270.2" stroke="#231f20" stroke-width="0.7"/>
<line x1="97.76" y1="268.9" x2="97.76" y2="270.2" stroke="#231f20" stroke-width="0.7"/>
<line x1="98.93" y1="268.9" x2="98.93" y2="270.2" stroke="#231f20" stroke-width="0.7"/>
<line x1="99.97" y1="268.9" x2="99.97" y2="270.2" stroke="#231f20" stroke-width="0.7"/>
<line x1="100.9" y1="268.9" x2="100.9" y2="270.9" stroke="#231f20" stroke-width="0.7"/>
<line x1="106.95" y1="268.9" x2="106.95" y2="270.2" stroke="#231f20" stroke-width="0.7"/>
<line x1="110.49" y1="268.9" x2="110.49" y2="270.2" stroke="#231f20" stroke-width="0.7"/>
<line x1="113.0" y1="268.9" x2="113.0" y2="270.2" stroke="#231f20" stroke-width="0.7"/>
<line x1="114.95" y1="268.9" x2="114.95" y2="270.2" stroke="#231f20" stroke-width="0.7"/>
<line x1="116.54" y1="268.9" x2="116.54" y2="270.2" stroke="#231f20" stroke-width="0.7"/>
<line x1="117.89" y1="268.9" x2="117.89" y2="270.2" stroke="#231f20" stroke-width="0.7"/>
<line x1="119.05" y1="268.9" x2="119.05" y2="270.2" stroke="#231f20" stroke-width="0.7"/>
<line x1="120.08" y1="268.9" x2="120.08" y2="270.2" stroke="#231f20" stroke-width="0.7"/>
<line x1="43" y1="268.9" x2="43" y2="270.2" stroke="#231f20" stroke-width="0.7"/>
<line x1="45.5" y1="268.9" x2="45.5" y2="270.2" stroke="#231f20" stroke-width="0.7"/>
<line x1="48" y1="268.9" x2="48" y2="270.2" stroke="#231f20" stroke-width="0.7"/>
<line x1="50" y1="268.9" x2="50" y2="270.2" stroke="#231f20" stroke-width="0.7"/>
<line x1="51.9" y1="268.9" x2="51.9" y2="270.2" stroke="#231f20" stroke-width="0.7"/>
<line x1="54" y1="268.9" x2="54" y2="270.2" stroke="#231f20" stroke-width="0.7"/>
<line x1="56.5" y1="268.9" x2="56.5" y2="270.2" stroke="#231f20" stroke-width="0.7"/>
<line x1="59" y1="268.9" x2="59" y2="270.2" stroke="#231f20" stroke-width="0.7"/>
<line x1="62" y1="268.9" x2="62" y2="270.2" stroke="#231f20" stroke-width="0.7"/>
<line x1="65.5" y1="268.9" x2="65.5" y2="270.2" stroke="#231f20" stroke-width="0.7"/>
<line x1="69" y1="268.9" x2="69" y2="270.2" stroke="#231f20" stroke-width="0.7"/>
<line x1="72.5" y1="268.9" x2="72.5" y2="270.2" stroke="#231f20" stroke-width="0.7"/>
<line x1="76" y1="268.9" x2="76" y2="270.2" stroke="#231f20" stroke-width="0.7"/>
<line x1="121" y1="268.9" x2="121" y2="270.9" stroke="#231f20" stroke-width="0.7"/>
<text x="51.9" y="281.2" font-size="6.6" text-anchor="middle" fill="#333" stroke="#333" stroke-width="0.08" textLength="3.0" lengthAdjust="spacingAndGlyphs">0</text>
<text x="79.9" y="281.2" font-size="6.6" text-anchor="middle" fill="#333" stroke="#333" stroke-width="0.08" textLength="5.6" lengthAdjust="spacingAndGlyphs">10</text>
<text x="82.9" y="277.6" font-size="3.6" text-anchor="start" fill="#333" stroke="#333" stroke-width="0.1">3</text>
<text x="100.2" y="281.2" font-size="6.6" text-anchor="middle" fill="#333" stroke="#333" stroke-width="0.08" textLength="5.6" lengthAdjust="spacingAndGlyphs">10</text>
<text x="103.2" y="277.6" font-size="3.6" text-anchor="start" fill="#333" stroke="#333" stroke-width="0.1">4</text>
<text x="120.3" y="281.2" font-size="6.6" text-anchor="middle" fill="#333" stroke="#333" stroke-width="0.08" textLength="5.6" lengthAdjust="spacingAndGlyphs">10</text>
<text x="123.3" y="277.6" font-size="3.6" text-anchor="start" fill="#333" stroke="#333" stroke-width="0.1">5</text>
<text x="125.7" y="192.3" font-size="7.0" text-anchor="end" fill="#6aa84f" stroke="#6aa84f" stroke-width="0" textLength="14.9" lengthAdjust="spacingAndGlyphs">+ LPS</text>
<text x="125.7" y="199.7" font-size="7.0" text-anchor="end" fill="#6aa84f" stroke="#6aa84f" stroke-width="0" textLength="13.1" lengthAdjust="spacingAndGlyphs">6 hrs</text>
<text x="128.5" y="212.9" font-size="7.0" text-anchor="end" fill="#b3434b" stroke="#b3434b" stroke-width="0" textLength="17.7" lengthAdjust="spacingAndGlyphs">+ PGN</text>
<text x="128.5" y="221.1" font-size="7.0" text-anchor="end" fill="#b3434b" stroke="#b3434b" stroke-width="0" textLength="13.6" lengthAdjust="spacingAndGlyphs">6 hrs</text>
<text x="128.2" y="238.0" font-size="7.0" text-anchor="end" fill="#7a5c87" stroke="#7a5c87" stroke-width="0" textLength="21.6" lengthAdjust="spacingAndGlyphs">Unstim.</text>
<text x="127.4" y="259.2" font-size="7.0" text-anchor="end" fill="#e2a048" stroke="#e2a048" stroke-width="0" textLength="20.8" lengthAdjust="spacingAndGlyphs">isotype</text>
<text x="28.0" y="250.0" font-size="8.8" text-anchor="middle" fill="#231f20" stroke="#231f20" stroke-width="0.2" textLength="24.0" lengthAdjust="spacingAndGlyphs" transform="rotate(-90 28.0 250.0)">% Max</text>
<line x1="33.1" y1="272.8" x2="33.1" y2="228.5" stroke="#666" stroke-width="0.9"/>
<path d="M33.1 223.2 L30.5 229.3 L35.7 229.3 Z" fill="#231f20"/>
<text x="14.3" y="282.7" font-size="8.9" text-anchor="start" fill="#231f20" stroke="#231f20" stroke-width="0.2" textLength="26.0" lengthAdjust="spacingAndGlyphs">CD14+</text>
<text x="16.9" y="293.6" font-size="9.4" text-anchor="start" fill="#231f20" stroke="#231f20" stroke-width="0.2" textLength="21.5" lengthAdjust="spacingAndGlyphs">PBMC</text>
<line x1="45.5" y1="285.3" x2="98" y2="285.3" stroke="#231f20" stroke-width="0.9"/>
<path d="M102.6 285.3 L96.9 282.8 L96.9 287.8 Z" fill="#231f20"/>
<text x="58.4" y="296.6" font-size="8.4" text-anchor="start" fill="#231f20" stroke="#231f20" stroke-width="0.2" textLength="31.2" lengthAdjust="spacingAndGlyphs">TF - APC</text>
<line x1="170.6" y1="179.8" x2="170.6" y2="269.2" stroke="#231f20" stroke-width="1.1"/>
<line x1="170.1" y1="268.8" x2="259" y2="268.8" stroke="#231f20" stroke-width="1.1"/>
<line x1="167.8" y1="187.9" x2="170.6" y2="187.9" stroke="#231f20" stroke-width="0.9"/>
<text x="164.6" y="190.4" font-size="6.9" text-anchor="end" fill="#231f20" stroke="#231f20" stroke-width="0.2" textLength="9.6" lengthAdjust="spacingAndGlyphs">100</text>
<line x1="167.8" y1="208.4" x2="170.6" y2="208.4" stroke="#231f20" stroke-width="0.9"/>
<text x="164.6" y="210.9" font-size="6.9" text-anchor="end" fill="#231f20" stroke="#231f20" stroke-width="0.2" textLength="6.4" lengthAdjust="spacingAndGlyphs">75</text>
<line x1="167.8" y1="228.6" x2="170.6" y2="228.6" stroke="#231f20" stroke-width="0.9"/>
<text x="164.6" y="231.1" font-size="6.9" text-anchor="end" fill="#231f20" stroke="#231f20" stroke-width="0.2" textLength="6.4" lengthAdjust="spacingAndGlyphs">50</text>
<line x1="167.8" y1="248.6" x2="170.6" y2="248.6" stroke="#231f20" stroke-width="0.9"/>
<text x="164.6" y="251.1" font-size="6.9" text-anchor="end" fill="#231f20" stroke="#231f20" stroke-width="0.2" textLength="6.1" lengthAdjust="spacingAndGlyphs">25</text>
<line x1="167.8" y1="268.8" x2="170.6" y2="268.8" stroke="#231f20" stroke-width="0.9"/>
<text x="164.6" y="271.3" font-size="6.9" text-anchor="end" fill="#231f20" stroke="#231f20" stroke-width="0.2" textLength="2.9" lengthAdjust="spacingAndGlyphs">0</text>
<line x1="186.0" y1="268.8" x2="186.0" y2="271.4" stroke="#231f20" stroke-width="0.9"/>
<line x1="215.2" y1="268.8" x2="215.2" y2="271.4" stroke="#231f20" stroke-width="0.9"/>
<line x1="244.1" y1="268.8" x2="244.1" y2="271.4" stroke="#231f20" stroke-width="0.9"/>
<text x="175.0" y="281.2" font-size="7.2" text-anchor="start" fill="#231f20" stroke="#231f20" stroke-width="0.2" textLength="21.1" lengthAdjust="spacingAndGlyphs">Unstim.</text>
<text x="209.2" y="281.2" font-size="7.2" text-anchor="start" fill="#231f20" stroke="#231f20" stroke-width="0.2" textLength="11.7" lengthAdjust="spacingAndGlyphs">PGN</text>
<text x="238.8" y="281.2" font-size="7.2" text-anchor="start" fill="#231f20" stroke="#231f20" stroke-width="0.2" textLength="10.2" lengthAdjust="spacingAndGlyphs">LPS</text>
<text x="147.8" y="224.3" font-size="8.7" text-anchor="middle" fill="#231f20" stroke="#231f20" stroke-width="0.2" textLength="130.0" lengthAdjust="spacingAndGlyphs" transform="rotate(-90 147.8 224.3)">TF producing monocytes (%CD14+)</text>
<path d="M184.5 188.5 L184.5 184.6 L244.2 184.6 L244.2 188.5" fill="none" stroke="#231f20" stroke-width="0.9"/>
<path d="M184.5 199 L184.5 192.3 L213.8 192.3 L213.8 195.6" fill="none" stroke="#231f20" stroke-width="0.9"/>
<path d="M215.6 195.4 L215.6 192.3 L244.2 192.3 L244.2 195.2" fill="none" stroke="#231f20" stroke-width="0.9"/>
<text x="214.2" y="189.9" font-size="6.2" text-anchor="middle" fill="#222" stroke="#222" stroke-width="0.15" textLength="10.8" lengthAdjust="spacingAndGlyphs">****</text>
<text x="199.6" y="198.0" font-size="6.2" text-anchor="middle" fill="#222" stroke="#222" stroke-width="0.15" textLength="10.3" lengthAdjust="spacingAndGlyphs">****</text>
<text x="230.0" y="197.3" font-size="5.8" text-anchor="middle" fill="#333" stroke="#333" stroke-width="0.1" textLength="6.6" lengthAdjust="spacingAndGlyphs">ns</text>
<text x="270.9" y="172.0" font-size="11.8" text-anchor="start" fill="#231f20" stroke="#231f20" stroke-width="0.2" textLength="6.9" lengthAdjust="spacingAndGlyphs">D</text>
<line x1="292.3" y1="179.8" x2="292.3" y2="269.2" stroke="#231f20" stroke-width="1.1"/>
<line x1="291.8" y1="269.1" x2="381.5" y2="269.1" stroke="#231f20" stroke-width="1.1"/>
<line x1="289.4" y1="269.1" x2="292.3" y2="269.1" stroke="#231f20" stroke-width="0.9"/>
<text x="287.0" y="271.1" font-size="6.0" text-anchor="end" fill="#231f20" stroke="#231f20" stroke-width="0.2" textLength="3.2" lengthAdjust="spacingAndGlyphs">0</text>
<line x1="289.4" y1="249.25000000000003" x2="292.3" y2="249.25000000000003" stroke="#231f20" stroke-width="0.9"/>
<text x="287.0" y="251.25" font-size="6.0" text-anchor="end" fill="#231f20" stroke="#231f20" stroke-width="0.2" textLength="3.2" lengthAdjust="spacingAndGlyphs">1</text>
<line x1="289.4" y1="229.40000000000003" x2="292.3" y2="229.40000000000003" stroke="#231f20" stroke-width="0.9"/>
<text x="287.0" y="231.4" font-size="6.0" text-anchor="end" fill="#231f20" stroke="#231f20" stroke-width="0.2" textLength="3.2" lengthAdjust="spacingAndGlyphs">2</text>
<line x1="289.4" y1="209.55" x2="292.3" y2="209.55" stroke="#231f20" stroke-width="0.9"/>
<text x="287.0" y="211.55" font-size="6.0" text-anchor="end" fill="#231f20" stroke="#231f20" stroke-width="0.2" textLength="3.2" lengthAdjust="spacingAndGlyphs">3</text>
<line x1="289.4" y1="189.70000000000002" x2="292.3" y2="189.70000000000002" stroke="#231f20" stroke-width="0.9"/>
<text x="287.0" y="191.7" font-size="6.0" text-anchor="end" fill="#231f20" stroke="#231f20" stroke-width="0.2" textLength="3.2" lengthAdjust="spacingAndGlyphs">4</text>
<line x1="309.8" y1="269.1" x2="309.8" y2="271.6" stroke="#231f20" stroke-width="0.9"/>
<line x1="336.9" y1="269.1" x2="336.9" y2="271.6" stroke="#231f20" stroke-width="0.9"/>
<line x1="363.9" y1="269.1" x2="363.9" y2="271.6" stroke="#231f20" stroke-width="0.9"/>
<text x="299.6" y="281.1" font-size="6.6" text-anchor="start" fill="#231f20" stroke="#231f20" stroke-width="0.2" textLength="20.8" lengthAdjust="spacingAndGlyphs">Unstim.</text>
<text x="331.2" y="281.1" font-size="6.6" text-anchor="start" fill="#231f20" stroke="#231f20" stroke-width="0.2" textLength="11.8" lengthAdjust="spacingAndGlyphs">PGN</text>
<text x="358.8" y="281.1" font-size="6.6" text-anchor="start" fill="#231f20" stroke="#231f20" stroke-width="0.2" textLength="10.4" lengthAdjust="spacingAndGlyphs">LPS</text>
<text x="277.3" y="224.3" font-size="8.6" text-anchor="middle" fill="#231f20" stroke="#231f20" stroke-width="0.2" textLength="96.8" lengthAdjust="spacingAndGlyphs" transform="rotate(-90 277.3 224.3)">TF expression (RFI, x 10e3)</text>
<path d="M307.3 185.2 L307.3 182.5 L366.9 182.5 L366.9 185.2" fill="none" stroke="#231f20" stroke-width="0.9"/>
<path d="M307.3 197 L307.3 189.1 L336.1 189.1 L336.1 192.6" fill="none" stroke="#231f20" stroke-width="0.9"/>
<path d="M338 191.7 L338 189.1 L366.9 189.1 L366.9 191.7" fill="none" stroke="#231f20" stroke-width="0.9"/>
<text x="336.9" y="187.2" font-size="6.2" text-anchor="middle" fill="#222" stroke="#222" stroke-width="0.15" textLength="11.0" lengthAdjust="spacingAndGlyphs">****</text>
<text x="321.9" y="195.0" font-size="6.2" text-anchor="middle" fill="#222" stroke="#222" stroke-width="0.15" textLength="10.6" lengthAdjust="spacingAndGlyphs">****</text>
<text x="352.2" y="195.1" font-size="5.8" text-anchor="middle" fill="#333" stroke="#333" stroke-width="0.1" textLength="6.6" lengthAdjust="spacingAndGlyphs">ns</text>
<path fill="#31598f" stroke="#050508" stroke-width="0.95" stroke-linejoin="round" d="M214.8 202.5l1.9 3.4h-3.9zM213.7 205.2l1.9 3.4h-3.9zM216.7 206.1l1.9 3.4h-3.9zM213.5 208.5l1.9 3.4h-3.9zM218.1 209.3l1.9 3.4h-3.9zM210.2 212.6l1.9 3.4h-3.9zM214.4 211.5l1.9 3.4h-3.9zM218.8 212.1l1.9 3.4h-3.9zM222.5 211.3l1.9 3.4h-3.9zM209.3 215.0l1.9 3.4h-3.9zM217.2 215.7l1.9 3.4h-3.9zM221.5 216.0l1.9 3.4h-3.9zM207.7 218.5l1.9 3.4h-3.9zM211.8 218.0l1.9 3.4h-3.9zM214.7 219.4l1.9 3.4h-3.9zM219.4 218.3l1.9 3.4h-3.9zM223.0 218.4l1.9 3.4h-3.9zM207.3 222.6l1.9 3.4h-3.9zM211.9 222.5l1.9 3.4h-3.9zM215.5 221.4l1.9 3.4h-3.9zM219.9 222.6l1.9 3.4h-3.9zM223.5 221.5l1.9 3.4h-3.9zM207.3 224.9l1.9 3.4h-3.9zM216.0 224.6l1.9 3.4h-3.9zM219.1 224.7l1.9 3.4h-3.9zM223.6 225.8l1.9 3.4h-3.9zM210.5 228.9l1.9 3.4h-3.9zM215.8 229.3l1.9 3.4h-3.9zM220.0 228.2l1.9 3.4h-3.9zM206.5 231.4l1.9 3.4h-3.9zM211.4 231.3l1.9 3.4h-3.9zM218.9 232.6l1.9 3.4h-3.9zM223.0 231.8l1.9 3.4h-3.9zM207.4 235.3l1.9 3.4h-3.9zM211.4 235.8l1.9 3.4h-3.9zM215.1 235.5l1.9 3.4h-3.9zM218.9 235.9l1.9 3.4h-3.9zM223.3 234.4l1.9 3.4h-3.9zM208.3 237.7l1.9 3.4h-3.9zM212.4 237.7l1.9 3.4h-3.9zM216.1 238.7l1.9 3.4h-3.9zM220.5 238.8l1.9 3.4h-3.9zM211.0 241.2l1.9 3.4h-3.9zM217.0 242.2l1.9 3.4h-3.9zM213.2 244.3l1.9 3.4h-3.9zM216.8 245.4l1.9 3.4h-3.9zM214.2 247.3l1.9 3.4h-3.9zM218.4 248.5l1.9 3.4h-3.9zM211.9 250.7l1.9 3.4h-3.9zM215.1 251.8l1.9 3.4h-3.9zM213.9 253.6l1.9 3.4h-3.9zM216.4 255.1l1.9 3.4h-3.9zM214.6 256.6l1.9 3.4h-3.9zM217.7 258.1l1.9 3.4h-3.9zM212.6 259.8l1.9 3.4h-3.9zM214.5 261.3l1.9 3.4h-3.9zM181.9 261.5l1.8 3.0h-3.5zM185.1 261.9l1.8 3.0h-3.5zM188.7 261.7l1.8 3.0h-3.5zM179.6 263.5l1.8 3.0h-3.5zM182.6 263.6l1.8 3.0h-3.5zM186.0 263.8l1.8 3.0h-3.5zM189.5 263.8l1.8 3.0h-3.5zM192.5 263.6l1.8 3.0h-3.5zM177.6 265.1l1.8 3.0h-3.5zM184.0 265.4l1.8 3.0h-3.5zM187.1 265.1l1.8 3.0h-3.5zM189.9 265.4l1.8 3.0h-3.5zM193.1 265.5l1.8 3.0h-3.5zM337.7 227.8l1.8 3.0h-3.5zM337.4 230.4l1.8 3.0h-3.5zM336.0 233.1l1.8 3.0h-3.5zM338.5 232.7l1.8 3.0h-3.5zM335.9 235.5l1.8 3.0h-3.5zM339.4 235.1l1.8 3.0h-3.5zM334.0 237.8l1.8 3.0h-3.5zM337.5 237.6l1.8 3.0h-3.5zM340.8 238.0l1.8 3.0h-3.5zM335.0 240.4l1.8 3.0h-3.5zM338.3 240.8l1.8 3.0h-3.5zM341.1 240.5l1.8 3.0h-3.5zM334.3 243.3l1.8 3.0h-3.5zM337.1 243.2l1.8 3.0h-3.5zM340.8 242.9l1.8 3.0h-3.5zM332.3 245.7l1.8 3.0h-3.5zM336.1 245.8l1.8 3.0h-3.5zM338.4 245.2l1.8 3.0h-3.5zM342.1 245.8l1.8 3.0h-3.5zM332.3 248.3l1.8 3.0h-3.5zM335.6 248.2l1.8 3.0h-3.5zM330.8 250.3l1.8 3.0h-3.5zM334.3 250.0l1.8 3.0h-3.5zM337.1 250.5l1.8 3.0h-3.5zM340.4 250.9l1.8 3.0h-3.5zM343.4 250.1l1.8 3.0h-3.5zM331.2 252.6l1.8 3.0h-3.5zM334.5 252.6l1.8 3.0h-3.5zM337.1 253.2l1.8 3.0h-3.5zM340.1 253.1l1.8 3.0h-3.5zM343.7 252.7l1.8 3.0h-3.5zM332.2 255.6l1.8 3.0h-3.5zM334.5 255.5l1.8 3.0h-3.5zM338.2 255.7l1.8 3.0h-3.5zM340.8 255.6l1.8 3.0h-3.5zM343.9 255.9l1.8 3.0h-3.5zM330.6 258.4l1.8 3.0h-3.5zM333.9 258.2l1.8 3.0h-3.5zM337.3 258.1l1.8 3.0h-3.5zM340.1 257.6l1.8 3.0h-3.5zM332.0 260.5l1.8 3.0h-3.5zM334.7 260.2l1.8 3.0h-3.5zM338.3 260.0l1.8 3.0h-3.5zM340.8 260.7l1.8 3.0h-3.5zM344.0 260.4l1.8 3.0h-3.5zM331.3 262.8l1.8 3.0h-3.5zM333.7 262.7l1.8 3.0h-3.5zM343.6 262.7l1.8 3.0h-3.5zM337.0 218.3l1.8 3.0h-3.5zM309.3 258.9l1.7 3.0h-3.4zM312.3 259.0l1.7 3.0h-3.4zM306.7 260.7l1.7 3.0h-3.4zM310.1 260.9l1.7 3.0h-3.4zM312.6 261.0l1.7 3.0h-3.4zM315.9 260.5l1.7 3.0h-3.4zM308.8 262.3l1.7 3.0h-3.4zM312.4 262.4l1.7 3.0h-3.4zM315.1 262.8l1.7 3.0h-3.4zM318.4 262.3l1.7 3.0h-3.4zM303.9 264.7l1.7 3.0h-3.4zM310.1 264.2l1.7 3.0h-3.4zM312.7 264.6l1.7 3.0h-3.4zM315.6 264.6l1.7 3.0h-3.4zM319.1 264.5l1.7 3.0h-3.4zM303.0 266.2l1.7 3.0h-3.4zM306.3 266.2l1.7 3.0h-3.4zM308.9 266.4l1.7 3.0h-3.4zM312.2 266.1l1.7 3.0h-3.4zM314.9 266.4l1.7 3.0h-3.4z"/>
<path fill="#31598f" stroke="#050508" stroke-width="0.95" stroke-linejoin="round" d="M244.3 201.1l1.9 -3.4h-3.9zM243.9 203.6l1.9 -3.4h-3.9zM244.1 206.8l1.9 -3.4h-3.9zM247.3 207.6l1.9 -3.4h-3.9zM240.9 209.7l1.9 -3.4h-3.9zM244.4 211.1l1.9 -3.4h-3.9zM243.6 212.6l1.9 -3.4h-3.9zM245.4 214.2l1.9 -3.4h-3.9zM236.9 216.3l1.9 -3.4h-3.9zM240.1 217.0l1.9 -3.4h-3.9zM244.2 216.4l1.9 -3.4h-3.9zM248.3 217.2l1.9 -3.4h-3.9zM251.6 217.3l1.9 -3.4h-3.9zM237.2 219.7l1.9 -3.4h-3.9zM241.1 219.4l1.9 -3.4h-3.9zM244.9 220.1l1.9 -3.4h-3.9zM248.1 219.6l1.9 -3.4h-3.9zM251.7 220.0l1.9 -3.4h-3.9zM236.9 222.4l1.9 -3.4h-3.9zM240.7 223.8l1.9 -3.4h-3.9zM245.0 223.3l1.9 -3.4h-3.9zM251.9 222.8l1.9 -3.4h-3.9zM236.4 226.3l1.9 -3.4h-3.9zM240.6 226.2l1.9 -3.4h-3.9zM245.0 226.4l1.9 -3.4h-3.9zM248.2 226.0l1.9 -3.4h-3.9zM252.9 225.9l1.9 -3.4h-3.9zM237.1 230.2l1.9 -3.4h-3.9zM239.6 229.9l1.9 -3.4h-3.9zM243.7 229.4l1.9 -3.4h-3.9zM248.4 229.6l1.9 -3.4h-3.9zM252.8 228.9l1.9 -3.4h-3.9zM239.8 232.4l1.9 -3.4h-3.9zM245.0 232.4l1.9 -3.4h-3.9zM248.1 232.7l1.9 -3.4h-3.9zM252.6 233.2l1.9 -3.4h-3.9zM236.9 236.1l1.9 -3.4h-3.9zM241.5 236.7l1.9 -3.4h-3.9zM244.7 235.8l1.9 -3.4h-3.9zM249.6 236.8l1.9 -3.4h-3.9zM253.9 236.5l1.9 -3.4h-3.9zM236.2 239.6l1.9 -3.4h-3.9zM240.3 240.0l1.9 -3.4h-3.9zM244.0 239.7l1.9 -3.4h-3.9zM247.7 239.5l1.9 -3.4h-3.9zM253.0 240.3l1.9 -3.4h-3.9zM238.0 243.4l1.9 -3.4h-3.9zM241.3 242.3l1.9 -3.4h-3.9zM245.7 243.6l1.9 -3.4h-3.9zM249.7 243.3l1.9 -3.4h-3.9zM252.8 243.1l1.9 -3.4h-3.9zM242.8 245.4l1.9 -3.4h-3.9zM248.0 246.6l1.9 -3.4h-3.9zM240.6 248.5l1.9 -3.4h-3.9zM245.8 249.8l1.9 -3.4h-3.9zM241.7 252.1l1.9 -3.4h-3.9zM245.8 253.3l1.9 -3.4h-3.9zM243.9 255.2l1.9 -3.4h-3.9zM248.3 256.3l1.9 -3.4h-3.9zM241.9 257.9l1.9 -3.4h-3.9zM245.4 259.4l1.9 -3.4h-3.9zM243.2 261.1l1.9 -3.4h-3.9zM246.3 262.8l1.9 -3.4h-3.9zM243.8 264.3l1.9 -3.4h-3.9zM246.8 265.8l1.9 -3.4h-3.9zM361.7 239.7l1.8 -3.0h-3.5zM365.4 240.1l1.8 -3.0h-3.5zM363.1 242.4l1.8 -3.0h-3.5zM365.6 242.2l1.8 -3.0h-3.5zM361.7 244.9l1.8 -3.0h-3.5zM365.2 244.5l1.8 -3.0h-3.5zM361.0 247.6l1.8 -3.0h-3.5zM363.9 247.6l1.8 -3.0h-3.5zM367.9 247.8l1.8 -3.0h-3.5zM357.5 249.9l1.8 -3.0h-3.5zM361.0 250.0l1.8 -3.0h-3.5zM364.0 249.8l1.8 -3.0h-3.5zM366.9 249.3l1.8 -3.0h-3.5zM370.0 249.8l1.8 -3.0h-3.5zM358.1 252.0l1.8 -3.0h-3.5zM360.8 252.3l1.8 -3.0h-3.5zM364.3 252.4l1.8 -3.0h-3.5zM367.9 252.0l1.8 -3.0h-3.5zM370.7 251.9l1.8 -3.0h-3.5zM355.6 254.4l1.8 -3.0h-3.5zM359.4 254.7l1.8 -3.0h-3.5zM362.2 254.5l1.8 -3.0h-3.5zM365.3 255.3l1.8 -3.0h-3.5zM368.5 254.7l1.8 -3.0h-3.5zM371.8 255.2l1.8 -3.0h-3.5zM358.4 257.3l1.8 -3.0h-3.5zM370.2 257.3l1.8 -3.0h-3.5zM357.4 259.7l1.8 -3.0h-3.5zM360.3 259.8l1.8 -3.0h-3.5zM363.5 259.5l1.8 -3.0h-3.5zM366.9 259.7l1.8 -3.0h-3.5zM369.8 259.9l1.8 -3.0h-3.5zM356.9 262.0l1.8 -3.0h-3.5zM360.1 262.3l1.8 -3.0h-3.5zM363.3 262.0l1.8 -3.0h-3.5zM366.4 261.9l1.8 -3.0h-3.5zM358.9 264.4l1.8 -3.0h-3.5zM365.1 265.0l1.8 -3.0h-3.5zM359.6 266.9l1.8 -3.0h-3.5zM362.5 266.9l1.8 -3.0h-3.5zM365.6 267.4l1.8 -3.0h-3.5zM368.6 266.9l1.8 -3.0h-3.5zM363.5 227.6l1.8 -3.0h-3.5zM363.5 233.6l1.8 -3.0h-3.5z"/>
<path fill="#b02a37" stroke="#4a0c12" stroke-width="0.6" d="M183.8 219.5h3.0v3.0h-3.0zM183.8 233.5h3.0v3.0h-3.0zM183.8 242.5h3.0v3.0h-3.0zM183.8 251.1h3.0v3.0h-3.0zM183.8 253.7h3.0v3.0h-3.0zM183.8 256.1h3.0v3.0h-3.0zM183.8 258.3h3.0v3.0h-3.0zM183.8 260.5h3.0v3.0h-3.0zM309.0 254.4h3.2v3.2h-3.2zM309.0 257.0h3.2v3.2h-3.2z"/>
<path fill="#b02a37" stroke="#4a0c12" stroke-width="0.6" d="M337.0 195.0l1.6 2.8h-3.2zM364.1 222.6l1.6 -2.8h-3.2z"/>
<line x1="205.0" y1="231.4" x2="225.2" y2="231.4" stroke="#b4b4b4" stroke-width="1.0"/>
<line x1="234.8" y1="230.2" x2="254.4" y2="230.2" stroke="#b4b4b4" stroke-width="1.0"/>
<line x1="215.2" y1="219.8" x2="215.2" y2="243.2" stroke="#b4b4b4" stroke-width="0.8"/>
<line x1="212.2" y1="219.8" x2="218.2" y2="219.8" stroke="#b4b4b4" stroke-width="0.8"/>
<line x1="212.2" y1="243.2" x2="218.2" y2="243.2" stroke="#b4b4b4" stroke-width="0.8"/>
<line x1="244.3" y1="218.6" x2="244.3" y2="242.0" stroke="#b4b4b4" stroke-width="0.8"/>
<line x1="241.3" y1="218.6" x2="247.3" y2="218.6" stroke="#b4b4b4" stroke-width="0.8"/>
<line x1="241.3" y1="242.0" x2="247.3" y2="242.0" stroke="#b4b4b4" stroke-width="0.8"/>
<line x1="177" y1="266.4" x2="194" y2="266.4" stroke="#a0a0a0" stroke-width="0.8"/>
<line x1="328.8" y1="253.8" x2="346.0" y2="253.8" stroke="#b4b4b4" stroke-width="1.0"/>
<line x1="337.0" y1="244.5" x2="337.0" y2="261.2" stroke="#b4b4b4" stroke-width="0.8"/>
<line x1="334.2" y1="244.5" x2="339.8" y2="244.5" stroke="#b4b4b4" stroke-width="0.8"/>
<line x1="334.2" y1="261.2" x2="339.8" y2="261.2" stroke="#b4b4b4" stroke-width="0.8"/>
<line x1="355.0" y1="253.8" x2="372.4" y2="253.8" stroke="#b4b4b4" stroke-width="1.0"/>
<line x1="363.6" y1="244.4" x2="363.6" y2="262.0" stroke="#b4b4b4" stroke-width="0.8"/>
<line x1="360.8" y1="244.4" x2="366.4" y2="244.4" stroke="#b4b4b4" stroke-width="0.8"/>
<line x1="360.8" y1="262.0" x2="366.4" y2="262.0" stroke="#b4b4b4" stroke-width="0.8"/>
<line x1="302" y1="266.2" x2="319" y2="266.2" stroke="#a0a0a0" stroke-width="0.8"/>
<text x="392.1" y="172.0" font-size="12.3" text-anchor="start" fill="#231f20" stroke="#231f20" stroke-width="0.2" textLength="5.3" lengthAdjust="spacingAndGlyphs">E</text>
<line x1="419.1" y1="178.2" x2="419.1" y2="269.5" stroke="#231f20" stroke-width="1.1"/>
<line x1="418.5" y1="269.0" x2="510.4" y2="269.0" stroke="#231f20" stroke-width="1.1"/>
<line x1="416.2" y1="180.9" x2="419.0" y2="180.9" stroke="#231f20" stroke-width="0.9"/>
<text x="413.3" y="183.1" font-size="6.3" text-anchor="end" fill="#231f20" stroke="#231f20" stroke-width="0.2" textLength="8.7" lengthAdjust="spacingAndGlyphs">3.5</text>
<line x1="417.6" y1="191.9" x2="419.0" y2="191.9" stroke="#231f20" stroke-width="0.8"/>
<line x1="416.2" y1="203.0" x2="419.0" y2="203.0" stroke="#231f20" stroke-width="0.9"/>
<text x="413.3" y="205.2" font-size="6.3" text-anchor="end" fill="#231f20" stroke="#231f20" stroke-width="0.2" textLength="8.7" lengthAdjust="spacingAndGlyphs">3.0</text>
<line x1="417.6" y1="214.0" x2="419.0" y2="214.0" stroke="#231f20" stroke-width="0.8"/>
<line x1="416.2" y1="225.0" x2="419.0" y2="225.0" stroke="#231f20" stroke-width="0.9"/>
<text x="413.3" y="227.2" font-size="6.3" text-anchor="end" fill="#231f20" stroke="#231f20" stroke-width="0.2" textLength="8.7" lengthAdjust="spacingAndGlyphs">2.5</text>
<line x1="417.6" y1="236.0" x2="419.0" y2="236.0" stroke="#231f20" stroke-width="0.8"/>
<line x1="416.2" y1="246.9" x2="419.0" y2="246.9" stroke="#231f20" stroke-width="0.9"/>
<text x="413.3" y="249.1" font-size="6.3" text-anchor="end" fill="#231f20" stroke="#231f20" stroke-width="0.2" textLength="8.7" lengthAdjust="spacingAndGlyphs">2.0</text>
<line x1="417.6" y1="257.9" x2="419.0" y2="257.9" stroke="#231f20" stroke-width="0.8"/>
<line x1="416.2" y1="268.8" x2="419.0" y2="268.8" stroke="#231f20" stroke-width="0.9"/>
<text x="413.3" y="271.0" font-size="6.3" text-anchor="end" fill="#231f20" stroke="#231f20" stroke-width="0.2" textLength="8.7" lengthAdjust="spacingAndGlyphs">1.5</text>
<line x1="418.8" y1="269.2" x2="418.8" y2="271.9" stroke="#231f20" stroke-width="0.9"/>
<text x="419.40000000000003" y="281.2" font-size="6.3" text-anchor="middle" fill="#231f20" stroke="#231f20" stroke-width="0.2" textLength="7.8" lengthAdjust="spacingAndGlyphs">1.5</text>
<line x1="436.6" y1="269.2" x2="436.6" y2="271.9" stroke="#231f20" stroke-width="0.9"/>
<text x="437.20000000000005" y="281.2" font-size="6.3" text-anchor="middle" fill="#231f20" stroke="#231f20" stroke-width="0.2" textLength="7.8" lengthAdjust="spacingAndGlyphs">2.0</text>
<line x1="454.4" y1="269.2" x2="454.4" y2="271.9" stroke="#231f20" stroke-width="0.9"/>
<text x="455.0" y="281.2" font-size="6.3" text-anchor="middle" fill="#231f20" stroke="#231f20" stroke-width="0.2" textLength="7.8" lengthAdjust="spacingAndGlyphs">2.5</text>
<line x1="472.2" y1="269.2" x2="472.2" y2="271.9" stroke="#231f20" stroke-width="0.9"/>
<text x="472.8" y="281.2" font-size="6.3" text-anchor="middle" fill="#231f20" stroke="#231f20" stroke-width="0.2" textLength="7.8" lengthAdjust="spacingAndGlyphs">3.0</text>
<line x1="490.0" y1="269.2" x2="490.0" y2="271.9" stroke="#231f20" stroke-width="0.9"/>
<text x="490.6" y="281.2" font-size="6.3" text-anchor="middle" fill="#231f20" stroke="#231f20" stroke-width="0.2" textLength="7.8" lengthAdjust="spacingAndGlyphs">3.5</text>
<line x1="507.8" y1="269.2" x2="507.8" y2="271.9" stroke="#231f20" stroke-width="0.9"/>
<text x="508.40000000000003" y="281.2" font-size="6.3" text-anchor="middle" fill="#231f20" stroke="#231f20" stroke-width="0.2" textLength="7.8" lengthAdjust="spacingAndGlyphs">4.0</text>
<text x="398.4" y="228.3" font-size="8.9" text-anchor="middle" fill="#231f20" stroke="#231f20" stroke-width="0.2" textLength="62.6" lengthAdjust="spacingAndGlyphs" transform="rotate(-90 398.4 228.3)">LPS-induced TF</text>
<text x="433.9" y="293.3" font-size="8.9" text-anchor="start" fill="#231f20" stroke="#231f20" stroke-width="0.2" textLength="58.6" lengthAdjust="spacingAndGlyphs">PGN-induced TF</text>
<text x="504.0" y="255.8" font-size="6.3" text-anchor="end" fill="#231f20" stroke="#231f20" stroke-width="0.2" textLength="47.6" lengthAdjust="spacingAndGlyphs">Pearson r = 0.762</text>
<text x="504.0" y="264.1" font-size="6.3" text-anchor="end" fill="#231f20" stroke="#231f20" stroke-width="0.2" textLength="29.4" lengthAdjust="spacingAndGlyphs">p &lt; 0.0001</text>
<g fill="#a31f2f"><circle cx="492" cy="186.1" r="1.05"/><circle cx="481.8" cy="187.7" r="1.05"/><circle cx="486" cy="191.8" r="1.05"/><circle cx="482.2" cy="195.3" r="1.05"/><circle cx="463.9" cy="195.7" r="1.05"/><circle cx="468.7" cy="195.9" r="1.05"/><circle cx="474.6" cy="196.2" r="1.05"/><circle cx="477.9" cy="195.7" r="1.05"/><circle cx="471.8" cy="198.6" r="1.05"/><circle cx="467.4" cy="200.5" r="1.05"/><circle cx="457.9" cy="202.7" r="1.05"/><circle cx="464.8" cy="203.1" r="1.05"/><circle cx="469.4" cy="200.9" r="1.05"/><circle cx="481.2" cy="202.7" r="1.05"/><circle cx="462.2" cy="205.4" r="1.05"/><circle cx="463.5" cy="207.1" r="1.05"/><circle cx="460.2" cy="206.4" r="1.05"/><circle cx="468.7" cy="206.4" r="1.05"/><circle cx="473.3" cy="205.8" r="1.05"/><circle cx="478.6" cy="206.4" r="1.05"/><circle cx="480.5" cy="207.7" r="1.05"/><circle cx="477.3" cy="209" r="1.05"/><circle cx="479.2" cy="209.7" r="1.05"/><circle cx="469.4" cy="212.3" r="1.05"/><circle cx="472" cy="212.3" r="1.05"/><circle cx="458.9" cy="209" r="1.05"/><circle cx="476.6" cy="213.6" r="1.05"/><circle cx="457.6" cy="213.6" r="1.05"/><circle cx="458.1" cy="202.6" r="1.05"/><circle cx="460.8" cy="205.9" r="1.05"/><circle cx="458.8" cy="208.9" r="1.05"/><circle cx="450.9" cy="211.5" r="1.05"/><circle cx="454.2" cy="213.1" r="1.05"/><circle cx="458.1" cy="213.7" r="1.05"/><circle cx="468" cy="212.4" r="1.05"/><circle cx="473.8" cy="217.7" r="1.05"/><circle cx="462.7" cy="220.3" r="1.05"/><circle cx="465.3" cy="220.9" r="1.05"/><circle cx="461.4" cy="223.3" r="1.05"/><circle cx="466" cy="223.6" r="1.05"/><circle cx="445" cy="222" r="1.05"/><circle cx="459.4" cy="226.2" r="1.05"/><circle cx="451.6" cy="227.5" r="1.05"/><circle cx="443.1" cy="228.5" r="1.05"/><circle cx="452.9" cy="232.1" r="1.05"/><circle cx="450.9" cy="234.3" r="1.05"/><circle cx="443.7" cy="234.3" r="1.05"/><circle cx="443.1" cy="238" r="1.05"/><circle cx="447.7" cy="238.6" r="1.05"/><circle cx="445.9" cy="226" r="1.05"/><circle cx="451.8" cy="227" r="1.05"/><circle cx="459.7" cy="226" r="1.05"/><circle cx="442.7" cy="228.9" r="1.05"/><circle cx="444" cy="233.9" r="1.05"/><circle cx="451.2" cy="234.2" r="1.05"/><circle cx="453.5" cy="232.9" r="1.05"/><circle cx="434.8" cy="249.9" r="1.05"/><circle cx="468.5" cy="195.7" r="1.05"/><circle cx="475.1" cy="196.3" r="1.05"/><circle cx="471.8" cy="197.6" r="1.05"/><circle cx="467.9" cy="200.9" r="1.05"/><circle cx="464.6" cy="202.8" r="1.05"/><circle cx="480.3" cy="203.5" r="1.05"/><circle cx="479" cy="207.4" r="1.05"/><circle cx="476.4" cy="208.7" r="1.05"/><circle cx="478.3" cy="210" r="1.05"/><circle cx="473.1" cy="208.1" r="1.05"/><circle cx="468.5" cy="208.1" r="1.05"/><circle cx="469.8" cy="212" r="1.05"/><circle cx="477" cy="213.3" r="1.05"/><circle cx="473.8" cy="217.9" r="1.05"/><circle cx="463.3" cy="220.5" r="1.05"/><circle cx="464" cy="222.5" r="1.05"/><circle cx="466.6" cy="223.1" r="1.05"/></g>
<path d="M434.6 236.5 L492.5 190.5" stroke="#111" stroke-width="1.2" fill="none"/>
<path d="M434.6 231.1 Q465 209.8 492.5 185.1" stroke="#222" stroke-width="0.7" fill="none"/>
<path d="M434.6 242.2 Q465 215.2 492.5 194.9" stroke="#222" stroke-width="0.7" fill="none"/>
<rect x="0" y="1" width="520" height="1" fill="#a0a0a0"/>
<rect x="0" y="304" width="520" height="1" fill="#9a9a9a"/>
<rect x="1" y="0" width="1" height="306" fill="#8a8a8a"/>
<rect x="0" y="0" width="520" height="1" fill="#454545"/>
<rect x="0" y="305" width="520" height="1" fill="#4a4a4a"/>
<rect x="0" y="0" width="1" height="306" fill="#4a4a4a"/>
<rect x="519" y="1" width="1" height="305" fill="#000"/>
</svg>
</body></html>
